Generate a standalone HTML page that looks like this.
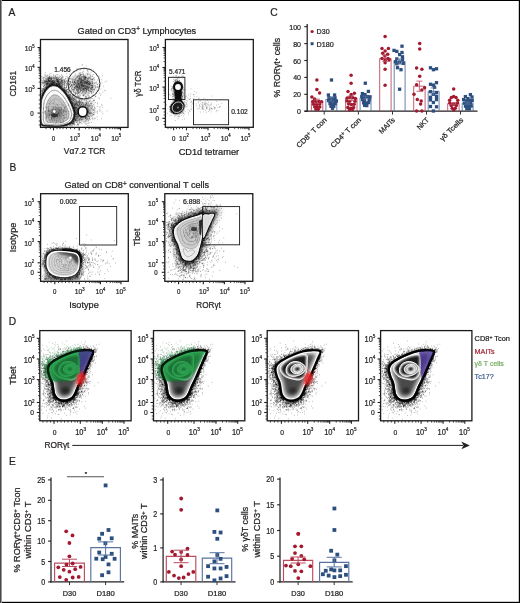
<!DOCTYPE html>
<html><head><meta charset="utf-8"><title>Figure</title>
<style>html,body{margin:0;padding:0;background:#fff;}svg{display:block;will-change:transform;}</style>
</head><body>
<svg width="520" height="603" viewBox="0 0 520 603" font-family='"Liberation Sans", sans-serif' fill="#231f20">
<rect x="0" y="0" width="520" height="603" fill="#fff"/>
<defs><filter id="bl1" x="-30%" y="-30%" width="160%" height="160%"><feGaussianBlur stdDeviation="1"/></filter><filter id="bl15" x="-30%" y="-30%" width="160%" height="160%"><feGaussianBlur stdDeviation="1.5"/></filter><filter id="bl05" x="-30%" y="-30%" width="160%" height="160%"><feGaussianBlur stdDeviation="0.6"/></filter><filter id="bl25" x="-50%" y="-50%" width="200%" height="200%"><feGaussianBlur stdDeviation="2.5"/></filter><filter id="bl18" x="-30%" y="-30%" width="160%" height="160%"><feGaussianBlur stdDeviation="1.8"/></filter><filter id="bl22" x="-30%" y="-30%" width="160%" height="160%"><feGaussianBlur stdDeviation="2.3"/></filter><g id="dpop"><path d="M32.5 404.6h.6m12-22.4h.6m-33.4-20.7h.6m42.5 1.4h.6m-8.4 5.2h.6m-5.6-17.5h.6m-12.7 48.8h.6m15.6-47.7h.6m-17 1.8h.6m.8-.1h.6m-4.1-2.4h.6m14.1-6.4h.6m5.8 19.6h.6m-4.6-15.6h.6m-19 4.8h.6m-19.6 13.8h.6m40.4-4.3h.6m-1.7 19.3h.6m-2.2-13.5h.6m-41.7 8.5h.6m30-26h.6m-21.1 45.6h.6m-1.7-35.3h.6m29.9 8.9h.6m-39.1-1.9h.6m36.1-17.8h.6m-28.5 56.3h.6m35.5-47h.6m-43.6 9.3h.6m33.5-19.3h.6m-30 48.3h.6m23.6-8.9h.6m-28.7 23.9h.6m23.5-15h.6m-2.6 4.7h.6m-26.4-48.3h.6m23.4-2.4h.6m13.9 30.6h.6m-7.4-32.7h.6m-29 46.6h.6m32.2-5.5h.6m-7.3 18.8h.6m17.9-58.3h.6m-1 1.2h.6m-23.6 46.6h.6m21.9-38.6h.6m-39.3 50.4h.6m-1.9-5.7h.6m-2.3-23.6h.6m12.4 20.5h.6m22.1-32.3h.6m-8.6-18.9h.6m2.1 29.3h.6m-31-2.3h.6m16.5 23.8h.6m2-48.9h.6m16-3.5h.6m-40.9 60.9h.6m-1.8-51.1h.6m10.3 41h.6m.8 3.8h.6m-7.8-7.4h.6m39-37.2h.6m-22.5-7.2h.6m20.1-1.2h.6m-38.1 28h.6m30.6-29.5h.6m-39.5 5.7h.6m28.5 44.2h.6m-27.9-27.1h.6m-3.3-13h.6m16.2 49.8h.6m-9.6-50.1h.6m26.3 27h.6m2.1-36.6h.6m-7.3 47.3h.6m-16 5.1h.6m15.5-7.3h.6m-32.2-15.4h.6m3.7-9.5h.6m26.5 32.2h.6m-28.9-18.1h.6m43.6-21.3h.6m-1.3-.1h.6m-5.9 10.9h.6m-33.5-11.8h.6m-3.5 8.8h.6m0 9.2h.6m6.7-24.3h.6m32.7 21.8h.6m-11.4 12.9h.6m-6.8-37.9h.6m10 25.2h.6m9.9-23.4h.6m-17.8 37.4h.6m-.2-40h.6m-15.4 53.4h.6m-13.5-4.6h.6m42.2-41.3h.6m-38.1 35.1h.6m-6-30.9h.6m3.3 41.6h.6m17.2-50.8h.6m18.6 6.8h.6m-43 27.7h.6m11.2 14.3h.6m2.3-3.2h.6m-15-19.6h.6m44.4-29.3h.6m-15.6 41.7h.6m-7.2 5h.6m10.4-50.2h.6m-8.2 51h.6m-26.2-8.3h.6m43.1-28.6h.6m0-10.1h.6m1.2 1.8h.6m-51.9 47h.6m4.4-30.4h.6m-2.4-12.6h.6m38.2 13h.6m-28.9-13.8h.6m-12.8 27.7h.6m3-25.7h.6m-.3 33.8h.6m44.4-39.7h.6m-46 19.1h.6m41-12.3h.6m-6.6 14.8h.6m6.7-16.6h.6m-38.1 38.7h.6m15.4-43.8h.6m-28.4 14.3h.6m7.9-3.7h.6m19.7-10.8h.6m-2.3 53h.6m22.8-52.1h.6m-40.4 38.8h.6m2.4 8.2h.6m36.9-48.9h.6m-21 1.4h.6m-14.2 54.2h.6m-8.1-47.1h.6m.2 29.4h.6m-4 4.2h.6m30.2-5.3h.6m-20.4-30.6h.6m28.7 4.9h.6m-38.1 34.3h.6m39-39.5h.6m-4.2 8.9h.6m-.5-18.7h.6m-.6 18.6h.6m-21.3 35.8h.6m22.4-43.9h.6m-10.2-8.4h.6m-37.6 13.7h.6m36.4-11.7h.6m6.4 16.9h.6m-7.8 15.8h.6m-31.4 15.9h.6m1 12.6h.6m27.8-19.2h.6m-35.5-17.6h.6m-1.3 24.5h.6m41.6-28h.6m7.4-24.2h.6m-42.9 53.8h.6m14.4 3.3h.6m18.3-55.1h.6m-18.4 52.3h.6m-19.9-16.2h.6m42.9-33.2h.6m-34.1 53.1h.6m7.9-4.7h.6m17.8-19.3h.6m-39.4-12.9h.6m-.1 25.7h.6m-5.7-28.9h.6m41.4 12.7h.6m-18.6-24.4h.6m-15.2 8.3h.6m13.9-7.1h.6m7.1-5.5h.6m-10.1 55.5h.6m-20-30.3h.6m5.7 18h.6m-3.9 8.1h.6m33.5-17.6h.6m-25.7-24.8h.6m-9.4 8.8h.6m6.8-11.7h.6m-8.1 50.1h.6m-3.7-29.5h.6m-2.3 2.9h.6m10.4-25.2h.6m-7.4 21.8h.6m24.5-24.8h.6m20.1 4.2h.6m-5 13.3h.6m-21.7 34.4h.6m-15.9-10.1h.6m38.6-34.3h.6m-18.2 38.3h.6m9.9-20.9h.6m-17.8 25h.6m-15.7-7h.6m28.5-44.4h.6m-29.1 44.8h.6m7.8-38.7h.6m13.3 41.2h.6m-15.5 13.2h.6m31-55h.6m-1.7 4.6h.6m-34.5-3.6h.6m-7.8 19.2h.6m20.9 24.8h.6m9.5-49.7h.6m-33.2 42.8h.6m7.4 4h.6m23.3-7.4h.6m-1.9-40.2h.6m-33.7 36.6h.6m22.9 12.9h.6m-27.8-33.8h.6m2.4 15.2h.6m9.8-20.5h.6m22.6 41h.6m2.4-10.1h.6m-35.4-24.7h.6m4.7-4.6h.6m-.6 47.6h.6m37-50.1h.6m-46.7 33.5h.6m36.8-1.1h.6m-36.8-15.8h.6m-.5-4.3h.6m-1 5.8h.6m1.8-17h.6m28.8 30.4h.6m-29.7-28.7h.6m9.4-6.3h.6m20.5 37.7h.6m-2.9-.5h.6m8.7-24.9h.6m-.2-1.5h.6m-3.3-16.6h.6m-4.4 36.9h.6m4.2-15.1h.6m-17.7 30h.6m15.2-30.6h.6m-37.8 31.4h.6m3-40.5h.6m32-11.1h.6m-34.3 11.1h.6m27.8 52.1h.6m-30.9-46.2h.6m.4 13.7h.6m37.9-6.7h.6m-36.7-18.1h.6m16.8-2.8h.6m-11.9 52.1h.6m3-2.8h.6m-2.3-45.9h.6m-5 .7h.6m3.4 42.3h.6m-1.7 1.9h.6m-2.1-5.5h.6m32.8-34.9h.6m6.8-10.5h.6m-4.2 5.6h.6m-45.8 21h.6m14 23.3h.6m-7.2 5.2h.6m20.3-13.2h.6m9.9-10.3h.6m-33.8 27.2h.6m4.2-6.6h.6m-8.9-26.1h.6m-2.7 11.4h.6m41.5-18h.6m-46.9-2.5h.6m18.2 32.2h.6m-5.9-1.6h.6m-1.9-3h.6m-5.2-14.5h.6m4.6 20h.6m14.8-50.3h.6m-17.9 39.8h.6m-11-23h.6m2.7-8h.6m14.4 46.4h.6m-19.2-33.9h.6m23.7-21.4h.6m2.2 51.9h.6m-4.5-2.4h.6m-11.2 3.7h.6m-10.3-45.3h.6m39.2 15.4h.6m-36.1 8h.6m5.7-23.5h.6m2.2-1.4h.6m2.5-8.4h.6m-13 12.3h.6m-5 27.5h.6m37.4-9.7h.6m-34.5-25.3h.6m23.2 41.4h.6m9-13.5h.6m-11.1 17.4h.6m11-48.8h.6m-11.3 52.2h.6m6.7-54.1h.6m1.9 39.9h.6m-2.5-37.2h.6m-9 1.3h.6m-6.7 48.2h.6m8.7-9.3h.6m-31.6 2.4h.6m12.6-38.3h.6m25.9 18.4h.6m-30.3 23.9h.6m13.2 2.1h.6m-4.6-44.8h.6m-13.6 1.8h.6m4 2h.6m21.6-8.6h.6m-30.9 15.4h.6m35.4 7.9h.6m-20.4 35.6h.6m-4-6.8h.6m29.5-51.8h.6m-46.6 18h.6m18.5 35.8h.6m4.2-3.8h.6m-11.5 3h.6m29.4-40.9h.6m-37.6 29.9h.6m-1.6 .2h.6m-4.7-38.1h.6m42.2 5.8h.6m-37.5 21.9h.6m-4.4-1.6h.6m13.4 20.7h.6m18.7-13.1h.6m-7.4 9.9h.6m-22.8-36.8h.6m-4.7 14.6h.6m46.8-24.1h.6m-48.9 15.5h.6m32.5 16.8h.6m-37.8 22.7h.6m3.6-41.2h.6m7.7-7h.6m-3.7 46.4h.6m-13-22.1h.6m33.5 8.6h.6m-1.2 3.5h.6m-4.4-42.6h.6m-5.9 50.2h.6m-18.1-11.3h.6m37.6-40.7h.6m-36.9 29.4h.6m33 1.9h.6m-30.4 11.9h.6m32.3-43h.6m-10.8 42.9h.6m7-44.6h.6m-25.7 8.7h.6m30.9 .4h.6m-35 1.2h.6m35.7-.4h.6m-18.2 34.5h.6m-22.9 15.6h.6m35.5-15.1h.6m-12.5-4.2h.6m-.3 .3h.6m-14.6-38.6h.6m-6.7 5h.6m7.5 .1h.6m-8.7 45.6h.6m-7.3-11.4h.6m8.6 8.7h.6m2.9 2.6h.6m-9.3-44.5h.6m-6.4 30.2h.6m25.1 11.6h.6m-22.2-11.4h.6m6.9 17h.6m-5.4-8.3h.6m35-46.5h.6m-35.5 49.7h.6m-10.5-10.8h.6m15.7-36.7h.6m-19.6 31.4h.6m10.8 13.3h.6m-8.1-20.6h.6m5.2 10.2h.6m30.1-13.4h.6m4.9-7.6h.6m-14.2 33.6h.6m-1.7-47.6h.6m-5 52.8h.6m-2.3-54.6h.6m-8 4.8h.6m-2.4 2.6h.6m5.7-2.5h.6m-10.7 49.7h.6m2-2.5h.6m23.2-24.6h.6m-23.7 25.8h.6m8.5-.9h.6m-17.8-10.4h.6m14.8 9.5h.6m-8.2-1.8h.6m-15.3-28.8h.6m11.7-16.7h.6m-4.3 39.9h.6m-7.9-5.3h.6m35.4-5.3h.6m-36.3 10.1h.6m6.2 4.7h.6m-2.8-17.6h.6m.4 2.7h.6m30.4 .1h.6m-.1 1.4h.6m-40-10.9h.6m46.1-12h.6m-6.8 33.9h.6m9.7-44.6h.6m-41.5 33.9h.6m4.7-29.8h.6m18.5 35.7h.6m-28.3 18.1h.6m5.5-49.6h.6m26.1 35.1h.6m-16.5 5.1h.6m27.9-47.8h.6m-16.5 49h.6m-25.4-12h.6m32-20.5h.6m6-21.6h.6m-47.2 26.1h.6m-3.5-1.1h.6m48.4-17.1h.6m-46.6 11.2h.6m1.1 28.5h.6m38.2-12h.6m-41.3 8.8h.6m1.5-18h.6m-3.5-8.2h.6m21.2-18.5h.6m24.2 5.5h.6m-52.2 46.1h.6m50.8-46.9h.6m-40.2 9.4h.6m-9.3 42.8h.6m36.7-53.8h.6m10.1 5.5h.6m-25.1-3.4h.6m-15.6 38.6h.6m33.2-10.8h.6m.3-14.3h.6m3.2-9.8h.6m-49.6 38.6h.6m32.6 .9h.6m13.2-45.3h.6m-6.5-1h.6m6.8 2.8h.6m-43.5 32.3h.6m4.2 6.4h.6m11.1 13.4h.6m-19.9-28.9h.6m24.6 40.2h.6m-19.7-19.8h.6m-2.4-4.3h.6m10.8-41.6h.6m24.7 1h.6m-4.9 27.1h.6m4.9-12.2h.6m-36.6 16.3h.6m-6.3-1.9h.6m30.3-28.9h.6m15 4.4h.6m-19.4 57.5h.6m-29.7-25.6h.6m8.9-.7h.6m38.5-32.5h.6m3.3 2.4h.6m-45 34.3h.6m-4.6-4.1h.6m31.1-35.5h.6m10.1-4.7h.6m-29.7 53.2h.6m-17.8-27.3h.6m19.3 30.1h.6m27.2-48.9h.6m.6-7.3h.6m-13.2 4.5h.6m3.4-1.4h.6m-9.2 42.3h.6m-23.7 1.5h.6m36.3-31.1h.6m-15.4-11.3h.6m10.3 38.1h.6m11.7-5.9h.6m-19-31.8h.6m3.4 24h.6m-3.5-24.2h.6m-29 31.7h.6m31.6-11.8h.6m-41.7 1.9h.6m39.3-22.3h.6m-27 48.8h.6m8.3-45.8h.6m-15.5 45.6h.6m27.3-4.9h.6m-1.7-44.2h.6m-15.4 53.2h.6m-10.9-16.5h.6m27.8-1.8h.6m-19.8 16.1h.6m25.9-35.2h.6m1-1.8h.6m-38.1 30.2h.6m9.9 11.1h.6m-17.9-36.1h.6m-.9 .1h.6m5.2 28.8h.6m28.1-12.9h.6m5.1-4.8h.6m3.6 3.5h.6m-15.5 11h.6m-17.2-36.1h.6m11.2 52.5h.6m5.8-60h.6m-30 16.6h.6m39.6-16.7h.6m6.5 6.3h.6m-36.4-2.4h.6m31.2-5.3h.6m-42.2 45.7h.6m-5.7-25.9h.6m38.7 10.9h.6m2.7-11.3h.6m-14.7 29.9h.6m-25.9-36.5h.6m5.8 32.7h.6m39.1-37.4h.6m-13.6 24h.6m-4.5 20.5h.6m8.2-52.8h.6m-32 10.3h.6m25.1 28.1h.6m-27.3-2.6h.6m-3-6.8h.6m42.5-23.3h.6m-40.1 44.2h.6m-7.7-26.5h.6m32.1-20.9h.6m2.7 33.5h.6m-24.3 14.8h.6m-10.9-34.7h.6m27.3 24.3h.6m-4.9-37.2h.6m18.5 7.6h.6m-7.1 15.4h.6m-15.4 23.4h.6m18-37.3h.6m5.6-12.1h.6m-47.3 25.8h.6m11-17h.6m-10.2 17h.6m.2-18.2h.6m38.9 2.7h.6m-38.6 2.9h.6m34.2 18.6h.6m1.2-17h.6m-39.8 14.5h.6m39.7-17.9h.6m-18.3 38.2h.6m-22.6-22.3h.6m-8.4 26.8h.6m2.4-36.8h.6m.1 6.8h.6m35.9-22.9h.6m-24.3 55.8h.6m15.3-54.5h.6m13.5 11.7h.6m-.1 1.4h.6m-37.8-2.3h.6m-6.8-5.7h.6m11.9 46.1h.6m17.2-52.5h.6m-11 53.3h.6m24.3-47h.6m-31.4 1.1h.6m-2.4-8.2h.6m-4.3 43.5h.6m38.1-38.5h.6m-10 20h.6m-33.4 8.5h.6m-1.5-25.2h.6m-6.2 8.4h.6m45.2-16.2h.6m-45.1 28.7h.6m40.3-30.1h.6m-10.8 39.5h.6m-4.8 10.3h.6m-25.4-18.6h.6m22.5 21.5h.6m-26.7-37.2h.6m4.7-1.5h.6m37.1 2.9h.6m-40.5 16.6h.6m18.5-29.8h.6m13.4 26.8h.6m8.5-12.2h.6m1.8-8.8h.6m-12.3-12.5h.6m6.3 17.3h.6m-13.6 33.6h.6m-18.1-38.1h.6m-10.2 27.8h.6m43.4-31.7h.6m-24.1-.8h.6m-14.1 3.3h.6m0 2h.6m-6.9 10h.6m-5.6-12.7h.6m47.2 2h.6m-39.9 32.4h.6m5.8-44.6h.6m-7 42.9h.6m-8.2-24.8h.6m32.5-13.9h.6m2 31.3h.6m-31.3-17.8h.6m-1.6 9.3h.6m14.6 31.5h.6m-15.9-44.4h.6m29 31.2h.6m-15.5 13.4h.6m-10.5-9h.6m-7.6-11.9h.6m39.6-19.2h.6m-39.4-.2h.6m1.7-5.7h.6m23.2 45.7h.6m-1.4-4.3h.6m-26.2-35.4h.6m30.2 23.4h.6m1-38h.6m9.7 14.9h.6m-2-.3h.6m-24.2 36.7h.6m-18.6-7.4h.6m5.3-1.3h.6m26.4 2.9h.6m-12.5 4.1h.6m-16.5-15.6h.6m37.6-25.2h.6m-2.4-9.1h.6m-39 51.7h.6m12.1 3h.6m15-53.4h.6m1.9 33.8h.6m7.2-23.3h.6m-1.9 4.2h.6m-.3-15h.6m1.6 9h.6m-2.8-9.5h.6m-37.6 49.5h.6m30.6-22h.6m-33.3-2.3h.6m2.8 11.3h.6m.7 3.2h.6m1.5 15.2h.6m14.2-6.1h.6m-2.1-47.1h.6m-21.6 11.7h.6m20.2 36.4h.6m-23.1-35.5h.6m2.7 21.3h.6m36.2-19.1h.6m-2.2 3.7h.6m-21.8 30.4h.6m-14.1-1.2h.6m5.5 3.1h.6m-4.6-41.2h.6m36.4-11.7h.6m-27.4 .8h.6m-3 51h.6m-8.5-43.6h.6m30.9 47.6h.6m2.6-37.3h.6m-39.1-17.9h.6m-.3 7h.6m12.4 42.4h.6m-14-15.9h.6m36.3-10.2h.6m-36.4 19.9h.6m17.2 8.5h.6m-10.4-.2h.6m28.2-55.9h.6m5.9 4.6h.6m-28.4 .4h.6m-1.5 3.3h.6m-15.7 1.8h.6m28.6 36.5h.6m-27.6-8.6h.6m26-36.7h.6m10.2 29.1h.6m-6.7-26.8h.6m1 22.8h.6m-20.6 32.2h.6m-6.3-4.7h.6m21.9-17.8h.6m-26-22.7h.6m-5.3 28.5h.6m43.4-39.5h.6m-24.2 55.4h.6m-2.9-6.3h.6m14.8-27.6h.6m-8.3 24.5h.6m-23.6-1.1h.6m15.7-39.8h.6m-4-.5h.6m19.4 12.6h.6m.7-16.3h.6m-10.5 43.9h.6m-31.1-.1h.6m1.1-36h.6m2.6-14.3h.6m28.8 37.7h.6m-29.2 12h.6m16.2-39.1h.6m-.8 44.7h.6m.1-47.6h.6m-17.3 3.4h.6m-.3-3.5h.6m15 50.5h.6m15.2-52h.6m-24 57.1h.6m17.6-11.9h.6m-11.4-41.4h.6m-.6-5.2h.6m-26.5 15.6h.6m9 21.2h.6m-5.8-21.5h.6m3.7 28.4h.6m-1.6 15.3h.6m31.3-18.3h.6m-31.6-26.4h.6m16.3-8.4h.6m21.3 3.1h.6m-31-.9h.6m-.7 45h.6m16.6-10.7h.6m13.7-31.8h.6m-43.6 1.1h.6m-1.4 10.8h.6m27.3 37.1h.6m11.6-59.1h.6m-35.6 10.2h.6m37.7-.6h.6m-50.5 3.4h.6m10.3 36.4h.6m3.7-41.5h.6m9.2-6.3h.6m11.6 33.3h.6m-14.6 17.8h.6m10.8-12h.6m-11.1 15.2h.6m10.2-10h.6m7.2-22.3h.6m2.1-3.4h.6m-39.3-1.9h.6m24.2-14.6h.6m2.2 39.5h.6m-18.9 6.7h.6m31.8-26.7h.6m-9.4 19h.6m10-33.8h.6m-1.3-6.9h.6m-12.5 1h.6m12.5 5.6h.6m-5.7-8.8h.6m-43.5 27.3h.6m49.2 10.9h.6m-46.8-11.2h.6m34.6 17.4h.6m-36.4-29.8h.6m20.9 36.8h.6m-10.3 3.7h.6m10.4-51h.6m20.7 6.2h.6m-3.5 8.8h.6m-11.1 27.9h.6m5.1-20h.6m-38.5-8.1h.6m38.5 29.5h.6m-33.3-1.7h.6m34.6-17.4h.6m-13.9 20.7h.6m7.5-6.1h.6m-6.7 3.5h.6m-21.1 1h.6m-6.6-35.7h.6m16.2 54.9h.6m28.7-59.1h.6m-44.3 32.2h.6m25.8 1.3h.6m6.6-21.6h.6m1.3-4.1h.6m-42.4 2.7h.6m41.2 1.5h.6m-.4-2.1h.6m-28.1 36.8h.6m17.2-13.5h.6m-34.2-2.2h.6m22.4 13h.6m-21.3-1.5h.6m3.8 3.3h.6m-6.5-30.9h.6m37.7 11h.6m-24.1 17.9h.6m24.3-58.5h.6m-38.2 17.8h.6m18.8-5.8h.6m14 22.4h.6m4.6-3.6h.6m-21.1 28.3h.6m-8.7-43.4h.6m26-8.6h.6m-16.2 50.3h.6m-13.2 12.4h.6m23.3-16.4h.6m-7.3 7.8h.6m-18.5-2.8h.6m25.7-11.1h.6m-8 11h.6m-5.6-46.6h.6m-27.7 24h.6m9.5 7h.6m26.2-34.1h.6m-3.7 38.6h.6m8.5-15.9h.6m-38 16.8h.6m34.3-12.5h.6m-36.5 40.8h.6m33.8-31.7h.6m7.6-25.7h.6m-22.1 40.9h.6m18.2-54.6h.6m-16.8 54.2h.6m-25.4-20.4h.6m38.6-31.8h.6m-17.5-1.1h.6m18 2.8h.6m4.6 8.6h.6m-12.9 33.6h.6m4.2-16h.6m-25.2 26.6h.6m-7.4-16.1h.6m19.6 21.2h.6m5.3-12.6h.6m-7.3-.1h.6m-25.9-17.8h.6m13.1 22.8h.6m31.3-49.4h.6m-27.8 49h.6m-7.7 .2h.6m-7.8-38.1h.6m23.7-11.8h.6m-4.5 48.3h.6m19.5-34.7h.6m-45.5-14.1h.6m3.9 39.7h.6m43.6-39.7h.6m-19.9 47h.6m11.1-32.2h.6m-24.9-13.2h.6m28.2 5h.6m-20.9 41.7h.6m-20-13.8h.6m8.4-30.6h.6m11.2 54.3h.6m-26-26h.6m24.4 17.7h.6m-14.6 .1h.6m-10.7-12.5h.6m8.6 22.1h.6m25.8-23h.6m4.1-23.9h.6m-44.8 7.2h.6m-.3 5.3h.6m38.8-4.6h.6m-28.3 35.1h.6m-11.9-20h.6m38.6-18.5h.6m1.8 .5h.6m-41 29.2h.6m39.4-29.3h.6m-22.2-14.2h.6m12.8-2.8h.6m-12.8 48.6h.6m-14.8-8.9h.6m30.8-41.2h.6m2.8 22.7h.6m-8 8.3h.6m8.9-20.5h.6m-29.5 40.8h.6m-2.3 6.2h.6m7.9-56.8h.6m23.4 10.4h.6m-3.8-10.8h.6m-7.2 28.2h.6m-27.5 21.4h.6m38-46.4h.6m3.5-4.4h.6m-45.9 39.6h.6m1.6-26.8h.6m-11.6 31.8h.6m18.2 6.8h.6m19.4-17.6h.6m-25.5-23.8h.6m34.3 16.4h.6m-37.3 23h.6m37.8-37.9h.6m-40.5 37.3h.6m3.4-49.8h.6m21.9 37.6h.6m-18.3 16.6h.6m-2.9-2.1h.6m-11.9-9.7h.6m-.7 3.3h.6m22.9 15.5h.6m.7-56.1h.6m-.1 42.5h.6m-12 10.4h.6m3.5-50.9h.6m18.7 15.4h.6m-7 13.2h.6m-4.2-32.5h.6m-8.1 51.1h.6m3.8-50.5h.6m.5 44.2h.6m10.2-24.6h.6m-24.4-16.8h.6m32.5 6.1h.6m-14.7 28.4h.6m-32.3-22.8h.6m-6.9 2.8h.6m7 12.2h.6m30.9-31h.6m-22.7 49.3h.6m12.4 .4h.6m-.8 .3h.6m-20-5.2h.6m-5.9-30.6h.6m26.2 36.6h.6m-22.2 2h.6m37.4-36.2h.6m-15.4 24.8h.6m-19.9 6.2h.6m-.1 9h.6m4-6.2h.6m23.5-27.1h.6m-25.7 36.1h.6m6.1-54.3h.6m24.7-2.9h.6m-8.7 21.4h.6m-43.8-22.4h.6m3.7 35.8h.6m.8-26.9h.6m36.1-11.2h.6m-7.9 44.8h.6m-.2-45.9h.6m-34.1 52.9h.6m47.6-43.7h.6m-14.3-6.7h.6m-31.4 14.4h.6m33.5-14h.6m-5.6 .7h.6m-23.9 6h.6m32.9 9.8h.6m-41.5-1.4h.6m8.7 33.8h.6m-6.4-26.5h.6m9.5-16.1h.6m21.3-6.9h.6m-23 51.9h.6m-5-6.8h.6m35.9-33.3h.6m-42.3 22.5h.6m-2.3-17.5h.6m34.9 10.9h.6m-35.5-23h.6m4.3 40.5h.6m22.2-42.8h.6m15.2-2.3h.6m-27.9 50.8h.6m4.4 3.8h.6m-15.7-9.9h.6m35.7-34.6h.6m-3.8-7.8h.6m6.9 0h.6m-49.2 37.5h.6m45-41h.6m-43.9 50.7h.6m17.7 3.3h.6m-15.3-12.4h.6m24.8 2.3h.6m-30.1-10.2h.6m0-20.8h.6m44.1-11.1h.6m-8.6 27.3h.6m-36.9-2h.6m-.7-9.3h.6m-6.6 39.8h.6m23-4h.6m6.2-3.6h.6m15.8-25.8h.6m-29.5 27.5h.6m-.3-42.5h.6m18.8-7.5h.6m-13.7 52h.6m5.2-4.5h.6m-32.4-24.5h.6m1.7 20.6h.6m9-.9h.6m-9.3-21.1h.6m39.5-28h.6m-4.9 39.7h.6m6-14.9h.6m-36.8 12.1h.6m4.5 18.1h.6m31.3-32.7h.6m-17.1 36h.6m-21-16.5h.6m1.5 11.8h.6m29.4-23h.6m-34.5 4.9h.6m21.4-29.8h.6m17 18.9h.6m-1.9-20.9h.6m-6.5 2.5h.6m-14.7 3.2h.6m15.1 39.4h.6m5.9-31h.6m-18.9-12.8h.6m16.1 18.4h.6m-19.1 31.2h.6m18.7-47.4h.6m-24.1 4.3h.6m23.7 8.6h.6m-5.5 21.2h.6m-6 9.7h.6m-10.7-43.6h.6m-17.5 8.8h.6m-8.4 6.8h.6m40 24h.6m-36.8-15.4h.6m35.5-27.2h.6m2.6 29h.6m-35.6 13.4h.6m37-40h.6m-31 5.4h.6m4.4 44h.6m2.3 2.5h.6m7.4-5.1h.6m-5.7 1.4h.6m12.9-21.6h.6m-36.9-13h.6m-1.5 4.5h.6m28.4 24h.6m12.8-42.8h.6m-44.3 9.2h.6m29.4 35.8h.6m-29.6-27.7h.6m36.2 16.1h.6m-22.3-29.1h.6m28.8-6.4h.6m-1.6 2.2h.6m-4.6 28.7h.6m2.3-17.2h.6m-16.5-10.6h.6m-14.8 52h.6m9.7-1.5h.6m9.6-13.3h.6m-36.5-6.8h.6m5.5 10.1h.6m40.8-34.8h.6m-25.7-2.1h.6m17.7 20.8h.6m-36-13.9h.6m41.9 4.3h.6m-49.1 9.6h.6m26.7-23.4h.6m18.8 17.6h.6m-12.5 23.8h.6m-10.6 5.7h.6m12.2-13.7h.6m-33.3-1.3h.6m43.8-28.5h.6m-32.1-1.1h.6m-14.8 22.1h.6m-.7-2.7h.6m1.1-12.4h.6m26 31.3h.6m6.2-12.7h.6m-18.9-29h.6m27.8 .7h.6m-33.2 5.5h.6m18.4 46.8h.6m12.8-48.2h.6m-35.9 43.8h.6m18.2-5.2h.6m1.7-4.8h.6m-33.3-16.8h.6m33.5 16.6h.6m-32.2-20.8h.6m5.9 26.7h.6m-6.3-17.3h.6m34.1 3.7h.6m-25.5-22.6h.6m15.4-9.7h.6m8.7 25.3h.6m9.3-22.4h.6m-7.1 28.8h.6m-40 5.5h.6m37.2-36h.6m-40.8 17.1h.6m28.9 31.8h.6m1.8-10.8h.6m13.5-31.1h.6m-40.6 26.8h.6m14.7 18.3h.6m12.6-52.5h.6m12.9 7.6h.6m-42.5 39.8h.6m31.9-51.1h.6m-35 16.6h.6m26.8 31.2h.6m-3.8-43.8h.6m2.4 53.8h.6m13.7-46.5h.6m-3.4 12h.6m-4.3-19.9h.6m-23.1 6.1h.6m-10.2-.5h.6m25.2 42.1h.6m-17.7 8.7h.6m6-56.5h.6m-12 10.5h.6m1-8.2h.6m25.7 23.4h.6m-11.2 23.7h.6m-8.2-45.6h.6m26.6-.6h.6m-24.4 46h.6m14.1-23.8h.6m8.3-15.4h.6m-43.1 17.1h.6m16.2 22.1h.6m-.1 7.9h.6m18.9-37.5h.6m-2.1 38.5h.6m-36-7.8h.6m-1.7-22.5h.6m31 8.3h.6m-31.6-21.4h.6m-2.8 26.5h.6m15.4 14.3h.6m-11.1-13.6h.6m-4.1-27.4h.6m32.8 13.5h.6m-39.8 17.1h.6m42.8-47.1h.6m-34.5 13.6h.6m7.9 43.1h.6m.5-50.6h.6m20.8-4.8h.6m.4-3.5h.6m-30.9 46.6h.6m37.5-36.7h.6m-41.4 48.8h.6m-8.2-25.1h.6m8.4 7.6h.6m28-36.2h.6m-37.5 19.3h.6m3.8 30.1h.6m38.6-39.1h.6m-39.1 34.7h.6m9.2-47.4h.6m-18.7 61.3h.6m6-45.8h.6m32.7 17.3h.6m-1.6-30.8h.6m-25 4.6h.6m32.6 8.7h.6m-13.8 23.4h.6m9.3-36.3h.6m-8.6 42.3h.6m-27.9 14.5h.6m31.6-56.8h.6m-26.9 6.2h.6m-.2-.3h.6m25.8 22.9h.6m4.5-15.2h.6m2.2-5.7h.6m-44.5 8.1h.6m3.2 17.7h.6m-3-3.1h.6m25 12.6h.6m-29.5-20h.6m12.9 27.3h.6m9.7 .4h.6m.6-2.8h.6m20-39.7h.6m-5.9 10.6h.6m-25.4 33.8h.6m28.5-43.6h.6m-6.9 22h.6m-23.4-25.8h.6m27.1 4.7h.6m-1.6-10.9h.6m-31.1 48.2h.6m13.9-45h.6m16.3 6.9h.6m-47.4 1.8h.6m40.7 20.6h.6m-13.3 15.7h.6m-22.8-12.5h.6m-.3-1.8h.6m44-29.9h.6m-19.2 50.4h.6m11.4-59h.6m-5.4 47.5h.6m-35.1-22.9h.6m40.6 22.5h.6m-9.7-41.4h.6m-32.8 19.1h.6m31 17.3h.6m5.2-12.7h.6m-21.6-19.3h.6m-15.7 6.6h.6m32.6-12.5h.6m-13.6 3.7h.6m23.6-2.7h.6m-45.3 9.3h.6m-2.6 26.6h.6m2.5-18.4h.6m42-14.4h.6m-39.7 47.4h.6m33.6-33h.6m-44.7-19.2h.6m12 51.7h.6m29-28.2h.6m-33-10.9h.6m-5.4 7.6h.6m25.4-18.1h.6m18.4 9.9h.6m-45.7 12.1h.6m27.2 17.6h.6m-32-25.1h.6m37.8 9.5h.6m9.9-18.4h.6m-50.8 22.1h.6m31.7 14.7h.6m-29-27.4h.6m1.2-2h.6m-2.2 28.3h.6m4.2-30.8h.6m33.7-11.5h.6m-31.2 46.4h.6m29.4-45.5h.6m-16 58.8h.6m-21.7-25.2h.6m-3-10.3h.6m3.1 5.7h.6m5.5-20.7h.6m-6.7 24.9h.6m31.6 2.8h.6m-31.8-5.1h.6m27.4-31.9h.6m-28.2 49.6h.6m11.4 2.3h.6m20.8-23.2h.6m-39.7 26.2h.6m10.7-5.8h.6m32.3-33.1h.6m-13.8 27.6h.6m-17.5-37h.6m17.3 29.9h.6m6.5-15.3h.6m5.6-15h.6m.5-4.3h.6m-40.6 49.1h.6m-5.9-34.3h.6m6.1 30.3h.6m-3.7-5.9h.6m-7.7 3.1h.6m34.7-43h.6m-9 2.4h.6m15.6 16.1h.6m-43.5 2.9h.6m45.9-9.2h.6m-46.9 26.8h.6m37.1-40.1h.6m3.2 32.3h.6m-21-33.2h.6m12.4 38.2h.6m-6.8-36.1h.6m-3.8 2.6h.6m-26 11.2h.6m9.9 34h.6m40.3-47h.6m-7.3-1h.6m-27.6 52.4h.6m-10.7-19.7h.6m22 11.8h.6m-3.7 1.7h.6m10.1-47h.6m-32.2 47.2h.6m38.6-8.1h.6m-43.6-11.4h.6m18.2 26h.6m18.5-30.6h.6m-36.5 16.7h.6m39.3-25.5h.6m-9.5 35.5h.6m-27.3-40h.6m0-3.9h.6m6 2.4h.6m22.9 16h.6m-32.9-9.6h.6m-5.5 4.9h.6m1.4 35.5h.6m43.4-48.4h.6m-36.5 3h.6m-8.7 9.6h.6m10.9 35h.6m9.1-2.8h.6m-14.9-7.7h.6m-5.1-15.9h.6m30.2 3.3h.6m-33.8-15.5h.6m25.9 34.1h.6m-21.5-37.9h.6m-7.2 20.4h.6m35.7-.8h.6m-4.7-31.6h.6m-3.3 49.9h.6m-15.4 9.8h.6m17.9-59.5h.6m-36.9 26.8h.6m2 7.9h.6m46.8-32.1h.6m-13.3 39.1h.6m-21.4 12.4h.6m15.1-56h.6m-34.1 13h.6m25.7-7.8h.6m18.6 11.8h.6m-34.1-6.2h.6m28.8 15h.6m10.9-21.6h.6m-45.1 30.5h.6m23.9-32.6h.6m11 17.8h.6m-6.6 9.6h.6m-8.8 24.4h.6m12.4-20.4h.6m-12.6-33.6h.6m-1 54.7h.6m17.2-41.9h.6m-28.9 39.6h.6m-2.7-43.7h.6m-1.8 .7h.6m-6.3 37.7h.6m-8.6 8.4h.6m23.9-3.5h.6m-20.5 1.4h.6m37.3-38.7h.6m-39.5 0h.6m44.6-4.1h.6m-14.6 28h.6m-10.6-35.1h.6m25.6-6.9h.6m-19.7 55.8h.6m5.5-53.2h.6m5.6 28.4h.6m-10.4-24.2h.6m-23 5.8h.6m-6.3 29.1h.6m-5.1-14.3h.6m-6.9-8.8h.6m22.4-9.2h.6m10.2-4.4h.6m-30.2 46.9h.6m26.7 .1h.6m4.2-.3h.6m-29 2.6h.6m.8-15.6h.6m30.5 3h.6m-35-4.6h.6m15.3 27.9h.6m17.1-25.8h.6m1.1-7.9h.6m3.1-26h.6m-9.4 .7h.6m13.9 7.2h.6m-45.4 26.3h.6m6.4 9.5h.6m9.1 10.9h.6m18-54.7h.6m3.3 17.7h.6m5.1-16.9h.6m-13.8-2.9h.6m-28.4 34.8h.6m13.3 17.1h.6m-10.7-42.8h.6m34.5 4.8h.6m-26 42.4h.6m-17.2-26.2h.6m20 25.5h.6m17.6-36.7h.6m-45.8 10.1h.6m8.1 22.4h.6m-3.2-4.4h.6m36.6-18.3h.6m-10.9 17.7h.6m-15.6-37.4h.6m11.2 43.9h.6m4.5 .4h.6m-8.9-48.6h.6m-17.7 50h.6m7.9-52.7h.6m7.3 53.3h.6m25.7-53.1h.6m-52.6 13.8h.6m36.1 22.7h.6m3.6-9.3h.6m-27.6 20.5h.6m-1.7-40.8h.6m31.6 11.3h.6m-19.7 30.4h.6m-20.6-28.6h.6m9 36.8h.6m34.7-54.7h.6m-36.7 4.3h.6m-8.3 27.6h.6m29.2 .7h.6m-2.2 8.9h.6m-23.7-5.9h.6m5.4 19.3h.6m32.7-55.8h.6m-18.4 40.2h.6m3.1-41.2h.6m-29.4 13.3h.6m11.9 42.9h.6m18.5-4.8h.6m-25-43.7h.6m16.4-6.7h.6m-26.4 49.3h.6m-7.8-32.8h.6m35.8-17.5h.6m-13.2 50.5h.6m-19.1-32.1h.6m5.8-8.2h.6m-5.4 15.4h.6m11.6 24.5h.6m-12.3-2.1h.6m0-32.2h.6m41.7-8.4h.6m-12.8-9.4h.6m2 29.5h.6m-33.8-11.6h.6m-.5 32.1h.6m-1.2-30.2h.6m1.3 16.5h.6m15.8 22.5h.6m10.3-13.5h.6m-.2-3.9h.6m-35.4-25h.6m7.2 30.1h.6m36.8-25.8h.6m-31.5-10.6h.6m9.6 43.2h.6m15.3-55.2h.6m-8.3 48.9h.6m-20.1 3.9h.6m-2 3.7h.6m2.1 4h.6m-11.2-17.5h.6m14.8-34.3h.6m-10.3 32.2h.6m22.1-36.6h.6m-28.7 49.9h.6m26.1 0h.6m-8.2 .8h.6m8.9-9.9h.6m13.5-29.2h.6m-7.7 12.1h.6m-36.8-9.1h.6m42.3-2.7h.6m-1.8 13.1h.6m-7 13.8h.6m5-15h.6m-44.4-6h.6m26.1 30.5h.6m-18.9-37.2h.6m-1.2 32.1h.6m-1.5-5.7h.6m5.3-33.5h.6m13.2-4.6h.6m13 35.3h.6m-18.8 20.8h.6m7-4.7h.6m-28.3-27h.6m33.1 8.4h.6m-35.8 2.1h.6m47.9-34.1h.6m-28.1 51.2h.6m11.5-51.5h.6m-32.2 13.9h.6m17.6-9.2h.6m-5.8 .7h.6m14.5-6.5h.6m20.9-1.7h.6m-5.8 12.9h.6m-44.4 16.6h.6m19.3-22.9h.6m9.9 39.5h.6m-19.2-37.1h.6m27.3 12.6h.6m-5.2 22.6h.6m-11.2 9.6h.6m10-3.4h.6m-18.5 2.3h.6m-12.5 .7h.6m33.1-29.3h.6m-9.7-23.4h.6m7 25h.6m-38.8 9.4h.6m1.4 14.5h.6m12.5-43h.6m30.5-3.8h.6m-19.6 46.4h.6m10.4-18.4h.6m-11.3-28h.6m-24.7 27.3h.6m34-1.1h.6m2.4-7.3h.6m-3.5-20h.6m-22.5 51.3h.6m23.8-30.2h.6m-7.3-22.7h.6m8.1 13.8h.6m-41.3 4.8h.6m32.4 13.9h.6m11.5-28.3h.6m-44.2 22.1h.6m38.7-9.2h.6m-38.7 12.5h.6m38.1-17h.6m-1.7 1.8h.6m-16.5 38.7h.6m22.6-48.7h.6m-8.7 16.1h.6m-.9 12.5h.6m-14.3 18.1h.6m-10.6-44.1h.6m8.1 44.1h.6m16.9-37.7h.6m-9.4-11.7h.6m-17.7 53h.6m25.9-43.9h.6m-27 43.9h.6m-16.1-37h.6m3.7 22.9h.6m-7.8-20.5h.6m19.1 33.6h.6m6.2-51.9h.6m-24.4 16.7h.6m21.3 35.9h.6m-13.4 4.4h.6m10-4.4h.6m-7.5 .1h.6m19.3-52.4h.6m-13.4 53.2h.6m-21.5-36.1h.6m18.6-14.7h.6m18 24h.6m-20.8-22h.6m6.6-3.4h.6m-22.7 49.4h.6m26-51.6h.6m-27 29.7h.6m3.7-18.5h.6m39.1-7.7h.6m-40.8 40.6h.6m-7.9-19.6h.6m-1.5 12h.6m2.3 3.9h.6m27.6 3.2h.6m-25.5-11.1h.6m.9 9.2h.6m22.4 4.6h.6m7.2-19.4h.6m-2.5 5.4h.6m-34.5 2.9h.6m5.6-36.2h.6m6.6 54.2h.6m-4.7-4h.6m-13.5-29.8h.6m44.7-5h.6m-12.5 24.4h.6m-36.5-16.8h.6m7.1 32.4h.6m32.5-25.7h.6m-33 31.5h.6m30.2-57.5h.6m-23.8-7.1h.6m1.6 55.9h.6m20-11.2h.6m-28.2 3.3h.6m-6.6-33.4h.6m18.6 43.7h.6m-3.9 1.6h.6m27.9-42.4h.6m-17.1-13.7h.6m-29.1 18.1h.6m20.8-12.8h.6m-21.7 17.8h.6m.7 29.8h.6m-2.8-34.9h.6m-.2 1.3h.6m27.4 27.3h.6m18.8-34.3h.6m-17.2 27h.6m12.6-6.1h.6m-1.1-32.6h.6m-41.7 13.5h.6m30.6 20h.6m-9.1 17h.6m12.9-7.6h.6m-37-18.9h.6m6.4 21.6h.6m-11.6-28.9h.6m46-1.4h.6m-42.5 1.4h.6m34.3 6.5h.6m-11.5 30.2h.6m-1.9-50.1h.6m-25.8 17h.6m4.7 23.6h.6m24.1-.8h.6m6.1-16.5h.6m-30.7 31.2h.6m18.2-8.8h.6m-18.8-3.9h.6m3.2-38.8h.6m-17.1 9h.6m.6 1h.6m31.6 32.3h.6m9.8-24.9h.6m-1.5 1.9h.6m-14.7 30.6h.6m-.2-53.7h.6m13.6 23.3h.6m-36.7 2.8h.6m38.5-10.4h.6m-23.8 46h.6m22.7-44.2h.6m-5.1 6.2h.6m7.7-19.9h.6m-5.2 17h.6m-40.9 30.5h.6m35.2-24h.6m6.1-13.3h.6m-28-8.8h.6m9.1-3.3h.6m3.5 41.6h.6m-19.8 3.4h.6m-4.4-3h.6m27.6-16.4h.6m12.4-17h.6m-43.9 2.9h.6m39.9-13.4h.6m-29 .4h.6m18 45.3h.6m-2.6-48.1h.6m-34.8 18.5h.6m40.9 18.2h.6m-16.3 16.2h.6m13.4-22.4h.6m-32.9 13.8h.6m36.6-45h.6m-3.7 34.6h.6m-26-25.2h.6m-14.9 12.7h.6m-2.2 18.6h.6m39.3-17.6h.6m-25.2-22.3h.6m-17.6 4.9h.6m11.2 47.2h.6m18.7-4.9h.6m-.3-.9h.6m17.3-40.6h.6m-29.3 45.8h.6m14-14.1h.6m-17.1 15.5h.6m-7.9 1.1h.6m21.1 3.3h.6m-25.1-23.8h.6m7.7-28.7h.6m17-2.1h.6m-30.1 19.7h.6m-.4-5.8h.6m24-12.9h.6m-32.6 53.3h.6m38.2-55.5h.6m-23.1 5.4h.6m8.5-2.3h.6m12.5-4h.6m-26 48.6h.6m-13.1-27.3h.6m31.4 36.3h.6m-11.5-.2h.6m16.2-59.5h.6m16.4 2.6h.6m-12.1-3.2h.6m-39.6 20.3h.6m1.6 37.2h.6m43.2-51.6h.6m-3.2 14.7h.6m2.7-16.7h.6m-43.9 35h.6m25.4 8.7h.6m14.4-29.7h.6m-5.9 6.7h.6m-5.5 24.5h.6m13.4-39.4h.6m-1.9-4.9h.6m-17.2-.1h.6m11.1 11.9h.6m-11.5-11.7h.6m21.1-7.7h.6m-51.5 24.5h.6m3.6 25.7h.6m22.3 4.2h.6m-6.9 1.9h.6m-8.1 18.4h.6m1.5-14.8h.6m18.9-16.7h.6m-34.8 8.1h.6m-6.8-21.3h.6m41.7-24.9h.6m-1.1 42.3h.6m.8-17.6h.6m-16.1-19.9h.6m6.9-10h.6m-30 17.8h.6m-2.3 .6h.6m38.6 6.4h.6m-35.8 30.3h.6m19.6-1.3h.6m-6.8 8.3h.6m14.1-5.5h.6m-35.3-26.1h.6m6.4 9.9h.6m32 6.2h.6m-20.7 10.3h.6m18-50.8h.6m-17.7 2.6h.6m9.1 43h.6m-29.1-49h.6m43.2 13.5h.6m-44 24.5h.6m40.8-21.3h.6m-28.6 42.7h.6m-13.8-36.7h.6m26.9 23.3h.6m17.1-41.9h.6m-49.4 17.3h.6m42.5-1.1h.6m2.5-3.4h.6m-12.9 22.8h.6m-2.5 6.8h.6m-3-40.8h.6m-19 39.6h.6m16.5-39.8h.6m-1.8 45.3h.6m-26.8-19h.6m28.6 24.7h.6m-17.6 1.3h.6m-4.6-11.7h.6m.2 4.3h.6m19.9-2.3h.6m18.1-41.3h.6m-16.6-2.7h.6m6.5-2.7h.6m-6.3 39.7h.6m14-35.2h.6m-27.5 1.4h.6m2.9-.7h.6m-17.1 47.4h.6m1.1-1.7h.6m39.4-49.4h.6m-1.8 2h.6m-9.1 28.3h.6m-7.8 9.8h.6m-23.2 24h.6m21.3-22.7h.6m-29.8-28.1h.6m20.4-9.3h.6m8.3-3.9h.6m-30.2 51.5h.6m28.2-7.3h.6m.4 1.6h.6m6.2-23.5h.6m-35.4 23.9h.6m-5.2-28.7h.6m20.8 38h.6m-21.1-27.1h.6m34.1 14.6h.6m7.8-43h.6m-35.3 47.5h.6m31.2-47.4h.6m-4.5-1.1h.6m1.1 24.7h.6m-33.7 9h.6m-3.6-10.8h.6m20.4 32.9h.6m7.9-54.7h.6m-1.2 37.5h.6m-11.5-46.4h.6m-14.1 50.8h.6m24.6-2.7h.6m-28.6-36.9h.6m-5.2 22h.6m6.5 11.5h.6m37.9-37.4h.6m-38.6 52h.6m37.3-40.2h.6m-45 12h.6m46.4-22.2h.6m-14.3 33.3h.6m-14-35.1h.6m-13.9 52.8h.6m-.4-4.5h.6m22.1 .6h.6m13.6-35.6h.6m-10.5 20.7h.6m-29.7 10.6h.6m4.2-33.1h.6m9.2-3.5h.6m2.7 45.9h.6m16.3-31.3h.6m-4.2 6.7h.6m11.3-27.5h.6m-16.5 44.7h.6m-30.8-26h.6m42.1-13.4h.6m-3.4 8.4h.6m-38.6 23.6h.6m-2.1-20.5h.6m-4.4-9.5h.6m31.5 32.7h.6m-2-40.4h.6m-27.2 16.4h.6m8.3 32h.6m14.3 3.9h.6m-22.5-6.8h.6m37.6-26.8h.6m-35.4 23.1h.6m22.5-.2h.6m4.4-10.1h.6m3.6-12.8h.6m-36.9 11.7h.6m21.4 18.6h.6m4.6-47.3h.6m-29.8 21.6h.6m6.5-14.2h.6m-9.9 7.9h.6m28.7 25.4h.6m-27.6-6.8h.6m4.1 20.2h.6m24.9-15.6h.6m-37-12.4h.6m33.5 18.1h.6m1-3h.6m-18.8-34.9h.6m-2.9-.3h.6m29.9-6.1h.6m-37.4 59.3h.6m39.7-51.2h.6m-35.8 39.1h.6m-1.8-2.5h.6m37.1-39.9h.6m.9-5.2h.6m-46.7 12h.6m6.5-1.3h.6m-14.7-4.9h.6m38.4-7.8h.6m7.2 16.3h.6m-19.9 36.1h.6m-10.6 8.7h.6m23.6-59.7h.6m-15.1 49.8h.6m5.3-5.4h.6m4.4-43.7h.6m-17 54.3h.6m18.7-27.3h.6m2.2-7.6h.6m-36.4-3.5h.6m30.1 19.1h.6m-11.8 14.1h.6m24-45h.6m-2.3-.1h.6m-7.8 16h.6m-34.8-9.2h.6m.2-1.8h.6m20.3 40.8h.6m-24.9-30.3h.6m45.3-16.2h.6m-3.5 4.3h.6m-32.7 40.6h.6m25.5-24.2h.6m-17.5 26.3h.6m-21.5-35.5h.6m19.6 34.9h.6m-15.1-12.1h.6m34.2-16.5h.6m-27.9-14h.6m17.6 29.8h.6m-24.6 7.4h.6m12.3-44h.6m6.1 46.3h.6m-10.7 3h.6m-21-25.5h.6m7.4 16.3h.6m15.8 9.4h.6m-17.2-38.8h.6m-1.1 3.3h.6m36.8 .8h.6m-35.4 16.8h.6m1.2 15h.6m26.8-47.2h.6m-.9 29.4h.6m-20.2 19.8h.6m2.4 3.4h.6m-3.2-2.6h.6m11.7-49.6h.6m17.3 1.8h.6m-34.7 5.3h.6m10 41.5h.6m21-42.7h.6m-28.7-.2h.6m2.7 46.9h.6m-.4-.9h.6m-18.9-36.8h.6m6.9-6.6h.6m-10.6 10.8h.6m33.6-18.5h.6m12.9-1.2h.6m-26.6 54h.6m-16.6-19.1h.6m-2.3-18h.6m-1 6.6h.6m3.1 20h.6m-3.9-17.1h.6m7.2 21.4h.6m27.6-30.5h.6m-7 14.4h.6m-6.9 15.1h.6m-22.1-14.7h.6m22.4 12.9h.6m8.7-45.9h.6m-.4 1.5h.6m-35.8 13.4h.6m21.8 34.3h.6m.2-1.6h.6m7.6-15h.6m3.9-32.3h.6m-8.4 39.8h.6m-15.5 11.3h.6m29.9-48.5h.6m-10-2.3h.6m-24.3 8.3h.6m-11.7 17.7h.6m4.2 12.4h.6m4.2 12.1h.6m5.9-45.6h.6m3.7-.8h.6m-18.7 39.5h.6m23 4.9h.6m-26.1-26.2h.6m23.7 24.4h.6m10.6-20.7h.6m-24.4 25.2h.6m28.9-44.2h.6m-9.1 18.4h.6m-4.5 12.5h.6m-21.5-28.8h.6m28.4 10.6h.6m-23.3 30.7h.6m-15.5-32.5h.6m13.6 33.3h.6m15-13.6h.6m.3-36.5h.6m13.2 .9h.6m-41.3 29.6h.6m30.9-31.1h.6m-37.9 26.6h.6m30.5-27.3h.6m-32.5 22.9h.6m6.3-12.1h.6m13.4-6.4h.6m-.3 47.2h.6m-14-39.7h.6m13.8-9.9h.6m4.7 46.5h.6m-4.3 1.8h.6m19.7-50.6h.6m-42 25.4h.6m34.4-24.2h.6m-21.2 50.1h.6m29-49.2h.6m-7 17.8h.6m-1.4 2.8h.6m-36.9 .6h.6m42.5-13.8h.6m-8.7 17.4h.6m-17.6 25.1h.6m-5.4-44.2h.6m21.1-6.5h.6m-10.3 46h.6m9.8-25h.6m-28.6 28.4h.6m-3-6.4h.6m-3.8-17.7h.6m-.5 1.7h.6m26.3 8.8h.6m5.6-10.3h.6m8.2-23.7h.6m-28.3 47.5h.6m8.9-1.1h.6m-28.7-19.1h.6m14.2 20.7h.6m31.4-47.1h.6m-15.3 34.9h.6m3.4-10.2h.6m-9.3 17.9h.6m-3.2-42.8h.6m14.3 17.9h.6m-36-6.7h.6m35.9 4.4h.6m-1.1-18.3h.6m-39 14.7h.6m-1.4 20.2h.6m5.3 9.4h.6m-3.5-19.2h.6m-2.2-11.2h.6m32.4 13.5h.6m-4.8 7.8h.6m6.7-7.2h.6m-35.9 1.2h.6m26.8-28.7h.6m-30.3 17.2h.6m.5-9.3h.6m-.8 15.8h.6m33.3 5.6h.6m-31 .5h.6m17.9-28.1h.6m-1.6 49.1h.6m23-49.1h.6m-4.1 8h.6m-15.3 34.6h.6m-9.9 5.3h.6m-3-.5h.6m28.1-50.1h.6m-40.1 35.7h.6m.1-2.5h.6m5.8-25.3h.6m-8.1 25.7h.6m37.4-34h.6m-40.3 17.1h.6m13.8 36.3h.6m-3.1 .3h.6m14.1-12.5h.6m-22.9 2.6h.6m-5.9-17h.6m7.5-19.5h.6m32 2.9h.6m-8.4 18.4h.6m-9.4 20.1h.6m-11.7 2.4h.6m8.7-47.6h.6m-15.2 44.8h.6m30-28.9h.6m-10.1 18.1h.6m6.8-16.4h.6m-33.2 30.5h.6m37.1-40.8h.6m-24.4-5.8h.6m24.6 .7h.6m-14.4-6.2h.6m9.7-.9h.6m-1.7 20.1h.6m7.6-18.3h.6m-47.3 20.4h.6m2.6 18.4h.6m29.7-38.1h.6m-28.2 46.6h.6m33-48.1h.6m-3.4 .7h.6m-1.2 23.3h.6m-37.1-4.4h.6m.9 7.9h.6m24 22h.6m-20.1-3.4h.6m12.6 5.2h.6m-1-.3h.6m15-24.6h.6m-8-23.8h.6m-15 48.2h.6m23.3-27.8h.6m-4 6.5h.6m-31.4 .2h.6m33.4-28.7h.6m-13.8 47.7h.6m-20.5-8.3h.6m-4.8-19h.6m2.2 17.5h.6m18 11.5h.6m7-5.6h.6m-1.5-3h.6m-21.7 6.7h.6m-2.2-5.3h.6m9.7 7.8h.6m-12.8-21.3h.6m27.6 8.3h.6m1.3-37.9h.6m-25.8 9.8h.6m-5.2 22.3h.6m30.3-30.5h.6m-3.1 34.5h.6m-28-6.3h.6m22.1 14.5h.6m9.9-25.5h.6m-21.7 33.1h.6m22-51.1h.6m-19.3 50.5h.6m-7.4 .7h.6m-11-40.2h.6m24.1 31h.6m3.4-8.6h.6m-29.9-19.2h.6m18.5-13.6h.6m-5.3 3.4h.6m-13.7 8.3h.6m.3-2.1h.6m23.7 31.1h.6m-32.9-20.5h.6m4-3h.6m2.6 19.8h.6m39.5-34.4h.6m-39.5 44.2h.6m22.5-9.6h.6m-24.3-2.6h.6m36.4-34.8h.6m-10.3 31.1h.6m.5 3.1h.6m-2.5-4.6h.6m-25.7 10.3h.6m32.9-22h.6m-42.4-2h.6m3.4-4.3h.6m38.6-.6h.6m-38.7 23.3h.6m9.5 17.7h.6m27.9-41.3h.6m-44.3 4h.6m6.1 29.6h.6m22.4-4.5h.6m7.3-12.8h.6m-8.8-25.9h.6m-24.1 34h.6m5.2 11.4h.6m-9.3-12.5h.6m-1.7-19.6h.6m6.2 32.7h.6m-8.2-20.5h.6m34.3 4.4h.6m-18.1 19.5h.6m-12.1-10.7h.6m26.1-9.7h.6m-27.7-18.9h.6m9.5 39.3h.6m-2-45.3h.6m28.7-.6h.6m-41.2 11.5h.6m11.2 33.9h.6m.9 .4h.6m20.5-28.9h.6m0 18h.6m-1.7-15.9h.6m6.7-15.8h.6m-37.9 31.6h.6m26-10.9h.6m-26.8 20.1h.6m-2.5-13h.6m10.7-30.6h.6m3.8 44.5h.6m-19.6-27h.6m37.1-5.4h.6m-7.4 14.5h.6m-13.9 18.1h.6m-17.6-23.8h.6m-3.9-5.3h.6m.8 2.9h.6m-4.1-8.3h.6m16.8-11h.6m11.8 40.5h.6m-27.2-29.5h.6m21.1 33.9h.6m19.2-40h.6m-10.4-8.6h.6m-8 46.9h.6m-13.2 5.4h.6m20.8-20.9h.6m-21 17.9h.6m23.9-29.7h.6m6.9-17.7h.6m-11.4-3.7h.6m-4.6 36.9h.6m12.1-27.1h.6m-38.5 32.6h.6m-2.9-16.5h.6m38.9-26h.6m-6.5 26.5h.6m-33.9 2.7h.6m18.9 20.5h.6m.6-.7h.6m9.2-17.9h.6m-27.3 11.3h.6m-.2 1.6h.6m37.8-38.9h.6m-1.3-.6h.6m-35.5 44.6h.6m5.5 7.9h.6m-10-14.8h.6m-1.6-1.1h.6m10-35.7h.6m-11.1 30.3h.6m24.3-37.2h.6m-1.1 2.2h.6m6.5 19.3h.6m-1 1.3h.6m-12.3 28.9h.6m-20.7-12.8h.6m19.7-36.4h.6m-3.1 3.2h.6m11.7 25.3h.6m-38.4-10.1h.6m34.1-18.3h.6m1.5 33.8h.6m-15.7-28.6h.6m-14.1 4.7h.6m-7.7 21.3h.6m5.3 10.5h.6m6.4 8.6h.6m34-50.9h.6m-24.6 49.8h.6m-8.2 .9h.6m22.4-26.2h.6m.8-1.5h.6m-38.2-6.1h.6m42-5.6h.6m-37.8 31.2h.6m-4.2-6.6h.6m1 6.4h.6m-5.8-27.9h.6m11.7 34.8h.6m32.1-45.7h.6m-2.6-4.1h.6m-8.7 28.3h.6m-12.4 25.2h.6m-18.7-21.8h.6m9-25.7h.6m21.6 19.2h.6m7-17.2h.6m-1.9 2.5h.6m-5.6-10.1h.6m-5.9 48h.6m15.2-45.9h.6m-15.5-1.1h.6m-4.5 43.2h.6m-20.3 7.3h.6m16.7-5.3h.6m10.1-19.7h.6m-13.2 21h.6m3.9-5.3h.6m-23.1 2.9h.6m31.5-28.1h.6m-24.2 34.6h.6m24.2-33.8h.6m-12.2 23.1h.6m-3.1 4.6h.6m-4.2 4.6h.6m11.3-20.9h.6m-30.8-14.8h.6m7.7 36.9h.6m32.2-42.9h.6m-7.5 15.4h.6m-7.9 11.3h.6m-5.9-33h.6m-20.7 45.9h.6m-3.7-18.9h.6m1.4 11.7h.6m21.4 1.8h.6m-20.3 1h.6m13 6.9h.6m5.2-4.6h.6m4.9-5.6h.6m-13.8-35.9h.6m.5 1.3h.6m-16.4 26.1h.6m30.6-5.4h.6m-28.6 21.9h.6m19.7-1.9h.6m-27.5-26.7h.6m45.6-19.5h.6m-19.6 41.9h.6m-13.5 10.6h.6m-10.1-16h.6m16.5-33.1h.6m-15 7h.6m-3.2 30.5h.6m38.5-36.6h.6m-7.9 16.8h.6m-26.2-13.1h.6m.9-1.5h.6m24.1 15.3h.6m-35.4 31.4h.6m-1.8-9.4h.6m43.2-40.9h.6m-19 41.2h.6m-21.4 .3h.6m29.2-18.1h.6m-18 24.1h.6m-13.7-13.4h.6m-5.9-19.2h.6m29.5-16.4h.6m-11.2 53.3h.6m2.7-51.6h.6m-8.8 4.8h.6m.9 43.6h.6m-11.9-15.6h.6m19.7 12.3h.6m-20.9-10.8h.6m1.7-27.3h.6m19.7-9.3h.6m-11.4 5.2h.6m-7.3 48.3h.6m-11-33.3h.6m.7-2.2h.6m4.8-8.3h.6m16.7-7.6h.6m-17.1 42h.6m37.6-43.8h.6m-2.2 5.3h.6m-11.9-6.8h.6m-19.3 51h.6m13.9-6.3h.6m6.7-17.6h.6m-31.1 6.8h.6m22.8 11.4h.6m-22.6-35.4h.6m-5.8 6.1h.6m-1.4 17.8h.6m6.9 16.9h.6m22.9-49.7h.6m11.6 .2h.6m-43 34.3h.6m-1.1-20.8h.6m26.1 31.6h.6m-20.1 1.2h.6m1.8-38.1h.6m19.6 27.6h.6m-20.1 15h.6m12.2-2.6h.6m4.6-9.3h.6m13.1-32.5h.6m-4.6 11.3h.6m-29.8 30.9h.6m-3.9-6.6h.6m-7.2-22h.6m.7 9.1h.6m37-31.4h.6m-39.8 16.7h.6m16.4-11.6h.6m13.7 32.5h.6m7.9-36.2h.6m-33.7 47.6h.6m-7.3-24.2h.6m6.7 20h.6m28.2-16.1h.6m-26.7 21.4h.6m-5.5-8.3h.6m38.4-30.6h.6m-13.5-8.9h.6m-18.5 5.3h.6m23.7 17.4h.6m-31.9-11.5h.6m17.6 36.1h.6m-21.6-36h.6m2.5 29h.6m1.2 7.8h.6m3.9-42.5h.6m-6.6 40.7h.6m26.4-48.9h.6m-33.6 18.6h.6m7.9 31.9h.6m8.1 2.5h.6m7.2-48.9h.6m-25.3 16.2h.6m35.3 7.2h.6m6.3-19.4h.6m-21.5 44.2h.6m-14.7-3h.6m-3.7 .3h.6m11.2-44h.6m-19.2 18.1h.6m44.6-14.5h.6m-46.3 16.8h.6m3.4 .9h.6m27-25.8h.6m-29.5 28.4h.6m-.8-13h.6m24.1 32.3h.6m-21.4-35.1h.6m30.6 17.4h.6m-25.7 20.1h.6m5.1-43.7h.6m-16.3 13h.6m10.1 35.5h.6m-12.2-33h.6m44.5-16.7h.6m-38.8 42h.6m-5.8-27.2h.6m-1.1 2.4h.6m8.1-12.4h.6m21.5 25.8h.6m-24.1 17.3h.6m-8.1-38.4h.6m41.6-5.7h.6m-7.6-8.7h.6m-22.8 51.2h.6m-14-32h.6m43.3-14.8h.6m-24.4-2.6h.6m24.9 3.5h.6m-12.2-4.3h.6m4.7 21.5h.6m-5.3 8h.6m-21.3 20.8h.6m-11-11.8h.6m32.4-8.7h.6m-3.3 3.8h.6m-26.5 12.2h.6m-6.4-31.9h.6m-8-1.4h.6m29.8 34.5h.6m-25.2-30.2h.6m3.6 14.3h.6m38.4-22.1h.6m-20.4 37.5h.6m3.6-1.4h.6m-16.3-39h.6m19 24.5h.6m-15.1 19.6h.6m-16.8-33.6h.6m30.8-16.2h.6m.5-1.5h.6m-8.2 48.2h.6m-10.9 4.1h.6m-10-7h.6m-7.4-25.1h.6m42.8-11h.6m3.5-8.5h.6m-32.2 3.6h.6m11 39.6h.6m-24.4-7.2h.6m-3.6-18.9h.6m43.2-13.3h.6m-44.9 21.7h.6m44.2-25.2h.6m-40.9 41.7h.6m38.2-42h.6m-39.5 12.3h.6m31.5 12.3h.6m.4-3.3h.6m-33.9 16.7h.6m31.2-14.5h.6m-4.7 10.7h.6m11.3-32.8h.6m-7.6 21h.6m-32.9 10.3h.6m-4.6-13h.6m11.4 30h.6m4.2-43.6h.6m-1.9 44.5h.6m5.8 .3h.6m2.4-48.8h.6m-25.3 15.8h.6m26.7 26.3h.6m-18.7 3.8h.6m22.1-11h.6m8.7-28.8h.6m-24.1 42.6h.6m-16.8-3.2h.6m1.5 .2h.6m20.9-45.7h.6m-25.7 15.3h.6m2.6 13.8h.6m37.2-21.1h.6m-35.8 27.8h.6m37.2-26.4h.6m-9.2 13h.6m-10.7-22.7h.6m-7.9 48.9h.6m-8.7-42.1h.6m21.4-7.6h.6m-.2 31h.6m-28.6 8.7h.6m39.6-37.4h.6m-30.6 2.7h.6m11.1 38.3h.6m14.7-31.4h.6m-32.8 35.3h.6m-9.3-15h.6m.3-17.8h.6m42.2-12.7h.6m-43.6 23.7h.6m29.9 9h.6m-16.8-28.6h.6m-17.6 14.2h.6m7-9.7h.6m8 40.1h.6m-5.1-3.1h.6m30.6-29.9h.6m-41.5-3.6h.6m33.2 10.2h.6m-35.2-8.7h.6m15.2-10.5h.6m-10.7 39.8h.6m25.9-16.4h.6m-6.3 20h.6m-28.4-31.8h.6m43.9-8.9h.6m-44.3 7.1h.6m40.1 .9h.6m-7.4 12.5h.6m-10.3 18.5h.6m17.4-34.3h.6m-40.3 .6h.6m9.1 36.2h.6m-15.7-25h.6m4.7-7.2h.6m10.9-11.7h.6m0-2.7h.6m16.4 31.4h.6m-28-5.5h.6m16.3-25.8h.6m-19.9 12.7h.6m36.3 3.8h.6m-4.8-18.3h.6m-32.7 24.8h.6m30.5 4.5h.6m-22.6-21.7h.6m17 38.3h.6m-29.1-24.7h.6m44.4-18.3h.6m-10.1-3.8h.6m2 13.6h.6m-22.3-8.6h.6m-3.4 1.9h.6m14 34.8h.6m-28.9-25.9h.6m-3.1 1.6h.6m28 26.7h.6m-3-42.9h.6m-12 47.5h.6m15.7-8.7h.6m-.2 6.8h.6m-27.7-5.5h.6m18.7-39.4h.6m8.3 36.2h.6m5.4-12.8h.6m7.7-23.8h.6m-35 50h.6m-7.4-38.6h.6m-2.7 3.3h.6m27.4 25.3h.6m14.2-41.6h.6m-20.7 2.5h.6m4.7 35.3h.6m5.5-9h.6m5.7-28.6h.6m-14-.4h.6m-27.7 16.4h.6m25.3 30h.6m11.4-30.4h.6m-18.4 33h.6m-18.8-35.5h.6m36.5 .1h.6m-23.6 36.3h.6m6.2-48h.6m-21.9 26.3h.6m-5.1-13.6h.6m7.8 26.8h.6m-5.7-15.6h.6m32 2.5h.6m-30.4-15.9h.6m25.2 26.3h.6m-9 10.8h.6m14.2-27.6h.6m-15.8 28.8h.6m-20.7-36.3h.6m2.4 22.8h.6m3.4 8.9h.6m2.6 2.1h.6m21.1-17.8h.6m-4-30.3h.6m12.2 8.8h.6m-6.1 12.8h.6m-8 16.3h.6m-23.8-30.8h.6m-2.9 24.4h.6m4.4-23.5h.6m-2.3 39.7h.6m-1.7-5.3h.6m38.6-41.3h.6m-45.6 18.8h.6m2.4 23.3h.6m20.4 3.1h.6m-12 3.1h.6m20.6-23.1h.6m-28.9 14.4h.6m10.3-36.3h.6m19.9 18.3h.6m-32.7 15.9h.6m6.8 10.3h.6m-9.3-13.7h.6m38.3-24.4h.6m-40 1.8h.6m38.8-.2h.6m-4.1 9.4h.6m-29-15.2h.6m15.6-5.6h.6m-26.2 24.8h.6m6.9 21.7h.6m-7.6-16.3h.6m14.7-26.8h.6m-5.6 47.3h.6m27.8-35.9h.6m-10.6 21.4h.6m-5.2-36h.6m-25.6 19.3h.6m2.4 11.5h.6m32-10.8h.6m-1.8-20.8h.6m-17.4 3.3h.6m-1.7 46h.6m-6.8-44.4h.6m15.4 36.8h.6m7.3-42h.6m-.9 26.4h.6m-5.7 14.2h.6m-29.3-14.4h.6m-.8-12.4h.6m31.8 18.6h.6m-28.3 6.9h.6m-6.2-26.1h.6m25.9 31.4h.6m8.5-45.1h.6m-14.6 49h.6m-12.6-40.7h.6m-10.3 12h.6m35.4 1.5h.6m-22.5 28.4h.6m5.1 .1h.6m-14-40.5h.6m13-6.9h.6m-14.2 7.5h.6m33.7-9.2h.6m-37.8 35.8h.6m-3.4-17h.6m15.8-13.9h.6m-19.9 12.2h.6m1.2 3.8h.6m33.3-22.2h.6m-22.1 7.3h.6m-6.9 30.4h.6m12.1-31.3h.6m-7 43h.6m-8.4-15.5h.6m1.5 15h.6m34.9-37.3h.6m-38.4 21.5h.6m32.7-12.5h.6m-30.8-10.5h.6m16.8 38.1h.6m6-8.8h.6m-11.8 10.8h.6m9-49.8h.6m-28.8 35.8h.6m7.5 12.2h.6m20.4-11.4h.6m.3-2.2h.6m5.6-34.5h.6m.3 18.1h.6m3.3-7.2h.6m-12.1 24.5h.6m-16.3 13.7h.6m-15.3-28h.6m29.4 18h.6m-15.5 11.4h.6m-8.9-4.5h.6m3.9 2.7h.6m29.5-50.4h.6m-7.8 29.7h.6m-14.9-23.1h.6m16.9 16.8h.6m-38.4-3.2h.6m15.9 32h.6m23.6-35.4h.6m-13 32.4h.6m-19.7 .6h.6m-9.1-31.1h.6m16.4 35.4h.6m4.6-2.1h.6m-10-2h.6m-7.1-38.1h.6m4.7 43.1h.6m20.4-22.1h.6m-25.9 18.7h.6m-3.7-5h.6m23.2-7.7h.6m-21.7 15h.6m36.3-49.5h.6m-17 37.6h.6m-22.6 6.5h.6m24.8-45.8h.6m-.9 32.5h.6m-29.4-.9h.6m20.4 16.9h.6m5.6-12.7h.6m-11.1 12.9h.6m-15.2-16h.6m38.2-27.2h.6m-37 37.8h.6m-6.8-23.4h.6m8.3 28.9h.6m-3.5-2.1h.6m25.8-48.7h.6m-33.2 24.4h.6m3.1 11.1h.6m8.8 17.2h.6m31.1-50.6h.6m-45 18.8h.6m16.4-15.6h.6m.2 44.2h.6m-13.6 1h.6m20.1-48h.6m14.7-.8h.6m-11.7 33.7h.6m-12-32.5h.6m7.9 43.3h.6m-8 4.1h.6m-17.6-36.3h.6m11.4-7.8h.6m26.4 3.5h.6m-5 8.5h.6m-7.4 18.2h.6m-32.6-16.1h.6m2.7-6.5h.6m15.6 38.3h.6m13.7-52h.6m-12.5 4h.6m7.2-3.7h.6m-2.9 45.8h.6m-20.8 1.7h.6m17.6 .6h.6m-8 3.7h.6m-20.2-32.5h.6m5.3 14.8h.6m23.7-32.1h.6m-16.9 48h.6m.9 3.9h.6m31.2-45.5h.6m-28.8 41.3h.6m-14.4-18h.6m28.3 3.8h.6m8-19.5h.6m-31 32h.6m3.4 2.2h.6m-.1 .1h.6m-11.5-11.3h.6m7.7 17.6h.6m36.4-56.6h.6m-23.9 47.4h.6m-4.5 3.8h.6m14.9-15.5h.6m-10.3 8.2h.6m-20.2 4.5h.6m23.7-14.8h.6m-6.3 12.9h.6m19.4-44.9h.6m-18.2 41.3h.6m-23 2.2h.6m37.7-41.7h.6m-41 31.3h.6m39.2-25.1h.6m-14-8.1h.6m-26.8 35.5h.6m16.3 14.3h.6m15.4-50.4h.6m-32.4 40.8h.6m7.7-35h.6m-1.7 .1h.6m31.8-3.9h.6m-46.1 15.9h.6m4.8-11.5h.6m-1.4 32.3h.6m5.5 9.4h.6m-5.4-39.2h.6m5.2-1.9h.6m27 10.1h.6m3.4-11.8h.6m-38.2 30h.6m32-15.4h.6m.2-5.4h.6m-33.2 33.3h.6m-6.4-15.4h.6m10.4-25.8h.6m-14.3 19.9h.6m5.3 4.8h.6m3.7 17.6h.6m34.2-39h.6m3.3-8.7h.6m-17.3 37.4h.6m-28.6-9.8h.6m-2-15.9h.6m44.1-11.2h.6m-41.6 34.8h.6m.9 1.3h.6m-.6 9.8h.6m21.2-4.1h.6m-28.1-23.8h.6m12.1-14.1h.6m-7.5 38.1h.6m24.7-44.7h.6m-26 44.8h.6m35.8-33.9h.6m2.2-5.8h.6m-42.6 11.5h.6m7.6 31.8h.6m9.2 1.8h.6m17.9-33.9h.6m-36.3 23.8h.6m-2.9-18h.6m19.4-19.4h.6m11.7 39.1h.6m-12.3 7.2h.6m-23.2-27.2h.6m1.4-6.5h.6m41.6-6.8h.6m-33.2 41.3h.6m10.7-46.4h.6m18.7 6h.6m-6.3 20.3h.6m-36-6h.6m39.2-8.6h.6m-10.2 21.2h.6m-14 15.4h.6m-10.2-4.5h.6m-10.1-25.5h.6m6.2-12.7h.6m-3 6h.6m6.7 33.1h.6m8.2 4.4h.6m20.8-35h.6m-31.7 29.2h.6m9.4-41.3h.6m9.8 32.8h.6m4.2-10.5h.6m-30.4 18.5h.6m7.9 4.6h.6m-9.2-21.2h.6m13.6 21.4h.6m1.8-1.7h.6m-16.3-36.5h.6m6.8-5.8h.6m-11.7 8.7h.6m40.4-13.8h.6m-39.9 27.8h.6m40.4-29.7h.6m-23.1 4.4h.6m-21.9 16.8h.6m8.4 28.5h.6m25.7-25.4h.6m-42.3-1.8h.6m26.4 36.9h.6m-25.3-36.3h.6m44.2 9.4h.6m-3.6-12.2h.6m-42 3.7h.6m30.9 23.7h.6m-28.1-7.3h.6m31.6-1h.6m-36.3-20.3h.6m38.9 7.2h.6m-14.4 22.8h.6m-16.8-.2h.6m-4.4 .1h.6m23.3-1.4h.6m-10.6 3.8h.6m8.4-2.5h.6m-22.6 19.8h.6m31-26.4h.6m-27.5 6.9h.6m0-1h.6m-1.8 2h.6m25.3-16.3h.6m-28.9 7.2h.6m-3.5-14.1h.6m30.6 5.6h.6m-32.6 5.6h.6m37.3-18h.6m-4.9 13.4h.6m-8.3 16.7h.6m-14.1 2.9h.6m3.6 5.9h.6m-5.8-8.5h.6m-5.9-3.7h.6m4.6 10.4h.6m10.2-8.9h.6m8-15.8h.6m-33.1-7.8h.6m38.9-5h.6m-5.1 10.6h.6m-32.1 3.9h.6m19.3 16.5h.6m2-1.5h.6m-23.2-9.3h.6m6.2 8.8h.6m18.9-4.1h.6m-16.7 8.7h.6m-9.7-20.3h.6m29.8-2h.6m-37.3-9.3h.6m2.6 2.5h.6m24.5 20.7h.6m-32.6-26.1h.6m37 20.2h.6m4.6-3.3h.6m-12.1 8.4h.6m-28.1-21.4h.6m6.8 19.8h.6m22.2 7.4h.6m-28.5-10.6h.6m4.1 8.8h.6m6.1 1.5h.6m-3.2-1.2h.6m-6.4-8.5h.6m33.7-18.8h.6m-9.1 16.4h.6m-6.1 11.4h.6m-8.5 3.7h.6m-1.5-.8h.6m14.3-1.5h.6m-8 .7h.6m-7.4 5.7h.6m11.9-5.7h.6m-8.2 4.9h.6m6.7-2.9h.6m-3.1-3.6h.6m-26-8h.6m-7-19.7h.6m12 29.1h.6m1.6-3.5h.6m9.8 3.3h.6m2-.5h.6m-16.3 1.8h.6m15.9-1.3h.6m-13.1-.8h.6m-9.9-22.6h.6m12 32h.6m-8.1-17.2h.6m.2 0h.6m31-22.3h.6m-39.6 11.2h.6m30.5 20.8h.6m-31-20.6h.6m37.9-5.6h.6m-22.3 26.5h.6m12.6-7.3h.6m-4.3 4.9h.6m5.6-17.4h.6m-17.9 24.1h.6m15.1-16.6h.6m7-10.9h.6m-30.2 18.1h.6m-1.2-2h.6m5.9 9h.6m-9.9-15.6h.6m-2.3 5.4h.6m34.9-22.4h.6m-31.6 28.1h.6m-4-7.4h.6m30.5-11.7h.6m-3 .8h.6m3.4-5.6h.6m-4.1 3.5h.6m-14 20.2h.6m13.8-22.5h.6m-31.6 10.8h.6m-1.2-4.1h.6m-.4-4.1h.6m12.6 23.4h.6m-21.4-24.4h.6m13.7 21h.6m7.4 10.5h.6m-16.2-25.5h.6m2.8 4.6h.6m-10.6 2.9h.6m12.5 10.6h.6m8 1.7h.6m-12.1-5.4h.6m1.7 0h.6m-12.6-25.9h.6m11.8 30.3h.6m-4.4 10h.6m17.3-.1h.6m10-33h.6m-35.6 2.5h.6m5.4 15.4h.6m16.9 8.7h.6m-20.2-28.6h.6m.6 17.3h.6m-.5-13.1h.6m1.2 13.8h.6m-.6-9.7h.6m28.1-9.1h.6m-39.3 16.7h.6m8.3 5h.6m12.6 2.6h.6m15.7-15h.6m-5.7 5.4h.6m-.2 .3h.6m8.1-22.4h.6m-18.8 31.2h.6m9.6-13.6h.6m-5.7 13.7h.6m9.4-24.9h.6m0-.8h.6m-12.1 22.9h.6m-21.2-12.6h.6m32.6-9.1h.6m.4-3.2h.6m-18 29.7h.6m-15.2 2.5h.6m30-30.1h.6m-37.6 10.7h.6m1.9 19.8h.6m1.4-22.4h.6m11.8 19.7h.6m-1.1-1.2h.6m13.4-14h.6m1-2.1h.6m-8.6 12.3h.6m-17-6h.6m19.1 4h.6m9.2-20.9h.6m-31.3 11.7h.6m34.4-15.3h.6m-34.9 21.9h.6m-1.2 2.5h.6m-9.2-7.4h.6m10 9.8h.6m21.3-2.9h.6m-.3-6h.6m-18.5 13.4h.6m21.4-11.4h.6m-33.1 10.5h.6m6.6-3.6h.6m-5.7-9.1h.6m24.4-.1h.6m.7 2.6h.6m-32.7-12.3h.6m18.2 20.9h.6m9.7-5.2h.6m-.9 .2h.6m3.5-6.3h.6m-25.1 9.4h.6m22.2-9.8h.6m-24.8 5h.6m26.4 15.4h.6m-31.5-37.3h.6m33.6 6.5h.6m-30.7 6.9h.6m-5.9 18.5h.6m5.9-.5h.6m16.8-2.3h.6m5.7-12h.6m0-.7h.6m-15.8 15.4h.6m-20.7-20h.6m19.7 22h.6m10.8-9.1h.6m10.4-19.5h.6m-34.1 12h.6m35.5-20.6h.6m-12.8 39.1h.6m-19.2-7.7h.6m.5 0h.6m-13.9-27.2h.6m35.8 13.5h.6m-37.3-5.7h.6m6.3 6.5h.6m27.2-1.3h.6m4.1-5.1h.6m-20.7 20.3h.6m9.2-1.5h.6m-29.9-30.7h.6m6.7 21.1h.6m26 .5h.6m-31.4-19.9h.6m7.7 29.2h.6m-3.7-11.1h.6m7.9 12h.6m-13.6-26h.6m26.7 19.4h.6m-8.7 9.9h.6m10.5-19.1h.6m-2 8.5h.6m-23 4.5h.6m30.8-27.5h.6m-7.4 22h.6m1.3-7.7h.6m-32.1-6.3h.6m33.8-4.9h.6m-35.7 5.9h.6m-3.3-6.7h.6m27.4 24.8h.6m10.3-23.9h.6m-17.6 26.7h.6m5.1-4.8h.6m11.9-23.3h.6m-37.3 24.8h.6m4.4-.3h.6m19.9 4.4h.6m-30.6-32.4h.6m12.4 31.1h.6m-15.4-9.2h.6m9.7 3.5h.6m-8-12.3h.6m39.2-12.4h.6m-23.8 32.9h.6m3.5 .2h.6m6.2-2.2h.6m-25.7-21.9h.6m18.9 23.9h.6m-21.6-26.6h.6m-1.2-5.8h.6m2.5 24h.6m2.8 .8h.6m23.2 2h.6m1.4-10.3h.6m.9-5.8h.6m-5.1 12.5h.6m6.3-15.8h.6m-30.7 27.7h.6m5.5 3h.6m-11-9.8h.6m7.2 3.2h.6m21.6-10.5h.6m-26.1 9.1h.6m18.1 4h.6m-22-10.5h.6m20 18.3h.6m-10.5-.4h.6m17.5-27.5h.6m4.5-9.1h.6m-32 7.6h.6m-1.5 3.6h.6m1.2 9.1h.6m28.5-19.9h.6m-6 18.8h.6m5.2-14.7h.6m-37.6 1.7h.6m19.8 24.4h.6m17.3-32.3h.6m-4.1 12.7h.6m-1.4 11.9h.6m-12.6 1.6h.6m-22.2-21.3h.6m4 3.2h.6m14 20.3h.6m-16.1-16.2h.6m27.4 8.2h.6m1-4.4h.6m3.7-11.3h.6m-40.4-4.9h.6m9.5 19.9h.6m28.3-15.8h.6m-36.6-4.2h.6m.8 17.6h.6m21.6 13.8h.6m12.3-24.2h.6m-10 11.1h.6m-4.4 9.6h.6m-24.4-29.7h.6m11.3 34.6h.6m3.1 1.8h.6m2.8-5h.6m17.6-18.9h.6m-3.4-2.1h.6m-31.6-1h.6m0 11.3h.6m-3.5-19.6h.6m31.5 24h.6m-23.9 11.1h.6m-15.2-33.1h.6m42.7-.9h.6m-9.5 30.2h.6m-1-10h.6m-24.7-4.6h.6m31.4-14.1h.6m-33.5 18.2h.6m33.6-11.8h.6m-36 17h.6m-3.8-22.9h.6m15.5 29.2h.6m-14.7-24.9h.6m24.2 16.1h.6m-25.5-.2h.6m19.4 5.8h.6m-6.6 0h.6m13.7-12.4h.6m3.1-5.9h.6m-3.5 3.7h.6m-31.1-5h.6m3.4 6.2h.6m2 8h.6m29.4-20h.6m2.5 3.4h.6m-14.4 29.4h.6m7.9-24.6h.6m5.1-11.1h.6m-10.3 18h.6m-33.4-20.6h.6m28.3 26.9h.6m6.8-13.6h.6m-11 23.7h.6m9.6-25h.6m1-7.4h.6m-30.6 13.2h.6m-1 10.5h.6m18.4-.2h.6m-18.2-4.4h.6m23-3.7h.6m3.7-7.1h.6m-32-5.4h.6m22.2 21.2h.6m-31.6-30.1h.6m6.2 33.7h.6m6.5 .6h.6m19-8.1h.6m-17.4 7.6h.6m-7.2-22.7h.6m24 9h.6m-22 7.4h.6m15.6 4.2h.6m-29.3-24.9h.6m25.3 28.1h.6m-20.5-19.4h.6m4.7 9.8h.6m-5.8-15.8h.6m-2.6-.9h.6m-1.7-5h.6m12.6 27.8h.6m-1 3.8h.6m13.4-5.6h.6m-20.9-16.2h.6m-4.6-9.7h.6m37.7 15.9h.6m-23.1 11.3h.6m18.9-24.5h.6m-18 26.7h.6m-11.1-1.2h.6m-5.4-17.4h.6m22.2 14.6h.6m-4 3.2h.6m14.4 .5h.6m-31.9-8.7h.6m-6.4 1.2h.6m31.7-6.6h.6m-34.3 10.8h.6m7.1 2.2h.6m7.5 5.5h.6m-14.7-28.4h.6m-5.7-6.9h.6m9.9 26.8h.6m-3-8.3h.6m8.5 13.5h.6m-12.6-24.9h.6m24.6 23.3h.6m-16.2 13.6h.6m19.9-26.5h.6m-5.8 9.2h.6m-25.7-12.7h.6m-.4 .5h.6m27.6 5.9h.6m-4.2 11.6h.6m-27.8-19.9h.6m-2.6-4.1h.6m19.6 27.2h.6m10.7-9.9h.6m-3.3 1.6h.6m-23.4-3h.6m11.6 4.2h.6m-15.4-26.3h.6m37.7-1.9h.6m-40.1 5.3h.6m28.5 23h.6m11.3-9.4h.6m-37.4 3.3h.6m18 12.5h.6m11.4-19.5h.6m-30.1 16.1h.6m29.4-19.7h.6m-.5 3.1h.6m-2.5 12h.6m2-2.7h.6m.5-15.6h.6m3.2-10h.6m-20.3 32.3h.6m7-8.5h.6m-26.2-5.2h.6m31.2-6.6h.6m-29.2 26.4h.6m25.4-15h.6m7.2-23.5h.6m-27.9 30.4h.6m-11.6-11.4h.6m4.6 3.1h.6m19.7 10.8h.6m-24-22.8h.6m0 17.3h.6m-3-7.8h.6m10.6 17h.6m25.3-32.3h.6m-38.6 30.2h.6m6.8-5.8h.6m-2.9-5.1h.6m-3.7-6.6h.6m30.7-2.9h.6m-23.3 15.6h.6m-6.4-13.9h.6m-9.9 29.2h.6m33-18.5h.6m-9.5 6.9h.6m10.5-16.8h.6m.2-2.5h.6m-4.6 8.5h.6m1.1 5.9h.6m-21.7-.4h.6m-2.4-4.1h.6m-5.7-8.2h.6m29.2 4.3h.6m-26-4.2h.6m14.7 15h.6m13.1-20.3h.6m1.3-7.2h.6m-8.6 23.4h.6m-17 4.1h.6m-7.8-7.7h.6m-1.7 2.1h.6m26.4-9h.6m-13.1 17.8h.6m7.8-8.7h.6m-25.9 2.8h.6m-3-28.2h.6m7.2 27h.6m30.2-23.1h.6m-40.6-3.2h.6m29.7 30.1h.6m-28.1-20.5h.6m2.6 13.9h.6m2.5 14.8h.6m-5.6-22.2h.6m27.5 2.2h.6m-27.2 20.1h.6m-3.3-31.5h.6m.9 20.4h.6m30.8-8.9h.6m-3.6-.8h.6m-27.2 3.1h.6m35.8-21.1h.6m-28 32.2h.6m10-1.8h.6m13.9-29.9h.6m-11.8 25.7h.6m-5.4 4.1h.6m-11.2 2.2h.6m1.5 2.7h.6m-19-3.2h.6m17.6 2.7h.6m-9.3-7.3h.6m-.3-6.5h.6m9.2 16.9h.6m15.6-23.1h.6m1.7-3h.6m-23.7 21.6h.6m-5.7-6.5h.6m13.5 4.8h.6m9.9-4.7h.6m-26.4-14.6h.6m32.1-4.2h.6m-27 28.6h.6m13.3-6.2h.6m-21.2-10.7h.6m-.4 10.3h.6m18 1.6h.6m.4 5.3h.6m-1.5-6.1h.6m-21.4 .6h.6m23.4-1.5h.6m8.2-14.9h.6m3.5-1.2h.6m-11.8 29.5h.6m5.2-32h.6m-20.1 22.1h.6m13 4.2h.6m1.8-17.9h.6m-23.4 14.4h.6m28.3-26.3h.6m-42.3-1.2h.6m13.1 32.3h.6m21.8-21h.6m-28.5 3.5h.6m32.4-15.6h.6m-39.4-2.8h.6m31.9 19.3h.6m6.3-17h.6m-35.2 7.5h.6m28.1 1.5h.6m7.6-9.1h.6m-7.5 18.2h.6m-5.4 5.4h.6m-24.6-18.7h.6m10.8 24.6h.6m-12.1-22.6h.6m.5 8.9h.6m13.5 17.4h.6m11-13.7h.6m1.3-10h.6m-4.3 10.1h.6m-4.9 4.7h.6m-22 6.1h.6m2.5-17.3h.6m.1 10.6h.6m-1.8-6.7h.6m-7.4 6.4h.6m4-2.2h.6m4.2 4.1h.6m18.3-2.4h.6m-24.5-.7h.6m35.8-26.4h.6m-9.8 41.4h.6m4.5-32.8h.6m-32.3-2.5h.6m4.6 21.5h.6m29.9-28h.6m-37 20.4h.6m-.4 3.6h.6m32.3-17.4h.6m5.8 5.5h.6m-22.6 18.5h.6m-17.2-6.2h.6m-3.3-25.4h.6m6.6 30.8h.6m-7.4-30.8h.6m-3 .3h.6m4.1 11.8h.6m7.8 34h.6m-13.7-45.3h.6m6.2 16.7h.6m12.4 15.2h.6m-18-28.8h.6m4.8 25.8h.6m-3.8-8.4h.6m19.6 9.7h.6m-18.5-7.2h.6m14.7 13.6h.6m8.4-16.2h.6m6.9-15h.6m-3.3 13.7h.6m-3.8-1.1h.6m-15.3 18.5h.6m-10.7-8.5h.6m26.9-16.9h.6m-4.4 15.3h.6m-4 3h.6m-.9-3.6h.6m-21.2 5h.6m31.6-28.4h.6m-32.1 23.9h.6m17.8 9.5h.6m-3.8 5h.6m-24.2-39.6h.6m6.5 18.1h.6m-1.2-7.3h.6m32.7-6.3h.6m-17 30.8h.6m-18.3-25.5h.6m17.6 24.7h.6m8.4-15.7h.6m-4.3 4.6h.6m-.7 6h.6m-25.6-26.7h.6m30.6 8.9h.6m7 6.4h.6m-13.1 14.5h.6m3.3-20.6h.6m-5.1 11.1h.6m-23.8-1.1h.6m-.8-11.3h.6m19.6 17.4h.6m-31-22.2h.6m4.7 4.7h.6m32.7 5.9h.6m7.3-7.7h.6m-5.3-4.5h.6m-6.6 17.6h.6m-8.6 6.3h.6m-21.5-30.2h.6m31 17.3h.6m-30.2-6.9h.6m33 7.3h.6m-26.4 13h.6m-12.6-17h.6m29.5 7.2h.6m-20.4 7.7h.6m-11.7-21.3h.6m13.9 25.6h.6m8.1-.5h.6m.9-.4h.6m-4.7-.4h.6m20.6-16.2h.6m-34 9.9h.6m-10 2.1h.6m34.1-10.8h.6m2.8-8.8h.6m2.8 8.6h.6m-2.2-12.2h.6m-25 27.3h.6m-9.5-19.3h.6m25.9 12.7h.6m-27.6-2.9h.6m19.7 8.6h.6m-6.5 3.8h.6m-9.7-3.7h.6m-8.3-22.1h.6m16.4 26.2h.6m-9.6 4.6h.6m22.8-22.2h.6m-7.3 12h.6m-16 8.5h.6m20.3-13.4h.6m-20.2 11.8h.6m-10.1-7.3h.6m1.5-16.4h.6m18.3 17.6h.6m-18.3-11.2h.6m26.5 2.3h.6m-.4-3.6h.6m-29.6 0h.6m-1.8-8.1h.6m24.6 14.2h.6m-27.5-16.8h.6m21.9 23.2h.6m-21.3-16.2h.6m-3.2-1.8h.6m34.8 14.1h.6m-6.4-1.6h.6m-25.2-7.7h.6m-2.8 11.4h.6m2.9 0h.6m23.4-7.3h.6m-27.9 12.5h.6m8.1 8h.6m-11.7 6.1h.6m17.1-12.7h.6m-4.3 .5h.6m-1.1-2.7h.6m3.3-.7h.6m4.2 .4h.6m-17.1-7h.6m22.9-4.6h.6m-23.6 5.4h.6m26.4-12.9h.6m-3.2 12.7h.6m-4.6-2h.6m-28.5-.6h.6m1.8 10.4h.6m-.6-.8h.6m-2.5-32.7h.6m.9 .4h.6m15.3 31.7h.6m-4.8 1.1h.6m21.4-23.3h.6m-5.4 15.4h.6m-2.1 1.1h.6m-1.3 2.3h.6m-21.7-1h.6m27-10.5h.6m-33.5-12.1h.6m5 25.1h.6m16.1 6.3h.6m8.3-18.6h.6m-31.5-17.1h.6m24 38.4h.6m-3.4-10.6h.6m-16.6 7.2h.6m-9.9-32.7h.6m5.6 25.4h.6m20.6 4.2h.6m-23.3 4.8h.6m-8.2-27.5h.6m25.8 21.7h.6m8.6-3.6h.6m4.7-21.3h.6m-30.1 14.3h.6m9.9 10.2h.6m-19.3-22.8h.6m0 29.7h.6m40.5-38.6h.6m-1.9 4.4h.6m-39.2 .3h.6m1.1 29.3h.6m34.4-26.8h.6m-30.3 20.4h.6m30.2-22.7h.6m.2-3.3h.6m-19.8 29.4h.6m3.5 4.3h.6m-17.7-9.1h.6m1.7 4.8h.6m7.4 6.8h.6m-5.6-5.2h.6m14.8-1.6h.6m-15.5 1.5h.6m-2.2 2.6h.6m-7.7-15.8h.6m-.2 3.7h.6m26.5-5.4h.6m-13.9 17.3h.6m-12.8-15.2h.6m.2 5.8h.6m26.6-13.8h.6m-19.7 21.1h.6m-3.1-2.3h.6m20.3-6.7h.6m-31.2 9.7h.6m27.1 5.4h.6m4.7-29.7h.6m-4 14.3h.6m-10.8 10.5h.6m-22.7-33h.6m30.9 15h.6m7.1-15.3h.6m-27.6 32.2h.6m13.8-3.7h.6m-23.4-6h.6m-4.9-21.6h.6m2.1 9.6h.6m1.7 3.6h.6m-7.5-11.2h.6m38.1 2.1h.6m2.2-5.2h.6m-7.3 16.6h.6m-2.7 8.4h.6m-6.3 11.2h.6m-7.9 2.8h.6m13.8-16.3h.6m4.2-15.1h.6m-35.3 27.8h.6m32.6-21.6h.6m-28.7 14.9h.6m-3.2-7.8h.6m-1.6 8.6h.6m-2.4-21.9h.6m37.8 12h.6m-14.1 12.4h.6m7-19.1h.6m-27.8 8h.6m11.8 13.4h.6m21-34.2h.6m-37.6 10.3h.6m6.2 18.4h.6m18.9-2.5h.6m-30.6-17.9h.6m33.1 18.6h.6m-31.6-3h.6m27 .5h.6m-10.3 7.1h.6m15.1-22.3h.6m-24.3 21.8h.6m-15-30.6h.6m2.8 9.9h.6m3.9 21.1h.6m-1.9-5.2h.6m13.4 6.7h.6" stroke="#000" stroke-opacity="0.7" stroke-width="0.6" fill="none"/><clipPath id="dcl0"><path d="M53.01 351.22C51.86 349.83 46.46 350.29 43.7 350.3C40.93 350.31 39.02 350.68 36.41 351.29C33.81 351.9 30.88 352.91 28.08 353.97C25.28 355.03 22.09 356.43 19.62 357.65C17.16 358.87 15.03 360.02 13.3 361.3C11.57 362.58 10.09 363.83 9.24 365.34C8.39 366.86 8.11 368.51 8.2 370.38C8.29 372.24 9.06 374.44 9.77 376.54C10.49 378.64 11.86 380.83 12.48 382.96C13.1 385.09 13.15 387.39 13.49 389.31C13.84 391.23 13.87 392.95 14.56 394.5C15.24 396.04 16.25 397.58 17.6 398.6C18.95 399.62 20.98 400.35 22.67 400.61C24.37 400.86 26.07 400.63 27.75 400.12C29.43 399.61 31.41 398.83 32.76 397.54C34.1 396.25 34.99 394.12 35.85 392.38C36.72 390.64 37.06 389.02 37.95 387.09C38.83 385.16 40.08 383.07 41.15 380.79C42.21 378.51 43.28 375.87 44.34 373.4C45.41 370.94 46.49 368.47 47.54 366C48.59 363.54 49.72 361.1 50.63 358.63C51.54 356.17 54.17 352.61 53.01 351.22Z"/></clipPath><g clip-path="url(#dcl0)"><path d="M53.01 351.22C51.86 349.83 46.46 350.29 43.7 350.3C40.93 350.31 39.02 350.68 36.41 351.29C33.81 351.9 30.88 352.91 28.08 353.97C25.28 355.03 22.09 356.43 19.62 357.65C17.16 358.87 15.03 360.02 13.3 361.3C11.57 362.58 10.09 363.83 9.24 365.34C8.39 366.86 8.11 368.51 8.2 370.38C8.29 372.24 9.06 374.44 9.77 376.54C10.49 378.64 11.86 380.83 12.48 382.96C13.1 385.09 13.15 387.39 13.49 389.31C13.84 391.23 13.87 392.95 14.56 394.5C15.24 396.04 16.25 397.58 17.6 398.6C18.95 399.62 20.98 400.35 22.67 400.61C24.37 400.86 26.07 400.63 27.75 400.12C29.43 399.61 31.41 398.83 32.76 397.54C34.1 396.25 34.99 394.12 35.85 392.38C36.72 390.64 37.06 389.02 37.95 387.09C38.83 385.16 40.08 383.07 41.15 380.79C42.21 378.51 43.28 375.87 44.34 373.4C45.41 370.94 46.49 368.47 47.54 366C48.59 363.54 49.72 361.1 50.63 358.63C51.54 356.17 54.17 352.61 53.01 351.22Z" fill="#4a4a4a"/><path d="M53.01 351.22C51.86 349.83 46.46 350.29 43.7 350.3C40.93 350.31 39.02 350.68 36.41 351.29C33.81 351.9 30.88 352.91 28.08 353.97C25.28 355.03 22.09 356.43 19.62 357.65C17.16 358.87 15.03 360.02 13.3 361.3C11.57 362.58 10.09 363.83 9.24 365.34C8.39 366.86 8.11 368.51 8.2 370.38C8.29 372.24 9.06 374.44 9.77 376.54C10.49 378.64 11.86 380.83 12.48 382.96C13.1 385.09 13.15 387.39 13.49 389.31C13.84 391.23 13.87 392.95 14.56 394.5C15.24 396.04 16.25 397.58 17.6 398.6C18.95 399.62 20.98 400.35 22.67 400.61C24.37 400.86 26.07 400.63 27.75 400.12C29.43 399.61 31.41 398.83 32.76 397.54C34.1 396.25 34.99 394.12 35.85 392.38C36.72 390.64 37.06 389.02 37.95 387.09C38.83 385.16 40.08 383.07 41.15 380.79C42.21 378.51 43.28 375.87 44.34 373.4C45.41 370.94 46.49 368.47 47.54 366C48.59 363.54 49.72 361.1 50.63 358.63C51.54 356.17 54.17 352.61 53.01 351.22Z" fill="none" stroke="#fff" stroke-width="7" filter="url(#bl22)"/><ellipse cx="25.7" cy="390.5" rx="3.5" ry="3" fill="#111" opacity="0.45" filter="url(#bl1)"/><clipPath id="dcl1"><path d="M39 354.5C36.98 353.53 31.52 354.87 27.9 356.1C24.28 357.33 19.78 360.05 17.3 361.9C14.82 363.75 13.53 365.43 13 367.2C12.47 368.97 13.22 370.92 14.1 372.5C14.98 374.08 16.53 375.63 18.3 376.7C20.07 377.77 22.4 378.37 24.7 378.9C27 379.43 29.98 380.27 32.1 379.9C34.22 379.53 36.17 378.28 37.4 376.7C38.63 375.12 39.07 372.87 39.5 370.4C39.93 367.93 40.08 364.55 40 361.9C39.92 359.25 41.02 355.47 39 354.5Z"/></clipPath><g clip-path="url(#dcl1)"><path d="M39 354.5C36.98 353.53 31.52 354.87 27.9 356.1C24.28 357.33 19.78 360.05 17.3 361.9C14.82 363.75 13.53 365.43 13 367.2C12.47 368.97 13.22 370.92 14.1 372.5C14.98 374.08 16.53 375.63 18.3 376.7C20.07 377.77 22.4 378.37 24.7 378.9C27 379.43 29.98 380.27 32.1 379.9C34.22 379.53 36.17 378.28 37.4 376.7C38.63 375.12 39.07 372.87 39.5 370.4C39.93 367.93 40.08 364.55 40 361.9C39.92 359.25 41.02 355.47 39 354.5Z" fill="#1a1a1a"/><path d="M39 354.5C36.98 353.53 31.52 354.87 27.9 356.1C24.28 357.33 19.78 360.05 17.3 361.9C14.82 363.75 13.53 365.43 13 367.2C12.47 368.97 13.22 370.92 14.1 372.5C14.98 374.08 16.53 375.63 18.3 376.7C20.07 377.77 22.4 378.37 24.7 378.9C27 379.43 29.98 380.27 32.1 379.9C34.22 379.53 36.17 378.28 37.4 376.7C38.63 375.12 39.07 372.87 39.5 370.4C39.93 367.93 40.08 364.55 40 361.9C39.92 359.25 41.02 355.47 39 354.5Z" fill="none" stroke="#fff" stroke-width="2.6" filter="url(#bl1)"/></g><path d="M39 354.5C36.98 353.53 31.52 354.87 27.9 356.1C24.28 357.33 19.78 360.05 17.3 361.9C14.82 363.75 13.53 365.43 13 367.2C12.47 368.97 13.22 370.92 14.1 372.5C14.98 374.08 16.53 375.63 18.3 376.7C20.07 377.77 22.4 378.37 24.7 378.9C27 379.43 29.98 380.27 32.1 379.9C34.22 379.53 36.17 378.28 37.4 376.7C38.63 375.12 39.07 372.87 39.5 370.4C39.93 367.93 40.08 364.55 40 361.9C39.92 359.25 41.02 355.47 39 354.5Z" fill="none" stroke="#fafafa" stroke-width="1.0"/><clipPath id="dcl2"><path d="M38.1 367.25C38.35 368.17 38.32 369.28 37.96 370.22C37.6 371.16 36.79 372.13 35.95 372.89C35.1 373.65 33.98 374.27 32.89 374.78C31.81 375.29 30.64 375.7 29.43 375.97C28.22 376.24 26.88 376.45 25.65 376.38C24.42 376.31 23.04 376.03 22.04 375.54C21.03 375.04 20.15 374.22 19.61 373.4C19.07 372.59 18.87 371.58 18.8 370.66C18.72 369.74 18.87 368.79 19.16 367.87C19.44 366.95 19.84 365.98 20.51 365.13C21.17 364.29 22.1 363.39 23.16 362.8C24.23 362.21 25.64 361.76 26.89 361.59C28.15 361.42 29.53 361.57 30.69 361.8C31.86 362.02 32.93 362.47 33.89 362.96C34.86 363.46 35.77 364.04 36.48 364.76C37.18 365.47 37.85 366.34 38.1 367.25Z"/></clipPath><g clip-path="url(#dcl2)"><path d="M38.1 367.25C38.35 368.17 38.32 369.28 37.96 370.22C37.6 371.16 36.79 372.13 35.95 372.89C35.1 373.65 33.98 374.27 32.89 374.78C31.81 375.29 30.64 375.7 29.43 375.97C28.22 376.24 26.88 376.45 25.65 376.38C24.42 376.31 23.04 376.03 22.04 375.54C21.03 375.04 20.15 374.22 19.61 373.4C19.07 372.59 18.87 371.58 18.8 370.66C18.72 369.74 18.87 368.79 19.16 367.87C19.44 366.95 19.84 365.98 20.51 365.13C21.17 364.29 22.1 363.39 23.16 362.8C24.23 362.21 25.64 361.76 26.89 361.59C28.15 361.42 29.53 361.57 30.69 361.8C31.86 362.02 32.93 362.47 33.89 362.96C34.86 363.46 35.77 364.04 36.48 364.76C37.18 365.47 37.85 366.34 38.1 367.25Z" fill="#1a1a1a"/><path d="M38.1 367.25C38.35 368.17 38.32 369.28 37.96 370.22C37.6 371.16 36.79 372.13 35.95 372.89C35.1 373.65 33.98 374.27 32.89 374.78C31.81 375.29 30.64 375.7 29.43 375.97C28.22 376.24 26.88 376.45 25.65 376.38C24.42 376.31 23.04 376.03 22.04 375.54C21.03 375.04 20.15 374.22 19.61 373.4C19.07 372.59 18.87 371.58 18.8 370.66C18.72 369.74 18.87 368.79 19.16 367.87C19.44 366.95 19.84 365.98 20.51 365.13C21.17 364.29 22.1 363.39 23.16 362.8C24.23 362.21 25.64 361.76 26.89 361.59C28.15 361.42 29.53 361.57 30.69 361.8C31.86 362.02 32.93 362.47 33.89 362.96C34.86 363.46 35.77 364.04 36.48 364.76C37.18 365.47 37.85 366.34 38.1 367.25Z" fill="none" stroke="#fff" stroke-width="2.6" filter="url(#bl1)"/></g><path d="M38.1 367.25C38.35 368.17 38.32 369.28 37.96 370.22C37.6 371.16 36.79 372.13 35.95 372.89C35.1 373.65 33.98 374.27 32.89 374.78C31.81 375.29 30.64 375.7 29.43 375.97C28.22 376.24 26.88 376.45 25.65 376.38C24.42 376.31 23.04 376.03 22.04 375.54C21.03 375.04 20.15 374.22 19.61 373.4C19.07 372.59 18.87 371.58 18.8 370.66C18.72 369.74 18.87 368.79 19.16 367.87C19.44 366.95 19.84 365.98 20.51 365.13C21.17 364.29 22.1 363.39 23.16 362.8C24.23 362.21 25.64 361.76 26.89 361.59C28.15 361.42 29.53 361.57 30.69 361.8C31.86 362.02 32.93 362.47 33.89 362.96C34.86 363.46 35.77 364.04 36.48 364.76C37.18 365.47 37.85 366.34 38.1 367.25Z" fill="none" stroke="#fafafa" stroke-width="1.0"/><clipPath id="dcl3"><path d="M35.91 367.82C36.02 368.49 35.93 369.27 35.66 369.94C35.38 370.61 34.86 371.31 34.24 371.85C33.63 372.39 32.79 372.87 31.95 373.17C31.12 373.47 30.12 373.65 29.24 373.65C28.35 373.65 27.4 373.49 26.63 373.19C25.87 372.89 25.14 372.41 24.65 371.88C24.16 371.34 23.81 370.65 23.69 369.98C23.58 369.31 23.67 368.53 23.94 367.86C24.22 367.19 24.74 366.49 25.36 365.95C25.97 365.41 26.81 364.93 27.65 364.63C28.48 364.33 29.48 364.15 30.36 364.15C31.25 364.15 32.2 364.31 32.97 364.61C33.73 364.91 34.46 365.39 34.95 365.92C35.44 366.46 35.79 367.15 35.91 367.82Z"/></clipPath><g clip-path="url(#dcl3)"><path d="M35.91 367.82C36.02 368.49 35.93 369.27 35.66 369.94C35.38 370.61 34.86 371.31 34.24 371.85C33.63 372.39 32.79 372.87 31.95 373.17C31.12 373.47 30.12 373.65 29.24 373.65C28.35 373.65 27.4 373.49 26.63 373.19C25.87 372.89 25.14 372.41 24.65 371.88C24.16 371.34 23.81 370.65 23.69 369.98C23.58 369.31 23.67 368.53 23.94 367.86C24.22 367.19 24.74 366.49 25.36 365.95C25.97 365.41 26.81 364.93 27.65 364.63C28.48 364.33 29.48 364.15 30.36 364.15C31.25 364.15 32.2 364.31 32.97 364.61C33.73 364.91 34.46 365.39 34.95 365.92C35.44 366.46 35.79 367.15 35.91 367.82Z" fill="#1a1a1a"/><path d="M35.91 367.82C36.02 368.49 35.93 369.27 35.66 369.94C35.38 370.61 34.86 371.31 34.24 371.85C33.63 372.39 32.79 372.87 31.95 373.17C31.12 373.47 30.12 373.65 29.24 373.65C28.35 373.65 27.4 373.49 26.63 373.19C25.87 372.89 25.14 372.41 24.65 371.88C24.16 371.34 23.81 370.65 23.69 369.98C23.58 369.31 23.67 368.53 23.94 367.86C24.22 367.19 24.74 366.49 25.36 365.95C25.97 365.41 26.81 364.93 27.65 364.63C28.48 364.33 29.48 364.15 30.36 364.15C31.25 364.15 32.2 364.31 32.97 364.61C33.73 364.91 34.46 365.39 34.95 365.92C35.44 366.46 35.79 367.15 35.91 367.82Z" fill="none" stroke="#fff" stroke-width="2.6" filter="url(#bl1)"/></g><path d="M35.91 367.82C36.02 368.49 35.93 369.27 35.66 369.94C35.38 370.61 34.86 371.31 34.24 371.85C33.63 372.39 32.79 372.87 31.95 373.17C31.12 373.47 30.12 373.65 29.24 373.65C28.35 373.65 27.4 373.49 26.63 373.19C25.87 372.89 25.14 372.41 24.65 371.88C24.16 371.34 23.81 370.65 23.69 369.98C23.58 369.31 23.67 368.53 23.94 367.86C24.22 367.19 24.74 366.49 25.36 365.95C25.97 365.41 26.81 364.93 27.65 364.63C28.48 364.33 29.48 364.15 30.36 364.15C31.25 364.15 32.2 364.31 32.97 364.61C33.73 364.91 34.46 365.39 34.95 365.92C35.44 366.46 35.79 367.15 35.91 367.82Z" fill="none" stroke="#fafafa" stroke-width="1.0"/><clipPath id="dcl4"><path d="M34.14 368.29C34.23 368.83 34.14 369.48 33.88 370.01C33.63 370.54 33.15 371.08 32.62 371.46C32.08 371.83 31.35 372.13 30.67 372.25C30 372.37 29.21 372.34 28.58 372.17C27.95 372 27.31 371.65 26.89 371.24C26.47 370.83 26.16 370.25 26.06 369.71C25.97 369.17 26.06 368.52 26.32 367.99C26.57 367.46 27.05 366.92 27.58 366.54C28.12 366.17 28.85 365.87 29.53 365.75C30.2 365.63 30.99 365.66 31.62 365.83C32.25 366 32.89 366.35 33.31 366.76C33.73 367.17 34.04 367.75 34.14 368.29Z"/></clipPath><g clip-path="url(#dcl4)"><path d="M34.14 368.29C34.23 368.83 34.14 369.48 33.88 370.01C33.63 370.54 33.15 371.08 32.62 371.46C32.08 371.83 31.35 372.13 30.67 372.25C30 372.37 29.21 372.34 28.58 372.17C27.95 372 27.31 371.65 26.89 371.24C26.47 370.83 26.16 370.25 26.06 369.71C25.97 369.17 26.06 368.52 26.32 367.99C26.57 367.46 27.05 366.92 27.58 366.54C28.12 366.17 28.85 365.87 29.53 365.75C30.2 365.63 30.99 365.66 31.62 365.83C32.25 366 32.89 366.35 33.31 366.76C33.73 367.17 34.04 367.75 34.14 368.29Z" fill="#1a1a1a"/><path d="M34.14 368.29C34.23 368.83 34.14 369.48 33.88 370.01C33.63 370.54 33.15 371.08 32.62 371.46C32.08 371.83 31.35 372.13 30.67 372.25C30 372.37 29.21 372.34 28.58 372.17C27.95 372 27.31 371.65 26.89 371.24C26.47 370.83 26.16 370.25 26.06 369.71C25.97 369.17 26.06 368.52 26.32 367.99C26.57 367.46 27.05 366.92 27.58 366.54C28.12 366.17 28.85 365.87 29.53 365.75C30.2 365.63 30.99 365.66 31.62 365.83C32.25 366 32.89 366.35 33.31 366.76C33.73 367.17 34.04 367.75 34.14 368.29Z" fill="none" stroke="#fff" stroke-width="2.6" filter="url(#bl1)"/></g><path d="M34.14 368.29C34.23 368.83 34.14 369.48 33.88 370.01C33.63 370.54 33.15 371.08 32.62 371.46C32.08 371.83 31.35 372.13 30.67 372.25C30 372.37 29.21 372.34 28.58 372.17C27.95 372 27.31 371.65 26.89 371.24C26.47 370.83 26.16 370.25 26.06 369.71C25.97 369.17 26.06 368.52 26.32 367.99C26.57 367.46 27.05 366.92 27.58 366.54C28.12 366.17 28.85 365.87 29.53 365.75C30.2 365.63 30.99 365.66 31.62 365.83C32.25 366 32.89 366.35 33.31 366.76C33.73 367.17 34.04 367.75 34.14 368.29Z" fill="none" stroke="#fafafa" stroke-width="1.0"/><path d="M51.71 352.3C50.82 351.3 46.19 351.89 43.7 352C41.22 352.11 39.31 352.35 36.8 352.94C34.3 353.53 31.42 354.52 28.68 355.56C25.94 356.6 22.77 357.99 20.38 359.17C17.98 360.36 15.92 361.5 14.31 362.67C12.7 363.83 11.45 364.9 10.72 366.18C9.98 367.45 9.79 368.66 9.9 370.3C10.01 371.93 10.68 373.96 11.38 375.99C12.09 378.02 13.48 380.32 14.11 382.48C14.74 384.65 14.83 387.12 15.17 389.01C15.5 390.9 15.53 392.44 16.11 393.81C16.69 395.18 17.49 396.39 18.62 397.24C19.76 398.1 21.49 398.72 22.93 398.92C24.37 399.13 25.82 398.93 27.26 398.5C28.7 398.06 30.4 397.46 31.58 396.31C32.76 395.16 33.53 393.27 34.33 391.62C35.13 389.97 35.52 388.31 36.4 386.39C37.28 384.46 38.54 382.35 39.61 380.07C40.67 377.79 41.72 375.18 42.78 372.73C43.84 370.27 44.93 367.79 45.98 365.34C47.02 362.89 48.08 360.22 49.03 358.04C49.99 355.87 52.6 353.31 51.71 352.3Z" fill="none" stroke="#fff" stroke-width="0.9"/></g><path d="M53.01 351.22C51.86 349.83 46.46 350.29 43.7 350.3C40.93 350.31 39.02 350.68 36.41 351.29C33.81 351.9 30.88 352.91 28.08 353.97C25.28 355.03 22.09 356.43 19.62 357.65C17.16 358.87 15.03 360.02 13.3 361.3C11.57 362.58 10.09 363.83 9.24 365.34C8.39 366.86 8.11 368.51 8.2 370.38C8.29 372.24 9.06 374.44 9.77 376.54C10.49 378.64 11.86 380.83 12.48 382.96C13.1 385.09 13.15 387.39 13.49 389.31C13.84 391.23 13.87 392.95 14.56 394.5C15.24 396.04 16.25 397.58 17.6 398.6C18.95 399.62 20.98 400.35 22.67 400.61C24.37 400.86 26.07 400.63 27.75 400.12C29.43 399.61 31.41 398.83 32.76 397.54C34.1 396.25 34.99 394.12 35.85 392.38C36.72 390.64 37.06 389.02 37.95 387.09C38.83 385.16 40.08 383.07 41.15 380.79C42.21 378.51 43.28 375.87 44.34 373.4C45.41 370.94 46.49 368.47 47.54 366C48.59 363.54 49.72 361.1 50.63 358.63C51.54 356.17 54.17 352.61 53.01 351.22Z" fill="none" stroke="#000" stroke-width="2.2"/></g><clipPath id="dclip"><path d="M53.01 351.22C51.86 349.83 46.46 350.29 43.7 350.3C40.93 350.31 39.02 350.68 36.41 351.29C33.81 351.9 30.88 352.91 28.08 353.97C25.28 355.03 22.09 356.43 19.62 357.65C17.16 358.87 15.03 360.02 13.3 361.3C11.57 362.58 10.09 363.83 9.24 365.34C8.39 366.86 8.11 368.51 8.2 370.38C8.29 372.24 9.06 374.44 9.77 376.54C10.49 378.64 11.86 380.83 12.48 382.96C13.1 385.09 13.15 387.39 13.49 389.31C13.84 391.23 13.87 392.95 14.56 394.5C15.24 396.04 16.25 397.58 17.6 398.6C18.95 399.62 20.98 400.35 22.67 400.61C24.37 400.86 26.07 400.63 27.75 400.12C29.43 399.61 31.41 398.83 32.76 397.54C34.1 396.25 34.99 394.12 35.85 392.38C36.72 390.64 37.06 389.02 37.95 387.09C38.83 385.16 40.08 383.07 41.15 380.79C42.21 378.51 43.28 375.87 44.34 373.4C45.41 370.94 46.49 368.47 47.54 366C48.59 363.54 49.72 361.1 50.63 358.63C51.54 356.17 54.17 352.61 53.01 351.22Z"/></clipPath><path id="dout" d="M53.01 351.22C51.86 349.83 46.46 350.29 43.7 350.3C40.93 350.31 39.02 350.68 36.41 351.29C33.81 351.9 30.88 352.91 28.08 353.97C25.28 355.03 22.09 356.43 19.62 357.65C17.16 358.87 15.03 360.02 13.3 361.3C11.57 362.58 10.09 363.83 9.24 365.34C8.39 366.86 8.11 368.51 8.2 370.38C8.29 372.24 9.06 374.44 9.77 376.54C10.49 378.64 11.86 380.83 12.48 382.96C13.1 385.09 13.15 387.39 13.49 389.31C13.84 391.23 13.87 392.95 14.56 394.5C15.24 396.04 16.25 397.58 17.6 398.6C18.95 399.62 20.98 400.35 22.67 400.61C24.37 400.86 26.07 400.63 27.75 400.12C29.43 399.61 31.41 398.83 32.76 397.54C34.1 396.25 34.99 394.12 35.85 392.38C36.72 390.64 37.06 389.02 37.95 387.09C38.83 385.16 40.08 383.07 41.15 380.79C42.21 378.51 43.28 375.87 44.34 373.4C45.41 370.94 46.49 368.47 47.54 366C48.59 363.54 49.72 361.1 50.63 358.63C51.54 356.17 54.17 352.61 53.01 351.22Z" fill="none" stroke="#000" stroke-width="2.2"/><g id="dgreen"><g clip-path="url(#dclip)"><path d="M3 346C11.17 340.17 44.25 344.5 52 346C59.75 347.5 50.5 352.33 49.5 355C48.5 357.67 47.17 359.67 46 362C44.83 364.33 43.75 366.75 42.5 369C41.25 371.25 40 373.75 38.5 375.5C37 377.25 35.42 378.58 33.5 379.5C31.58 380.42 29.25 380.75 27 381C24.75 381.25 22.5 381 20 381C17.5 381 14.83 381 12 381C9.17 381 4.5 386.83 3 381C1.5 375.17 -5.17 351.83 3 346Z" fill="#3fba62" filter="url(#bl1)"/><ellipse cx="25.7" cy="390.5" rx="5" ry="4" fill="#1c7a3a" opacity="0.22" filter="url(#bl15)"/></g></g><g id="dgreen2"><g clip-path="url(#dclip)"><path d="M3 346C11.17 340.17 44.25 344.5 52 346C59.75 347.5 50.5 352.33 49.5 355C48.5 357.67 47.17 359.67 46 362C44.83 364.33 43.75 366.75 42.5 369C41.25 371.25 40 373.75 38.5 375.5C37 377.25 35.42 378.58 33.5 379.5C31.58 380.42 29.25 380.75 27 381C24.75 381.25 22.5 381 20 381C17.5 381 14.83 381 12 381C9.17 381 4.5 386.83 3 381C1.5 375.17 -5.17 351.83 3 346Z" fill="#25a04d" opacity="0.66" filter="url(#bl1)"/></g><path d="M9.1 372.3h.6m5.8-12.5h.6m.2-3.2h.6m7.6-.9h.6m6-4.9h.6m-23 18.4h.6m.9 9.1h.6m18-29.8h.6m1.5 3.7h.6m-21.4 3.6h.6m-2.5 8.6h.6m-.2 11.5h.6m4.2-20.5h.6m-10.9 7.9h.6m30.5-18.9h.6m5.2 5.6h.6m-29.8 14h.6m-7.8-3.4h.6m16.3-5.2h.6m-14.8 19.7h.6m11.7-18.6h.6m-12.7 19.8h.6m13.6-21.4h.6m14.3-9.7h.6m-29.6 19.9h.6m30.3-17.6h.6m-29.7 20h.6m-.6-4.4h.6m4.7-2.7h.6m-3.4 17.9h.6m10.8-35.5h.6m5.8 11.7h.6m-18.8 2.1h.6m7.3-.9h.6m-13 18.3h.6m23.2-21.2h.6m8.8-1.8h.6m-13.8 3.4h.6m-1.9-.6h.6m12.3-4.7h.6m-30.8 11.6h.6m5.1 .9h.6m-6.2 8.9h.6m10.8-15.6h.6m-10.4 12.9h.6m13.6-16.1h.6m4.1 2.7h.6m-.1-1.4h.6m-.8-4.9h.6m-19.4 28.9h.6m-5.7-16.2h.6m30.3-9.9h.6m-27.2 10.1h.6m.7 2.7h.6m-9.7 1.6h.6m1.8 6.1h.6m20.8-20.1h.6m-15.4 15.5h.6m7.6-13.4h.6m-7.4 26h.6m-2.4-15.7h.6m27.1-13.5h.6m-7.8 .8h.6m6.5-.4h.6m-32.4 15h.6m11.4-8.2h.6m-14.1 .5h.6m36-7.1h.6m-32.5 28.3h.6m-.7-15.9h.6m7.1-5.5h.6m-12 10.4h.6m23.3-14.2h.6m12.2 25.1h.6m-6.2-27.7h.6m5 26.9h.6m-32.8 1.6h.6m7.5-22.6h.6m-9.6 20.5h.6m.7-12.1h.6m-2.7 4.1h.6m23.9-20h.6m-2.1 2.1h.6m-16-9.3h.6m-7.9 22.2h.6m25-12.7h.6m-16.4 3.4h.6m22.2-7.4h.6m-30.8 30.9h.6m-2-2.8h.6m14.2-22.2h.6m-2.5 2.9h.6m.3-1.4h.6m11.1-3.5h.6m-25 8.9h.6m-2.4 13.3h.6m.6-13.4h.6m24.2-8.5h.6m-27.3 20.2h.6m9.3-14.4h.6m16.5-6h.6m-2.2 .4h.6m-10.8 3.4h.6m16.8-6.3h.6m-35.3 20.6h.6m-4.7 4h.6m17.9-16.7h.6m-10.7 18.5h.6m-3.3-7.6h.6m1.5 7.8h.6m21.7-27.8h.6m-5.6 4.7h.6m-16.7 8.2h.6m-7.8 3h.6m2.1 2.5h.6m33.7-17.6h.6m-36 6.6h.6m1.4 10.4h.6m-4.8-20.7h.6m4.4 23.9h.6m-3.5-3.5h.6m32.3-15.8h.6m-22 1.8h.6m7.5 3.1h.6m-16.7 21.2h.6m15.1-22.2h.6m-14.5 6.9h.6m-3.2 3.3h.6m10.4-11.3h.6m-14.9 15.9h.6m14.8-13h.6m19.6-6.9h.6m-37.3 10.2h.6m2.5 16.9h.6m7.3-15.7h.6m-6.2 11.8h.6m27.3-20.3h.6m2.9-5.2h.6m-24.3 12.7h.6m15.4-7.3h.6m-8.7 3.4h.6m-17.3 2.7h.6m30.6-7.9h.6m-18.4 2.4h.6m-15 12.7h.6m-3.3-.1h.6m2.2-1.1h.6m22.5-9.5h.6m.1-3.5h.6m-19.1 29h.6m-2.7-2.1h.6m9-22.2h.6m16.5-7.8h.6m-3.2 3.1h.6m-24.1 26.3h.6m3-16.3h.6m-6.1 5.9h.6m-3.4-7.7h.6m.9 17.1h.6m5.4-15.6h.6m27.7 18.1h.6m-25.5-18.8h.6m-5.9-2.4h.6m6.5 .7h.6m-13.9 8.1h.6m13.8-8.4h.6m-8.4 2.8h.6m-3.6 13h.6m15.9-26.2h.6m10.5 3.5h.6m-33.6 13.2h.6m25.8-10.4h.6m4.9-5.8h.6m-26.7 13.3h.6m-1.6 6.6h.6m.9 3.5h.6m3.1-11.9h.6m23.6-9.4h.6m.9 .8h.6m-21.5 .3h.6m22.9 26.8h.6m-30.7-15.5h.6m28.9-12.8h.6m-8.1-2.8h.6m6.4 3.5h.6m-.8-.2h.6m-35.9 16.8h.6m-.1 6.2h.6m23.1-20.9h.6m3.7-.6h.6m1.2-.1h.6m-30.3 16.9h.6m3.7 5.2h.6m30.6-25.2h.6m-17.5 3h.6m16.9 27.5h.6m-1.2-28.3h.6m-15.2 3.4h.6m2.4-3h.6m-25.6 9.9h.6m2.4 5.3h.6m28.5-17.3h.6m-17.6 6.5h.6m-17.7 1.3h.6m4.6 14.5h.6m17.4-18.2h.6m-1.2 1.1h.6m-19.5 13.3h.6m-2.4-.6h.6m4.1 4.6h.6m-4.4-8.3h.6m12.1-8.7h.6m23.4 24.8h.6m-33-27h.6m-1.1 25.1h.6m16.7-22.5h.6m7.9-3.1h.6m-24.2 26.1h.6m22.6-26h.6m-28.6 17.6h.6m1.1-9.7h.6m26.3-8.5h.6m-7.6 2h.6m4.5-3.9h.6m-17.7 3.6h.6m-6.2 9.2h.6m22.4-11.7h.6m-21.2 10.7h.6m-4.6 12.9h.6m1.1 5.5h.6m1.8-27.1h.6m24.9-3h.6m-22.6 9.5h.6m-11.1 8.7h.6m31.7-19.1h.6m-7.8 4.3h.6m-24.9 12.9h.6m15.2-8.7h.6m6.9-3.8h.6m-21.5 8.8h.6m-2.4-4h.6m-1.5 7.7h.6m-3.4 1.7h.6m5.6 11h.6m-1.7-20.2h.6m10.6-1.5h.6m-6.2 0h.6m-3.7 4.9h.6m-10.7-3.5h.6m28.4-7.5h.6m-6.7 4.1h.6m-11.1 4.6h.6m23-10.1h.6m-18.6 3.3h.6m4.7-8.3h.6m-6.8 13.5h.6m-7.6 .9h.6m-5.7 15.2h.6m34.8 5.7h.6m-32.3-19.4h.6m31.1-10.7h.6m-32.5 28.9h.6m-7.2-16.8h.6m34.7-11.8h.6m-25.8 8.9h.6m-2.7 3.3h.6m-6.2 14.3h.6m0-6.8h.6m2.3 9.1h.6m13.5-26.2h.6m4.3-.6h.6m-22.9 22.3h.6m5-12.5h.6m29-10h.6m-4-.7h.6m.3 .1h.6m-30.1 23.6h.6m-1.6-13.5h.6m9.3-2.7h.6m-11.2 8.4h.6m2.3-3.6h.6m-3.7 1.3h.6m-.7 11h.6m2.5 2.1h.6m.3-18.1h.6m17.3-7.8h.6m-16.3 9h.6m24.6-12.6h.6m-30.4 26h.6m9.9-25.2h.6m-11.2 30.8h.6m7.2-20.4h.6m-6.2 1.6h.6m18.9-11.9h.6m.8 1.6h.6m-27 18.8h.6m26-16.9h.6m-1.4 .1h.6m5.5-1.2h.6m-2.2-1.9h.6m-13.5 1.9h.6m-9.9 8.7h.6m1.3-.1h.6m-2.1 2.5h.6m-9.8-.8h.6m15.2-3.8h.6m18.2-6.6h.6m-22.4 4.3h.6m-12.4 19.5h.6m1.7-3.9h.6m29.1-20.3h.6m1.7-2h.6m1.2 1.3h.6m-.7 27.9h.6m-25.7-23h.6m-7.8 16.8h.6m13.6-16h.6m-15.2 8.9h.6m-3.9-.5h.6m-1.3-2.8h.6m3.2 9.2h.6m26-20.8h.6m6 27.7h.6m-34.8-9.6h.6m20.7-15.4h.6m-19.5 10.1h.6m31.4 16.6h.6m-32.4-3.5h.6m-3.9-5.8h.6m26.6-17.9h.6m-25.6 22.3h.6m-1.6-2.8h.6m-.2-2.6h.6m4.2-6.4h.6m2.5-5.7h.6m-7.8 20.9h.6m31.1 1.4h.6m-25.9-19.7h.6m-7.3 16.1h.6m-1-7.9h.6m-2.8 3.8h.6m20-20.7h.6m11.6 0h.6m-30.1 9.3h.6m-1.3 2.9h.6m15.3-7.5h.6m-9.5-9.9h.6m0 13.8h.6m-7.4 1.1h.6m29-9.7h.6m-33.2 12.2h.6m.5 12.4h.6m-2.3-6.2h.6m2.7 5.9h.6m23.3-29.8h.6m-17.8 15.4h.6m23.1-10.8h.6m-30 23.1h.6m17.7-18.6h.6m-19.7 12.1h.6m-5.5 8.8h.6m5.8-11.9h.6m-2.1 13.9h.6m-7.5-6.7h.6m28.2-20.6h.6m-23.4 11.6h.6m12.4-5h.6m-9.8-7.8h.6m5.4 10.2h.6m.7-3.5h.6m-12.8 15h.6m9.9-12.9h.6m.6-2.6h.6m-12.5 14.4h.6m2.2 4.8h.6m17.1-22.8h.6m-20.4 23.9h.6m2.4-14h.6m22.5-9.9h.6m-.6-3.1h.6m-25.1 11.1h.6m-.8 7h.6m30.2-16.2h.6m-33.1 15.3h.6m3.7-6.6h.6m28.5-9h.6m0-2.4h.6m-18.3 7.8h.6m-14.8 20h.6m31.2 3.5h.6m-32-1.5h.6m-.5 2.6h.6m-4.6-4.8h.6m30.3-25.9h.6m-35.1 14.7h.6m4.6 6h.6m-1.3 2.6h.6m24-19.7h.6m-25.7 24.5h.6m-5.2-15.5h.6m5.7-11.8h.6m-.6 23.7h.6m-.2-7.8h.6m-.1-8.5h.6m-8.5 13h.6m37.7-19.7h.6m-31.6 14.1h.6m30.7-14.2h.6m-30.3 27h.6m-5.7-8.7h.6m28.6-17.4h.6m-14.7 3.1h.6m5.3-4.6h.6m-19.1 24.5h.6m28.5-22.8h.6m-29.5 25.2h.6m6.7-32.5h.6m20.2 5.2h.6m-9 3.5h.6m13.9-4.3h.6m-31.5 30h.6m25-27.7h.6m-1.6-1.4h.6m-24.2 13.2h.6m-7 13.2h.6m-3.6-12.3h.6m.8 7.1h.6m.1-1h.6m28.7-17.7h.6m-31.3 12.4h.6m37.4-21.8h.6m-39.8 19.9h.6m2.3 9.9h.6m5.2-8.2h.6m-.5-2.7h.6m-1.1 .2h.6m-6.7 11.2h.6m25.9-26.2h.6m1.8 4.2h.6m-15.1 5.8h.6m-11.1 19h.6m21.4-22.4h.6m-4.9-1.7h.6m-16 24.2h.6m30.4-25.5h.6m-13.8 1.8h.6m-14.6 3.4h.6m-7.7 10.6h.6m-.1 3.2h.6m1.5 4.2h.6m30-28.1h.6m-32.3 29h.6m-.7 2.7h.6m24.4-25.2h.6m-8.9 4.3h.6m1-2.4h.6m-3.8-.8h.6m-22.2 11.5h.6m37.7 15h.6m-32.9-19.1h.6m21.4-8.5h.6m-5.8-3.3h.6m-16.3 20.5h.6m7.7-10.5h.6m-7.8 18.6h.6m9.7-21.6h.6m9.8-4.9h.6m-4-.6h.6m-20.8 16.8h.6m10.8-18.1h.6m16.3 .5h.6m-24.5 9.3h.6m14.1-7.9h.6m13.1-.3h.6m-35 17.5h.6m3 6.2h.6m21.9-21.4h.6m-21.5 26.6h.6m-5.3-8.5h.6m18.3-15.4h.6m-20.9 21.7h.6m18.3-23h.6m-18.2 14.6h.6m.3-3.6h.6m-.1 1.2h.6m30-15.7h.6m-34.5 13.3h.6m27.5-12.3h.6m-16.7 7.8h.6m22.5-9.8h.6m-35.8 16.9h.6m18.1-11h.6m14.7-11h.6m-24.1 14.5h.6m-13.7 13.3h.6m35.9-22.1h.6m-.8 .2h.6m-28.1 4.8h.6m27.2-5h.6m-30.4 13.6h.6m26.6-13.1h.6m-32.7 24.2h.6m37.7 3h.6m-13.8-27.8h.6m-19.2 24.7h.6m-2.2-16.1h.6m-1.5 2.6h.6m29.5-12.8h.6m-7.3-1.7h.6m-22.5 30.7h.6m22.1-24.9h.6m2.1-1.8h.6m-25.9 21.4h.6m-2.8-1.2h.6m-.3 3.3h.6m3.3 3.8h.6m-3.9 1.5h.6m32.1-31.2h.6m-3.1 1.8h.6m-10.1 1.6h.6m11.7-1.6h.6m-38 16.8h.6m7.6-7.4h.6m-2-.3h.6m16.8-6h.6m13.1 25.8h.6m-32-20.6h.6m5.2-1.8h.6m-8.6 11.9h.6m-6.2-10.3h.6m24.5-5.5h.6m-9.7 2.5h.6m-10.8 20.6h.6m.8-33.9h.6m18.7 13.2h.6m-19.9 21.1h.6m20.7-24.3h.6m9.5-2.3h.6m-8.2 2.6h.6m-13.7 2.5h.6m21.1-4.8h.6m-36.8 14.4h.6m5.2-8.1h.6m-6.6 15.8h.6m-1.6-2h.6m23.7-21.8h.6m11.3-.7h.6m-37.2 25.4h.6m31.8-23.2h.6m-26.4 28.1h.6m21-24.9h.6m-1.3-2.9h.6m-22.3 11.8h.6m.1 14h.6m-3.1-6.8h.6m3 10h.6m28.5-28.3h.6m-11.2 2.6h.6m-23.9 5.6h.6m2.4 15.7h.6m.6-10.1h.6m-.3-17.3h.6m-6.6 22.5h.6m19.4-17.1h.6m-15.8 6h.6m-1.5 15.6h.6m7.4-21h.6m-10.2 7.3h.6m-1.8 12.4h.6m24.9-20.3h.6m-27.3 19.8h.6m2.7-4.6h.6m10.3-11.9h.6m13.8-4.4h.6m-25.1 13.1h.6m21.3-13.4h.6m-19 11h.6m-7.3 2.3h.6m26.6-12.6h.6m-11.8 2.9h.6m-11.7 9.7h.6m-10 9.6h.6m2.9-3.9h.6m7.1-10h.6m-7.5 17.8h.6m.6-7.4h.6m1.3-21.9h.6m-.8 26.4h.6m16.4-21.1h.6m-16 8.5h.6m-1.6 15.2h.6m3.2-24.9h.6m-5.4 18.7h.6m17.9-17.6h.6m-19.5 17.2h.6m6-10.1h.6m.7-3.8h.6m-13.1 1.1h.6m36.4-8.3h.6m-19.2 3.3h.6m9.5-2.4h.6m-5.5-4.3h.6m-17.7 27.2h.6m27.3-24.2h.6m-31.1 8.1h.6m2.6 1.6h.6m-2.4 19.6h.6m-5-6.7h.6m32-22.1h.6m-31.6 15.5h.6m6.8-16.6h.6m-10.1 25.6h.6m5.6-15h.6m30.9 19h.6m-26.3-20.9h.6m17.7-6.9h.6m-16.1 5.1h.6m-11.6 15.2h.6m10.8-18.4h.6m4.7 1.4h.6m-12.6 6.9h.6m-6.4 16h.6m9.6-21.9h.6m-9.7 13.8h.6m23.7-17h.6m-20.6 8.3h.6m26.8-12.1h.6m-8.6 2.1h.6m-.5 2h.6m-22.2 7.8h.6m29.5 19.4h.6m-29.6-17.5h.6m-4.4 10.6h.6m6.8-19.9h.6m-6.1 13.2h.6m25.1-18.7h.6m-6.9 6.6h.6m9.4-2.6h.6m-29.4 9.9h.6m-.8-6h.6m30.1-9.1h.6m-34.3 24.8h.6m11.8-13.9h.6m-12.7 8.3h.6m11-8.9h.6m-11.8 22.1h.6m-3.1-28.4h.6m13 1.8h.6m-8.7 26.1h.6m-.3-15.3h.6m-3.4 1.3h.6m4.4-5.8h.6m-1.4 1.2h.6m11.9-7.2h.6m-17.8 5.2h.6m24.3-6.6h.6m4.8-.4h.6m3.8 28.7h.6m-33.8-10.9h.6" stroke="#1f9e4a" stroke-opacity="0.85" stroke-width="0.6" fill="none"/></g><g id="dblue"><g clip-path="url(#dclip)"><path d="M39.6 348C41.97 346 52.02 346.67 54 348C55.98 349.33 52.37 353.58 51.5 356C50.63 358.42 49.68 360.42 48.8 362.5C47.92 364.58 47.07 366.5 46.2 368.5C45.33 370.5 44.4 372.5 43.6 374.5C42.8 376.5 41.95 380.92 41.4 380.5C40.85 380.08 40.57 375.42 40.3 372C40.03 368.58 39.92 364 39.8 360C39.68 356 37.23 350 39.6 348Z" fill="#4a3296" opacity="0.78" filter="url(#bl05)"/></g><path d="M44.8 365.5h.6m-.5 3.5h.6m0-12.8h.6m-.6 10.8h.6m.3-3.7h.6m-1.5 5.2h.6m4.5-13.7h.6m-5.5 15.5h.6m-4 1h.6m5.2-18.4h.6m-1.6 17.2h.6m-.9-7.4h.6m0 .6h.6m-8 9.3h.6m8.1-15.2h.6m-8.2 2.9h.6m7 8.7h.6m-6.8-3.7h.6m.6-6.1h.6m5.1-3.6h.6m-8.9 12.8h.6m4.9-8.3h.6m-2 6.2h.6m-.8-9.1h.6m2.6 11.8h.6m-.1 1.1h.6m-.2-7.2h.6m-2.6 1.6h.6m-6.4-.9h.6m2.5-8.4h.6m.2 10.1h.6m-.2 2.1h.6m5.6-10.9h.6m-8 4.5h.6m-.4 .6h.6m2.7-4.1h.6m-1.4 2.8h.6m-8.5 5.9h.6m7.4-7.6h.6m-6.1 5.5h.6m5.7-4h.6m-.5 1.6h.6m.3-2.7h.6m.3-4.8h.6m0 3.2h.6m-10 8.7h.6m3.8-5.7h.6m-3 .7h.6m3.4 2.1h.6m5.3-9.3h.6m-9.7 18.7h.6m1.8-15.6h.6m.6-3.5h.6m-11.1 11.5h.6m12.4-.7h.6m-5.2 2.8h.6m-1.1-8.3h.6m5.7-5.7h.6m-2.6 8.8h.6m-2.5-.2h.6m-.9-.6h.6m-.6 5.1h.6m1.4-4.4h.6m-6.2 7.4h.6m4.9-9.2h.6m-10.1 4.3h.6m4.1-1.6h.6m1.9-4.3h.6m.4 .2h.6m.8-8.5h.6m-5.2 9.1h.6m-2.6 7.1h.6m3.5 .4h.6m-.2 1.1h.6m-2.4 2.8h.6m.6 .7h.6m1.1-7.7h.6m-4.7-.1h.6m3.8-15.3h.6m-9.1 19.3h.6m5.3-12.5h.6m4.2 8.3h.6m1 4.4h.6m-7.8-9.7h.6m-.8 9.1h.6m.7 6.2h.6m5.1-15h.6m-3.6 6.2h.6m-3 1.8h.6m0 1.1h.6m-.4-7.5h.6m-2.6 2.6h.6m-2.4 6.2h.6m.2-7.4h.6m.4 1.9h.6m2.9-5.5h.6m-7.2 9h.6m1.9-2.7h.6m7.8-11.1h.6m-5.7 8.7h.6m-.4-.5h.6m-4.7 1.5h.6m-.1 .2h.6m5.3 5.5h.6m-.9-8.6h.6m-1.9 7.1h.6m.5-8.2h.6m-2.7 9.4h.6m-4.6 1.9h.6m4-9.5h.6m.9 .6h.6m-10 9.1h.6m10.9-12.9h.6m-13.2 15.4h.6m8.5-14.8h.6m-11.3 15.8h.6m10.8-7.2h.6m-2.3-1.8h.6m.4-5.4h.6m-1.1-8.5h.6" stroke="#4a3a9c" stroke-opacity="0.6" stroke-width="0.6" fill="none"/></g><g id="dred"><ellipse cx="41" cy="378.5" rx="3.8" ry="6.2" transform="rotate(20 41 378.5)" fill="#e8282c" opacity="0.78" filter="url(#bl1)"/><path d="M48.3 373.3h.6m-6.9 4.4h.6m-2.7-1.4h.6m-.1 4.1h.6m1.4-2.5h.6m.8-2.9h.6m-6.9 3.2h.6m.7 1.9h.6m-1 2.2h.6m7-3.7h.6m-8.9 5.6h.6m1.5-3.3h.6m2.9 .3h.6m.4-3.3h.6m-5.9-1.9h.6m3.8-5.5h.6m-1.4 1.1h.6m-7.2 12.3h.6m2.4-3.1h.6m2.3 8.3h.6m-.8-6.9h.6m1.6-4.1h.6m-5.1 2.9h.6m2.5-8.2h.6m-4.5 9.5h.6m1-4.2h.6m8.9-4.7h.6m-13.4 2.1h.6m.7 6.2h.6m2.5-6.5h.6m.2-8.2h.6m-3.5 11.5h.6m1.1-1.6h.6m-3.3 3.8h.6m6.6-1.4h.6m-7.2-3.5h.6m-.7 6.5h.6m4.8 1.8h.6m-5.2-9.4h.6m-1.1 6h.6m2.9-11.5h.6m-3.8 10h.6m-1.3-10h.6m6.4 5.6h.6m-5 3.5h.6m-2.6 .7h.6m8.3-2.7h.6m-4.8-1.4h.6m-8.7 12.5h.6m5.1-9.2h.6m-2.5 3.7h.6m.2 2.4h.6m-1.3 .8h.6m2.1-4.3h.6m-9-1.3h.6m5.6-2h.6m-9-.5h.6m3.8 12.2h.6m1.4-5.1h.6m8.4 6.4h.6m-9.3-5.3h.6m1.8-9.3h.6m.3 2.3h.6m-3.8 2.3h.6m6.3-.4h.6m-7.5 2.6h.6m4.1-3.9h.6m-3 2.9h.6m2.7-10.8h.6m-8.1-1.6h.6m4 9.3h.6m-5 7.1h.6m3.9-1.5h.6m-.9-1.6h.6m.1-14.9h.6m-1.8 8.7h.6m.4 4.6h.6m1.1-3.1h.6m-6.1 6.1h.6m.6-10.6h.6m-4.3 13h.6m2-5.8h.6m4.5 1.1h.6m-1.6-3.9h.6m-2.5-1.4h.6m-1.1 2.3h.6m.7-4.4h.6m-5.5 8.7h.6m3.2-3.6h.6m6.5-13.8h.6m-6.3 5.2h.6m4.6 .1h.6m-9.9 12.1h.6m5.3-1.1h.6m-6.7-1.1h.6m5.6-2.8h.6m.3-1.6h.6m.1 .5h.6m-9.9 2.7h.6m6.4-.9h.6m-2.6-4.6h.6m-2.1 8.9h.6m7.8-4.3h.6m-7.9-4.5h.6m.2 2.5h.6m.3-3.4h.6m-2.6 9.7h.6m2.6-7h.6m-9.8 8.6h.6m5.2-5.5h.6m-3.4 6.7h.6m2.6-4.7h.6m2.3-3h.6m-2.5 2.3h.6m1.5-5.1h.6m-1.9 4.9h.6m3.4-.2h.6m-7.2-5.6h.6m2.2 9.4h.6m0-.9h.6m1.1-5.7h.6m-5.5 2.4h.6m-1.1-4h.6m1.3 11.5h.6m-3.6-10.4h.6m-.1 .4h.6m-2.2 6.1h.6m.5-2.3h.6m2.5 4.1h.6m3.4-9h.6m-2.3 1.2h.6m.7 1.1h.6m-2.9-6.4h.6m.5 4.8h.6m-5 6.3h.6m2.7-5.8h.6m0-.1h.6m-3.7 3.9h.6m-3.5 .6h.6m7.4-.3h.6m-.8-4.5h.6m-6.1 1.9h.6m-.6 5.4h.6m-2-6.8h.6m1.8-1.1h.6m2.9 9.8h.6m-4.5-15.9h.6m4.2 9.8h.6m-2.4-5.5h.6m-.8 .2h.6m.5 .4h.6m-2.5 1.7h.6m-3.2-2.1h.6m3.9 3.1h.6m-4.2 8.9h.6m-3-3.7h.6m-1.1-5.2h.6m5.1-2.6h.6m-6.1 11.5h.6m-1.5-10.1h.6m-.6-.1h.6m4.3 4.1h.6m.6-7.9h.6m-2.8 1.2h.6m-1.6 1.2h.6m-3.7 7.7h.6m5.3-1.1h.6m-3 1h.6m1.7 1h.6m-9.6 .4h.6m.4-1.3h.6m2.1 2.8h.6m3.8-5.3h.6m.6-1.2h.6m-2.7 5.3h.6m1.3-12.9h.6m-1.9 1.5h.6m5 .2h.6m-8.2 8.4h.6m.7-.3h.6m.9-2.9h.6m4.9-6.1h.6m-7.5 8.3h.6m-2 3.7h.6m3.3-3.6h.6m-2.1 .7h.6m2.9-.6h.6m-2.9-2.2h.6m-2.2-4.9h.6m-1.8 14.5h.6m3.3-13.4h.6m.2 1.1h.6m-5.5 8.6h.6m.1-1.4h.6m-.6-4.9h.6m-1 1.6h.6m4.3-2.5h.6m-9.7-2h.6m1.9 8.9h.6m1.6-9.1h.6m-1.8 5.5h.6m4.7-8.7h.6m-6.4 14h.6m-1.5-11.1h.6m.6 8.6h.6m6.9 0h.6m-9.4-8h.6m.4 1.5h.6m7 5.3h.6m.9-12.3h.6m-11.2 9.5h.6m0 1.3h.6m2.4-1.5h.6m-6.5 4.7h.6m-.3 1.9h.6m2.1-2.4h.6m7.2-9h.6m-6.5 8.4h.6m-.6-.4h.6m.2-7.7h.6m-7.3 12.2h.6m6.7-1.5h.6m-1.2-9.8h.6m2.6 7h.6m-1.9-3.8h.6m-3.1-2.1h.6m4.2 1.7h.6m-3.7-.9h.6m3.2 4.4h.6m-2.9-9.8h.6m-7.9 16.4h.6m4.8-16.4h.6m-2.4 4.4h.6m3.3-3.5h.6m-3.7-2.3h.6m-2 10.3h.6m4.7-6.2h.6m-2.7 4.9h.6m-1.7-12.3h.6m.7 7h.6m-3.7 .6h.6m2.6 3.9h.6m-5.1 1.2h.6m.6 5h.6m4.2-12h.6m-2.4 12.3h.6m.5-1.6h.6m-1.3-5.1h.6m-1.6-1.2h.6m-6.1 3h.6m7.2-.7h.6m-6.1 .7h.6m2.5 2.4h.6m-2.7-1.9h.6m1 1h.6m-.1-7.1h.6m-2.5-.1h.6m2.9-2.3h.6m.8 4.1h.6m-4.5 .7h.6" stroke="#e8282c" stroke-opacity="0.7" stroke-width="0.6" fill="none"/></g><clipPath id="clA1"><rect x="41.1" y="40.1" width="86.3" height="86.7"/></clipPath><clipPath id="clA2"><rect x="166" y="40.1" width="86.7" height="86.6"/></clipPath><clipPath id="clB1"><rect x="41.2" y="194.3" width="86.5" height="86.4"/></clipPath><clipPath id="clB2"><rect x="165.4" y="194.3" width="86.8" height="86.4"/></clipPath></defs>
<text x="0" y="0" font-size="11.4" transform="translate(8.6 16.2) scale(0.9 1)" stroke="#231f20" stroke-width="0.24">A</text>
<text x="0" y="0" font-size="11.4" transform="translate(9.4 170.6) scale(0.9 1)" stroke="#231f20" stroke-width="0.24">B</text>
<text x="0" y="0" font-size="11.4" transform="translate(270.2 16.1) scale(0.9 1)" stroke="#231f20" stroke-width="0.24">C</text>
<text x="0" y="0" font-size="11.4" transform="translate(8.7 324.5) scale(0.9 1)" stroke="#231f20" stroke-width="0.24">D</text>
<text x="0" y="0" font-size="11.4" transform="translate(9 464.5) scale(0.9 1)" stroke="#231f20" stroke-width="0.24">E</text>
<text x="77.5" y="33.7" font-size="9.2" textLength="118.7" lengthAdjust="spacingAndGlyphs" stroke="#231f20" stroke-width="0.24">Gated on CD3<tspan font-size="6.4" dy="-2.5">+</tspan><tspan dy="2.5"> Lymphocytes</tspan></text>
<text x="64.5" y="188.3" font-size="9.2" textLength="144.7" lengthAdjust="spacingAndGlyphs" stroke="#231f20" stroke-width="0.24">Gated on CD8<tspan font-size="6.4" dy="-2.5">+</tspan><tspan dy="2.5"> conventional T cells</tspan></text>
<rect x="40.5" y="39.5" width="87.5" height="87.9" fill="none" stroke="#1a1a1a" stroke-width="1.3"/>
<line x1="37.5" y1="47.5" x2="40.5" y2="47.5" stroke="#231f20" stroke-width="1.1"/>
<line x1="37.5" y1="67.3" x2="40.5" y2="67.3" stroke="#231f20" stroke-width="1.1"/>
<line x1="37.5" y1="88.4" x2="40.5" y2="88.4" stroke="#231f20" stroke-width="1.1"/>
<line x1="37.5" y1="113.1" x2="40.5" y2="113.1" stroke="#231f20" stroke-width="1.1"/>
<line x1="38.7" y1="61.34" x2="40.5" y2="61.34" stroke="#231f20" stroke-width="0.8"/>
<line x1="38.7" y1="57.85" x2="40.5" y2="57.85" stroke="#231f20" stroke-width="0.8"/>
<line x1="38.7" y1="55.38" x2="40.5" y2="55.38" stroke="#231f20" stroke-width="0.8"/>
<line x1="38.7" y1="53.46" x2="40.5" y2="53.46" stroke="#231f20" stroke-width="0.8"/>
<line x1="38.7" y1="51.89" x2="40.5" y2="51.89" stroke="#231f20" stroke-width="0.8"/>
<line x1="38.7" y1="50.57" x2="40.5" y2="50.57" stroke="#231f20" stroke-width="0.8"/>
<line x1="38.7" y1="49.42" x2="40.5" y2="49.42" stroke="#231f20" stroke-width="0.8"/>
<line x1="38.7" y1="48.41" x2="40.5" y2="48.41" stroke="#231f20" stroke-width="0.8"/>
<line x1="38.7" y1="82.05" x2="40.5" y2="82.05" stroke="#231f20" stroke-width="0.8"/>
<line x1="38.7" y1="78.33" x2="40.5" y2="78.33" stroke="#231f20" stroke-width="0.8"/>
<line x1="38.7" y1="75.7" x2="40.5" y2="75.7" stroke="#231f20" stroke-width="0.8"/>
<line x1="38.7" y1="73.65" x2="40.5" y2="73.65" stroke="#231f20" stroke-width="0.8"/>
<line x1="38.7" y1="71.98" x2="40.5" y2="71.98" stroke="#231f20" stroke-width="0.8"/>
<line x1="38.7" y1="70.57" x2="40.5" y2="70.57" stroke="#231f20" stroke-width="0.8"/>
<line x1="38.7" y1="69.34" x2="40.5" y2="69.34" stroke="#231f20" stroke-width="0.8"/>
<line x1="38.7" y1="68.27" x2="40.5" y2="68.27" stroke="#231f20" stroke-width="0.8"/>
<line x1="38.7" y1="95" x2="40.5" y2="95" stroke="#231f20" stroke-width="0.8"/>
<line x1="38.7" y1="100" x2="40.5" y2="100" stroke="#231f20" stroke-width="0.8"/>
<line x1="38.7" y1="104" x2="40.5" y2="104" stroke="#231f20" stroke-width="0.8"/>
<line x1="38.7" y1="108" x2="40.5" y2="108" stroke="#231f20" stroke-width="0.8"/>
<line x1="38.7" y1="117" x2="40.5" y2="117" stroke="#231f20" stroke-width="0.8"/>
<line x1="38.7" y1="121" x2="40.5" y2="121" stroke="#231f20" stroke-width="0.8"/>
<line x1="38.7" y1="125" x2="40.5" y2="125" stroke="#231f20" stroke-width="0.8"/>
<line x1="53.5" y1="127.4" x2="53.5" y2="130.4" stroke="#231f20" stroke-width="1.1"/>
<line x1="79.2" y1="127.4" x2="79.2" y2="130.4" stroke="#231f20" stroke-width="1.1"/>
<line x1="100" y1="127.4" x2="100" y2="130.4" stroke="#231f20" stroke-width="1.1"/>
<line x1="120.5" y1="127.4" x2="120.5" y2="130.4" stroke="#231f20" stroke-width="1.1"/>
<line x1="85.46" y1="127.4" x2="85.46" y2="129.2" stroke="#231f20" stroke-width="0.8"/>
<line x1="89.12" y1="127.4" x2="89.12" y2="129.2" stroke="#231f20" stroke-width="0.8"/>
<line x1="91.72" y1="127.4" x2="91.72" y2="129.2" stroke="#231f20" stroke-width="0.8"/>
<line x1="93.74" y1="127.4" x2="93.74" y2="129.2" stroke="#231f20" stroke-width="0.8"/>
<line x1="95.39" y1="127.4" x2="95.39" y2="129.2" stroke="#231f20" stroke-width="0.8"/>
<line x1="96.78" y1="127.4" x2="96.78" y2="129.2" stroke="#231f20" stroke-width="0.8"/>
<line x1="97.98" y1="127.4" x2="97.98" y2="129.2" stroke="#231f20" stroke-width="0.8"/>
<line x1="99.05" y1="127.4" x2="99.05" y2="129.2" stroke="#231f20" stroke-width="0.8"/>
<line x1="106.17" y1="127.4" x2="106.17" y2="129.2" stroke="#231f20" stroke-width="0.8"/>
<line x1="109.78" y1="127.4" x2="109.78" y2="129.2" stroke="#231f20" stroke-width="0.8"/>
<line x1="112.34" y1="127.4" x2="112.34" y2="129.2" stroke="#231f20" stroke-width="0.8"/>
<line x1="114.33" y1="127.4" x2="114.33" y2="129.2" stroke="#231f20" stroke-width="0.8"/>
<line x1="115.95" y1="127.4" x2="115.95" y2="129.2" stroke="#231f20" stroke-width="0.8"/>
<line x1="117.32" y1="127.4" x2="117.32" y2="129.2" stroke="#231f20" stroke-width="0.8"/>
<line x1="118.51" y1="127.4" x2="118.51" y2="129.2" stroke="#231f20" stroke-width="0.8"/>
<line x1="119.56" y1="127.4" x2="119.56" y2="129.2" stroke="#231f20" stroke-width="0.8"/>
<line x1="46" y1="127.4" x2="46" y2="129.2" stroke="#231f20" stroke-width="0.8"/>
<line x1="50.4" y1="127.4" x2="50.4" y2="129.2" stroke="#231f20" stroke-width="0.8"/>
<line x1="57" y1="127.4" x2="57" y2="129.2" stroke="#231f20" stroke-width="0.8"/>
<line x1="60" y1="127.4" x2="60" y2="129.2" stroke="#231f20" stroke-width="0.8"/>
<line x1="63" y1="127.4" x2="63" y2="129.2" stroke="#231f20" stroke-width="0.8"/>
<line x1="66.5" y1="127.4" x2="66.5" y2="129.2" stroke="#231f20" stroke-width="0.8"/>
<line x1="70.5" y1="127.4" x2="70.5" y2="129.2" stroke="#231f20" stroke-width="0.8"/>
<line x1="74.5" y1="127.4" x2="74.5" y2="129.2" stroke="#231f20" stroke-width="0.8"/>
<text x="0" y="0" font-size="8.1" text-anchor="end" transform="translate(34.6 51.4) scale(0.84 1)" stroke="#231f20" stroke-width="0.24">10<tspan font-size="5.02" dy="-3.4">5</tspan></text>
<text x="0" y="0" font-size="8.1" text-anchor="end" transform="translate(34.6 71.2) scale(0.84 1)" stroke="#231f20" stroke-width="0.24">10<tspan font-size="5.02" dy="-3.4">4</tspan></text>
<text x="0" y="0" font-size="8.1" text-anchor="end" transform="translate(34.6 92.3) scale(0.84 1)" stroke="#231f20" stroke-width="0.24">10<tspan font-size="5.02" dy="-3.4">3</tspan></text>
<text x="0" y="0" font-size="7.29" text-anchor="end" transform="translate(33.7 115.7) scale(0.84 1)" stroke="#231f20" stroke-width="0.24">0</text>
<text x="0" y="0" font-size="7.29" text-anchor="middle" transform="translate(53.5 140.5) scale(0.84 1)" stroke="#231f20" stroke-width="0.24">0</text>
<text x="0" y="0" font-size="8.1" text-anchor="middle" transform="translate(74.8 140.5) scale(0.84 1)" stroke="#231f20" stroke-width="0.24">10<tspan font-size="5.02" dy="-3.4">3</tspan></text>
<text x="0" y="0" font-size="8.1" text-anchor="middle" transform="translate(95.8 140.5) scale(0.84 1)" stroke="#231f20" stroke-width="0.24">10<tspan font-size="5.02" dy="-3.4">4</tspan></text>
<text x="0" y="0" font-size="8.1" text-anchor="middle" transform="translate(116.2 140.5) scale(0.84 1)" stroke="#231f20" stroke-width="0.24">10<tspan font-size="5.02" dy="-3.4">5</tspan></text>
<text x="15.6" y="83.7" font-size="9.2" text-anchor="middle" textLength="25.8" lengthAdjust="spacingAndGlyphs" transform="rotate(-90 15.6 83.7)" stroke="#231f20" stroke-width="0.24">CD161</text>
<text x="84.6" y="154.3" font-size="9.2" text-anchor="middle" textLength="41.5" lengthAdjust="spacingAndGlyphs" stroke="#231f20" stroke-width="0.24">V&#945;7.2 TCR</text>
<rect x="165.4" y="39.5" width="87.9" height="87.8" fill="none" stroke="#1a1a1a" stroke-width="1.3"/>
<line x1="162.4" y1="47.5" x2="165.4" y2="47.5" stroke="#231f20" stroke-width="1.1"/>
<line x1="162.4" y1="67.5" x2="165.4" y2="67.5" stroke="#231f20" stroke-width="1.1"/>
<line x1="162.4" y1="87.1" x2="165.4" y2="87.1" stroke="#231f20" stroke-width="1.1"/>
<line x1="162.4" y1="108.7" x2="165.4" y2="108.7" stroke="#231f20" stroke-width="1.1"/>
<line x1="162.4" y1="118.3" x2="165.4" y2="118.3" stroke="#231f20" stroke-width="1.1"/>
<line x1="163.6" y1="61.48" x2="165.4" y2="61.48" stroke="#231f20" stroke-width="0.8"/>
<line x1="163.6" y1="57.96" x2="165.4" y2="57.96" stroke="#231f20" stroke-width="0.8"/>
<line x1="163.6" y1="55.46" x2="165.4" y2="55.46" stroke="#231f20" stroke-width="0.8"/>
<line x1="163.6" y1="53.52" x2="165.4" y2="53.52" stroke="#231f20" stroke-width="0.8"/>
<line x1="163.6" y1="51.94" x2="165.4" y2="51.94" stroke="#231f20" stroke-width="0.8"/>
<line x1="163.6" y1="50.6" x2="165.4" y2="50.6" stroke="#231f20" stroke-width="0.8"/>
<line x1="163.6" y1="49.44" x2="165.4" y2="49.44" stroke="#231f20" stroke-width="0.8"/>
<line x1="163.6" y1="48.42" x2="165.4" y2="48.42" stroke="#231f20" stroke-width="0.8"/>
<line x1="163.6" y1="81.2" x2="165.4" y2="81.2" stroke="#231f20" stroke-width="0.8"/>
<line x1="163.6" y1="77.75" x2="165.4" y2="77.75" stroke="#231f20" stroke-width="0.8"/>
<line x1="163.6" y1="75.3" x2="165.4" y2="75.3" stroke="#231f20" stroke-width="0.8"/>
<line x1="163.6" y1="73.4" x2="165.4" y2="73.4" stroke="#231f20" stroke-width="0.8"/>
<line x1="163.6" y1="71.85" x2="165.4" y2="71.85" stroke="#231f20" stroke-width="0.8"/>
<line x1="163.6" y1="70.54" x2="165.4" y2="70.54" stroke="#231f20" stroke-width="0.8"/>
<line x1="163.6" y1="69.4" x2="165.4" y2="69.4" stroke="#231f20" stroke-width="0.8"/>
<line x1="163.6" y1="68.4" x2="165.4" y2="68.4" stroke="#231f20" stroke-width="0.8"/>
<line x1="163.6" y1="102.2" x2="165.4" y2="102.2" stroke="#231f20" stroke-width="0.8"/>
<line x1="163.6" y1="98.39" x2="165.4" y2="98.39" stroke="#231f20" stroke-width="0.8"/>
<line x1="163.6" y1="95.7" x2="165.4" y2="95.7" stroke="#231f20" stroke-width="0.8"/>
<line x1="163.6" y1="93.6" x2="165.4" y2="93.6" stroke="#231f20" stroke-width="0.8"/>
<line x1="163.6" y1="91.89" x2="165.4" y2="91.89" stroke="#231f20" stroke-width="0.8"/>
<line x1="163.6" y1="90.45" x2="165.4" y2="90.45" stroke="#231f20" stroke-width="0.8"/>
<line x1="163.6" y1="89.19" x2="165.4" y2="89.19" stroke="#231f20" stroke-width="0.8"/>
<line x1="163.6" y1="88.09" x2="165.4" y2="88.09" stroke="#231f20" stroke-width="0.8"/>
<line x1="163.6" y1="112" x2="165.4" y2="112" stroke="#231f20" stroke-width="0.8"/>
<line x1="163.6" y1="115" x2="165.4" y2="115" stroke="#231f20" stroke-width="0.8"/>
<line x1="163.6" y1="121.5" x2="165.4" y2="121.5" stroke="#231f20" stroke-width="0.8"/>
<line x1="163.6" y1="124.5" x2="165.4" y2="124.5" stroke="#231f20" stroke-width="0.8"/>
<line x1="173.6" y1="127.3" x2="173.6" y2="130.3" stroke="#231f20" stroke-width="1.1"/>
<line x1="186.5" y1="127.3" x2="186.5" y2="130.3" stroke="#231f20" stroke-width="1.1"/>
<line x1="208" y1="127.3" x2="208" y2="130.3" stroke="#231f20" stroke-width="1.1"/>
<line x1="228.5" y1="127.3" x2="228.5" y2="130.3" stroke="#231f20" stroke-width="1.1"/>
<line x1="249" y1="127.3" x2="249" y2="130.3" stroke="#231f20" stroke-width="1.1"/>
<line x1="214.17" y1="127.3" x2="214.17" y2="129.1" stroke="#231f20" stroke-width="0.8"/>
<line x1="217.78" y1="127.3" x2="217.78" y2="129.1" stroke="#231f20" stroke-width="0.8"/>
<line x1="220.34" y1="127.3" x2="220.34" y2="129.1" stroke="#231f20" stroke-width="0.8"/>
<line x1="222.33" y1="127.3" x2="222.33" y2="129.1" stroke="#231f20" stroke-width="0.8"/>
<line x1="223.95" y1="127.3" x2="223.95" y2="129.1" stroke="#231f20" stroke-width="0.8"/>
<line x1="225.32" y1="127.3" x2="225.32" y2="129.1" stroke="#231f20" stroke-width="0.8"/>
<line x1="226.51" y1="127.3" x2="226.51" y2="129.1" stroke="#231f20" stroke-width="0.8"/>
<line x1="227.56" y1="127.3" x2="227.56" y2="129.1" stroke="#231f20" stroke-width="0.8"/>
<line x1="234.67" y1="127.3" x2="234.67" y2="129.1" stroke="#231f20" stroke-width="0.8"/>
<line x1="238.28" y1="127.3" x2="238.28" y2="129.1" stroke="#231f20" stroke-width="0.8"/>
<line x1="240.84" y1="127.3" x2="240.84" y2="129.1" stroke="#231f20" stroke-width="0.8"/>
<line x1="242.83" y1="127.3" x2="242.83" y2="129.1" stroke="#231f20" stroke-width="0.8"/>
<line x1="244.45" y1="127.3" x2="244.45" y2="129.1" stroke="#231f20" stroke-width="0.8"/>
<line x1="245.82" y1="127.3" x2="245.82" y2="129.1" stroke="#231f20" stroke-width="0.8"/>
<line x1="247.01" y1="127.3" x2="247.01" y2="129.1" stroke="#231f20" stroke-width="0.8"/>
<line x1="248.06" y1="127.3" x2="248.06" y2="129.1" stroke="#231f20" stroke-width="0.8"/>
<line x1="192.97" y1="127.3" x2="192.97" y2="129.1" stroke="#231f20" stroke-width="0.8"/>
<line x1="196.76" y1="127.3" x2="196.76" y2="129.1" stroke="#231f20" stroke-width="0.8"/>
<line x1="199.44" y1="127.3" x2="199.44" y2="129.1" stroke="#231f20" stroke-width="0.8"/>
<line x1="201.53" y1="127.3" x2="201.53" y2="129.1" stroke="#231f20" stroke-width="0.8"/>
<line x1="203.23" y1="127.3" x2="203.23" y2="129.1" stroke="#231f20" stroke-width="0.8"/>
<line x1="204.67" y1="127.3" x2="204.67" y2="129.1" stroke="#231f20" stroke-width="0.8"/>
<line x1="205.92" y1="127.3" x2="205.92" y2="129.1" stroke="#231f20" stroke-width="0.8"/>
<line x1="207.02" y1="127.3" x2="207.02" y2="129.1" stroke="#231f20" stroke-width="0.8"/>
<line x1="168" y1="127.3" x2="168" y2="129.1" stroke="#231f20" stroke-width="0.8"/>
<line x1="171" y1="127.3" x2="171" y2="129.1" stroke="#231f20" stroke-width="0.8"/>
<line x1="176.5" y1="127.3" x2="176.5" y2="129.1" stroke="#231f20" stroke-width="0.8"/>
<line x1="179.5" y1="127.3" x2="179.5" y2="129.1" stroke="#231f20" stroke-width="0.8"/>
<line x1="182.5" y1="127.3" x2="182.5" y2="129.1" stroke="#231f20" stroke-width="0.8"/>
<text x="0" y="0" font-size="8.1" text-anchor="end" transform="translate(159.2 51.4) scale(0.84 1)" stroke="#231f20" stroke-width="0.24">10<tspan font-size="5.02" dy="-3.4">5</tspan></text>
<text x="0" y="0" font-size="8.1" text-anchor="end" transform="translate(159.2 71.4) scale(0.84 1)" stroke="#231f20" stroke-width="0.24">10<tspan font-size="5.02" dy="-3.4">4</tspan></text>
<text x="0" y="0" font-size="8.1" text-anchor="end" transform="translate(159.2 91) scale(0.84 1)" stroke="#231f20" stroke-width="0.24">10<tspan font-size="5.02" dy="-3.4">3</tspan></text>
<text x="0" y="0" font-size="8.1" text-anchor="end" transform="translate(159.2 112.6) scale(0.84 1)" stroke="#231f20" stroke-width="0.24">10<tspan font-size="5.02" dy="-3.4">2</tspan></text>
<text x="0" y="0" font-size="7.29" text-anchor="end" transform="translate(158.9 120.9) scale(0.84 1)" stroke="#231f20" stroke-width="0.24">0</text>
<text x="0" y="0" font-size="7.29" text-anchor="middle" transform="translate(173.65 140.6) scale(0.84 1)" stroke="#231f20" stroke-width="0.24">0</text>
<text x="0" y="0" font-size="8.1" text-anchor="middle" transform="translate(184 140.6) scale(0.84 1)" stroke="#231f20" stroke-width="0.24">10<tspan font-size="5.02" dy="-3.4">2</tspan></text>
<text x="0" y="0" font-size="8.1" text-anchor="middle" transform="translate(205.4 140.6) scale(0.84 1)" stroke="#231f20" stroke-width="0.24">10<tspan font-size="5.02" dy="-3.4">3</tspan></text>
<text x="0" y="0" font-size="8.1" text-anchor="middle" transform="translate(225.7 140.6) scale(0.84 1)" stroke="#231f20" stroke-width="0.24">10<tspan font-size="5.02" dy="-3.4">4</tspan></text>
<text x="0" y="0" font-size="8.1" text-anchor="middle" transform="translate(245.4 140.6) scale(0.84 1)" stroke="#231f20" stroke-width="0.24">10<tspan font-size="5.02" dy="-3.4">5</tspan></text>
<text x="141" y="83.7" font-size="9.2" text-anchor="middle" textLength="26" lengthAdjust="spacingAndGlyphs" transform="rotate(-90 141 83.7)" stroke="#231f20" stroke-width="0.24">&#947;&#948; TCR</text>
<text x="208.9" y="154.6" font-size="9.2" text-anchor="middle" textLength="60.5" lengthAdjust="spacingAndGlyphs" stroke="#231f20" stroke-width="0.24">CD1d tetramer</text>
<rect x="40.6" y="193.7" width="87.7" height="87.6" fill="none" stroke="#1a1a1a" stroke-width="1.3"/>
<line x1="37.6" y1="201.7" x2="40.6" y2="201.7" stroke="#231f20" stroke-width="1.1"/>
<line x1="37.6" y1="221.5" x2="40.6" y2="221.5" stroke="#231f20" stroke-width="1.1"/>
<line x1="37.6" y1="241.6" x2="40.6" y2="241.6" stroke="#231f20" stroke-width="1.1"/>
<line x1="37.6" y1="262.8" x2="40.6" y2="262.8" stroke="#231f20" stroke-width="1.1"/>
<line x1="37.6" y1="272.3" x2="40.6" y2="272.3" stroke="#231f20" stroke-width="1.1"/>
<line x1="38.8" y1="215.54" x2="40.6" y2="215.54" stroke="#231f20" stroke-width="0.8"/>
<line x1="38.8" y1="212.05" x2="40.6" y2="212.05" stroke="#231f20" stroke-width="0.8"/>
<line x1="38.8" y1="209.58" x2="40.6" y2="209.58" stroke="#231f20" stroke-width="0.8"/>
<line x1="38.8" y1="207.66" x2="40.6" y2="207.66" stroke="#231f20" stroke-width="0.8"/>
<line x1="38.8" y1="206.09" x2="40.6" y2="206.09" stroke="#231f20" stroke-width="0.8"/>
<line x1="38.8" y1="204.77" x2="40.6" y2="204.77" stroke="#231f20" stroke-width="0.8"/>
<line x1="38.8" y1="203.62" x2="40.6" y2="203.62" stroke="#231f20" stroke-width="0.8"/>
<line x1="38.8" y1="202.61" x2="40.6" y2="202.61" stroke="#231f20" stroke-width="0.8"/>
<line x1="38.8" y1="235.55" x2="40.6" y2="235.55" stroke="#231f20" stroke-width="0.8"/>
<line x1="38.8" y1="232.01" x2="40.6" y2="232.01" stroke="#231f20" stroke-width="0.8"/>
<line x1="38.8" y1="229.5" x2="40.6" y2="229.5" stroke="#231f20" stroke-width="0.8"/>
<line x1="38.8" y1="227.55" x2="40.6" y2="227.55" stroke="#231f20" stroke-width="0.8"/>
<line x1="38.8" y1="225.96" x2="40.6" y2="225.96" stroke="#231f20" stroke-width="0.8"/>
<line x1="38.8" y1="224.61" x2="40.6" y2="224.61" stroke="#231f20" stroke-width="0.8"/>
<line x1="38.8" y1="223.45" x2="40.6" y2="223.45" stroke="#231f20" stroke-width="0.8"/>
<line x1="38.8" y1="222.42" x2="40.6" y2="222.42" stroke="#231f20" stroke-width="0.8"/>
<line x1="38.8" y1="256.42" x2="40.6" y2="256.42" stroke="#231f20" stroke-width="0.8"/>
<line x1="38.8" y1="252.69" x2="40.6" y2="252.69" stroke="#231f20" stroke-width="0.8"/>
<line x1="38.8" y1="250.04" x2="40.6" y2="250.04" stroke="#231f20" stroke-width="0.8"/>
<line x1="38.8" y1="247.98" x2="40.6" y2="247.98" stroke="#231f20" stroke-width="0.8"/>
<line x1="38.8" y1="246.3" x2="40.6" y2="246.3" stroke="#231f20" stroke-width="0.8"/>
<line x1="38.8" y1="244.88" x2="40.6" y2="244.88" stroke="#231f20" stroke-width="0.8"/>
<line x1="38.8" y1="243.65" x2="40.6" y2="243.65" stroke="#231f20" stroke-width="0.8"/>
<line x1="38.8" y1="242.57" x2="40.6" y2="242.57" stroke="#231f20" stroke-width="0.8"/>
<line x1="38.8" y1="266" x2="40.6" y2="266" stroke="#231f20" stroke-width="0.8"/>
<line x1="38.8" y1="269" x2="40.6" y2="269" stroke="#231f20" stroke-width="0.8"/>
<line x1="38.8" y1="275.5" x2="40.6" y2="275.5" stroke="#231f20" stroke-width="0.8"/>
<line x1="38.8" y1="278.5" x2="40.6" y2="278.5" stroke="#231f20" stroke-width="0.8"/>
<line x1="54.8" y1="281.3" x2="54.8" y2="284.3" stroke="#231f20" stroke-width="1.1"/>
<line x1="79.3" y1="281.3" x2="79.3" y2="284.3" stroke="#231f20" stroke-width="1.1"/>
<line x1="100.4" y1="281.3" x2="100.4" y2="284.3" stroke="#231f20" stroke-width="1.1"/>
<line x1="121" y1="281.3" x2="121" y2="284.3" stroke="#231f20" stroke-width="1.1"/>
<line x1="85.65" y1="281.3" x2="85.65" y2="283.1" stroke="#231f20" stroke-width="0.8"/>
<line x1="89.37" y1="281.3" x2="89.37" y2="283.1" stroke="#231f20" stroke-width="0.8"/>
<line x1="92" y1="281.3" x2="92" y2="283.1" stroke="#231f20" stroke-width="0.8"/>
<line x1="94.05" y1="281.3" x2="94.05" y2="283.1" stroke="#231f20" stroke-width="0.8"/>
<line x1="95.72" y1="281.3" x2="95.72" y2="283.1" stroke="#231f20" stroke-width="0.8"/>
<line x1="97.13" y1="281.3" x2="97.13" y2="283.1" stroke="#231f20" stroke-width="0.8"/>
<line x1="98.36" y1="281.3" x2="98.36" y2="283.1" stroke="#231f20" stroke-width="0.8"/>
<line x1="99.43" y1="281.3" x2="99.43" y2="283.1" stroke="#231f20" stroke-width="0.8"/>
<line x1="106.6" y1="281.3" x2="106.6" y2="283.1" stroke="#231f20" stroke-width="0.8"/>
<line x1="110.23" y1="281.3" x2="110.23" y2="283.1" stroke="#231f20" stroke-width="0.8"/>
<line x1="112.8" y1="281.3" x2="112.8" y2="283.1" stroke="#231f20" stroke-width="0.8"/>
<line x1="114.8" y1="281.3" x2="114.8" y2="283.1" stroke="#231f20" stroke-width="0.8"/>
<line x1="116.43" y1="281.3" x2="116.43" y2="283.1" stroke="#231f20" stroke-width="0.8"/>
<line x1="117.81" y1="281.3" x2="117.81" y2="283.1" stroke="#231f20" stroke-width="0.8"/>
<line x1="119" y1="281.3" x2="119" y2="283.1" stroke="#231f20" stroke-width="0.8"/>
<line x1="120.06" y1="281.3" x2="120.06" y2="283.1" stroke="#231f20" stroke-width="0.8"/>
<line x1="44" y1="281.3" x2="44" y2="283.1" stroke="#231f20" stroke-width="0.8"/>
<line x1="47.5" y1="281.3" x2="47.5" y2="283.1" stroke="#231f20" stroke-width="0.8"/>
<line x1="51" y1="281.3" x2="51" y2="283.1" stroke="#231f20" stroke-width="0.8"/>
<line x1="58.5" y1="281.3" x2="58.5" y2="283.1" stroke="#231f20" stroke-width="0.8"/>
<line x1="62" y1="281.3" x2="62" y2="283.1" stroke="#231f20" stroke-width="0.8"/>
<line x1="65.5" y1="281.3" x2="65.5" y2="283.1" stroke="#231f20" stroke-width="0.8"/>
<line x1="69" y1="281.3" x2="69" y2="283.1" stroke="#231f20" stroke-width="0.8"/>
<line x1="72.5" y1="281.3" x2="72.5" y2="283.1" stroke="#231f20" stroke-width="0.8"/>
<line x1="76" y1="281.3" x2="76" y2="283.1" stroke="#231f20" stroke-width="0.8"/>
<text x="0" y="0" font-size="8.1" text-anchor="end" transform="translate(34.2 205.6) scale(0.84 1)" stroke="#231f20" stroke-width="0.24">10<tspan font-size="5.02" dy="-3.4">5</tspan></text>
<text x="0" y="0" font-size="8.1" text-anchor="end" transform="translate(34.2 225.4) scale(0.84 1)" stroke="#231f20" stroke-width="0.24">10<tspan font-size="5.02" dy="-3.4">4</tspan></text>
<text x="0" y="0" font-size="8.1" text-anchor="end" transform="translate(34.2 245.5) scale(0.84 1)" stroke="#231f20" stroke-width="0.24">10<tspan font-size="5.02" dy="-3.4">3</tspan></text>
<text x="0" y="0" font-size="8.1" text-anchor="end" transform="translate(34.2 266.7) scale(0.84 1)" stroke="#231f20" stroke-width="0.24">10<tspan font-size="5.02" dy="-3.4">2</tspan></text>
<text x="0" y="0" font-size="7.29" text-anchor="end" transform="translate(33.9 274.9) scale(0.84 1)" stroke="#231f20" stroke-width="0.24">0</text>
<text x="0" y="0" font-size="7.29" text-anchor="middle" transform="translate(54.8 294.3) scale(0.84 1)" stroke="#231f20" stroke-width="0.24">0</text>
<text x="0" y="0" font-size="8.1" text-anchor="middle" transform="translate(79.7 294.3) scale(0.84 1)" stroke="#231f20" stroke-width="0.24">10<tspan font-size="5.02" dy="-3.4">3</tspan></text>
<text x="0" y="0" font-size="8.1" text-anchor="middle" transform="translate(100.4 294.3) scale(0.84 1)" stroke="#231f20" stroke-width="0.24">10<tspan font-size="5.02" dy="-3.4">4</tspan></text>
<text x="0" y="0" font-size="8.1" text-anchor="middle" transform="translate(120.75 294.3) scale(0.84 1)" stroke="#231f20" stroke-width="0.24">10<tspan font-size="5.02" dy="-3.4">5</tspan></text>
<text x="15.8" y="237.4" font-size="9.2" text-anchor="middle" textLength="29.6" lengthAdjust="spacingAndGlyphs" transform="rotate(-90 15.8 237.4)" stroke="#231f20" stroke-width="0.24">Isotype</text>
<text x="84" y="308.3" font-size="9.2" text-anchor="middle" textLength="29.6" lengthAdjust="spacingAndGlyphs" stroke="#231f20" stroke-width="0.24">Isotype</text>
<rect x="164.8" y="193.7" width="88" height="87.6" fill="none" stroke="#1a1a1a" stroke-width="1.3"/>
<line x1="161.8" y1="201.7" x2="164.8" y2="201.7" stroke="#231f20" stroke-width="1.1"/>
<line x1="161.8" y1="221.5" x2="164.8" y2="221.5" stroke="#231f20" stroke-width="1.1"/>
<line x1="161.8" y1="241.6" x2="164.8" y2="241.6" stroke="#231f20" stroke-width="1.1"/>
<line x1="161.8" y1="262.8" x2="164.8" y2="262.8" stroke="#231f20" stroke-width="1.1"/>
<line x1="161.8" y1="272.3" x2="164.8" y2="272.3" stroke="#231f20" stroke-width="1.1"/>
<line x1="163" y1="215.54" x2="164.8" y2="215.54" stroke="#231f20" stroke-width="0.8"/>
<line x1="163" y1="212.05" x2="164.8" y2="212.05" stroke="#231f20" stroke-width="0.8"/>
<line x1="163" y1="209.58" x2="164.8" y2="209.58" stroke="#231f20" stroke-width="0.8"/>
<line x1="163" y1="207.66" x2="164.8" y2="207.66" stroke="#231f20" stroke-width="0.8"/>
<line x1="163" y1="206.09" x2="164.8" y2="206.09" stroke="#231f20" stroke-width="0.8"/>
<line x1="163" y1="204.77" x2="164.8" y2="204.77" stroke="#231f20" stroke-width="0.8"/>
<line x1="163" y1="203.62" x2="164.8" y2="203.62" stroke="#231f20" stroke-width="0.8"/>
<line x1="163" y1="202.61" x2="164.8" y2="202.61" stroke="#231f20" stroke-width="0.8"/>
<line x1="163" y1="235.55" x2="164.8" y2="235.55" stroke="#231f20" stroke-width="0.8"/>
<line x1="163" y1="232.01" x2="164.8" y2="232.01" stroke="#231f20" stroke-width="0.8"/>
<line x1="163" y1="229.5" x2="164.8" y2="229.5" stroke="#231f20" stroke-width="0.8"/>
<line x1="163" y1="227.55" x2="164.8" y2="227.55" stroke="#231f20" stroke-width="0.8"/>
<line x1="163" y1="225.96" x2="164.8" y2="225.96" stroke="#231f20" stroke-width="0.8"/>
<line x1="163" y1="224.61" x2="164.8" y2="224.61" stroke="#231f20" stroke-width="0.8"/>
<line x1="163" y1="223.45" x2="164.8" y2="223.45" stroke="#231f20" stroke-width="0.8"/>
<line x1="163" y1="222.42" x2="164.8" y2="222.42" stroke="#231f20" stroke-width="0.8"/>
<line x1="163" y1="256.42" x2="164.8" y2="256.42" stroke="#231f20" stroke-width="0.8"/>
<line x1="163" y1="252.69" x2="164.8" y2="252.69" stroke="#231f20" stroke-width="0.8"/>
<line x1="163" y1="250.04" x2="164.8" y2="250.04" stroke="#231f20" stroke-width="0.8"/>
<line x1="163" y1="247.98" x2="164.8" y2="247.98" stroke="#231f20" stroke-width="0.8"/>
<line x1="163" y1="246.3" x2="164.8" y2="246.3" stroke="#231f20" stroke-width="0.8"/>
<line x1="163" y1="244.88" x2="164.8" y2="244.88" stroke="#231f20" stroke-width="0.8"/>
<line x1="163" y1="243.65" x2="164.8" y2="243.65" stroke="#231f20" stroke-width="0.8"/>
<line x1="163" y1="242.57" x2="164.8" y2="242.57" stroke="#231f20" stroke-width="0.8"/>
<line x1="163" y1="266" x2="164.8" y2="266" stroke="#231f20" stroke-width="0.8"/>
<line x1="163" y1="269" x2="164.8" y2="269" stroke="#231f20" stroke-width="0.8"/>
<line x1="163" y1="275.5" x2="164.8" y2="275.5" stroke="#231f20" stroke-width="0.8"/>
<line x1="163" y1="278.5" x2="164.8" y2="278.5" stroke="#231f20" stroke-width="0.8"/>
<line x1="178.6" y1="281.3" x2="178.6" y2="284.3" stroke="#231f20" stroke-width="1.1"/>
<line x1="203.3" y1="281.3" x2="203.3" y2="284.3" stroke="#231f20" stroke-width="1.1"/>
<line x1="224.4" y1="281.3" x2="224.4" y2="284.3" stroke="#231f20" stroke-width="1.1"/>
<line x1="245" y1="281.3" x2="245" y2="284.3" stroke="#231f20" stroke-width="1.1"/>
<line x1="209.65" y1="281.3" x2="209.65" y2="283.1" stroke="#231f20" stroke-width="0.8"/>
<line x1="213.37" y1="281.3" x2="213.37" y2="283.1" stroke="#231f20" stroke-width="0.8"/>
<line x1="216" y1="281.3" x2="216" y2="283.1" stroke="#231f20" stroke-width="0.8"/>
<line x1="218.05" y1="281.3" x2="218.05" y2="283.1" stroke="#231f20" stroke-width="0.8"/>
<line x1="219.72" y1="281.3" x2="219.72" y2="283.1" stroke="#231f20" stroke-width="0.8"/>
<line x1="221.13" y1="281.3" x2="221.13" y2="283.1" stroke="#231f20" stroke-width="0.8"/>
<line x1="222.36" y1="281.3" x2="222.36" y2="283.1" stroke="#231f20" stroke-width="0.8"/>
<line x1="223.43" y1="281.3" x2="223.43" y2="283.1" stroke="#231f20" stroke-width="0.8"/>
<line x1="230.6" y1="281.3" x2="230.6" y2="283.1" stroke="#231f20" stroke-width="0.8"/>
<line x1="234.23" y1="281.3" x2="234.23" y2="283.1" stroke="#231f20" stroke-width="0.8"/>
<line x1="236.8" y1="281.3" x2="236.8" y2="283.1" stroke="#231f20" stroke-width="0.8"/>
<line x1="238.8" y1="281.3" x2="238.8" y2="283.1" stroke="#231f20" stroke-width="0.8"/>
<line x1="240.43" y1="281.3" x2="240.43" y2="283.1" stroke="#231f20" stroke-width="0.8"/>
<line x1="241.81" y1="281.3" x2="241.81" y2="283.1" stroke="#231f20" stroke-width="0.8"/>
<line x1="243" y1="281.3" x2="243" y2="283.1" stroke="#231f20" stroke-width="0.8"/>
<line x1="244.06" y1="281.3" x2="244.06" y2="283.1" stroke="#231f20" stroke-width="0.8"/>
<line x1="168" y1="281.3" x2="168" y2="283.1" stroke="#231f20" stroke-width="0.8"/>
<line x1="171.5" y1="281.3" x2="171.5" y2="283.1" stroke="#231f20" stroke-width="0.8"/>
<line x1="175" y1="281.3" x2="175" y2="283.1" stroke="#231f20" stroke-width="0.8"/>
<line x1="182.5" y1="281.3" x2="182.5" y2="283.1" stroke="#231f20" stroke-width="0.8"/>
<line x1="186" y1="281.3" x2="186" y2="283.1" stroke="#231f20" stroke-width="0.8"/>
<line x1="189.5" y1="281.3" x2="189.5" y2="283.1" stroke="#231f20" stroke-width="0.8"/>
<line x1="193" y1="281.3" x2="193" y2="283.1" stroke="#231f20" stroke-width="0.8"/>
<line x1="196.5" y1="281.3" x2="196.5" y2="283.1" stroke="#231f20" stroke-width="0.8"/>
<line x1="200" y1="281.3" x2="200" y2="283.1" stroke="#231f20" stroke-width="0.8"/>
<text x="0" y="0" font-size="8.1" text-anchor="end" transform="translate(158 205.6) scale(0.84 1)" stroke="#231f20" stroke-width="0.24">10<tspan font-size="5.02" dy="-3.4">5</tspan></text>
<text x="0" y="0" font-size="8.1" text-anchor="end" transform="translate(158 225.4) scale(0.84 1)" stroke="#231f20" stroke-width="0.24">10<tspan font-size="5.02" dy="-3.4">4</tspan></text>
<text x="0" y="0" font-size="8.1" text-anchor="end" transform="translate(158 245.5) scale(0.84 1)" stroke="#231f20" stroke-width="0.24">10<tspan font-size="5.02" dy="-3.4">3</tspan></text>
<text x="0" y="0" font-size="8.1" text-anchor="end" transform="translate(158 266.7) scale(0.84 1)" stroke="#231f20" stroke-width="0.24">10<tspan font-size="5.02" dy="-3.4">2</tspan></text>
<text x="0" y="0" font-size="7.29" text-anchor="end" transform="translate(157.7 274.9) scale(0.84 1)" stroke="#231f20" stroke-width="0.24">0</text>
<text x="0" y="0" font-size="7.29" text-anchor="middle" transform="translate(178.6 294.3) scale(0.84 1)" stroke="#231f20" stroke-width="0.24">0</text>
<text x="0" y="0" font-size="8.1" text-anchor="middle" transform="translate(203.9 294.3) scale(0.84 1)" stroke="#231f20" stroke-width="0.24">10<tspan font-size="5.02" dy="-3.4">3</tspan></text>
<text x="0" y="0" font-size="8.1" text-anchor="middle" transform="translate(224.6 294.3) scale(0.84 1)" stroke="#231f20" stroke-width="0.24">10<tspan font-size="5.02" dy="-3.4">4</tspan></text>
<text x="0" y="0" font-size="8.1" text-anchor="middle" transform="translate(244.8 294.3) scale(0.84 1)" stroke="#231f20" stroke-width="0.24">10<tspan font-size="5.02" dy="-3.4">5</tspan></text>
<text x="140" y="237.4" font-size="9.2" text-anchor="middle" textLength="17.4" lengthAdjust="spacingAndGlyphs" transform="rotate(-90 140 237.4)" stroke="#231f20" stroke-width="0.24">Tbet</text>
<text x="208.6" y="308.3" font-size="9.2" text-anchor="middle" textLength="24.5" lengthAdjust="spacingAndGlyphs" stroke="#231f20" stroke-width="0.24">ROR&#947;t</text>
<rect x="39.8" y="330.6" width="91.3" height="90.2" fill="none" stroke="#1a1a1a" stroke-width="1.3"/>
<line x1="36.8" y1="338.3" x2="39.8" y2="338.3" stroke="#231f20" stroke-width="1.1"/>
<line x1="36.8" y1="359" x2="39.8" y2="359" stroke="#231f20" stroke-width="1.1"/>
<line x1="36.8" y1="379.6" x2="39.8" y2="379.6" stroke="#231f20" stroke-width="1.1"/>
<line x1="36.8" y1="402.5" x2="39.8" y2="402.5" stroke="#231f20" stroke-width="1.1"/>
<line x1="36.8" y1="412.5" x2="39.8" y2="412.5" stroke="#231f20" stroke-width="1.1"/>
<line x1="38" y1="352.77" x2="39.8" y2="352.77" stroke="#231f20" stroke-width="0.8"/>
<line x1="38" y1="349.12" x2="39.8" y2="349.12" stroke="#231f20" stroke-width="0.8"/>
<line x1="38" y1="346.54" x2="39.8" y2="346.54" stroke="#231f20" stroke-width="0.8"/>
<line x1="38" y1="344.53" x2="39.8" y2="344.53" stroke="#231f20" stroke-width="0.8"/>
<line x1="38" y1="342.89" x2="39.8" y2="342.89" stroke="#231f20" stroke-width="0.8"/>
<line x1="38" y1="341.51" x2="39.8" y2="341.51" stroke="#231f20" stroke-width="0.8"/>
<line x1="38" y1="340.31" x2="39.8" y2="340.31" stroke="#231f20" stroke-width="0.8"/>
<line x1="38" y1="339.25" x2="39.8" y2="339.25" stroke="#231f20" stroke-width="0.8"/>
<line x1="38" y1="373.4" x2="39.8" y2="373.4" stroke="#231f20" stroke-width="0.8"/>
<line x1="38" y1="369.77" x2="39.8" y2="369.77" stroke="#231f20" stroke-width="0.8"/>
<line x1="38" y1="367.2" x2="39.8" y2="367.2" stroke="#231f20" stroke-width="0.8"/>
<line x1="38" y1="365.2" x2="39.8" y2="365.2" stroke="#231f20" stroke-width="0.8"/>
<line x1="38" y1="363.57" x2="39.8" y2="363.57" stroke="#231f20" stroke-width="0.8"/>
<line x1="38" y1="362.19" x2="39.8" y2="362.19" stroke="#231f20" stroke-width="0.8"/>
<line x1="38" y1="361" x2="39.8" y2="361" stroke="#231f20" stroke-width="0.8"/>
<line x1="38" y1="359.94" x2="39.8" y2="359.94" stroke="#231f20" stroke-width="0.8"/>
<line x1="38" y1="395.61" x2="39.8" y2="395.61" stroke="#231f20" stroke-width="0.8"/>
<line x1="38" y1="391.57" x2="39.8" y2="391.57" stroke="#231f20" stroke-width="0.8"/>
<line x1="38" y1="388.71" x2="39.8" y2="388.71" stroke="#231f20" stroke-width="0.8"/>
<line x1="38" y1="386.49" x2="39.8" y2="386.49" stroke="#231f20" stroke-width="0.8"/>
<line x1="38" y1="384.68" x2="39.8" y2="384.68" stroke="#231f20" stroke-width="0.8"/>
<line x1="38" y1="383.15" x2="39.8" y2="383.15" stroke="#231f20" stroke-width="0.8"/>
<line x1="38" y1="381.82" x2="39.8" y2="381.82" stroke="#231f20" stroke-width="0.8"/>
<line x1="38" y1="380.65" x2="39.8" y2="380.65" stroke="#231f20" stroke-width="0.8"/>
<line x1="38" y1="406" x2="39.8" y2="406" stroke="#231f20" stroke-width="0.8"/>
<line x1="38" y1="409" x2="39.8" y2="409" stroke="#231f20" stroke-width="0.8"/>
<line x1="38" y1="416" x2="39.8" y2="416" stroke="#231f20" stroke-width="0.8"/>
<line x1="38" y1="419" x2="39.8" y2="419" stroke="#231f20" stroke-width="0.8"/>
<line x1="54" y1="420.8" x2="54" y2="423.8" stroke="#231f20" stroke-width="1.1"/>
<line x1="80.3" y1="420.8" x2="80.3" y2="423.8" stroke="#231f20" stroke-width="1.1"/>
<line x1="102.3" y1="420.8" x2="102.3" y2="423.8" stroke="#231f20" stroke-width="1.1"/>
<line x1="124" y1="420.8" x2="124" y2="423.8" stroke="#231f20" stroke-width="1.1"/>
<line x1="86.92" y1="420.8" x2="86.92" y2="422.6" stroke="#231f20" stroke-width="0.8"/>
<line x1="90.8" y1="420.8" x2="90.8" y2="422.6" stroke="#231f20" stroke-width="0.8"/>
<line x1="93.55" y1="420.8" x2="93.55" y2="422.6" stroke="#231f20" stroke-width="0.8"/>
<line x1="95.68" y1="420.8" x2="95.68" y2="422.6" stroke="#231f20" stroke-width="0.8"/>
<line x1="97.42" y1="420.8" x2="97.42" y2="422.6" stroke="#231f20" stroke-width="0.8"/>
<line x1="98.89" y1="420.8" x2="98.89" y2="422.6" stroke="#231f20" stroke-width="0.8"/>
<line x1="100.17" y1="420.8" x2="100.17" y2="422.6" stroke="#231f20" stroke-width="0.8"/>
<line x1="101.29" y1="420.8" x2="101.29" y2="422.6" stroke="#231f20" stroke-width="0.8"/>
<line x1="108.83" y1="420.8" x2="108.83" y2="422.6" stroke="#231f20" stroke-width="0.8"/>
<line x1="112.65" y1="420.8" x2="112.65" y2="422.6" stroke="#231f20" stroke-width="0.8"/>
<line x1="115.36" y1="420.8" x2="115.36" y2="422.6" stroke="#231f20" stroke-width="0.8"/>
<line x1="117.47" y1="420.8" x2="117.47" y2="422.6" stroke="#231f20" stroke-width="0.8"/>
<line x1="119.19" y1="420.8" x2="119.19" y2="422.6" stroke="#231f20" stroke-width="0.8"/>
<line x1="120.64" y1="420.8" x2="120.64" y2="422.6" stroke="#231f20" stroke-width="0.8"/>
<line x1="121.9" y1="420.8" x2="121.9" y2="422.6" stroke="#231f20" stroke-width="0.8"/>
<line x1="123.01" y1="420.8" x2="123.01" y2="422.6" stroke="#231f20" stroke-width="0.8"/>
<line x1="43" y1="420.8" x2="43" y2="422.6" stroke="#231f20" stroke-width="0.8"/>
<line x1="47" y1="420.8" x2="47" y2="422.6" stroke="#231f20" stroke-width="0.8"/>
<line x1="50.5" y1="420.8" x2="50.5" y2="422.6" stroke="#231f20" stroke-width="0.8"/>
<line x1="57.5" y1="420.8" x2="57.5" y2="422.6" stroke="#231f20" stroke-width="0.8"/>
<line x1="61" y1="420.8" x2="61" y2="422.6" stroke="#231f20" stroke-width="0.8"/>
<line x1="64.5" y1="420.8" x2="64.5" y2="422.6" stroke="#231f20" stroke-width="0.8"/>
<line x1="68" y1="420.8" x2="68" y2="422.6" stroke="#231f20" stroke-width="0.8"/>
<line x1="71.5" y1="420.8" x2="71.5" y2="422.6" stroke="#231f20" stroke-width="0.8"/>
<line x1="75" y1="420.8" x2="75" y2="422.6" stroke="#231f20" stroke-width="0.8"/>
<line x1="77.5" y1="420.8" x2="77.5" y2="422.6" stroke="#231f20" stroke-width="0.8"/>
<text x="0" y="0" font-size="8.9" text-anchor="end" transform="translate(34.6 342.2) scale(0.84 1)" stroke="#231f20" stroke-width="0.24">10<tspan font-size="5.52" dy="-3.74">5</tspan></text>
<text x="0" y="0" font-size="8.9" text-anchor="end" transform="translate(34.6 362.9) scale(0.84 1)" stroke="#231f20" stroke-width="0.24">10<tspan font-size="5.52" dy="-3.74">4</tspan></text>
<text x="0" y="0" font-size="8.9" text-anchor="end" transform="translate(34.6 383.5) scale(0.84 1)" stroke="#231f20" stroke-width="0.24">10<tspan font-size="5.52" dy="-3.74">3</tspan></text>
<text x="0" y="0" font-size="8.9" text-anchor="end" transform="translate(34.6 406.4) scale(0.84 1)" stroke="#231f20" stroke-width="0.24">10<tspan font-size="5.52" dy="-3.74">2</tspan></text>
<text x="0" y="0" font-size="8.01" text-anchor="end" transform="translate(34 415.1) scale(0.84 1)" stroke="#231f20" stroke-width="0.24">0</text>
<text x="0" y="0" font-size="8.01" text-anchor="middle" transform="translate(54.6 435) scale(0.84 1)" stroke="#231f20" stroke-width="0.24">0</text>
<text x="0" y="0" font-size="8.9" text-anchor="middle" transform="translate(80.6 435) scale(0.84 1)" stroke="#231f20" stroke-width="0.24">10<tspan font-size="5.52" dy="-3.74">3</tspan></text>
<text x="0" y="0" font-size="8.9" text-anchor="middle" transform="translate(102.2 435) scale(0.84 1)" stroke="#231f20" stroke-width="0.24">10<tspan font-size="5.52" dy="-3.74">4</tspan></text>
<text x="0" y="0" font-size="8.9" text-anchor="middle" transform="translate(123.7 435) scale(0.84 1)" stroke="#231f20" stroke-width="0.24">10<tspan font-size="5.52" dy="-3.74">5</tspan></text>
<rect x="153.5" y="330.6" width="91.3" height="90.2" fill="none" stroke="#1a1a1a" stroke-width="1.3"/>
<line x1="150.5" y1="338.3" x2="153.5" y2="338.3" stroke="#231f20" stroke-width="1.1"/>
<line x1="150.5" y1="359" x2="153.5" y2="359" stroke="#231f20" stroke-width="1.1"/>
<line x1="150.5" y1="379.6" x2="153.5" y2="379.6" stroke="#231f20" stroke-width="1.1"/>
<line x1="150.5" y1="402.5" x2="153.5" y2="402.5" stroke="#231f20" stroke-width="1.1"/>
<line x1="150.5" y1="412.5" x2="153.5" y2="412.5" stroke="#231f20" stroke-width="1.1"/>
<line x1="151.7" y1="352.77" x2="153.5" y2="352.77" stroke="#231f20" stroke-width="0.8"/>
<line x1="151.7" y1="349.12" x2="153.5" y2="349.12" stroke="#231f20" stroke-width="0.8"/>
<line x1="151.7" y1="346.54" x2="153.5" y2="346.54" stroke="#231f20" stroke-width="0.8"/>
<line x1="151.7" y1="344.53" x2="153.5" y2="344.53" stroke="#231f20" stroke-width="0.8"/>
<line x1="151.7" y1="342.89" x2="153.5" y2="342.89" stroke="#231f20" stroke-width="0.8"/>
<line x1="151.7" y1="341.51" x2="153.5" y2="341.51" stroke="#231f20" stroke-width="0.8"/>
<line x1="151.7" y1="340.31" x2="153.5" y2="340.31" stroke="#231f20" stroke-width="0.8"/>
<line x1="151.7" y1="339.25" x2="153.5" y2="339.25" stroke="#231f20" stroke-width="0.8"/>
<line x1="151.7" y1="373.4" x2="153.5" y2="373.4" stroke="#231f20" stroke-width="0.8"/>
<line x1="151.7" y1="369.77" x2="153.5" y2="369.77" stroke="#231f20" stroke-width="0.8"/>
<line x1="151.7" y1="367.2" x2="153.5" y2="367.2" stroke="#231f20" stroke-width="0.8"/>
<line x1="151.7" y1="365.2" x2="153.5" y2="365.2" stroke="#231f20" stroke-width="0.8"/>
<line x1="151.7" y1="363.57" x2="153.5" y2="363.57" stroke="#231f20" stroke-width="0.8"/>
<line x1="151.7" y1="362.19" x2="153.5" y2="362.19" stroke="#231f20" stroke-width="0.8"/>
<line x1="151.7" y1="361" x2="153.5" y2="361" stroke="#231f20" stroke-width="0.8"/>
<line x1="151.7" y1="359.94" x2="153.5" y2="359.94" stroke="#231f20" stroke-width="0.8"/>
<line x1="151.7" y1="395.61" x2="153.5" y2="395.61" stroke="#231f20" stroke-width="0.8"/>
<line x1="151.7" y1="391.57" x2="153.5" y2="391.57" stroke="#231f20" stroke-width="0.8"/>
<line x1="151.7" y1="388.71" x2="153.5" y2="388.71" stroke="#231f20" stroke-width="0.8"/>
<line x1="151.7" y1="386.49" x2="153.5" y2="386.49" stroke="#231f20" stroke-width="0.8"/>
<line x1="151.7" y1="384.68" x2="153.5" y2="384.68" stroke="#231f20" stroke-width="0.8"/>
<line x1="151.7" y1="383.15" x2="153.5" y2="383.15" stroke="#231f20" stroke-width="0.8"/>
<line x1="151.7" y1="381.82" x2="153.5" y2="381.82" stroke="#231f20" stroke-width="0.8"/>
<line x1="151.7" y1="380.65" x2="153.5" y2="380.65" stroke="#231f20" stroke-width="0.8"/>
<line x1="151.7" y1="406" x2="153.5" y2="406" stroke="#231f20" stroke-width="0.8"/>
<line x1="151.7" y1="409" x2="153.5" y2="409" stroke="#231f20" stroke-width="0.8"/>
<line x1="151.7" y1="416" x2="153.5" y2="416" stroke="#231f20" stroke-width="0.8"/>
<line x1="151.7" y1="419" x2="153.5" y2="419" stroke="#231f20" stroke-width="0.8"/>
<line x1="167.7" y1="420.8" x2="167.7" y2="423.8" stroke="#231f20" stroke-width="1.1"/>
<line x1="194" y1="420.8" x2="194" y2="423.8" stroke="#231f20" stroke-width="1.1"/>
<line x1="216" y1="420.8" x2="216" y2="423.8" stroke="#231f20" stroke-width="1.1"/>
<line x1="237.7" y1="420.8" x2="237.7" y2="423.8" stroke="#231f20" stroke-width="1.1"/>
<line x1="200.62" y1="420.8" x2="200.62" y2="422.6" stroke="#231f20" stroke-width="0.8"/>
<line x1="204.5" y1="420.8" x2="204.5" y2="422.6" stroke="#231f20" stroke-width="0.8"/>
<line x1="207.25" y1="420.8" x2="207.25" y2="422.6" stroke="#231f20" stroke-width="0.8"/>
<line x1="209.38" y1="420.8" x2="209.38" y2="422.6" stroke="#231f20" stroke-width="0.8"/>
<line x1="211.12" y1="420.8" x2="211.12" y2="422.6" stroke="#231f20" stroke-width="0.8"/>
<line x1="212.59" y1="420.8" x2="212.59" y2="422.6" stroke="#231f20" stroke-width="0.8"/>
<line x1="213.87" y1="420.8" x2="213.87" y2="422.6" stroke="#231f20" stroke-width="0.8"/>
<line x1="214.99" y1="420.8" x2="214.99" y2="422.6" stroke="#231f20" stroke-width="0.8"/>
<line x1="222.53" y1="420.8" x2="222.53" y2="422.6" stroke="#231f20" stroke-width="0.8"/>
<line x1="226.35" y1="420.8" x2="226.35" y2="422.6" stroke="#231f20" stroke-width="0.8"/>
<line x1="229.06" y1="420.8" x2="229.06" y2="422.6" stroke="#231f20" stroke-width="0.8"/>
<line x1="231.17" y1="420.8" x2="231.17" y2="422.6" stroke="#231f20" stroke-width="0.8"/>
<line x1="232.89" y1="420.8" x2="232.89" y2="422.6" stroke="#231f20" stroke-width="0.8"/>
<line x1="234.34" y1="420.8" x2="234.34" y2="422.6" stroke="#231f20" stroke-width="0.8"/>
<line x1="235.6" y1="420.8" x2="235.6" y2="422.6" stroke="#231f20" stroke-width="0.8"/>
<line x1="236.71" y1="420.8" x2="236.71" y2="422.6" stroke="#231f20" stroke-width="0.8"/>
<line x1="156.7" y1="420.8" x2="156.7" y2="422.6" stroke="#231f20" stroke-width="0.8"/>
<line x1="160.7" y1="420.8" x2="160.7" y2="422.6" stroke="#231f20" stroke-width="0.8"/>
<line x1="164.2" y1="420.8" x2="164.2" y2="422.6" stroke="#231f20" stroke-width="0.8"/>
<line x1="171.2" y1="420.8" x2="171.2" y2="422.6" stroke="#231f20" stroke-width="0.8"/>
<line x1="174.7" y1="420.8" x2="174.7" y2="422.6" stroke="#231f20" stroke-width="0.8"/>
<line x1="178.2" y1="420.8" x2="178.2" y2="422.6" stroke="#231f20" stroke-width="0.8"/>
<line x1="181.7" y1="420.8" x2="181.7" y2="422.6" stroke="#231f20" stroke-width="0.8"/>
<line x1="185.2" y1="420.8" x2="185.2" y2="422.6" stroke="#231f20" stroke-width="0.8"/>
<line x1="188.7" y1="420.8" x2="188.7" y2="422.6" stroke="#231f20" stroke-width="0.8"/>
<line x1="191.2" y1="420.8" x2="191.2" y2="422.6" stroke="#231f20" stroke-width="0.8"/>
<text x="0" y="0" font-size="8.9" text-anchor="end" transform="translate(148.3 342.2) scale(0.84 1)" stroke="#231f20" stroke-width="0.24">10<tspan font-size="5.52" dy="-3.74">5</tspan></text>
<text x="0" y="0" font-size="8.9" text-anchor="end" transform="translate(148.3 362.9) scale(0.84 1)" stroke="#231f20" stroke-width="0.24">10<tspan font-size="5.52" dy="-3.74">4</tspan></text>
<text x="0" y="0" font-size="8.9" text-anchor="end" transform="translate(148.3 383.5) scale(0.84 1)" stroke="#231f20" stroke-width="0.24">10<tspan font-size="5.52" dy="-3.74">3</tspan></text>
<text x="0" y="0" font-size="8.9" text-anchor="end" transform="translate(148.3 406.4) scale(0.84 1)" stroke="#231f20" stroke-width="0.24">10<tspan font-size="5.52" dy="-3.74">2</tspan></text>
<text x="0" y="0" font-size="8.01" text-anchor="end" transform="translate(147.7 415.1) scale(0.84 1)" stroke="#231f20" stroke-width="0.24">0</text>
<text x="0" y="0" font-size="8.01" text-anchor="middle" transform="translate(168.3 435) scale(0.84 1)" stroke="#231f20" stroke-width="0.24">0</text>
<text x="0" y="0" font-size="8.9" text-anchor="middle" transform="translate(194.3 435) scale(0.84 1)" stroke="#231f20" stroke-width="0.24">10<tspan font-size="5.52" dy="-3.74">3</tspan></text>
<text x="0" y="0" font-size="8.9" text-anchor="middle" transform="translate(215.9 435) scale(0.84 1)" stroke="#231f20" stroke-width="0.24">10<tspan font-size="5.52" dy="-3.74">4</tspan></text>
<text x="0" y="0" font-size="8.9" text-anchor="middle" transform="translate(237.4 435) scale(0.84 1)" stroke="#231f20" stroke-width="0.24">10<tspan font-size="5.52" dy="-3.74">5</tspan></text>
<rect x="267.2" y="330.6" width="91.3" height="90.2" fill="none" stroke="#1a1a1a" stroke-width="1.3"/>
<line x1="264.2" y1="338.3" x2="267.2" y2="338.3" stroke="#231f20" stroke-width="1.1"/>
<line x1="264.2" y1="359" x2="267.2" y2="359" stroke="#231f20" stroke-width="1.1"/>
<line x1="264.2" y1="379.6" x2="267.2" y2="379.6" stroke="#231f20" stroke-width="1.1"/>
<line x1="264.2" y1="402.5" x2="267.2" y2="402.5" stroke="#231f20" stroke-width="1.1"/>
<line x1="264.2" y1="412.5" x2="267.2" y2="412.5" stroke="#231f20" stroke-width="1.1"/>
<line x1="265.4" y1="352.77" x2="267.2" y2="352.77" stroke="#231f20" stroke-width="0.8"/>
<line x1="265.4" y1="349.12" x2="267.2" y2="349.12" stroke="#231f20" stroke-width="0.8"/>
<line x1="265.4" y1="346.54" x2="267.2" y2="346.54" stroke="#231f20" stroke-width="0.8"/>
<line x1="265.4" y1="344.53" x2="267.2" y2="344.53" stroke="#231f20" stroke-width="0.8"/>
<line x1="265.4" y1="342.89" x2="267.2" y2="342.89" stroke="#231f20" stroke-width="0.8"/>
<line x1="265.4" y1="341.51" x2="267.2" y2="341.51" stroke="#231f20" stroke-width="0.8"/>
<line x1="265.4" y1="340.31" x2="267.2" y2="340.31" stroke="#231f20" stroke-width="0.8"/>
<line x1="265.4" y1="339.25" x2="267.2" y2="339.25" stroke="#231f20" stroke-width="0.8"/>
<line x1="265.4" y1="373.4" x2="267.2" y2="373.4" stroke="#231f20" stroke-width="0.8"/>
<line x1="265.4" y1="369.77" x2="267.2" y2="369.77" stroke="#231f20" stroke-width="0.8"/>
<line x1="265.4" y1="367.2" x2="267.2" y2="367.2" stroke="#231f20" stroke-width="0.8"/>
<line x1="265.4" y1="365.2" x2="267.2" y2="365.2" stroke="#231f20" stroke-width="0.8"/>
<line x1="265.4" y1="363.57" x2="267.2" y2="363.57" stroke="#231f20" stroke-width="0.8"/>
<line x1="265.4" y1="362.19" x2="267.2" y2="362.19" stroke="#231f20" stroke-width="0.8"/>
<line x1="265.4" y1="361" x2="267.2" y2="361" stroke="#231f20" stroke-width="0.8"/>
<line x1="265.4" y1="359.94" x2="267.2" y2="359.94" stroke="#231f20" stroke-width="0.8"/>
<line x1="265.4" y1="395.61" x2="267.2" y2="395.61" stroke="#231f20" stroke-width="0.8"/>
<line x1="265.4" y1="391.57" x2="267.2" y2="391.57" stroke="#231f20" stroke-width="0.8"/>
<line x1="265.4" y1="388.71" x2="267.2" y2="388.71" stroke="#231f20" stroke-width="0.8"/>
<line x1="265.4" y1="386.49" x2="267.2" y2="386.49" stroke="#231f20" stroke-width="0.8"/>
<line x1="265.4" y1="384.68" x2="267.2" y2="384.68" stroke="#231f20" stroke-width="0.8"/>
<line x1="265.4" y1="383.15" x2="267.2" y2="383.15" stroke="#231f20" stroke-width="0.8"/>
<line x1="265.4" y1="381.82" x2="267.2" y2="381.82" stroke="#231f20" stroke-width="0.8"/>
<line x1="265.4" y1="380.65" x2="267.2" y2="380.65" stroke="#231f20" stroke-width="0.8"/>
<line x1="265.4" y1="406" x2="267.2" y2="406" stroke="#231f20" stroke-width="0.8"/>
<line x1="265.4" y1="409" x2="267.2" y2="409" stroke="#231f20" stroke-width="0.8"/>
<line x1="265.4" y1="416" x2="267.2" y2="416" stroke="#231f20" stroke-width="0.8"/>
<line x1="265.4" y1="419" x2="267.2" y2="419" stroke="#231f20" stroke-width="0.8"/>
<line x1="281.4" y1="420.8" x2="281.4" y2="423.8" stroke="#231f20" stroke-width="1.1"/>
<line x1="307.7" y1="420.8" x2="307.7" y2="423.8" stroke="#231f20" stroke-width="1.1"/>
<line x1="329.7" y1="420.8" x2="329.7" y2="423.8" stroke="#231f20" stroke-width="1.1"/>
<line x1="351.4" y1="420.8" x2="351.4" y2="423.8" stroke="#231f20" stroke-width="1.1"/>
<line x1="314.32" y1="420.8" x2="314.32" y2="422.6" stroke="#231f20" stroke-width="0.8"/>
<line x1="318.2" y1="420.8" x2="318.2" y2="422.6" stroke="#231f20" stroke-width="0.8"/>
<line x1="320.95" y1="420.8" x2="320.95" y2="422.6" stroke="#231f20" stroke-width="0.8"/>
<line x1="323.08" y1="420.8" x2="323.08" y2="422.6" stroke="#231f20" stroke-width="0.8"/>
<line x1="324.82" y1="420.8" x2="324.82" y2="422.6" stroke="#231f20" stroke-width="0.8"/>
<line x1="326.29" y1="420.8" x2="326.29" y2="422.6" stroke="#231f20" stroke-width="0.8"/>
<line x1="327.57" y1="420.8" x2="327.57" y2="422.6" stroke="#231f20" stroke-width="0.8"/>
<line x1="328.69" y1="420.8" x2="328.69" y2="422.6" stroke="#231f20" stroke-width="0.8"/>
<line x1="336.23" y1="420.8" x2="336.23" y2="422.6" stroke="#231f20" stroke-width="0.8"/>
<line x1="340.05" y1="420.8" x2="340.05" y2="422.6" stroke="#231f20" stroke-width="0.8"/>
<line x1="342.76" y1="420.8" x2="342.76" y2="422.6" stroke="#231f20" stroke-width="0.8"/>
<line x1="344.87" y1="420.8" x2="344.87" y2="422.6" stroke="#231f20" stroke-width="0.8"/>
<line x1="346.59" y1="420.8" x2="346.59" y2="422.6" stroke="#231f20" stroke-width="0.8"/>
<line x1="348.04" y1="420.8" x2="348.04" y2="422.6" stroke="#231f20" stroke-width="0.8"/>
<line x1="349.3" y1="420.8" x2="349.3" y2="422.6" stroke="#231f20" stroke-width="0.8"/>
<line x1="350.41" y1="420.8" x2="350.41" y2="422.6" stroke="#231f20" stroke-width="0.8"/>
<line x1="270.4" y1="420.8" x2="270.4" y2="422.6" stroke="#231f20" stroke-width="0.8"/>
<line x1="274.4" y1="420.8" x2="274.4" y2="422.6" stroke="#231f20" stroke-width="0.8"/>
<line x1="277.9" y1="420.8" x2="277.9" y2="422.6" stroke="#231f20" stroke-width="0.8"/>
<line x1="284.9" y1="420.8" x2="284.9" y2="422.6" stroke="#231f20" stroke-width="0.8"/>
<line x1="288.4" y1="420.8" x2="288.4" y2="422.6" stroke="#231f20" stroke-width="0.8"/>
<line x1="291.9" y1="420.8" x2="291.9" y2="422.6" stroke="#231f20" stroke-width="0.8"/>
<line x1="295.4" y1="420.8" x2="295.4" y2="422.6" stroke="#231f20" stroke-width="0.8"/>
<line x1="298.9" y1="420.8" x2="298.9" y2="422.6" stroke="#231f20" stroke-width="0.8"/>
<line x1="302.4" y1="420.8" x2="302.4" y2="422.6" stroke="#231f20" stroke-width="0.8"/>
<line x1="304.9" y1="420.8" x2="304.9" y2="422.6" stroke="#231f20" stroke-width="0.8"/>
<text x="0" y="0" font-size="8.9" text-anchor="end" transform="translate(262 342.2) scale(0.84 1)" stroke="#231f20" stroke-width="0.24">10<tspan font-size="5.52" dy="-3.74">5</tspan></text>
<text x="0" y="0" font-size="8.9" text-anchor="end" transform="translate(262 362.9) scale(0.84 1)" stroke="#231f20" stroke-width="0.24">10<tspan font-size="5.52" dy="-3.74">4</tspan></text>
<text x="0" y="0" font-size="8.9" text-anchor="end" transform="translate(262 383.5) scale(0.84 1)" stroke="#231f20" stroke-width="0.24">10<tspan font-size="5.52" dy="-3.74">3</tspan></text>
<text x="0" y="0" font-size="8.9" text-anchor="end" transform="translate(262 406.4) scale(0.84 1)" stroke="#231f20" stroke-width="0.24">10<tspan font-size="5.52" dy="-3.74">2</tspan></text>
<text x="0" y="0" font-size="8.01" text-anchor="end" transform="translate(261.4 415.1) scale(0.84 1)" stroke="#231f20" stroke-width="0.24">0</text>
<text x="0" y="0" font-size="8.01" text-anchor="middle" transform="translate(282 435) scale(0.84 1)" stroke="#231f20" stroke-width="0.24">0</text>
<text x="0" y="0" font-size="8.9" text-anchor="middle" transform="translate(308 435) scale(0.84 1)" stroke="#231f20" stroke-width="0.24">10<tspan font-size="5.52" dy="-3.74">3</tspan></text>
<text x="0" y="0" font-size="8.9" text-anchor="middle" transform="translate(329.6 435) scale(0.84 1)" stroke="#231f20" stroke-width="0.24">10<tspan font-size="5.52" dy="-3.74">4</tspan></text>
<text x="0" y="0" font-size="8.9" text-anchor="middle" transform="translate(351.1 435) scale(0.84 1)" stroke="#231f20" stroke-width="0.24">10<tspan font-size="5.52" dy="-3.74">5</tspan></text>
<rect x="380.6" y="330.6" width="91.3" height="90.2" fill="none" stroke="#1a1a1a" stroke-width="1.3"/>
<line x1="377.6" y1="338.3" x2="380.6" y2="338.3" stroke="#231f20" stroke-width="1.1"/>
<line x1="377.6" y1="359" x2="380.6" y2="359" stroke="#231f20" stroke-width="1.1"/>
<line x1="377.6" y1="379.6" x2="380.6" y2="379.6" stroke="#231f20" stroke-width="1.1"/>
<line x1="377.6" y1="402.5" x2="380.6" y2="402.5" stroke="#231f20" stroke-width="1.1"/>
<line x1="377.6" y1="412.5" x2="380.6" y2="412.5" stroke="#231f20" stroke-width="1.1"/>
<line x1="378.8" y1="352.77" x2="380.6" y2="352.77" stroke="#231f20" stroke-width="0.8"/>
<line x1="378.8" y1="349.12" x2="380.6" y2="349.12" stroke="#231f20" stroke-width="0.8"/>
<line x1="378.8" y1="346.54" x2="380.6" y2="346.54" stroke="#231f20" stroke-width="0.8"/>
<line x1="378.8" y1="344.53" x2="380.6" y2="344.53" stroke="#231f20" stroke-width="0.8"/>
<line x1="378.8" y1="342.89" x2="380.6" y2="342.89" stroke="#231f20" stroke-width="0.8"/>
<line x1="378.8" y1="341.51" x2="380.6" y2="341.51" stroke="#231f20" stroke-width="0.8"/>
<line x1="378.8" y1="340.31" x2="380.6" y2="340.31" stroke="#231f20" stroke-width="0.8"/>
<line x1="378.8" y1="339.25" x2="380.6" y2="339.25" stroke="#231f20" stroke-width="0.8"/>
<line x1="378.8" y1="373.4" x2="380.6" y2="373.4" stroke="#231f20" stroke-width="0.8"/>
<line x1="378.8" y1="369.77" x2="380.6" y2="369.77" stroke="#231f20" stroke-width="0.8"/>
<line x1="378.8" y1="367.2" x2="380.6" y2="367.2" stroke="#231f20" stroke-width="0.8"/>
<line x1="378.8" y1="365.2" x2="380.6" y2="365.2" stroke="#231f20" stroke-width="0.8"/>
<line x1="378.8" y1="363.57" x2="380.6" y2="363.57" stroke="#231f20" stroke-width="0.8"/>
<line x1="378.8" y1="362.19" x2="380.6" y2="362.19" stroke="#231f20" stroke-width="0.8"/>
<line x1="378.8" y1="361" x2="380.6" y2="361" stroke="#231f20" stroke-width="0.8"/>
<line x1="378.8" y1="359.94" x2="380.6" y2="359.94" stroke="#231f20" stroke-width="0.8"/>
<line x1="378.8" y1="395.61" x2="380.6" y2="395.61" stroke="#231f20" stroke-width="0.8"/>
<line x1="378.8" y1="391.57" x2="380.6" y2="391.57" stroke="#231f20" stroke-width="0.8"/>
<line x1="378.8" y1="388.71" x2="380.6" y2="388.71" stroke="#231f20" stroke-width="0.8"/>
<line x1="378.8" y1="386.49" x2="380.6" y2="386.49" stroke="#231f20" stroke-width="0.8"/>
<line x1="378.8" y1="384.68" x2="380.6" y2="384.68" stroke="#231f20" stroke-width="0.8"/>
<line x1="378.8" y1="383.15" x2="380.6" y2="383.15" stroke="#231f20" stroke-width="0.8"/>
<line x1="378.8" y1="381.82" x2="380.6" y2="381.82" stroke="#231f20" stroke-width="0.8"/>
<line x1="378.8" y1="380.65" x2="380.6" y2="380.65" stroke="#231f20" stroke-width="0.8"/>
<line x1="378.8" y1="406" x2="380.6" y2="406" stroke="#231f20" stroke-width="0.8"/>
<line x1="378.8" y1="409" x2="380.6" y2="409" stroke="#231f20" stroke-width="0.8"/>
<line x1="378.8" y1="416" x2="380.6" y2="416" stroke="#231f20" stroke-width="0.8"/>
<line x1="378.8" y1="419" x2="380.6" y2="419" stroke="#231f20" stroke-width="0.8"/>
<line x1="394.8" y1="420.8" x2="394.8" y2="423.8" stroke="#231f20" stroke-width="1.1"/>
<line x1="421.1" y1="420.8" x2="421.1" y2="423.8" stroke="#231f20" stroke-width="1.1"/>
<line x1="443.1" y1="420.8" x2="443.1" y2="423.8" stroke="#231f20" stroke-width="1.1"/>
<line x1="464.8" y1="420.8" x2="464.8" y2="423.8" stroke="#231f20" stroke-width="1.1"/>
<line x1="427.72" y1="420.8" x2="427.72" y2="422.6" stroke="#231f20" stroke-width="0.8"/>
<line x1="431.6" y1="420.8" x2="431.6" y2="422.6" stroke="#231f20" stroke-width="0.8"/>
<line x1="434.35" y1="420.8" x2="434.35" y2="422.6" stroke="#231f20" stroke-width="0.8"/>
<line x1="436.48" y1="420.8" x2="436.48" y2="422.6" stroke="#231f20" stroke-width="0.8"/>
<line x1="438.22" y1="420.8" x2="438.22" y2="422.6" stroke="#231f20" stroke-width="0.8"/>
<line x1="439.69" y1="420.8" x2="439.69" y2="422.6" stroke="#231f20" stroke-width="0.8"/>
<line x1="440.97" y1="420.8" x2="440.97" y2="422.6" stroke="#231f20" stroke-width="0.8"/>
<line x1="442.09" y1="420.8" x2="442.09" y2="422.6" stroke="#231f20" stroke-width="0.8"/>
<line x1="449.63" y1="420.8" x2="449.63" y2="422.6" stroke="#231f20" stroke-width="0.8"/>
<line x1="453.45" y1="420.8" x2="453.45" y2="422.6" stroke="#231f20" stroke-width="0.8"/>
<line x1="456.16" y1="420.8" x2="456.16" y2="422.6" stroke="#231f20" stroke-width="0.8"/>
<line x1="458.27" y1="420.8" x2="458.27" y2="422.6" stroke="#231f20" stroke-width="0.8"/>
<line x1="459.99" y1="420.8" x2="459.99" y2="422.6" stroke="#231f20" stroke-width="0.8"/>
<line x1="461.44" y1="420.8" x2="461.44" y2="422.6" stroke="#231f20" stroke-width="0.8"/>
<line x1="462.7" y1="420.8" x2="462.7" y2="422.6" stroke="#231f20" stroke-width="0.8"/>
<line x1="463.81" y1="420.8" x2="463.81" y2="422.6" stroke="#231f20" stroke-width="0.8"/>
<line x1="383.8" y1="420.8" x2="383.8" y2="422.6" stroke="#231f20" stroke-width="0.8"/>
<line x1="387.8" y1="420.8" x2="387.8" y2="422.6" stroke="#231f20" stroke-width="0.8"/>
<line x1="391.3" y1="420.8" x2="391.3" y2="422.6" stroke="#231f20" stroke-width="0.8"/>
<line x1="398.3" y1="420.8" x2="398.3" y2="422.6" stroke="#231f20" stroke-width="0.8"/>
<line x1="401.8" y1="420.8" x2="401.8" y2="422.6" stroke="#231f20" stroke-width="0.8"/>
<line x1="405.3" y1="420.8" x2="405.3" y2="422.6" stroke="#231f20" stroke-width="0.8"/>
<line x1="408.8" y1="420.8" x2="408.8" y2="422.6" stroke="#231f20" stroke-width="0.8"/>
<line x1="412.3" y1="420.8" x2="412.3" y2="422.6" stroke="#231f20" stroke-width="0.8"/>
<line x1="415.8" y1="420.8" x2="415.8" y2="422.6" stroke="#231f20" stroke-width="0.8"/>
<line x1="418.3" y1="420.8" x2="418.3" y2="422.6" stroke="#231f20" stroke-width="0.8"/>
<text x="0" y="0" font-size="8.9" text-anchor="end" transform="translate(375.4 342.2) scale(0.84 1)" stroke="#231f20" stroke-width="0.24">10<tspan font-size="5.52" dy="-3.74">5</tspan></text>
<text x="0" y="0" font-size="8.9" text-anchor="end" transform="translate(375.4 362.9) scale(0.84 1)" stroke="#231f20" stroke-width="0.24">10<tspan font-size="5.52" dy="-3.74">4</tspan></text>
<text x="0" y="0" font-size="8.9" text-anchor="end" transform="translate(375.4 383.5) scale(0.84 1)" stroke="#231f20" stroke-width="0.24">10<tspan font-size="5.52" dy="-3.74">3</tspan></text>
<text x="0" y="0" font-size="8.9" text-anchor="end" transform="translate(375.4 406.4) scale(0.84 1)" stroke="#231f20" stroke-width="0.24">10<tspan font-size="5.52" dy="-3.74">2</tspan></text>
<text x="0" y="0" font-size="8.01" text-anchor="end" transform="translate(374.8 415.1) scale(0.84 1)" stroke="#231f20" stroke-width="0.24">0</text>
<text x="0" y="0" font-size="8.01" text-anchor="middle" transform="translate(395.4 435) scale(0.84 1)" stroke="#231f20" stroke-width="0.24">0</text>
<text x="0" y="0" font-size="8.9" text-anchor="middle" transform="translate(421.4 435) scale(0.84 1)" stroke="#231f20" stroke-width="0.24">10<tspan font-size="5.52" dy="-3.74">3</tspan></text>
<text x="0" y="0" font-size="8.9" text-anchor="middle" transform="translate(443 435) scale(0.84 1)" stroke="#231f20" stroke-width="0.24">10<tspan font-size="5.52" dy="-3.74">4</tspan></text>
<text x="0" y="0" font-size="8.9" text-anchor="middle" transform="translate(464.5 435) scale(0.84 1)" stroke="#231f20" stroke-width="0.24">10<tspan font-size="5.52" dy="-3.74">5</tspan></text>
<text x="15.6" y="375.5" font-size="9.2" text-anchor="middle" textLength="18.3" lengthAdjust="spacingAndGlyphs" transform="rotate(-90 15.6 375.5)" stroke="#231f20" stroke-width="0.24">Tbet</text>
<text x="44.4" y="447.7" font-size="9.2" textLength="25" lengthAdjust="spacingAndGlyphs" stroke="#231f20" stroke-width="0.24">ROR&#947;t</text>
<line x1="72.3" y1="445.4" x2="463" y2="445.4" stroke="#231f20" stroke-width="1"/>
<path d="M469.8,445.4 L461.3,441.6 L463.6,445.4 L461.3,449.2 Z" fill="#231f20"/>
<text x="474.6" y="340.8" font-size="7.6" textLength="35.4" lengthAdjust="spacingAndGlyphs" stroke="#231f20" stroke-width="0.24">CD8<tspan font-size="5.2" dy="-2.3">+</tspan><tspan dy="2.3"> Tcon</tspan></text>
<text x="474.6" y="353.5" font-size="7.6" fill="#a8283c" textLength="20" lengthAdjust="spacingAndGlyphs" stroke="#a8283c" stroke-width="0.24">MAITs</text>
<text x="474.6" y="366.2" font-size="7.6" fill="#74ab5f" textLength="29.2" lengthAdjust="spacingAndGlyphs" stroke="#74ab5f" stroke-width="0.24">&#947;&#948; T cells</text>
<text x="474.6" y="378.9" font-size="7.6" fill="#3f5f8f" textLength="19.2" lengthAdjust="spacingAndGlyphs" stroke="#3f5f8f" stroke-width="0.24">Tc17?</text>
<use href="#dpop" transform="translate(39.8 0)"/>
<use href="#dgreen" transform="translate(39.8 0)" style="mix-blend-mode:multiply"/>
<use href="#dgreen2" transform="translate(39.8 0)"/>
<use href="#dblue" transform="translate(39.8 0)"/>
<use href="#dout" transform="translate(39.8 0)" opacity="0.75"/>
<use href="#dred" transform="translate(39.8 0)"/>
<use href="#dpop" transform="translate(153.5 0)"/>
<use href="#dgreen" transform="translate(153.5 0)" style="mix-blend-mode:multiply"/>
<use href="#dgreen2" transform="translate(153.5 0)"/>
<use href="#dout" transform="translate(153.5 0)" opacity="0.75"/>
<use href="#dpop" transform="translate(267.2 0)"/>
<use href="#dred" transform="translate(267.2 0)"/>
<use href="#dpop" transform="translate(380.6 0)"/>
<use href="#dblue" transform="translate(380.6 0)"/>
<use href="#dout" transform="translate(380.6 0)" opacity="0.75"/>
<g clip-path="url(#clA1)">
<path d="M39.47 102.5C39.7 97.7 40.27 97.31 41.08 95C41.89 92.7 43.1 90.43 44.31 88.66C45.52 86.89 47 85.39 48.35 84.39C49.69 83.39 50.85 82.8 52.39 82.66C53.92 82.53 55.94 82.81 57.58 83.58C59.21 84.35 60.65 85.76 62.19 87.27C63.73 88.79 65.36 90.64 66.81 92.7C68.25 94.75 69.59 97.22 70.84 99.62C72.09 102.02 73.44 104.81 74.3 107.12C75.17 109.42 75.98 111.35 76.03 113.46C76.09 115.58 75.57 117.98 74.65 119.81C73.73 121.63 72.86 123.15 70.5 124.42C68.13 125.69 64.44 127 60.46 127.42C56.48 127.84 50.08 127.55 46.62 126.96C43.16 126.36 40.89 127.92 39.7 123.84C38.5 119.77 39.23 107.31 39.47 102.5Z" fill="#555" opacity="0.55" filter="url(#bl15)"/>
<ellipse cx="82.8" cy="84" rx="9.5" ry="8.5" fill="#666" opacity="0.55" filter="url(#bl25)"/>
<ellipse cx="82.7" cy="111.7" rx="9" ry="9" fill="#555" opacity="0.5" filter="url(#bl25)"/>
<path d="M66,92 L76,98 L78,106 L72,110 L66,102 Z" fill="#555" opacity="0.45" filter="url(#bl15)"/>
<ellipse cx="54" cy="82" rx="11" ry="4" fill="#666" opacity="0.45" filter="url(#bl15)"/>
<path d="M72.8 105.3h.7m2.6-3.7h.7m-16.5-11.9h.7m-19.5 19.5h.7m32.5 11.8h.7m-19.3-37h.7m22.8 31.6h.7m-8-10.2h.7m-11.1 19.7h.7m7.1-.4h.7m1-24.1h.7m4.7 22.5h.7m-16.2 2.5h.7m12.6-17.5h.7m-28.4 16.7h.7m9.5-38.9h.7m4.7 5.1h.7m6.3 6.4h.7m-28.7 20.6h.7m2.3-26.6h.7m28.6 13.9h.7m-25.9-19h.7m27.3 3.9h.7m-24.2-5.2h.7m22.6 20.3h.7m-6.4 17.1h.7m3.9-10.5h.7m-32.2-21.6h.7m10.7-4.3h.7m7.1 6.1h.7m-5.2-7.5h.7m6.5 41.5h.7m.2-.9h.7m5.4-22h.7m-20.1-20.7h.7m-2 .8h.7m-9.9 9.6h.7m31.5 26.6h.7m-3.6 4.4h.7m4-10.2h.7m-5.2-27.1h.7m.8 33.6h.7m-19.4-37.7h.7m9.3 9.3h.7m-.2 32.1h.7m4.8-.8h.7m2 .5h.7m-15.3-38.1h.7m-15.6 6.6h.7m27.8 19.3h.7m-13.6-24.3h.7m-8.2-3h.7m11.4 5.6h.7m4.7 8.7h.7m-24.5-14.3h.7m-1.3 3.7h.7m30.6 17.7h.7m-35.5 17.9h.7m11.7-37.3h.7m15.5 9.4h.7m-28.2 29.7h.7m26.4-30.8h.7m-26.6 29.8h.7m39.4-7.7h.7m-39.9 8.1h.7m17.6-31.6h.7m-7-7h.7m-3.5-2.6h.7m-12.1 11h.7m15.5-7.2h.7m13.5 36.8h.7m-22.8-37.6h.7m24.7 6.8h.7m-2.5 20.2h.7m1.1-.5h.7m-25.7-26.7h.7m1.3 0h.7m20.8 27.1h.7m-1.3 11.8h.7m-11.4-33.8h.7m-1.3-2h.7m-22.5 8.4h.7m31.4 22h.7m-31.6-25.9h.7m27.1 29.7h.7m2.8-5.9h.7m-9.3-25h.7m-12.6-9.7h.7m-9.6 6.6h.7m-3.6 33.3h.7m2.5 2.6h.7m15.4-39.8h.7m-7.8-2.4h.7m-1-.1h.7m28.3 5.5h.7m-19.3-1.1h.7m5 2.5h.7m-28.1 5.4h.7m37.6 23.1h.7m-7.9-19.3h.7m-28.5-8.8h.7m10.3-5h.7m11.7 36.3h.7m-25.1-34.6h.7m9.1-2h.7m-13.3 38.9h.7m30.4-.4h.7m12-7h.7m-20.8 8.7h.7m3-28.5h.7m-22.1 28.9h.7m-3.1-1.2h.7m-4.9-22.5h.7m36.1 21.9h.7m-36.6-32.9h.7m3.5-3h.7m7-3.6h.7m18 35.1h.7m-15.5-34.3h.7m-12.7-4.5h.7m-4.9 41.8h.7m30.4-2.7h.7m-19.5-33.1h.7m-12 7.1h.7m28.4 2.6h.7m2.3 13.2h.7m-3.3-6.4h.7m4 17.9h.7m-31-31.6h.7m18.1 4h.7m-19.9-2.8h.7m-5.4 4.9h.7m33.1 11.7h.7m-14.4-26.6h.7m1.7 45.2h.7m-21.6-33.7h.7m13.7-13.4h.7m-9.7 5.6h.7m4.5 41h.7m21-13.7h.7m-12.2-21.3h.7m2.4 5.2h.7m-11.1-14.3h.7m21.4 30.5h.7m-20.5-23.8h.7m-9.3-1.9h.7m24.1 18.2h.7m-28-18.7h.7m4.1-3.7h.7m5.4 43.6h.7m18.3-16.2h.7m-30.9-21.9h.7m18.5 4.3h.7m-18.4-15.2h.7m21.2 15.8h.7m-14.8-7.6h.7m16.1 27h.7m-5.6-15h.7m-10.5-11.9h.7m1.3 3.8h.7m-15.1 1.1h.7m1.9-6.4h.7m29.4 24h.7m-29.8-21.2h.7m22.1 23h.7m-10.3 16.1h.7m-14.4-41.1h.7m2 .9h.7m-10.3 9.7h.7m4.3-6.6h.7m9.1-6.1h.7m12.9 44.1h.7m1.7-12h.7m-18.6 12.1h.7m17.3-8.2h.7m-.4 2.5h.7m1.8 2h.7m-17.4-37.8h.7m17.9 28.9h.7m-19-27.2h.7m5.1 38.1h.7m10.3-3.6h.7m-31.2-35.9h.7m6 40.4h.7m6.7-37.1h.7m11.1 34.7h.7m-9.1 2.5h.7m4.7-25.1h.7m-18.4-15.4h.7m6.3-3.2h.7m-12.6 6.9h.7m7.7-2h.7m3 39.3h.7m14.5-8.2h.7m-31-24h.7m33.4 26.7h.7m-30.3-35.1h.7m16.8 5.1h.7m7.8 31.5h.7m-2.2-20.3h.7m-28.6-8.6h.7m31 4.7h.7m4.7 18.2h.7m-38-25.6h.7m.2 .2h.7m14.1-11.8h.7m-14.1 9.7h.7m25.8 28.6h.7m-5.2-21.9h.7m-23.4 30.7h.7m.3-36.6h.7m1.6-3.3h.7m-2.2 2.3h.7m17.7-2.1h.7m16.8 25.9h.7m-18.5-17.6h.7m-11.7 31.2h.7m17.3-10.2h.7m2.7 4.3h.7m-6.5-15.5h.7m.6-6.5h.7m-2.7 24h.7m-2.5-29.5h.7m8.2 32.3h.7m-36.3-30.5h.7m25.4 3.1h.7m-7.3-10.8h.7m3.6 2.5h.7m11.8 26.8h.7m-4.4-5.2h.7m-31.3-17.9h.7m32.2 15.3h.7m-2.9 6.8h.7m4.3 5.4h.7m-9.1 2.7h.7m-29.2 .1h.7m30.4 .1h.7m-32.6-32.5h.7m18.2-7.3h.7m.7 8.3h.7m10.6 16.4h.7m-.7 13.2h.7m-.1-10.6h.7m-30.4-20.4h.7m21.8 0h.7m-4.1 35.8h.7m-21.6-36.7h.7m21.3-6.2h.7m-6 4.2h.7m4.9 3.3h.7m8.6 21.6h.7m-13.3-24.9h.7m9.8 36.4h.7m-6.4-30h.7m6.3 29.8h.7m-4.9-24.2h.7m-7.1-11.1h.7m4.1 1h.7m9.5 34.1h.7m-8.7-23h.7m1.2 22h.7m-15.9-36.7h.7m2.6 3h.7m10.4 34.2h.7m-4.2-27.1h.7m-24.6-8.8h.7m15.3 .7h.7m-11.6-1.1h.7m29 25.1h.7m1-.6h.7m-8.9-12.9h.7m-4-14h.7m-2.6 8.2h.7m-1 32.6h.7m6.2-3h.7m-25.6-40.4h.7m26 36.6h.7m-20.9-32.2h.7m3.6 1.8h.7m20.5 27.1h.7m-30.5-28.8h.7m-7.4 38.4h.7m11.7-40.6h.7m14.7 37.2h.7m-21.9 4h.7m-6.2 .9h.7m16.9-34.5h.7m12.4 28.8h.7m-12.4-31.9h.7m-19.4 2.2h.7m29.2 28.2h.7m-21.3-36.8h.7m-13.4 42.2h.7m33.3-9.4h.7m-10-24.1h.7m-19.7-4.1h.7m18.5 7.5h.7m1.7 31.1h.7m-21.6 1.3h.7m27.7-22.7h.7m-16.9-19h.7m-1.6 2.5h.7m14 12.5h.7m-13.6-10.7h.7m-2.3-2h.7m4.6-6h.7m-21.8 12h.7m29.2 16.4h.7m-2 13.9h.7m3.5-4.9h.7m.9 6.6h.7m-29.2-38.6h.7m5.1-3.3h.7m23.7 37h.7m-7-3.4h.7m-24.9-30.9h.7m3.1-3.1h.7m10.5 9.5h.7m1 32.2h.7m-.3-34.9h.7m7.1 23.9h.7m-2.5-16.2h.7m-25.3-8.9h.7m-.2-1.5h.7m17.1 6.8h.7m-20.3-4.9h.7m-3.7-2.4h.7m2.3 39.3h.7m24.8-22.8h.7m-26.8 21.6h.7m26.8-6.5h.7m-3.7-23.3h.7m-20.3-11h.7m-1.8 2.8h.7m16.6 7h.7m2.2 30.4h.7m-3.6-32.2h.7m-26 34h.7m11.5-41.7h.7m14.3 14h.7m4.1-2.1h.7m-24.3-13.4h.7m22.9 25h.7m-.3-3h.7m2.8 13.7h.7m-29-36.7h.7m-8.5 7.1h.7m4.5-1.2h.7m26.9 29.4h.7m6-.9h.7m-40.1-24.8h.7m1.6-2.2h.7m29.8 21.9h.7m-.5 5.8h.7m-33.3 7.1h.7m.4 1h.7m-1.7-35.1h.7m29.5 16.3h.7m.6-28.6h.7m-13.8 11.2h.7m1.3-2.9h.7m15.9 37h.7m-7.7-2.7h.7m-26.3-29.1h.7m17.5 .8h.7m9.1 21.2h.7m-26.7-24.5h.7m31.4 27.9h.7m-38.9-27.4h.7m30.9 20.2h.7m-26.8-21.2h.7m14-5.9h.7m-.4 8.9h.7m8.6 14.9h.7m-8.8-18.5h.7m-21.2 37.3h.7m-.8-34.9h.7m2.8 36.3h.7m15.2-37.1h.7m4.9 2.2h.7m-17.5-9.3h.7m26.1 27.8h.7m-18.2 16.2h.7m-12.7 .4h.7m24.5-18.3h.7m-6.9-14.7h.7m-.3-4.2h.7m-22.6-1.1h.7m1.4-.2h.7m3.5 37.8h.7m29.9-8.4h.7m-35.1-31.8h.7m-3.6-1.7h.7m28 35.6h.7m-6.2-27.8h.7m-23-6.7h.7m17 8h.7m-.3-.2h.7m-4.7-9.7h.7m9.3 36.7h.7m-30.1 5.1h.7m11.6-38.2h.7m2.6 40.3h.7m12.7-4.5h.7m-28.4-39.5h.7m17.6-7.6h.7m12.9 43.9h.7m-31.3 5.7h.7m28.9-14.8h.7m-1.9 12.9h.7m-11.8-33.6h.7m11.8 27.3h.7m-32.9 2.6h.7m.7-24h.7m28.6 12.6h.7m-8.2-24.4h.7m7.4 38.5h.7m9.5-9.6h.7m-41.8-18.8h.7m7.4-6.3h.7m0 .4h.7m1.1-1.1h.7m7.3 2.1h.7m-19.1 5h.7m-.6 30.6h.7m8.7 2.5h.7m-1.1-42.7h.7m-8.8 4.9h.7m3.3-2h.7m12.8-1.9h.7m6.4 3.2h.7m-12.3-1.6h.7m-11.2 40.1h.7m28.3-22.6h.7m-24-19.5h.7m18.4 11.7h.7m.6 5.6h.7m-26.7-10.9h.7m9.4-6.6h.7m9.1 8.9h.7m-10.5 32.8h.7m13-27h.7m5.6 20.4h.7m-17.7-37h.7m-2.6 4.4h.7m17.1 25.2h.7m-31.2 12.6h.7m27.2-20.3h.7m.6-5.4h.7m-20.3-17.6h.7m-1.4 5h.7m20.7 19.2h.7m-16.5-19.3h.7m-15.4 5.8h.7m29.2 15.8h.7m-30.5-17.2h.7m-1-1.7h.7m28.8 27.4h.7m-20.2-31.3h.7m18.7 37.8h.7m-16.2-37.4h.7m2.8 3.5h.7m8.2 14h.7m1.7 .4h.7m-3.8 19.9h.7m6.7-14.3h.7m-2.8 9.8h.7m-22.9-34.9h.7m-7.5 4.1h.7m-4.4 10.4h.7m5.4-9.9h.7m1.8-2.2h.7m25.7 24.4h.7m-4.5 3h.7m-.2-8.6h.7m-10.6-15.5h.7m8.6 23.6h.7m-22.7 13h.7m15.4 .5h.7m6.7-6.3h.7m-25-33.9h.7m-4.5 1.3h.7m14.2 1.9h.7m12.9 20.4h.7m-15.8-23.3h.7m6.2 38.7h.7m-16-41.6h.7m6.4-1h.7m27.4 16.8h.7m-20.8-2.1h.7m-4.3 28h.7m-9.1 .9h.7m-13.6-21.3h.7m6.7 21.5h.7m-8.2-29.7h.7m31.8 22h.7m-18.4-37.8h.7m20.4 43.9h.7m-18.3-37.1h.7m12.7 28.6h.7m-11.8-30.9h.7m-20 39.8h.7m1.2-36.7h.7m30.2 26h.7m-5.9 8.2h.7m2.4-13.1h.7m-31.3 15.4h.7m6.7-40.3h.7m18.2 41h.7m-27.7-27.7h.7m7.8-14h.7m8.9 4h.7m-19.2 6.5h.7m26.5 28.4h.7m4.3-12.3h.7m-28.1-25.4h.7m-.2 1.7h.7m30.4 28.1h.7m-10 8.7h.7m-11.8-37.7h.7m-13.1 40.2h.7m26.8-16.2h.7m-8.4 14.4h.7m3.5-28h.7m-28.3-1.2h.7m-1.4-.2h.7m17.1-8.2h.7m-.7-2.8h.7m-12.8 42.1h.7m19.3-30.6h.7m-10.1-12.9h.7m10.5 15.8h.7m-18.1-15.1h.7m10.2 3.4h.7m-16.8 1.8h.7m8.5-4.6h.7m-13.8 15.8h.7m38.9 20h.7m-8.2-4.8h.7m-33.4-13.9h.7m21.3-15.8h.7m-11.7 40.3h.7m-2.5-39.3h.7m22.5 28.1h.7m.5 5.3h.7m-7.9-22.1h.7m.7 26.5h.7m11.9-25h.7m-7.2 14.5h.7m-31.3-29.4h.7m-.5 40.7h.7m9.1-44.1h.7m-13.2 16.4h.7m17-7.7h.7m-17.6 1h.7m29.1 24.9h.7m-15.4-30.8h.7m-2.4 .5h.7m-15.7 15.9h.7m3.3-10.1h.7m21.8 32.8h.7m4-25.4h.7m-31.6-3.1h.7m20.3 31.3h.7m5.5-24.9h.7m12 13.6h.7m-38.6-32.9h.7m25.5 11h.7m-14.4-6.4h.7m22.9 29.6h.7m-5.9 3.7h.7m-26.8-34h.7m25 21.9h.7m-18.5-23.6h.7m-.5 1.3h.7m-1.4-1.8h.7m-7.8 .6h.7m15.1 3.4h.7m-21.9 37h.7m30.3-20.7h.7m1.3 7.7h.7m-32.2-23.7h.7m17.2 1.4h.7m2 1.6h.7m-14.9-7.5h.7m.1 .5h.7m13 9.7h.7m-9.8-9.3h.7m-7.6 1.2h.7m5.8-.5h.7m-1.7 39.9h.7m2.7-37.6h.7m15.9 29.2h.7m-28.7-41.8h.7m11.6 51.1h.7m13.9-18.6h.7m3.5 2.8h.7m-13.2-22.8h.7m-3.1-.2h.7m6.4 4.6h.7m.4 31.6h.7m10.8-14.4h.7m-15.8-14.4h.7m-3.2 31.5h.7m-2.1-2.5h.7m-6.9-43.8h.7m-6.1 3.5h.7m10.3 6.8h.7m-2-1h.7m10.1 31.2h.7m-29-28.9h.7m12.1-4.4h.7m-16.7 38h.7m1.7-33.9h.7m22.7 32.3h.7m5.6 .7h.7m-14.6-36.2h.7m-9.8-4.4h.7m-7.8 5.6h.7m17.4-5.1h.7m17.6 23.6h.7m-36-16.2h.7m.8-5.2h.7m24.6 39.6h.7m-15.5-43.6h.7m11.7 15.3h.7m-15.5 28.8h.7m2.4-45.9h.7m4.2 8.9h.7m-19.4 0h.7m16-1.2h.7m-5-4.4h.7m-1.4-1.6h.7m18.2 39.8h.7m7.4-4.1h.7m-23.6-29.8h.7m-8.2-5.9h.7m25.4 42.6h.7m-20-45.3h.7m.4 3.6h.7m9.3 41.6h.7m3.2-10.5h.7m-24-28.2h.7m-4.2-2.4h.7m11.3 4.8h.7m-15.2 2.1h.7m20.1 1.1h.7m8.4 19h.7m-4.9 12.3h.7m-19.4-38.8h.7m19.3 14.8h.7m-2.4 23.5h.7m-28.8-30.5h.7m28.1 9.4h.7m-28.6-19.1h.7m24.8 42h.7m7.5-13.7h.7m-33.6-17.4h.7m7.6-9.2h.7m-9.3 4.8h.7m-1.5 7.3h.7m35.6 26.2h.7m-14.9-31.7h.7m-16.5-5.2h.7m-3.6 5.4h.7m17.2-1.1h.7m10.6 9.6h.7m-3 23.1h.7m5.6-6.3h.7m-6.2 2.1h.7m-16.2-32.8h.7m-10.5-4.9h.7m13.1 10.6h.7m-13.8-3.5h.7m-3.5 2.8h.7m11.4 35.4h.7m-10.1-38.6h.7m29.5 36.3h.7m-37.8 .9h.7m18.2-35.1h.7m-2.5-1.9h.7m8.9 5.4h.7m-6-1.2h.7m15.2 18.9h.7m-14-18.4h.7m-23.1 32.2h.7m30.4-10h.7m-5-14.8h.7m.7 24.7h.7m-12-34.9h.7m2.1-.5h.7m6.3 37.6h.7m-16.2-42.2h.7m-1 41.3h.7m-10.7-35.5h.7m25.4 31.2h.7m-29.4 2.3h.7m32 .8h.7m-5.4-27.7h.7m4.5 24.4h.7m-28.8 5.3h.7m22.9-26.5h.7m-27-13.8h.7m37.2 22.7h.7m-8.5-.3h.7m-31-15.2h.7m33.6 23.7h.7m-9.9-22.1h.7m-23.3-6.4h.7m-4.6 37.9h.7m1.1-40.5h.7m7.4-2.8h.7m16 40.1h.7m-25.2-31.2h.7m4.1-6.1h.7m19.6 14h.7m3.1 22.8h.7m-18.8-36.4h.7m-2.9-1.4h.7m7.6 5.8h.7m-4-5.5h.7m15.6 26.2h.7m-5.7-21.1h.7m4.6 13.9h.7m-29-16.5h.7m-4.2 2.9h.7m3-1.7h.7m11.2-1.5h.7m4.9 2.3h.7m-19.4 36.1h.7m10.9-40.9h.7m19.6 20.9h.7m-4.7 10.3h.7m-19-29.7h.7m3.3-.2h.7m-6.4-.5h.7m-.1 40.1h.7m-11.1-38.1h.7m-1.5 37.9h.7m-.6 .1h.7m31.2-14.4h.7m-7.2-19.8h.7m-8.4-3.8h.7m19.9 20.4h.7m-9.7 0h.7m1.1 3.1h.7m-29.8-20.9h.7m15.6-2.9h.7m.5 38.8h.7m-13.7-38.2h.7m35.4 .8h.7m-7 32.8h.7m-38.4-8.2h.7m30.4-18.5h.7m-30.6 30.5h.7m29.3-7.9h.7m-14.6-33.3h.7m21.5 30.6h.7m-36.1-24.2h.7m30.8 26.4h.7m-24.7-34.7h.7m-6 42.8h.7m24.3-8.8h.7m2 .1h.7m-11.6-28.5h.7m-24 15.9h.7m21.7-18.3h.7m-7 .6h.7m10.3 11.6h.7m-21.7 28.8h.7m28.5-12.5h.7m-3.7 11.2h.7m.5-8.2h.7m-8.3-25h.7m-9.8-8.2h.7m12.9 16.4h.7m-14.9-19h.7m21.1 22.2h.7m-.8 6.9h.7m-10 15h.7m-21.5-46.4h.7m-4.4 11.1h.7m9.8-3.7h.7m16.7 33.6h.7m-31.9-28.6h.7m15.3 35.1h.7m-17.3-27.6h.7m35.8-5.6h.7m-4.6 20.8h.7m-3.1 9.6h.7m2.9-6.7h.7m-20.8-30.5h.7m17.2 24.2h.7m-27.3-20.3h.7m30.5 20.3h.7m-25.2-25h.7m-12.1 40.9h.7m12.6-40.2h.7m5.7 3.2h.7m1.7 1.2h.7m15.6 24.5h.7m-25.1 11.4h.7m16.6-23.2h.7m6.7 14.3h.7m-39.7-18h.7m24.3-13.7h.7m-7-.5h.7m2.1 40.6h.7m9.9-26.6h.7m-18.4-13.8h.7m-11.3 39.5h.7m-4.3-28.2h.7m19-11.7h.7m8.1 18.4h.7m1 22.8h.7m4.9-10.5h.7m-5.8 2.6h.7m3.9-13h.7m-24.6-20.1h.7m-2.5-.5h.7m25.5 34.2h.7m-3.9-5.6h.7m-12.4-22.6h.7m4.1 4.2h.7m-19.2-8.3h.7m42.1 28.8h.7m-21.3-16.1h.7m8.4 8h.7m-39.6 16.8h.7m6.1-42.3h.7m21.9 40.8h.7m8-2.9h.7m-30.5-33.7h.7m22.7 38.7h.7m-27.1-35.7h.7m20.5 3.8h.7m-12.3-7h.7m4.3 .4h.7m.1 38.2h.7m7-24.8h.7m-1 1.6h.7m4.4 8.8h.7m-5.3-12.1h.7m1.2 6h.7m.7 3.1h.7m2.9 5.2h.7m-29.8-32.4h.7m1.2 4.8h.7m15.7 39.6h.7m-11-40.1h.7m11.5 15.4h.7m-27.2 15.9h.7m22.5-30.2h.7m1.4 4.7h.7m5.5 31.5h.7m1.2-17.3h.7m-15.5 21.5h.7m-12.4-40.2h.7m28.2 36h.7m-8.7 1h.7m4.5-9.1h.7m-25.5-29.1h.7m-4.7 6h.7m27.2 12.1h.7m-13.2-14.7h.7m-18.5 36.6h.7m-2.7-27.5h.7m8.1-10.9h.7m1.5-3.7h.7m3.1 44h.7m-10.8-38h.7m1-.9h.7m28.4 9.9h.7m-32.8-8.6h.7m29 27.8h.7m-28.9 9h.7m28.8-8.6h.7m-31-29.8h.7m19.1 5.2h.7m9.9 21.2h.7m-32.1-22.4h.7m34.5 21.3h.7m-8.8-7.3h.7m.7 15.4h.7m-32.1-28.7h.7m8.3-4.9h.7m22.7 32h.7m-.7 3.2h.7m-26.7 3.6h.7m25.4-18.1h.7m.8 14h.7m-2-16.3h.7m-19.2 20.1h.7m13.4-26.9h.7m-26.3 26.4h.7m3.9-40.5h.7m25 35.9h.7m7.3-4h.7m-7.8-11.6h.7m-34.3-3.5h.7m32.4 7.2h.7m-4.3 12.5h.7m-14.8-33.9h.7m17.1 18.2h.7m-14.1-14.4h.7m11.5 25.8h.7m-31.4-22.1h.7m27.5 12.5h.7m.8 14.6h.7m-13.4-34.7h.7m-18.6 9.9h.7m.7-6.7h.7m15.1-3.8h.7m-1 1.3h.7m13.5 35.9h.7m-5-27.1h.7m-12.4-9.3h.7m-12 38.6h.7m15.2-36.2h.7m-.6-4.9h.7m-2.9 1.8h.7m-8.3-.6h.7m10.6 6.5h.7m-8.5 34.2h.7m25.7-17.5h.7m-18.5-24.2h.7m1.8 11.1h.7m-6-8.9h.7m-15.1-3.8h.7m17.4 11.1h.7m-20.7-7.1h.7m17.8 2.3h.7m9.5 22h.7m-2.1 12.5h.7m-30.4-28.1h.7m35.9 16h.7m-12.7-22.2h.7m11.5 20.1h.7m-35-27.8h.7m-4.8 16.9h.7m9.9-13.7h.7m.2-.6h.7m2.2 1.4h.7m-13.4 38.4h.7m26.3-26.7h.7m-24.9-10.8h.7m16 38.9h.7m-13.9-43.8h.7m22.6 18.3h.7m-30.8-4.7h.7m21.1-3.3h.7m14.7 22.4h.7m-31.4-27.9h.7m15.8 5h.7m-19.8-3.2h.7m15.3 1.7h.7m5.2-.4h.7m-26.8-6h.7m5.4 42.6h.7m26.2-5.8h.7m-27.7-34.6h.7m25.3 23.5h.7m-27.5-21.1h.7m-3.7 4.1h.7m23 6.2h.7m7.2 22.3h.7m-5.2 0h.7m1.4-1.6h.7m-13.8-40h.7m-12.1 6.4h.7m25.4 28.7h.7m-24.6-30.3h.7m-.1 0h.7m17.7-1h.7m-29.2 8.5h.7m30.6 28h.7m-16-38.5h.7m-11.4 7.7h.7m-6.5 5.1h.7m23-4h.7m9.6 22.8h.7m-31.4 13.3h.7m5.8-46.1h.7m1.3 5.1h.7m12.5 2.2h.7m-9-1.1h.7m7.5 1.8h.7m-25.7 14.7h.7m27.3 20.3h.7m-27.8-30.5h.7m4.8-3.3h.7m.3-1.8h.7m-3.4-2.1h.7m18.2 8.7h.7m10.5 24.4h.7m-8.9-22.5h.7m-22.8-5h.7m14.5-4.3h.7m-13.5-5.8h.7m2.5 4.1h.7m17.1 12.4h.7m3.7 10.4h.7m14.7 15.1h.7m-32.5-38h.7m-4.8-.9h.7m5.9 3h.7m.7 2.8h.7m16.2 31h.7m-17.6-39.2h.7m14.1 15.2h.7m-17.3-8.1h.7m.4-2.4h.7m-15.3 38.7h.7m-4.5-29.1h.7m-.7-5.7h.7m16.7-4h.7m4.4 4.7h.7m-1.2 2.2h.7m9.5-4h.7m-25.4 37.1h.7m15-1.4h.7m-7.8-36.5h.7m12.2 17.5h.7m1.3 16.6h.7m-31.4-31.3h.7m33.6 16.2h.7m-6.1 16h.7m-8.4-33.2h.7m11.4 26.8h.7m9.2 .1h.7m-7.9-8.1h.7m-9.5-8.8h.7m-21.9-12.2h.7m.4-2h.7m13.2 4.8h.7m-8.5-4.9h.7m-3.1-.1h.7m-11.8 38.7h.7m.6-31.4h.7m31.4 27h.7m-10.3-28.6h.7m-25.1 11.5h.7m29.1 22.3h.7m4.6-4.4h.7m-35.1-24.2h.7m31.4 18.1h.7m-8.6-19.9h.7m-2.1-.4h.7m5.3 7.8h.7m-24.8-12.4h.7m15.3-1.6h.7m11.6 18.8h.7m-34-13.6h.7m1.8 .7h.7m3.2 31.8h.7m19.7-28.4h.7m-17.2-15.4h.7m-4 5.6h.7m17.1 2.5h.7m-14.6-4.9h.7m10.1 40.1h.7m-4.5-36.5h.7m-11.4-8.6h.7m-1.1 4h.7m28.8 32.5h.7m-29.6-30.2h.7m9.3 2.2h.7m14.8 21h.7m-20.8-26.2h.7m10.2 11.3h.7m-20.2 30.6h.7m2.1-39.3h.7m26.4 36.3h.7m-34.4-26.7h.7m3.6 28.5h.7m4-39.2h.7m-9.1 39h.7m26.6-1.8h.7m-11.2-36.5h.7m-2.3-1.4h.7m-15.2 39.3h.7m2.8-42.2h.7m-1.2 6.2h.7m29.5 30.9h.7m-4.7-.5h.7m-16.8-33.4h.7m12.7 38.6h.7m-28.2 1.5h.7m18.2-38.3h.7m-15.8-.2h.7m34.5-11.6h.7m17.9 11.6h.7m-25.1-5.9h.7m7.9-2.2h.7m2.1 1.7h.7m-3-.2h.7m1.8 2.8h.7m-2.1 8.4h.7m1.5-7.2h.7m3.4 .1h.7m-9.8-2.9h.7m-2.1 2.8h.7m-7 9.9h.7m-11.8-6.6h.7m14.4-12h.7m-1.6 9.6h.7m8.1-2.8h.7m-2.9 1.6h.7m-1 5.8h.7m-9.7-2.7h.7m4.6-4.1h.7m2.4 2.6h.7m-12.7 .2h.7m16.1-1.7h.7m-5.1 1.4h.7m-3.9-4.8h.7m3.4-1.8h.7m-2.6 11.2h.7m-11.7-8.3h.7m-1.6 10.6h.7m8.8-10.3h.7m-3.1-1.3h.7m10.2 3.5h.7m-12-3h.7m2.8 2.9h.7m4.5 4.1h.7m-10.2-17.1h.7m12.1 12.9h.7m-16.6-1.6h.7m.6 10.8h.7m22.4-8.5h.7m-14.1 21.1h.7m3-20.8h.7m-7.5 .2h.7m11.4 4.6h.7m-11.8-18h.7m4 10.6h.7m6.2 4.7h.7m-10.4-7.1h.7m1.4 9.9h.7m-13 5h.7m11.7-24.3h.7m.6 25.1h.7m-11.4-15.3h.7m3.4 12.8h.7m14.2-12.4h.7m-19 3.1h.7m1.3 10.6h.7m-1.8-14.6h.7m10.4 4.7h.7m-.3 4.2h.7m-.5-2.6h.7m-18-3h.7m.8-.3h.7m2.3-.9h.7m-6.6-2.5h.7m2.1 6.9h.7m1.7-2.8h.7m-4.5 5.1h.7m19.1 3.8h.7m-2.5-11.1h.7m-23.7 4.3h.7m18.3 5.8h.7m-3.3-1.9h.7m-9-3h.7m7.9 8.7h.7m.9-16.1h.7m-16.7 9.9h.7m9.8-4.8h.7m.1-1.6h.7m-4.2-8.7h.7m2.5 18.4h.7m6.1-7.1h.7m2.3-2.4h.7m-8.6-5.3h.7m6.8 15.4h.7m-6.4-2.9h.7m4.5-20.2h.7m-8.2 14h.7m-10.3 1h.7m2.3-7.8h.7m-1.2 4.2h.7m5.2 5.5h.7m-6-8.9h.7m-4 4h.7m12.8 6.1h.7m2.5 1h.7m-17.3-.9h.7m-4.5-5.9h.7m8.1 7.2h.7m15-1.9h.7m-17.8-7.7h.7m18 2.9h.7m-15.5 3.3h.7m3-7.8h.7m-4.3 7.7h.7m-1.3-5.2h.7m-10.8 6h.7m23.7-.4h.7m.8 1.4h.7m-17.5-11.5h.7m-.5 9.9h.7m6.3-2.3h.7m-5.6-2.1h.7m2.5 1.4h.7m.2 5.1h.7m3.1 3.8h.7m-6.6-8.9h.7m13.1 8h.7m-19.7-3.1h.7m5.4-9.8h.7m4.8 3.8h.7m-12 5.3h.7m8.2 7.3h.7m.9-8.6h.7m-12.7 5.7h.7m-5.6-7h.7m11.4 1.3h.7m-5.9 5.8h.7m4.1 1.4h.7m-1.7-10.2h.7m-9.8-9.1h.7m-1.8 11.8h.7m11.6-18.9h.7m-7.4 11.1h.7m-4.5 1h.7m15.8 4.7h.7m-22 .9h.7m8-7h.7m16.8 7.3h.7m3.3 5h.7m-17.6-12h.7m-7.2 12.9h.7m13.2 2.9h.7m-23-23.4h.7m16.8 17.8h.7m7.7 .3h.7m-9.2 9.8h.7m-4.4-10.9h.7m2.5 10.6h.7m-8.1-13.9h.7m8.9-1.8h.7m-4.2 2h.7m1-1.1h.7m-1.4-1.1h.7m2.2 3.2h.7m-9.4 4.4h.7m11.8-3.7h.7m-10.4-2.7h.7m6 4.9h.7m-19.5-.7h.7m10-.4h.7m-1.4-.3h.7m-7.6-3.6h.7m5.3 9.9h.7m-5.5 .2h.7m5-9.9h.7m10.5-6.1h.7m-13.6 8.3h.7m17.8-.1h.7m-5.5 2.8h.7m-13.6-8.3h.7m3.8 8.5h.7m14.7-2.7h.7m-21.6 1.9h.7m8.8 5.5h.7m1.4-22.4h.7m-12.1 13.4h.7m-17.2-1.5h.7m18.4 3.9h.7m-7.1-6h.7m.2 8.2h.7m20-.9h.7m-10-.4h.7m9.7 3.7h.7m-15.9-.6h.7m-7.1-.4h.7m-1.4-1.9h.7m15.8-12.4h.7m-.3 1.5h.7m-13.2 11h.7m5.5 .8h.7m.4-3.2h.7m-2.7-2.8h.7m-2.3-13.1h.7m-1.4 5.1h.7m11.1 9h.7m6.6-.5h.7m-5.2 4.3h.7m-20.3-3.6h.7m8.7 3h.7m-5.4-1.2h.7m-.1 1.1h.7m-3.7 3.9h.7m-1.3-9.4h.7m-4-3.8h.7m9 9h.7m-11.4 0h.7m12.5-7.6h.7m-3.7 9.5h.7m-8.2-3.1h.7m-5.9-5.3h.7m15.9 4.8h.7m.7-12.1h.7m-4.9 10.2h.7m-15.2 6.7h.7m20.1-7.1h.7m-24.1-4.3h.7m13 4.3h.7m-4-3.6h.7m8.2 8.6h.7m-22.8-13.8h.7m-2.4 6.5h.7m19.4 7.2h.7m-19 13h.7m15.8-13.8h.7m-.4-.7h.7m-6.8-.7h.7m3.9-4.5h.7m6.9 3.2h.7m-10.2 6.9h.7m8.1-12.4h.7m.5 1.4h.7m-10.2-1.2h.7m-5.7 10.5h.7m10.4-4.7h.7m-8.1-4.1h.7m2.8 10.9h.7m-5.8-2.3h.7m10.7-3.8h.7m-12.1-4.2h.7m6.3 5.5h.7m.3-4h.7m-7.1 18.9h.7m6.8-30.8h.7m-7.4 3.9h.7m3.7 22h.7m6.6-17h.7m-6.6 7.7h.7m-2.6 2.4h.7m7.8-5.6h.7m-8.5-2.6h.7m.3-3.1h.7m-10 6.1h.7m15.1-4.4h.7m.2-1.1h.7m-7.3-.6h.7m-1.5 10.7h.7m5.9-2.9h.7m-15 11.2h.7m4.1-20.2h.7m7.6 7h.7m-12.6 1.8h.7m3.2-4.9h.7m-1.8 6.9h.7m-8.3-2.5h.7m16.2 .4h.7m-3.5-.6h.7m-3.3 3.7h.7m8.8-6.1h.7m-15.3-1.9h.7m2.5 3.1h.7m-7.4 4.3h.7m2.9 11.2h.7m.6-13.6h.7m8.3 2.6h.7m-21.2 2.8h.7m13.3-2.7h.7m-1.9 1.4h.7m-7.4 4h.7m10.4-10.1h.7m-20.1 2.7h.7m32-6.3h.7m-12.7-2.7h.7m-1.1 20h.7m1.7-7.6h.7m-2.5-7.9h.7m-19.7 16.7h.7m10.5-15.2h.7m8.3 4.3h.7m-6.2-10.6h.7m11.7 7.8h.7m-6.5 8.2h.7m-9.6-9.1h.7m-.1-5.6h.7m4.4 5.2h.7m-11.3 9.9h.7m-5.6-21.4h.7m7 18.4h.7m4.8-8.2h.7m-6-5.6h.7m2.9 9.1h.7m-6.3 3.9h.7m-8.4-4.9h.7m13.3-2.8h.7m-.9 .2h.7m-1.4-13.8h.7m2.4 13.5h.7m-5.6 7h.7m-3.7-9.7h.7m-1.3-5.8h.7m10.7 4.4h.7m2-7.3h.7m-11.4 2h.7m3.8 17.1h.7m-13.1-1.1h.7m22.6-1.5h.7m-7.2 2.5h.7m-12.9 2.9h.7m9.1-11.3h.7m-.7-11.5h.7m1.8 18.1h.7m-1.5-11h.7m-16 6.6h.7m14.9 5.8h.7m-7.7-12.1h.7m-1.1 11.6h.7m-6.6 4.6h.7m3.2-12.4h.7m-8 17.4h.7m8.3-23.7h.7m2.4 8.4h.7m-4.2 9.4h.7m.6-10.7h.7m-4.2 3.6h.7m4.2-7.2h.7m-2.1 1.5h.7m-5.9 6.2h.7m3.8 1.2h.7m.2 0h.7m-.4-7.1h.7m2.9 10.8h.7m-2.3-3.8h.7m-9.1 4.3h.7m4.4-2.6h.7m-4.1-12.6h.7m7 3h.7m-12.6 4.7h.7m-8.1 .5h.7m11.6 7.6h.7m-5.3-14.9h.7m13.1 7.6h.7m-8.3 2.2h.7m-5.2 1.6h.7m11-1.3h.7m-10.6 1.8h.7m-11.3-7.1h.7m15.1-1.5h.7m.2 2.7h.7m-5.7-1.6h.7m-3.4 3h.7m6.2-5.6h.7m-21.6 13h.7m19.9-1h.7m-4.5-2.5h.7m2.9 2.2h.7m-4.4-7h.7m-10.8 3.7h.7m4.1-2.9h.7m14.6 6.1h.7m-11.2-7.6h.7m-2.6-3.8h.7m-.2 11.2h.7m2-4.9h.7m1.7 9.2h.7m20.4-12.2h.7m-28.1-.5h.7m13.7 3.7h.7m.1 1.8h.7m-10.9-22.2h.7m-14.3 15.3h.7m.3 2.3h.7m9.4-4.2h.7m-3.9 8.3h.7m3.4-.1h.7m-.9 2.8h.7m-3.6-2.9h.7m2.6 4.3h.7m7.9-5h.7m-8.7 3.4h.7m-2.7-6.5h.7m-1.4 6.7h.7m16.3 3.9h.7m-10.5-3.2h.7m-15.1-8.5h.7m12.8 6.8h.7m6.3-.3h.7m-3.8-13.5h.7m-8.9 .3h.7m5.8 6.5h.7m-10.9 10.8h.7m5-15.3h.7m-5.7-1.3h.7m3.4 9.4h.7m-4.4 4.4h.7m24.5-2.7h.7m-10.7-1.5h.7m-14.8-6.5h.7m9.3 12.2h.7m-10-8.4h.7m-6 9.8h.7m16.5-5.9h.7m-8.8-8h.7m-8.5 10.9h.7m11.5-.2h.7m-7.7-6.7h.7m-3.7-6.4h.7m5.4 6.7h.7m-1.4-.7h.7m-13 7h.7m6.6 3.9h.7m18.6-5.4h.7m-21.9 4.8h.7m-5.6-4.7h.7m18-2.4h.7m-17.5-4.1h.7m-6 2.7h.7m15.9 2.3h.7m1.8 7h.7m-7.8-20.2h.7m12.2 5.3h.7m-5.5 6.9h.7m-3.2-1.7h.7m-.9-2.4h.7m-15.8 3.6h.7m14.9 6.6h.7m-1.4-4.3h.7m-14.2-4.2h.7m12.1-4.4h.7m-16.3 .8h.7m11.7-13.5h.7m-2.6 13.1h.7m6.2 6.2h.7m-4.9 11.1h.7m3.9-13h.7m-8.3 4.6h.7m24.2 3.1h.7m-17.2-17.2h.7m3.8 9.9h.7m-7.2-.9h.7m-5.2-2.3h.7m2.5-2.6h.7m-8.1 17.4h.7m-1.3-5h.7m6.3 2.6h.7m-6-11.1h.7m-9.5 .9h.7m21.5 11.7h.7m-9.5-18.4h.7m-1.2 11.9h.7m-6.4-4.7h.7m11.2-4.7h.7m1 11.2h.7m-8.2-11.4h.7m-7.5 7.5h.7m25.6-9.2h.7m-25.4 7h.7m3.8 2.8h.7m-12.5-4.3h.7m11.5 8.7h.7m-5.1 3.5h.7m-5.6-4.8h.7m5.2-3.6h.7m.5-5.4h.7m6.6 9.2h.7m-1.6-5.1h.7m-19.3 4.3h.7m10.3-1h.7m-1.9 .5h.7m19.3 10.3h.7m-24.1-19h.7m1.5 7.9h.7m13.3 5.9h.7m-12.8-8.4h.7m11.2 1.5h.7m-16.5-6.6h.7m11.2 17.6h.7m5.8-10h.7m-9.2-8.7h.7m-5.3-3h.7m-11.1 3.5h.7m15.7 10.4h.7m-17.6 2.7h.7m11.1-5.3h.7m5.8-12.3h.7m6.1 3.7h.7m-.6 2h.7m-10.7 3.1h.7m-11.7 2.1h.7m17.6-3.6h.7m-6.6 2.1h.7m4.2 4.6h.7m-15.1-2.2h.7m12 2.1h.7m-2-.9h.7m1.5 4.7h.7m-6.8-5.3h.7m5.8-10.7h.7m-16.3-.5h.7m-1.3 7h.7m10.1 6.1h.7m7 0h.7m-11.9-9.6h.7m-5.6 3h.7m12.9 6.4h.7m-14.5-17.4h.7m5.9 13.8h.7m-.1-4.6h.7m9.3 15.1h.7m1.3-7.4h.7m-33.2-7.4h.7m9.8 18h.7m-.6-19.1h.7m7.2 5.7h.7m-3.6 10.8h.7m7.2-12.9h.7m-11.2 4.4h.7m.1-18.6h.7m21.3 7.4h.7m-17.2 3.6h.7m9.1-.4h.7m-16.4-1.2h.7m13 5.2h.7m-21.3-9h.7m17.6 .3h.7m-7.5 4.6h.7m3 9.2h.7m-2.9 .5h.7m-8.9-6.2h.7m5.5-3.2h.7m0 5.2h.7m-1.9-1.2h.7m1.2-1h.7m5.6 7.5h.7m-.5-2.3h.7m-1.4-5.3h.7m-4.7 12.9h.7m-5-11.8h.7m12.5 2h.7m-7-1.8h.7m-17.4-13.3h.7m12.6 14.7h.7m-6.4 1.8h.7m2.4 .7h.7m-9.4-8.4h.7m8.9 8.2h.7m-1.8-5.8h.7m8.6 1.3h.7m2.7 6.5h.7m-1.9-1.8h.7m-5.4-3.8h.7m-6.3 .4h.7m8.6-2h.7m15.3-1.1h.7m-12.9 8.2h.7m-16.8-2h.7m16.5 8.8h.7m-17.6-14.7h.7m9.6-3.3h.7m6.6-3.5h.7m-16.8-4.9h.7m9 12.9h.7m-10.4 1.5h.7m.2 1.7h.7m10.7-6.6h.7m.2 10.7h.7m-6.5-1.2h.7m-8.1-5.9h.7m.2-4h.7m-.6 4.3h.7m9.2 8.3h.7m-13.1-2.6h.7m-7.2 5.1h.7m11.9-6.3h.7m-5 1.5h.7m5.8-8.8h.7m-8.9 4.2h.7m2.5 5.5h.7m-1.8-5.5h.7m-.5-7h.7m4.2 14.7h.7m9.8-2.1h.7m-10.8 1.4h.7m.4-9.1h.7m-.3 1.6h.7m-9.2-8.2h.7m8.7 6.6h.7m-8.4-1.6h.7m-19.6 6.4h.7m16.4-9.9h.7m3.9 5.7h.7m-7.6 1.5h.7m2.6-2h.7m2.3 6.6h.7m-5.5 8h.7m4.8-11.7h.7m-16.3-.2h.7m18.6-14.1h.7m-.3 16.1h.7m-14.3 .3h.7m5.3 1.5h.7m-3.4-12.1h.7m10.8 10.5h.7m-6.5-6.8h.7m-11.2 2.4h.7m7.4 22.4h.7m10.6-18.8h.7m.6 2.9h.7m-15.4-2.5h.7m-1.1 5.6h.7m14.6-13h.7m-21.3 15h.7m6.2-13.3h.7m2.7 4.6h.7m0-4.2h.7m5.4-3.2h.7m-10.2 5.6h.7m12.6-.8h.7m-23.4 6.7h.7m8.6-15.7h.7m-6.8 12.9h.7m16.8-1.4h.7m-11.5-4h.7m3.7 4.3h.7m1.6 2.7h.7m-19.1 7h.7m12.9 0h.7m8.8-7.6h.7m-16.8-17.5h.7m-2.5 12.7h.7m-2.8 .5h.7m3.9-3.1h.7m7.6-4.2h.7m-7.1 2.3h.7m6.9-5.6h.7m-8.6 13.1h.7m4.4 4.9h.7m.1-15.8h.7m3.8 7.2h.7m-2 3.9h.7m-.9-1h.7m-1.5-4.8h.7m-15.9 5.1h.7m15.2-14.6h.7m.7 20.4h.7m-12.6-9.1h.7m-2.1 5.3h.7m8.5 2.2h.7m-6.9-3.6h.7m5.3-8.4h.7m2.5 1.2h.7m-25.9 16.1h.7m31-5.2h.7m-16 4.2h.7m-2.8-17.3h.7m3.1 11.5h.7m1.8-9h.7m2 3.6h.7m-11.9 5.4h.7m18.4-3.1h.7m-2.2 1.9h.7m-2.9 12.8h.7m-4.7-22.4h.7m-1.6-1h.7m-5 5.4h.7m-5.9 4.1h.7m13.4 4h.7m2.5-15.6h.7m-7.4 12h.7m-2.6-7.9h.7m-11.7 5.7h.7m16.8-5.2h.7m-8.2-3.6h.7m7.2 16.2h.7m-9.6-18.7h.7m2.3 23.9h.7m2.1-13h.7m-4.1-5.2h.7m-9.1 6.6h.7m-11.4-9h.7m25 3h.7m-18.6 7.7h.7m8.4-10.7h.7m-5.8 14.4h.7m9.8-9.4h.7m3.1 17h.7m2.1-10.3h.7m-18.7 2.6h.7m.3-15.1h.7m-5.9 12.1h.7m14.2-4.1h.7m-10.5 5.9h.7m-3.6-7.3h.7m-3.3 7.2h.7m16 3.9h.7m-12.8-6.9h.7m-.5-2.6h.7m.3-.1h.7m-1.8 3.4h.7m4.6-6.6h.7m3.9 8.1h.7m3.5 2.6h.7m-20-5.7h.7m-3.8 9.8h.7m19.3-18.1h.7m-1.3 10.5h.7m-7.5-10.6h.7m9.2 8.9h.7m-.9 .1h.7m-1.5-11.3h.7m.8 14.5h.7m-17-3h.7m6.6-5.7h.7m.4 8.9h.7m2.5 .6h.7m-5-4.6h.7m-6.1-4.3h.7m14.2 6.1h.7m-11-5.1h.7m-2.1-7.6h.7m1.7 10.1h.7m2.4 5.4h.7m-4-12.8h.7m1.8 6.1h.7m-2.4 2.3h.7m-17.9-1.3h.7m25.5 5h.7m-5.9-15.5h.7m-9.1 22.7h.7m-5.4-15.2h.7m2.4 5.6h.7m3.7-4.8h.7m12.4 1.1h.7m-5.6 5.9h.7m-6.4-12.6h.7m-1 11.4h.7m-4.9 4.8h.7m15.9-9.8h.7m-27.5 1.6h.7m9.8-8.1h.7m4 37.4h.7m-9 3.3h.7m-1.3-7h.7m3.6 4.6h.7m5 5.3h.7m1.6-9.9h.7m-4.7 6.4h.7m12.5-12.9h.7m-10.3 15.8h.7m-5.7-16.8h.7m4.6 8.7h.7m-10.5-3.1h.7m12.6 4.6h.7m.3-2.9h.7m-9.7 .1h.7m4-4.3h.7m-2.7 4h.7m-16.7 11h.7m9.7-3.1h.7m-2.5-.5h.7m-1.3 2.1h.7m3.1-10.5h.7m5 9.8h.7m-3.3-12.4h.7m-9.6 3.9h.7m-.4-3h.7m16.7 6.9h.7m-16.5-5.8h.7m-2.1 5h.7m13.8 9.2h.7m-13.3-9.8h.7m4.2 .2h.7m-6-2.5h.7m2.1 6.4h.7m-11.8 7h.7m5.3-11.7h.7m4.9 1h.7m-2.4-8.3h.7m7.5 16.4h.7m-7.7-1.6h.7m4.4-18.5h.7m-1 20.4h.7m-9.1-8.6h.7m10.5 3.5h.7m-3.5-3.1h.7m-1.1 10.5h.7m2.9-18.2h.7m4.8 6.7h.7m-13.4 5h.7m-5.2-14.3h.7m4.3 7h.7m-5.7-5.7h.7m12.7 4.7h.7m-1.3 4.8h.7m-16.5-8.3h.7m4.6-2.1h.7m3.1 .8h.7m9.2 6.3h.7m-18 4.3h.7m8.6-7.2h.7m-1-1.4h.7m-4.6 9h.7m-2.1 4.4h.7m-6.5-5.2h.7m5.7-3.5h.7m.8-1h.7m-.6 4.3h.7m-3-11.3h.7m9 14h.7m-2.4-1.1h.7m-2.9 1.5h.7m-12-2.6h.7m-.1-2h.7m9.4-.9h.7m-5-4.5h.7m0-4.1h.7m-2.6 10.2h.7m-5.2-9.5h.7m.5 16.2h.7m-3.6-15.7h.7m25.2 2.8h.7m-11.8 8.3h.7m-3.5 2.5h.7m16.9-10.7h.7m-27.5 1.4h.7m14.9-.4h.7m-15.2 7.7h.7m-2.1-1.2h.7m-2.1-.6h.7m12-2.3h.7m-11.2-11.6h.7m8.6-4.2h.7m6.1 9.9h.7m-13.5-.2h.7m8.7 12.8h.7m-17.8-3h.7m-.9-7.5h.7m8.3 7.8h.7m5.4-10.4h.7m2.1 .9h.7m-9 7.7h.7m-1.9-4h.7m2.2 8.9h.7m7-5.2h.7m-6.5-1.4h.7m-8.3 .7h.7m3.2-8.6h.7m-2.8 10.3h.7m6-3.1h.7m4.6-7.8h.7m-6 6.6h.7m-4.8 13h.7m.9-12.5h.7m3.3 4.4h.7m-10.3 3.1h.7m5.5-8.5h.7m1 11.4h.7m-.6-10.9h.7m-4.9-3.3h.7m1.1 1.8h.7m-1.3 .9h.7m3.5 13.5h.7m-10.8-11.2h.7m9 7.4h.7m-5.4-13h.7m3.4 4.1h.7m.1-1.7h.7m-8.7-4.8h.7m14.4-1.2h.7m-27.3 11.8h.7m24.8-8.2h.7m-5.6 5.8h.7m-13.9-2.1h.7m8.7 2.2h.7m-5-5.8h.7m7.2 1.8h.7m-3.8 2.3h.7m-18-7.1h.7m2.5-1.7h.7m.8 6.2h.7m21.2 .8h.7m-3.6-7.2h.7m-14.3-5.2h.7m6.3 13.8h.7m12-4h.7m-17.6 9.3h.7m-3.3 3.6h.7m3.4-12.7h.7m-1.3 6.5h.7m8.8-7.4h.7m-10.4-3.5h.7m-5.6 5.1h.7m8.7 2.4h.7m-.2 6.2h.7m-3.5-10h.7m1.7 12.5h.7m-11.6-1.9h.7m2.2-1.6h.7m15.3-.5h.7m-12.3-5.5h.7m-2.5 3.4h.7m1.4-9.4h.7m14 14h.7m-21.5-2.2h.7m9.8 3.3h.7m1.5-8h.7m-6.1-3.6h.7m-11.5 10.4h.7m20.5 2.3h.7m.6-.5h.7m-19.4 1.5h.7m17.1-9h.7m-15.6 5h.7m-.8-1.4h.7m-.3-3.8h.7m-.8-6.5h.7m-3.7 10.7h.7m3.8-10.2h.7m-1.3 12.5h.7m-6.9-8h.7m11.9 8.7h.7m-3.7-6.6h.7m.9-6.6h.7m-.5-2.4h.7m-4.6 13.9h.7m1.4-2.4h.7m10.3-4.7h.7m-15.2 2.6h.7m-4.7-7.8h.7m-2.3-2.8h.7m4 12.3h.7m3-3.5h.7m-2.7 9.6h.7m-9.6-.7h.7m-.1-7.8h.7m15.7 1.8h.7m-.8-8.4h.7m3.5 7.9h.7m-5.8 10.8h.7m-5.1-11.9h.7m9-10.7h.7m-17.6 10.2h.7m8.7 9.1h.7m-4.7-6.5h.7m.2-8.3h.7m-11.3 3.7h.7m1.8 4.6h.7m-10.8-5.2h.7m15.4-.8h.7m7.2 5.8h.7m-7.7-5.6h.7m17.3 3.6h.7m-29.4-.7h.7m19-.3h.7m-9.8 10.6h.7m9.5-13.1h.7m-4-1.3h.7m-1.7 2.7h.7m-.5-6.1h.7m-5.3 6.9h.7m.1 3.6h.7m-2.3-10.8h.7m-14.6 15.4h.7m12.8-11.5h.7m6.2 7.2h.7m-6.3 1.4h.7m-6.2 .5h.7m5.5-4h.7m-3.1-7.4h.7m-3.1 6.3h.7m1-.6h.7m6.3 .6h.7m-8.5-2.2h.7m-6.1 9.7h.7m10.5-3.3h.7m-12.7 3h.7m14.5 1.2h.7m-2.5-10.8h.7m-1.1 5.7h.7m.7 6.5h.7m-13.8-1.1h.7m8-3.4h.7m1.1 2.5h.7m14-11.6h.7m-14.9 10.4h.7m5.9-7.9h.7m-13.8-9h.7m-7.4 13.3h.7m15.8-1.4h.7m-7.3 1h.7m-10.2 1.6h.7m5.4 3.5h.7m-.2-8.9h.7m4.5 6.7h.7m4.2 3.4h.7m-9.8-1.8h.7m6.5-13.1h.7m-12.3 13.2h.7m6.4-10.2h.7m-4.1 2.6h.7m1.7 4.6h.7m0-3.5h.7m1.8-2.5h.7m1 5.7h.7m-8.5-7h.7m4.2 9.7h.7m-.1 .2h.7m3.9-11.8h.7m-7.1 5.2h.7m1.5 5.6h.7m-9.4 8.6h.7m9.6-20.1h.7m2.6 6.9h.7m-2.9 .2h.7m-6.6-12.3h.7m-3.3 9.2h.7m7.1 2.1h.7m-.3 .9h.7m-8.2 10.7h.7m3.6-22.3h.7m-3.5 6.1h.7m-1 5.1h.7m3.3-6.7h.7m-9.2 12.6h.7m-4.8-4.4h.7m-7.8 4.8h.7m6.3-9.1h.7m12.6-8.6h.7m-15.9 11.5h.7m7.2 .4h.7m10.4 3.1h.7m-18.7 8.9h.7m14-19.5h.7m5.6 4.9h.7m-12.4-6.7h.7m4.5 6.9h.7m-10.1-2.5h.7m16.5-.3h.7m-3-5.7h.7m4.7 9.7h.7m-15.4-.2h.7m-9.7-4.1h.7m4.5 13.1h.7m-12.3-4.4h.7m1.1-7.4h.7m6.3-.3h.7m2.5 8.2h.7m-2.3-4.7h.7m8.7 14.7h.7m-4.8-22.7h.7m-2.2 14.2h.7m.6-15.1h.7m-2.5 8.8h.7m10.8 2.6h.7m-.9 5.3h.7m-15.2-1.2h.7m-1.8-12.8h.7m4.3 2.9h.7m17.1 1.6h.7m-5.3-.9h.7m-13.3-3.2h.7m-2.9 4.5h.7m-4-9.2h.7m-11.2 14h.7m9.1-16.3h.7m.4 11.7h.7m8.1 1.4h.7m-5.9 3.6h.7m4.3 2.7h.7m1 1.1h.7m9.2 1h.7m-14.3-15.8h.7m-12.2 18h.7m4.1-17.7h.7m-8.1 7.8h.7m6.3-8.1h.7m-9.8 6.1h.7m10 4.5h.7m-2.5-.4h.7m2.2-2.9h.7m4.7-6.5h.7m-6.6 9.5h.7m4.8-5.9h.7m-5.1-2.5h.7m1.8 4.8h.7m-3.5 3.9h.7m-11.4-16.7h.7m13.8 13.3h.7m3.6 .9h.7m-2.4-3.8h.7m6.8-8.4h.7m-1.4 14.5h.7m-5.6 2h.7m-3.3-7.6h.7m-2.6-2.6h.7m-.8 3.8h.7m.9 3.3h.7m-6.4-10.3h.7m-1.6 13.7h.7m8.5-4.6h.7m-7.9 4.2h.7m6.4-3.8h.7m-4 .6h.7m-7.5-4.1h.7m4.3 8.1h.7m-10.7-6h.7m3.8-1.8h.7m10.2-4h.7m2.5 11h.7m-13.8-9.8h.7m-8.3 9.1h.7m-.9-4.5h.7m2.7-7.3h.7m9.9 18.2h.7m4.2-3.8h.7m-8.2 1.7h.7m5.1-4h.7m-1.2-8.7h.7m-14.7 7.3h.7m1 .2h.7m-4.8 5.8h.7m10.4-21.2h.7m-5.7 12.9h.7m2.5-12.1h.7m-11.1 4.8h.7m6-3.5h.7m2.5 11.9h.7m-13.5 11.7h.7m12.7-22.2h.7m-4.2 8h.7m2.9 7.5h.7m-8.1-7.5h.7m6.1-6h.7m0 10.9h.7m6.9-9.8h.7m-8.5-1h.7m9.1 8.6h.7m-14-4.4h.7m-.6 4.7h.7m-2.3-.8h.7m10-5.8h.7m-6.2 15.3h.7m5.6-19.3h.7m-13.7 2.6h.7m5.3-3.8h.7m1.7 7h.7m-.7 10h.7m-7.9-3.2h.7m8.3 6h.7m-5-12.1h.7m5-5.8h.7m-6.9 3.6h.7m-8.1 .3h.7m1.5 8.3h.7m5.4-14.9h.7m-14 6.9h.7m14.8-5.9h.7m-3.3 4.1h.7m13.9 7.9h.7m-22.8 2.9h.7m3.3-9.5h.7m-5.1 11.5h.7m19.9-11.4h.7m-13.8 5.7h.7m-1.1 .5h.7m-3.1-11.2h.7m-.2 9h.7m-2.1 5.4h.7m10.6-2.1h.7m7.1-7.3h.7m-11.1-2.5h.7m-1.4-.2h.7m4.3 5.1h.7m-2.4 14h.7m-4.9-12.7h.7m9.8 4.3h.7m-5.1-7.8h.7m-4.5-1.7h.7m-8 4.9h.7m7.3-5.8h.7m-17 15.1h.7m20.1-19h.7m-16.1 5.3h.7m-1.4 1.3h.7m11.9 4.4h.7m-2.4-3.4h.7m-15.9-24.7h.7m-6 18.3h.7m3.3 2.4h.7m2-3.2h.7m.6-12.2h.7m-17 8.5h.7m22.7-11.5h.7m-11.3 16h.7m1.6 1.1h.7m-8 .6h.7m2.2-23.9h.7m7.5 15.3h.7m3-4.7h.7m16.7 2.2h.7m-21.4 9.2h.7m-2.1-10.1h.7m16.1 11.2h.7m-22.4 3.6h.7m-4.2 7.8h.7m22.3-18.8h.7m-17.8 9.5h.7m-21-5.1h.7m26.4 1.1h.7m-21.4 10.2h.7m5.3-12.8h.7m13.3 3.3h.7m-1.7-.3h.7m.3-.3h.7m-15.9 5.8h.7m-1.1-3.8h.7m6.7-5.6h.7m-17.8 6.2h.7m22.3-2.8h.7m-2.1-.9h.7m5.6 1.5h.7m-11.1-.1h.7m7.1-15.5h.7m2 9.4h.7m-19.8 8h.7m7.8-6h.7m-1.9-2.1h.7m9.7 5.4h.7m-23.2-3.7h.7m11.3-.7h.7m5.9 10h.7m-5.7-12.1h.7m-7.3-1.6h.7m13.2 3.4h.7m3.7-3.4h.7m.2 .9h.7m-3.3 10h.7m-8.7 2.8h.7m-11.8 8.7h.7m9.6-23.8h.7m-24.2-7.9h.7m25.9 37.9h.7m15.8-17.8h.7m1.5-13.5h.7m-40 22.4h.7m10.2-8.3h.7m7.5-5.5h.7m5.2 6h.7m-9.1-1.3h.7m23.6-3.3h.7m-17.7 16h.7m8.6-30.1h.7m-15.6 21.5h.7m-4.9-.9h.7m2-3h.7m-7-5.7h.7m30 12.4h.7m-9.3-8h.7m-11-9.1h.7m1.8-8.1h.7m-.1 17.2h.7m-17.5 11.5h.7m18.5-26.5h.7m-17.4 .6h.7m5.8-.6h.7m31 4.4h.7m-53.9 10.1h.7m19.5 12.1h.7m-1.1-13.8h.7m4.3-10.5h.7m-6.3-6.7h.7m9.7 4.8h.7m3.7 3.5h.7m-7.2 21.9h.7m-18.4-17.7h.7m6.2 17.9h.7m8.1-18.7h.7m5.6 4h.7m9.9 6.7h.7m-23.6-7.4h.7m6.1 9.3h.7m-11.4-1.8h.7m12.6-.2h.7m-8.9-6.5h.7m.7 .9h.7m-23.6 10.5h.7m23.6-15.1h.7m7.6 5.3h.7m-21.3 8.2h.7m5-14.4h.7m33.3 .9h.7m-40.1 10.1h.7m12.6-8.3h.7m-16.4-6.2h.7m20.6 15.2h.7m-6.7-11.2h.7m14.7 1.9h.7m2.7-6.6h.7m-20.4 3.9h.7m2.1 .2h.7m-24-2.1h.7m36.3 13.5h.7m-4.3-1.4h.7m-12-9h.7m6.7 8.7h.7m-11.3 3.4h.7m11.8 6.9h.7m5.5-.9h.7m-14.1-9.5h.7m-5.8-18.3h.7m.5 23.3h.7m-9-12.8h.7m9.9-3h.7m-20.8-1.4h.7m21.9 22.3h.7m-3.6-1.8h.7m5.5-13.2h.7m-17.7-2h.7m3.7 3.7h.7m21.1 11.9h.7m-28.2-21.4h.7m2.9 21.8h.7m10-4.2h.7m-18.8-8h.7m1.6 17.4h.7m22.7-4.7h.7m-21.9-11.3h.7m-3.9-20.2h.7m2 24.1h.7m14.6 .1h.7m-26.7-3.4h.7m5.7-2.2h.7m.2 7.2h.7m13.1 5.8h.7m2.7 1.4h.7m7.2-5.6h.7m-5.9-11.8h.7m-11.8-1.9h.7m-4.3-12.4h.7m-8.7 22.7h.7m-1.3-2.4h.7m22.6-3.6h.7m-20.7 .9h.7m15 7.5h.7m-.3-7.7h.7m-8.8-5.8h.7m20.6-6.9h.7m-16.5-5.4h.7m2 15h.7m15.1 .8h.7m-28.6 3.1h.7m-10.6-1.1h.7m11.4 0h.7m6.9 .1h.7m4.1-9.1h.7m-3 17.3h.7m2.6-12.1h.7m-1.1 1.4h.7m4.5 9.9h.7m-19.1-3.3h.7m6.5-1.5h.7m-1.8-17.8h.7m-11.8 8.7h.7m-13.4 7.1h.7m35-5.9h.7m-22.9-4.2h.7m11.4 .6h.7m-8 8.4h.7m14.5-9.7h.7m-20.3-7h.7m5.6 22.3h.7m11.3 9.6h.7m3.5-16.3h.7m-6.1 2.7h.7m9.4 11.8h.7m-30.5-21.6h.7m4.6 14.3h.7m2.2 .5h.7m-3.6-17.9h.7m28.8 11.9h.7m-28.9 1.5h.7m7-6.6h.7m-24.3 7.3h.7m17.9 2.4h.7m2.5-1.1h.7m4.4-16.9h.7m-11.9 22.2h.7m5.3-10.8h.7m2.6-8.4h.7m-7.4 10.4h.7m11.3-5.1h.7m-9.3 6.7h.7m16.6-.7h.7m-15.8-29.4h.7m14.4 18.5h.7m-5.4 9.6h.7m-15.4-12.6h.7m-2.5 15.5h.7m4.3 7.8h.7m1-18.2h.7m1 15.7h.7m0-23.7h.7m9.1 18.6h.7m-21.6-8.3h.7m23.1 6.8h.7m-18.6 6.5h.7m-12.1-3.2h.7m12.8-15.1h.7m11 18.7h.7m-11.8 1.9h.7m4.2-10.5h.7m-8.9-17.8h.7m3.5 20.8h.7m3.3 9h.7m1.6-4.6h.7m-25.9-9.8h.7m11.9 8.6h.7m-.9 8h.7m7.2-11.1h.7m1.4-1.5h.7m-18.6-1h.7m12.9-16.4h.7m-5 18h.7m.1-19.5h.7m12.4 32h.7m-22.2-21.6h.7m-2.1-4h.7m7.2 17.4h.7m.2 .1h.7m2.4-16.6h.7m-17.2 3.8h.7m23.8 7.7h.7m-15.7-10.9h.7m-14.9 5.7h.7m10.6-5.3h.7m24.7 20.1h.7m-16.2-8.9h.7m-10 3.6h.7m16.4-7.9h.7m-5.1 4.9h.7m-20.2-4.7h.7m20.5 14.5h.7m-5.7-22.4h.7m5 7.8h.7m-18.9 3.1h.7m4.3-10.7h.7m2.3 11.9h.7m4.1-12.6h.7m9.4-1.1h.7m-18 26.5h.7m18.6-21.7h.7m2.1-3.4h.7m-15.6 1.4h.7m-3.6 14.9h.7m2.8-16.5h.7m-12.1-6h.7m20.6 24.1h.7m3.6-4.5h.7m-23.7 .4h.7m9-4.1h.7m-2.4 7.4h.7m9.8-16.8h.7m.2 16.3h.7m-13.1-29.9h.7m5.1 18.8h.7m-12.2-8.9h.7m10.7 2.6h.7m-14 13.5h.7m6.7 .5h.7m3.9-12.9h.7m4.5 20.2h.7m-3.4 1.9h.7m-11.4-9.7h.7m13-21.9h.7m-23.4 3h.7m9.7 30.3h.7m-14.8-7.9h.7m15.8-8.3h.7m-8.4 3.8h.7m12-8.6h.7m-23 7.2h.7m40.1-3.8h.7m-38.9-4.1h.7m4.1 5.8h.7m21.3-4.7h.7m-22.9-13.4h.7m-14.2-2.3h.7m14.3-.7h.7m-15.3 .1h.7m4.6 4.7h.7m-2.9-4.1h.7m.7 2.5h.7m-10.5 3.7h.7m1.5-8.1h.7m15.3 3.5h.7m-12.1-.8h.7m-3.4-3h.7m6.1 10.5h.7m-6.3-5.9h.7m-1.9 4.9h.7m7.8-1.8h.7m-3.3 1.3h.7m7.9-6.9h.7m-21 .8h.7m11.7 4.1h.7m-3.7-2.5h.7m1 3h.7m.1-5h.7m3-3.7h.7m14.2 7.3h.7m-21.9-4.7h.7m-10-.5h.7m14.3 3.3h.7m-11.7-.9h.7m9.1-2.7h.7m4.7 4.1h.7m1.8 2.3h.7m-13.3-1.2h.7m-.3 3.2h.7m9.1-9.6h.7m5.2 7.7h.7m-19.9 1.6h.7m4.5-1.7h.7m17-3.6h.7m-25.3 5.4h.7m31.4-7.5h.7m-35.9 6.5h.7m5.1-.1h.7m-1.5-1.2h.7m9.8-1.2h.7m-8.2-3.1h.7m4.3 2.7h.7m1.9 .5h.7m-16 1.2h.7m23-4.1h.7m3.8 6.8h.7m-11.7 1.2h.7m-7.5-11.2h.7m-4.3 5.8h.7m-7.5 2.2h.7m5.3-5.9h.7m11.8 .6h.7m-.3 2.4h.7m-17.2 1.7h.7m6.8-.5h.7m-.3 1.2h.7m-6.6 1.1h.7m10.2-2.1h.7m-11-3.2h.7m-3.9 6.1h.7m17.1 .1h.7m-6.3-3h.7m-1.9-1.9h.7m-10.6 4.2h.7m14.5 1.8h.7m13-10.8h.7m-28.3 9.8h.7m20.7 .3h.7m-22.7-.9h.7m-1.8-5.7h.7m9.5 0h.7m18.7 .4h.7m-18.5 .8h.7m3.3 2.7h.7m-14.1-.9h.7m7.8-2.4h.7m-6 4.7h.7m5 .3h.7m6 .9h.7m-19.6-3.1h.7m14.2 .3h.7m1.2-1.2h.7m-6.4 3.3h.7m.4-4.3h.7m-2.7-2.9h.7m-2.7 5.2h.7m5-2.5h.7m-3.1 4h.7m-5.6-5.5h.7m-3.3 2.6h.7m8.6 2.1h.7m-12.6 1h.7m-4.3-5.6h.7m-1 3.9h.7m8.9 .3h.7m-2.9-5.5h.7m.4 2.2h.7m1.4 1.9h.7m8.7-4.8h.7m-8.6 5.7h.7m-5.9-1.1h.7m3.8-3.3h.7m-7.3 5.4h.7m.7-3.7h.7m16.4-.5h.7m-21.8 5.2h.7m11-.7h.7m-3 4.4h.7m5.2-2.4h.7m-12.9-4.3h.7m-6.9 1.6h.7m16.7-7.2h.7m-2.3 6h.7m-4.3-3.4h.7m-6.7 .3h.7m-4.2 2.8h.7m5.9-2.2h.7m-9.8 5.8h.7m14.1-5.5h.7m1.7 .7h.7m-7 .8h.7m13.8-.2h.7m-19.5 1.2h.7m17.8-.3h.7m-22.6 1.5h.7m12.8-4.7h.7m8.4 3.8h.7m-16.7 0h.7m9-3.6h.7m-7-1.1h.7m2.7 6.5h.7m-5.2-3h.7m-6.4 2.7h.7m3.7-2.3h.7m-7.6-6.3h.7m10.9 11h.7m-10.1-7.6h.7m3.3 4.4h.7m7.4 1.4h.7m-.5-2.1h.7m-7.2-6.6h.7m-6.8 6.3h.7m9.8 .8h.7m-4.8 2h.7m-3.6-1.7h.7m-6.3-1.4h.7m.3-.2h.7m-1.7 .7h.7m3.2-.3h.7m-4-2.3h.7m-.7 4.8h.7m14.6-2.5h.7m-2.4-4.5h.7m11.5 1.3h.7m-20.7 7.6h.7m-3.7-4.5h.7m9.6 2.2h.7m-2.5-2.2h.7m4.8 5.5h.7m-11.2-2.6h.7m-3.5-4.7h.7m10.6 1.8h.7m-12-.7h.7m-2-2.4h.7m6.9-.6h.7m-14.2 5.2h.7m14.3-1.5h.7m-9.5-1.2h.7m4.8 .6h.7m1.2-2.7h.7m-6.5 6h.7m-1.5-8.3h.7m.9 4h.7m-2.4 1.1h.7m6.1-1.5h.7m-9.7 7h.7m4.7-6h.7m5.4-1.6h.7m-12.6 2.7h.7m16.8-.3h.7m-11.6 4.7h.7m4.3-5h.7m-8.2-2.3h.7m8 2.2h.7m1.6-3.7h.7m12.5 3.3h.7m-25.2 .1h.7m5.1-3.1h.7m10.5 2.5h.7m-26.7-3.2h.7m27.2 4.5h.7m-17.8-.1h.7m-9.5-1.5h.7m17.4 3.3h.7m.4-6.8h.7m-3.7 7.2h.7m-12.8-4.4h.7m4.6 1.3h.7m-1.9 1h.7m9-.9h.7m7.8-4.3h.7m-13.9-1.1h.7m-5.8 7.2h.7m5.3-.8h.7m-1-1.9h.7m-10.1 3.9h.7m7-7.1h.7m-2.8 4.8h.7m11.5 .5h.7m-17-3.5h.7m14.6 1.6h.7m-9-1.7h.7m11.5 2.4h.7m-24.6-6.1h.7m12 9.1h.7m-9.8-.2h.7m-4.3-5.5h.7m14.3 8.1h.7m-.5-1.6h.7m-13.3 1.5h.7m3.7 .1h.7m9.9-3h.7m-16.9-4.2h.7m-2-2.7h.7m2.7 1.7h.7m14.4 2.2h.7m-9.5-2.7h.7m-3.4 8.4h.7m-7.8-1.2h.7m3.9-6.1h.7m8.9 3.9h.7m-9.2-.7h.7m-7.7-3.4h.7m3.5 6h.7m6.7-5.6h.7m-7 2.1h.7m8.7 .5h.7m11.4-2.5h.7m-24.8 3.7h.7m3.8 1.2h.7m-.4-8h.7m-5.4 4.6h.7m25.2-.7h.7m-8.6 5.8h.7m-11.6 2.3h.7m-6.4-5h.7m2.4-2h.7m-.2 .8h.7m-.9-7.5h.7m-2.1 10.8h.7m8.9-.7h.7m-13.4-.5h.7m6.2 2.6h.7m1.7-6.8h.7m-12 3.8h.7m13-1h.7m5.1 1.6h.7m-14-2.7h.7m18.9 5.5h.7m-9.7-5.5h.7m-10.6-1.8h.7m-6.6-6.2h.7m-.5 8.1h.7m21.1-3.2h.7m-7.3 2.1h.7m-11.2 4.8h.7m11.4-3.7h.7m-8.1-5.6h.7m-7.5 4.2h.7m8 6.4h.7m-7.5-2h.7m5.2-2.4h.7m-2.2-2.4h.7m-5.9 2.7h.7m14.4-.3h.7m-12.5-3.4h.7m7.3 .9h.7m-8.3 3.3h.7m3.4 1.2h.7m2.5-.4h.7m-7.8-4h.7m.6 2h.7m3.5-4h.7m-15.8 1h.7m4.5 .2h.7m16.5 5.2h.7m-19.1-2.2h.7m11.1 2.7h.7m-15.8-2.7h.7m2.1-1.8h.7m1.5-5.4h.7m15.8 7.7h.7m-17.1-3.7h.7m9.5-.4h.7m-5.7 1h.7m-4.3-1.3h.7m4.1 3.8h.7m-6.3 .9h.7m-3.9-.6h.7m-1.7-5h.7m5.3-.1h.7m6.3 7.5h.7m-17.7-3.2h.7m3.7-3.9h.7m11.7 7.7h.7m-2.7-7h.7m2.9-1h.7m-7.3 10.6h.7m-8.6-5.4h.7m11-4.8h.7m15.7 .1h.7m-7.7-.9h.7m-20.5 1.6h.7m2.4-.1h.7m18 6.9h.7m-23.8-4.5h.7m-1.6-2.7h.7m5.8 2.1h.7m-3-.8h.7m1.4 3.6h.7m-5.8 .7h.7m14.4 .7h.7m-13.9-3.4h.7m-5.7-2.9h.7m24.1 6.5h.7m-7.2-5.5h.7m-15-2.4h.7m3.7 2.6h.7m-5.3 3.7h.7m-3.2 3.5h.7m2.1-5.8h.7m2.1 2.4h.7m7.4 1.2h.7m-7.4-1.9h.7m-5.6-.7h.7m3.3-1.7h.7m-.9 3.2h.7m13 .3h.7m-15.8-5.9h.7m5.5 8.2h.7m1.2 .8h.7m17-3.5h.7m-27-1.3h.7m4.8 1.9h.7m6.9 1h.7m-11-5.4h.7m17.3 5.6h.7m-19.8-5.8h.7m-2.9 0h.7m17.8 7.2h.7m-18.7-6h.7m-5.7 6.7h.7m-.6-5.8h.7m22.3 3.1h.7m-11 1.4h.7m.4-3.9h.7m-12.3 7.2h.7m17.4-6.1h.7m-18.6 4.1h.7m10-4.7h.7m-3.1 1.2h.7m7.3-.1h.7m-16.3 2.6h.7m10.1-3.9h.7m-.8-3.3h.7m12.4 7.8h.7m-12.5-1.6h.7m12.9-2h.7m-28.7-1h.7m7.7-3h.7m-8 4.2h.7m11-2.1h.7m6.4 .1h.7m-17 2.8h.7m5.1-4.9h.7m-.4 8h.7m2.6-7.2h.7m-5 6.9h.7m10.8-4.9h.7m-5.6-1.5h.7m-1.7 3.1h.7m-17.4-.5h.7m9.7-.9h.7m-2.8-3.7h.7m-9.4 2.6h.7m23.1-1.8h.7m-11.4 3.4h.7m-10.5-1.3h.7m16.9-2.4h.7m-9.5-1.4h.7m-7.3 6.9h.7m5 1h.7m-9.1-2h.7m4.8 1h.7m17.6-2.3h.7m4.1-.4h.7m-23.9-2.2h.7m14.8 4h.7m-9-3h.7m-5.4 3h.7m37.4 16.2h.7m7-7.9h.7m-21.2 .2h.7m-1 13.5h.7m16.1 .2h.7m-7.9-11.8h.7m1.7 17.2h.7m.2-18.7h.7m-.7 12.5h.7m-3.2-2.2h.7m11.1-3.1h.7m-8.3 9.7h.7m-9.1 2.8h.7m21.6-20.3h.7m-37-3.8h.7m32.1 18.1h.7m-16.9-14h.7m4.7 14h.7m-13-3.1h.7m-5.7-2.7h.7m.4 6h.7m2.5-2.5h.7m11.6 4.5h.7m-13.1-4.7h.7m6.7-4h.7m-6.3 13.1h.7m-3.6-16.7h.7m19.5 18.2h.7m-11.1-6.4h.7m4.1-.5h.7m-3.7-9h.7m-.6 19.3h.7m2.5-21.1h.7m-5.6-14.7h.7m8 31.2h.7m-4.4 2h.7m-7.8-15.4h.7m7.3-7.2h.7m-5 8.2h.7m2.2 3.2h.7m-8.5 5.8h.7m2-6.6h.7m14.3 16.7h.7m-14.4-23.4h.7m-11.4 7.3h.7m15.3 2h.7m-.9-9.8h.7m7.8 10h.7m-2 5.3h.7m-11.9 1.9h.7m1.8-21.2h.7m-3.9 7.8h.7m-8.9 3.5h.7m1.2-3.2h.7m5.5 9h.7m-6.7-1.1h.7m-10.5-10.9h.7m12.1 2.2h.7m1.4-3.4h.7m-.5 18.4h.7m-1.6-9.3h.7m-3.9-8.7h.7m4.9 30.5h.7m12.3-13.7h.7m-14.8-9.2h.7m2.7 .5h.7m-6.6-10.3h.7m-7.1 6.6h.7m14 1.3h.7m-5.8 2h.7m-8.8-3.8h.7m-2.6 6.7h.7m6.4 11.5h.7m0-12.4h.7m-9.4 4.1h.7m24.5 4.7h.7m-11.3 4.4h.7m-5.5-10.9h.7m3.9-4h.7m-12.1-1.5h.7m14.4-5.3h.7m-1 6.2h.7m4.8-8.5h.7m-21.2 11.6h.7m12.2-13h.7m-8.2-1.4h.7m11 11.6h.7m-17.2 10.8h.7m29-15.5h.7m-36.6 1.3h.7m13.8 1.2h.7m1.5 12.2h.7m-19.1-17.7h.7m6.3 8.2h.7m5.7 .1h.7m9.9 8.4h.7m-3.8-13.7h.7m-10.8-3.7h.7m14.8-1.4h.7m-14.8 3.7h.7m0 3.1h.7m20.2 11h.7m-13-21h.7m-.7 28.2h.7m-16.5-7.8h.7m7.6-10.5h.7m1 9.7h.7m-11.4-.5h.7m-9.8-9.7h.7" stroke="#111" stroke-opacity="0.6" stroke-width="0.65" fill="none"/>
<path d="M41.34 103.52C41.55 99.23 42.06 98.89 42.79 96.83C43.51 94.77 44.59 92.74 45.67 91.16C46.75 89.58 48.07 88.24 49.27 87.35C50.48 86.46 51.51 85.92 52.88 85.8C54.25 85.68 56.06 85.94 57.52 86.63C58.97 87.31 60.26 88.57 61.63 89.92C63.01 91.28 64.47 92.93 65.75 94.77C67.04 96.6 68.24 98.8 69.36 100.94C70.48 103.09 71.68 105.58 72.45 107.64C73.22 109.7 73.94 111.42 74 113.31C74.05 115.19 73.58 117.34 72.76 118.97C71.94 120.6 71.16 121.96 69.05 123.09C66.94 124.22 63.64 125.39 60.09 125.77C56.54 126.15 50.82 125.89 47.73 125.36C44.64 124.82 42.61 126.21 41.55 122.58C40.49 118.94 41.14 107.81 41.34 103.52Z" fill="none" stroke="#111" stroke-width="3.0" opacity="0.85" filter="url(#bl05)"/>
<path d="M41.34 103.52C41.55 99.23 42.06 98.89 42.79 96.83C43.51 94.77 44.59 92.74 45.67 91.16C46.75 89.58 48.07 88.24 49.27 87.35C50.48 86.46 51.51 85.92 52.88 85.8C54.25 85.68 56.06 85.94 57.52 86.63C58.97 87.31 60.26 88.57 61.63 89.92C63.01 91.28 64.47 92.93 65.75 94.77C67.04 96.6 68.24 98.8 69.36 100.94C70.48 103.09 71.68 105.58 72.45 107.64C73.22 109.7 73.94 111.42 74 113.31C74.05 115.19 73.58 117.34 72.76 118.97C71.94 120.6 71.16 121.96 69.05 123.09C66.94 124.22 63.64 125.39 60.09 125.77C56.54 126.15 50.82 125.89 47.73 125.36C44.64 124.82 42.61 126.21 41.55 122.58C40.49 118.94 41.14 107.81 41.34 103.52Z" fill="#fafafa" stroke="#222" stroke-width="0.8"/>
<path d="M43.61 105.55C43.78 101.86 44.23 101.56 44.85 99.79C45.47 98.02 46.4 96.28 47.33 94.92C48.26 93.56 49.39 92.41 50.43 91.64C51.46 90.87 52.35 90.41 53.53 90.31C54.71 90.21 56.26 90.43 57.51 91.02C58.77 91.61 59.88 92.69 61.06 93.85C62.24 95.02 63.49 96.44 64.6 98.02C65.71 99.6 66.74 101.49 67.7 103.33C68.66 105.18 69.69 107.32 70.36 109.09C71.02 110.86 71.64 112.34 71.69 113.96C71.73 115.59 71.33 117.43 70.62 118.83C69.91 120.24 69.25 121.4 67.43 122.38C65.62 123.35 62.78 124.36 59.73 124.68C56.67 125.01 51.76 124.78 49.1 124.33C46.44 123.87 44.7 125.06 43.78 121.93C42.87 118.8 43.43 109.24 43.61 105.55Z" fill="none" stroke="#6a6a6a" stroke-width="0.6"/>
<path d="M46.19 107.26C46.33 104.26 46.7 104.02 47.2 102.58C47.7 101.14 48.46 99.72 49.22 98.61C49.98 97.51 50.9 96.57 51.74 95.94C52.58 95.32 53.3 94.95 54.27 94.86C55.23 94.78 56.49 94.96 57.51 95.44C58.53 95.92 59.43 96.8 60.39 97.75C61.36 98.7 62.38 99.85 63.28 101.14C64.18 102.42 65.02 103.96 65.8 105.46C66.58 106.96 67.42 108.71 67.97 110.15C68.51 111.59 69.01 112.79 69.05 114.11C69.08 115.44 68.76 116.94 68.18 118.08C67.6 119.22 67.06 120.17 65.59 120.96C64.11 121.76 61.8 122.57 59.31 122.84C56.83 123.1 52.82 122.92 50.66 122.55C48.5 122.18 47.08 123.15 46.34 120.6C45.59 118.05 46.05 110.27 46.19 107.26Z" fill="#c6c6c6" stroke="#777" stroke-width="0.6" filter="url(#bl05)"/>
<path d="M48.61 108.69C48.73 106.33 49.01 106.14 49.41 105C49.8 103.87 50.4 102.76 50.99 101.89C51.59 101.02 52.32 100.28 52.98 99.79C53.64 99.3 54.2 99.01 54.96 98.94C55.71 98.88 56.71 99.02 57.51 99.4C58.31 99.77 59.02 100.46 59.77 101.21C60.53 101.95 61.33 102.86 62.04 103.87C62.75 104.88 63.41 106.09 64.02 107.27C64.64 108.45 65.3 109.82 65.72 110.95C66.15 112.08 66.54 113.03 66.57 114.07C66.6 115.11 66.35 116.29 65.89 117.18C65.44 118.08 65.01 118.83 63.85 119.45C62.69 120.07 60.88 120.71 58.92 120.92C56.97 121.13 53.83 120.99 52.13 120.7C50.43 120.4 49.31 121.17 48.73 119.17C48.14 117.16 48.5 111.05 48.61 108.69Z" fill="none" stroke="#888" stroke-width="0.5"/>
<ellipse cx="56" cy="114" rx="8" ry="6.5" fill="#777" opacity="0.5" filter="url(#bl15)"/>
<path d="M47.9 111.7h.7m.9 3.2h.7m12.9 5.6h.7m3.8-7.3h.7m-7.5-2.6h.7m.1-2.3h.7m-.3 1.3h.7m-13.5 3.8h.7m-12.3 .1h.7m18.9 1.6h.7m-9.7-7.9h.7m6-3.1h.7m-2 13.6h.7m-2-2.5h.7m2.8 .9h.7m7.4 1.9h.7m-13.3-6h.7m11.2 .7h.7m-.7 2.8h.7m-10.6 3.6h.7m10.2-12h.7m-6.1 .2h.7m-6.2 4.9h.7m6.6 0h.7m-2-2.8h.7m-3.5 6h.7m-4.1-5.5h.7m-1.2 8.1h.7m3.3 1.2h.7m7.4-16.7h.7m-12.2 .8h.7m-1.2 .5h.7m1.2 6.1h.7m.4-2h.7m16.3 6.4h.7m-15.8-.8h.7m-10-3.6h.7m6.7 17.3h.7m-2.8-14.2h.7m3.9-5.3h.7m-1.6 8.6h.7m-7.9-11.3h.7m5.9 2.9h.7m-10.1 13.8h.7m12.6-14.3h.7m-7.2 6.4h.7m8.2-1.9h.7m-2.6 5.2h.7m11.4-2.7h.7m-30.8-6.1h.7m11.1 5.6h.7m.7 8.6h.7m-9.8-7.4h.7m.5-8.6h.7m.2 13.9h.7m13.8-10.6h.7m-6.2 2.7h.7m-4.5 2.6h.7m.1-.7h.7m3.6 .3h.7m2.5 7.5h.7m-9.5-8.6h.7m11.4 4h.7m-14-8.7h.7m1.8 7.6h.7m4.4 4.7h.7m-12.6-10.5h.7m13.9 .5h.7m-6 14.1h.7m7-16.5h.7m-9.9-.1h.7m7.7-.7h.7m.7 8.7h.7m-10.3 4.3h.7m.5-14.4h.7m-6.3 5.3h.7m-1.5 5.4h.7m-.2-2.3h.7m5.5-1.7h.7m-11.8 3.8h.7m-1.3-4h.7m14.2-1h.7m-18.6 4.3h.7m12-12.3h.7m-8 6.6h.7m3-.2h.7m8.6 3.4h.7m-5.1 2.5h.7m-1.3-5.2h.7m6.2-.2h.7m-4.2 .8h.7m-3.8-.9h.7m-7.9-8.8h.7m-5.5 9h.7m-1.4 .6h.7m-4.8 9.3h.7m8.2-6h.7m1.3-.6h.7m20.1-18.3h.7m-21.5 22.3h.7m7.6-7.9h.7m-6.5-8.4h.7m-7.4 8.5h.7m20.2 .3h.7m-10 4.3h.7m-14.2-3.4h.7m4.1 10h.7m2-11.1h.7m.5 4h.7m-3.9-2.5h.7m-16.6-4.6h.7m26.1 5.9h.7m-8.2 4h.7m2.6 .4h.7m.2-8.5h.7m.9-1.7h.7m-5 4.3h.7m14.7-9.9h.7m-18.5 11.5h.7m-.8 .9h.7m14.4-10.6h.7m-5.2 16.7h.7m-4.7-9.7h.7m-9.7 11h.7m-2-10.2h.7m7.4-6.5h.7m-7 14.1h.7m13-8.4h.7m-9.2 3.2h.7m-8.8-3h.7m-2.5 6.8h.7m-13.9-11.7h.7m15.2 3.6h.7m-5.7-6.1h.7m7.6 5.6h.7m7 .4h.7m-3.6 4.6h.7m3.4-5h.7m-13.8-.5h.7m-.3-5.2h.7m-.3 11.6h.7m1.4-2.4h.7m7.7 .8h.7m-2.8-.1h.7m2.7-7h.7m-9.8 .4h.7m9 5.6h.7m-11.5-1.8h.7m0-1.2h.7m11.4 12.1h.7m-9.2-14.5h.7m15.4 8.5h.7m-17.1-.2h.7m2.8-4.8h.7m.2 6.4h.7m-6.3-2.9h.7m4.8 5.2h.7m-21.5 2.6h.7m8.5-14.3h.7m10.4 4.9h.7m-6.9 4.7h.7m5.7 3.6h.7m-2.4-7.3h.7m-6.9-1.8h.7m14.9-1.7h.7m-8.5-1h.7m.3 1.2h.7m.9-.7h.7m-15.3 7.5h.7m3.3-3.2h.7m-.1 1.1h.7m12.7 2.5h.7m-22.6 1.6h.7m21.7-11.8h.7m2.1-2.2h.7m-13 5.3h.7m4.6 .1h.7m-5.1 1h.7m-3.1 4.7h.7m11.2-1.5h.7m-8-2.5h.7m-.4-4.3h.7m-4.7-.8h.7m3.7 9.1h.7m4.2-7.8h.7m-24-1.5h.7m17.3 8.1h.7m-14-.7h.7m-5.5-6.7h.7m11.8-.1h.7m1.6 2.9h.7m-2.8 4.4h.7m4.1-.3h.7m-1.1 2.1h.7m-6.7 2.2h.7m-.1 2.9h.7m-4.2-4.5h.7m-5.1-4.6h.7m-6.8-4h.7m21.9 2.4h.7m-3 .4h.7m-14 2.9h.7m4.6-.1h.7m5.8 1.4h.7m-9.1 .2h.7m9.5 .5h.7m-4.7 .6h.7m-7.1-5.3h.7m-.3-8h.7m13.5 6.1h.7m-8.7-.8h.7m4.2 7.6h.7m-16.3-4.6h.7m6.4 1.8h.7m2.2 6.4h.7m-2.9-6.6h.7m2.3 4.2h.7m-1.5-.8h.7m1.7-11.5h.7m-12.6 13.1h.7m8.5-8.6h.7m6-1h.7m-8.2 16.3h.7m3.1-12h.7m-1.2 2h.7m-5.3-2.1h.7m-.1-.8h.7m6.6 6.8h.7m-5.3-7.8h.7m1.8 10.6h.7m1-9.2h.7m-3.4-3.2h.7m-6 3.8h.7m11.9-2.4h.7m-4.2-3h.7m-8.8 2.5h.7m-8.7 7.6h.7m-3.8 5.5h.7m20.7-5.5h.7m-11.8-1.7h.7m-7 6h.7m12.5-8.5h.7m6.8-2.5h.7m-5.9-7h.7m-2.9 15h.7m-1.8-15.1h.7m-11 8.1h.7m25.6-3.6h.7m-8.5 3h.7m-5.4 6.6h.7m-10.7-1.5h.7m8.1-1.6h.7m-4.2 5.7h.7m-8.5-5.4h.7m5.6-3.1h.7m-3.8-8.8h.7m-3.8 11.3h.7m8.5-5.2h.7m-6.2 7.8h.7m-9.9-8.7h.7m11.7 1.1h.7m-8.2 1.2h.7m14.1-.5h.7m-17.3 6h.7m9-5.4h.7m6.4 4.7h.7m-12.5-.8h.7m-4.3 2.3h.7m21.2-5.7h.7m-14.6 1.1h.7m-2-5.8h.7m-3.2 8.8h.7m-.4 4.1h.7m2.1-8.2h.7m-4.7 6.7h.7m-3.1-4.8h.7m4.2 2.8h.7m15.5-7.2h.7m-20.8 5.8h.7m3.3 4.1h.7m-1.6-7h.7m11-5.6h.7m-.7 11.9h.7m-6.1-6.1h.7m2.6 7.2h.7m-11.7-8.5h.7m-6.6 1.9h.7m7 .8h.7m5.5-2h.7m-5-.2h.7m-1.5 5h.7m-.1-10.2h.7m-14.5 11.1h.7m10.9-6.7h.7m-2.4 7.5h.7m5.5-2h.7m-5.2 1h.7m4.3-.1h.7m-21.3-5.6h.7m23.6 1.5h.7m-6.1-5.3h.7m8.5 4.7h.7m-7.1 0h.7m3.9-.1h.7m-10 .1h.7m7.3 2.7h.7m-9.5-8.2h.7m3.1 4.4h.7m-7.2-.4h.7m13.4-2.8h.7m-19.8-.8h.7m7.2 7h.7m8.3-.1h.7m-7 4.5h.7m10.9-.1h.7m-22.9-2.5h.7m12.2-3.1h.7m-6.1-2.9h.7m-2.4-3.1h.7m10.6 9h.7m.3 1.4h.7m-21.9-4.8h.7m19.7 5.7h.7m-2.8-4.4h.7m-10.4 3.8h.7m1.7-13.4h.7m6.2 5.7h.7m-16 1.7h.7m3.2 7.5h.7m5.4 4.7h.7m-4.7-10.9h.7m2.3 6.5h.7m-2.6 1.2h.7m2.1-10.3h.7m13.2 7.5h.7m-10 .9h.7m.5-10.1h.7m-4.6-4h.7m5 .5h.7m-8.2 4.5h.7m10-3.6h.7m.3 13.3h.7m-9.9-6.1h.7m-8.2 6.3h.7m9.5-1.2h.7m-2.4-2.7h.7m-6-7.3h.7m-5.3 2.2h.7m-3.3 4.7h.7m-5.7-.1h.7m20.2-3.9h.7m7.5 6.8h.7m-11 4h.7m8-16.1h.7m-19.3-5.6h.7m8.7 4.2h.7m-1.8 9.4h.7m-3-1.3h.7m3.7 2.2h.7m-8.5-4.4h.7m1.3 7.3h.7m1.4-9.2h.7m-7.9 6.1h.7m7 3.3h.7m6.7-6.9h.7m-2.2 .2h.7m-18.6 13.9h.7m14.3-14h.7m-16 2.3h.7m8.3-.6h.7m-9.6 7.4h.7m5.7-.8h.7m1.9-18.2h.7m-12 11.9h.7m17.9 9.1h.7m-.7-14.2h.7m-8.1 12.5h.7m.1-4.4h.7m9.2-2.1h.7m.5-2.1h.7m-13.2-4.3h.7m8.3 14.8h.7m-4.5-12.5h.7m-6.4 5.9h.7m5.8-1.5h.7m11.8-3.8h.7m-19.2 4.6h.7m4.1-7.6h.7m1.6 15.2h.7m-6.5-10.1h.7m12.7-7.6h.7m-24.3 8.9h.7m15.6 9.5h.7m-3.3-11.2h.7m4.9-2h.7m-12.7-.8h.7m-5 4.7h.7m11.1-.8h.7m4.2 2.6h.7m0-4.2h.7m-8.4 2.5h.7m6.6 .5h.7m-4.2 1.2h.7m-14.9 .6h.7m6.6 1.4h.7m.5-7.9h.7m-1.4 .9h.7m7.5-6h.7m-16.9 2.8h.7m5.6 5.1h.7m17.4 8.9h.7m-15.6-.6h.7m-3.3-4.4h.7m2.5-.2h.7m2-6.7h.7m-14.6-2.8h.7m10.9 1.2h.7m6.2-9.9h.7m-11.6 19.6h.7m-6.5-3.3h.7" stroke="#2a2a2a" stroke-opacity="0.5" stroke-width="0.65" fill="none"/>
<ellipse cx="54.5" cy="115.3" rx="3.5" ry="1.8" fill="#222" opacity="0.8" filter="url(#bl05)"/>
<circle cx="54.3" cy="111.5" r="1.4" fill="#fff" filter="url(#bl05)"/>
<ellipse cx="82.7" cy="111.7" rx="5.4" ry="5.8" fill="#111" filter="url(#bl05)"/>
<ellipse cx="82.7" cy="111.7" rx="3.8" ry="4.2" fill="#fff"/>
</g>
<ellipse cx="83.9" cy="83.6" rx="16.1" ry="15.4" fill="none" stroke="#1a1a1a" stroke-width="0.9"/>
<text x="54.3" y="72.2" font-size="7.2" textLength="16.4" lengthAdjust="spacingAndGlyphs" stroke="#231f20" stroke-width="0.24">1.456</text>
<g clip-path="url(#clA2)">
<path d="M177.7 90.7h.7m-.2-.6h.7m5.7 7.1h.7m-5-9.2h.7m-9.6 1.7h.7m7.6 14.3h.7m-5.1-6.6h.7m-1.8-8.7h.7m2.9 7.2h.7m1.6-8.3h.7m-3.8-4.6h.7m.8-4.2h.7m.9 16h.7m-6-3h.7m4 2.7h.7m-5.5 4.4h.7m1.1-16.1h.7m.4 4.1h.7m.3-1.6h.7m-5.7-4h.7m3.9 11.3h.7m-7.6-3.9h.7m.6 5.7h.7m4.1-4.7h.7m-3.5-9.9h.7m4 6.7h.7m-5.6 1.3h.7m-1.1 3.1h.7m3.8-13.7h.7m-4.3 5h.7m-.8 13.7h.7m1.2-11h.7m-1.1-4.8h.7m1.4 18.9h.7m.2-1.1h.7m-3.5 6.7h.7m-1.4-.1h.7m3.1-8.1h.7m-6.7 2.8h.7m4-6h.7m-.9 3.5h.7m.6-3.2h.7m-6.9-.1h.7m3.8 4.6h.7m1-1.9h.7m-1.7-3h.7m-4.1 8.8h.7m.8-13h.7m1.6 .5h.7m-2.9 2.5h.7m-.1 2.4h.7m-1.3-11.8h.7m.5 4.8h.7m1.5 1.4h.7m-2.6-5h.7m-4.2 4.4h.7m3.9 6.9h.7m-2 8.2h.7m-3.5-17.6h.7m1.8 8.6h.7m-6-6h.7m2.3 3.6h.7m3.8-5.2h.7m-.7-.4h.7m-.9 6.1h.7m-.5 .6h.7m-4.7 2.1h.7m-2.8 5.7h.7m2.4-7.6h.7m-1.9-5.5h.7m-.5 .4h.7m2.1 4.2h.7m-1.6-4.4h.7m-.7 3.2h.7m.1 1.2h.7m-4.9 3h.7m1.4-14h.7m1 12.4h.7m1.7-4h.7m-1.4-5.9h.7m-2.3 22.5h.7m-3.4-17h.7m-1.9-.1h.7m-2.6 7.4h.7m6.7 1h.7m-2.8-6.7h.7m2-7h.7m-7.5 3.6h.7m4.4-.8h.7m.3-1.8h.7m-2.3 18.4h.7m.3-17.7h.7m-6.9 4.4h.7m9.6 3.4h.7m-6.2-5.5h.7m-2.5 8.2h.7m1.5 2.4h.7m-2.8-6.2h.7m1.3-9.7h.7m4.7 4.4h.7m-5.3 8.1h.7m-.6-1.1h.7m-7.6-.4h.7m3.2-11.3h.7m.7 11.3h.7m-2.8-.1h.7m3 6.7h.7m-3.6-8.2h.7m.5-12.8h.7m.1 25.3h.7m-2-6.8h.7m.8-15.8h.7m.7 9.2h.7m-5.6 10.6h.7m4.1-4.7h.7m-1.7 9.5h.7m-.2-25.5h.7m-4-1.9h.7m4.5 8.1h.7m-3.5 8.1h.7m-2.1-12.6h.7m1 3.2h.7m-.7 8.1h.7m3.6-17.3h.7m-8.3 30h.7m4.6-14.3h.7m-5.7-5.5h.7m2.9 15.5h.7m-6.9-13.1h.7m9.5 26.8h.7m-3.3-30.1h.7m-4.7 14.6h.7m-.1 1.2h.7m2.6-11.8h.7m-7.7 0h.7m2.6 4.1h.7m.3 1.9h.7m-.7 2h.7m-1.3-1.5h.7m-1.8-6.2h.7m5.7 5.8h.7m-1.1-3.3h.7m-6.2-7h.7m-4.3 8.9h.7m6.7-11.2h.7m-2.5 24.5h.7m-1.9-15.7h.7m-.9-.4h.7m-2.4-15.8h.7m-1 4.7h.7m.6 7.2h.7m1.4-4.4h.7m-2.5 9h.7m-2.1 10.7h.7m2-13.3h.7m.6-2.9h.7m-4.4-.7h.7m-3.2 1.8h.7m.3 1.4h.7m4.4 1.7h.7m-5.1 8.1h.7m3.4-7.4h.7m-4.5-1.2h.7m4.4 5.7h.7m-8.7-2.2h.7m5.2-3.3h.7m-.6 6h.7m3.8-8.9h.7m-6.4 6.2h.7m1.6 7.4h.7m-7.4-.9h.7m10.5-11.5h.7m-9.4-7.5h.7m-2 19.2h.7m2.8-5.3h.7m-1.7-11.8h.7m-1.7 4.2h.7m1.9 4.8h.7m0 2.3h.7m-1.1-18.3h.7m-.8 27.5h.7m-1.6-16.3h.7m-1.5-12.5h.7m-5.9 14.7h.7m7.3-2.5h.7m-1.9 11.1h.7m-1.2-7.2h.7m.4 4.9h.7m1-3.5h.7m-5.8-4.6h.7m1 1.6h.7m1.7-3.3h.7m-5.2 15.4h.7m1.4-5.4h.7m0-3.9h.7m-1.2-14h.7m1.1 22.2h.7m1.6-24.1h.7m-5.7 17.3h.7m4.2 7.1h.7m-8.2-10.7h.7m-1.6-3.2h.7m7.4 7.7h.7m-4.3 6.1h.7m-.7-19.9h.7m2.1 2.7h.7m-3.7 7.7h.7m.6 2.2h.7m-5.5-5.5h.7m1.8 15.1h.7m3.7-13.6h.7m-4.1 4.9h.7m2.2-11.1h.7m1.9 14.3h.7m-6.1-2.7h.7m.6-7.8h.7m-1.3 8.4h.7m-.9-10.7h.7m-1.3 1.7h.7m-2.4-2.9h.7m5.9 12.9h.7m-6.5 4.7h.7m3.6-9.9h.7m-4.2-3.1h.7m2.1 3.6h.7m0 9.1h.7m-4-19.7h.7m-.2 1.6h.7m-2.7 9.8h.7m3.8 11h.7m-3.4-10.7h.7m-3.7 8.7h.7m.2-10.4h.7m-4.2-3.4h.7m6.9-4.7h.7m-2.6 1.7h.7m-1.1 7h.7m3-7.9h.7m-6.6 9.7h.7m-.3-3h.7m-.2 6.4h.7m1.7-6.8h.7m-2.4 1.5h.7m2-8.7h.7m-.9 11.1h.7m.2 .1h.7m-.1-1.9h.7m-2.4 7.1h.7m-7-3h.7m6.6-6.3h.7m-3.5-9.9h.7m1.4 2.6h.7m-6.6 3.6h.7m1.9 4h.7m2.2 5.3h.7m-.3-6.8h.7m-.9-7h.7m-1.3 11h.7m-1.5 5.1h.7m-1.5-3.7h.7m3-6.5h.7m-6.1 4.1h.7m.2 10.5h.7m4.7-7.6h.7m-5.3-2.2h.7m2.9-4.2h.7m-3.3 9.6h.7m2.7-23.6h.7m-4.7 12.7h.7m-2 16.2h.7m2.1-8.4h.7m5.3-11.1h.7m-4 12.8h.7m-4.1-7.8h.7m-2.8-7.7h.7m3.4 10.9h.7m-3.6 7.3h.7m-2.1-6h.7m1.5-.6h.7m1.4-4.3h.7m-1.5-10.9h.7m-.9 10.3h.7m.4-5.8h.7m-8.1 3.8h.7m1.8-5.2h.7m.5 18.3h.7m1.8-9.4h.7m-3.3-10.6h.7m-5.4 7.3h.7m1.6 14.5h.7m5-7.3h.7m-1.5-4.2h.7m-4.8-1.4h.7m4.2-.7h.7m1.7 1.8h.7m-3.5 2.7h.7m-4 3.4h.7m.4 10.2h.7m1.9-8.4h.7m-1.4 .2h.7m-3.9 4.2h.7m.6-2.3h.7m1.2-18.9h.7m-2.5 8.5h.7m-1.6-1.2h.7m-.2-2.1h.7m-.1 1.4h.7m-3.4-9.3h.7m2.5 19.5h.7m.3-14.4h.7m2.9 19.2h.7m-2.7-8.8h.7m-1.3-3.1h.7m-5.1 9h.7m-2.6-3h.7m.7-3.6h.7m1.1 9.8h.7m5.3-23.5h.7m-5 14.5h.7m-3.6-22.6h.7m1.5 24.4h.7m2.2-7.4h.7m.3 .1h.7m-5.4 13.4h.7m-.8-17h.7m-.2 8.7h.7m3-10h.7m-4.6 21.7h.7m-3.7-8.7h.7m-.1-5.1h.7m1-2.7h.7m1.2 4.2h.7m-3.8 9.7h.7m7.9-8.8h.7m-8.3-6.6h.7m.2-5.5h.7m3.8 9.9h.7m-4.4-7.8h.7m-.9 21.9h.7m-2.4-4.8h.7m1.4-7.9h.7m1.9-.9h.7m-4.1-8.6h.7m-.5 1.4h.7m-.9 11.5h.7m1-18.6h.7m-2.1 9.7h.7m2.5 14.6h.7m-1.8-4.1h.7m-1.5-13.6h.7m-7.6 4.3h.7m3 10.3h.7m5 .7h.7m-5.3-10.7h.7m-2.5-1h.7m4.8 4h.7m-4.6-1.4h.7m-1.6-4.1h.7m-.4 10.8h.7m2.2-4.7h.7m-2.8-7.6h.7m4.9 8.1h.7m-8.1 11.9h.7m-.4-24.4h.7m1.9 12.1h.7m-.6 4.7h.7m-1.4-11.4h.7m-1.2 1.1h.7m3.8-.1h.7m-4.1 7.7h.7m-3.2-5.1h.7m4-4.2h.7m-1 4.1h.7m-1.4 3.1h.7m-1.8-.6h.7m-1.9-5.4h.7m.8 11.5h.7m-1.1 2.9h.7m-.7-17.4h.7m3.3 13.3h.7m-.5-9.8h.7m-1.3 9.2h.7m-7 11.8h.7m0-19.9h.7m2.4-2.2h.7m.7 14h.7m-4.9-14.3h.7m-1 23.4h.7m1.4-16.7h.7m4.9 3h.7m-9.8-5h.7m5.3 .6h.7m-1.9-9.7h.7m-1.3 16.5h.7m-5.4-5.6h.7m4 1h.7m-3.6 10.2h.7m1.4-9.8h.7m-3.1-.5h.7m.7-15.2h.7m.6 22.8h.7m-4.2-5.8h.7m1.1 .8h.7m-.2-1h.7m-5.7-2.8h.7m6.6-2.6h.7m1.4-3.9h.7m-4.1 5.9h.7m1.6 4.1h.7m2.2-18.8h.7m-8.3 6.5h.7m2.7 13.2h.7m-3.5-.8h.7m-2 3h.7m-2.8 .8h.7m6.7-9.7h.7m-2.2 8.6h.7m-3.9-.1h.7m.2-8.2h.7m-3.8-.4h.7m4.3 .7h.7m2.4 9.3h.7m-11.1 .5h.7m5.9-18.4h.7m-.6 10.4h.7m-1.4-10.3h.7m-.5 21.9h.7m-4.7-23.6h.7m.8 3h.7m.5 4.7h.7m-6.1 8.2h.7m4.3-15.2h.7m6.3 21.3h.7m-5.4-2.2h.7m-2.8-9.3h.7m3.1-4.3h.7m1.4 2.7h.7m3.7 8h.7m-7.8-8.2h.7m1.4 5.7h.7m-4.8-4.2h.7m2 4.8h.7m-2.6-2.8h.7m-3.6 .6h.7m4.3-10.2h.7m-1.9 24.1h.7m-4.9-9.3h.7m3.5-4.4h.7m-2.1 .4h.7m1.3 2.3h.7m-3.2-5.3h.7m-4.4 5.3h.7m5.6-.3h.7m-3.9-17.8h.7m-.6 16.6h.7m-.4 4.4h.7m-4.1-6.2h.7m6.7 4.5h.7m-6.9-15.5h.7m-.6 11.7h.7m5.1 4h.7m-10.9-7.2h.7m5.4-5.7h.7m.8 13.7h.7m-2.6-1.9h.7m2.9-11.2h.7m-.1 .6h.7m-5.9 7.1h.7m3.6 2.8h.7m-4.3-3.9h.7m-1.1-3.4h.7m1.4 11.1h.7m.3-21.2h.7m-1.4 18.1h.7m-5.5-8.4h.7m2 9.7h.7m1.1 3.9h.7m-3.2-9.1h.7m4.7 4.9h.7m.3 3.9h.7m-1.1-.6h.7m-4.2 2.8h.7m-4.6-20.8h.7m1.1 12h.7m2.9 5.9h.7m-2.4-13h.7m1.6 4.9h.7m2.5-15.1h.7m-10.1-.2h.7m1.1 8.6h.7m2.8 2.1h.7m2.6-2.7h.7m-5.9 14.7h.7m.4-5.4h.7m-.4 4.5h.7m3.4-6.4h.7m-7.8-4.7h.7m.8 10.9h.7m1.8-11.6h.7m-2.2 12.4h.7m33.2 9.8h.7m-3.8-3.9h.7m-4.5-.2h.7m-2.5 4.3h.7m16.8-2h.7m-12.8-1h.7m-12.1 .2h.7m12.5-.4h.7m9.4 1.2h.7m-6.5 1.2h.7m-2.9-11.7h.7m-8.6 2.5h.7m-2 4h.7m3.9 1.4h.7m-1.6 4.4h.7m2.8 .3h.7m-8.5-1.3h.7m-.7-4.8h.7m13.9-1.1h.7m-16.6 2.4h.7m1.2 1.8h.7m7.9-1h.7m-2.2 4.6h.7m-5.4-5.9h.7m8.5 4.2h.7m-9.3-2.5h.7m-.8-3.2h.7m-6.8 2.9h.7m-2.4 3.3h.7m16.4-.4h.7m-10.9-5h.7m7.1 6.2h.7m-6.3 .1h.7m-7.8-2.4h.7m15.2 1.7h.7m-13.5-5.1h.7m9.6 3.2h.7m-4 .5h.7m.7-3.6h.7m-13.7-.4h.7m2.1 6.1h.7m16.4-4.6h.7m-22.9-.5h.7m17.9 5h.7m2.6 1.5h.7m-19.2-4.8h.7m.4-4.7h.7m1.8 6h.7m3.1 .3h.7m-1 4.9h.7m-7.8-3.9h.7m-2 .7h.7m3.5-.6h.7m3.1-3.2h.7m1.5-2.7h.7m-1.8-2h.7m8.2 11.4h.7m-11.7-8.2h.7m-.1 1.2h.7m-5.5 1.6h.7m4.5 .1h.7m4.3 5.4h.7m-8.2-2.8h.7m13.7-1.6h.7m-15.1 4.4h.7m-2.3-7.3h.7m3.9 3.2h.7m14.4-4.6h.7m-12.8 7.1h.7m-8-3.9h.7m1 .7h.7m1.7-3.9h.7m-4.4 3.9h.7m2 3.3h.7m4-2.6h.7m5.9 2.7h.7m-10.4-2.3h.7m1.6 1.1h.7m-2.2-2.1h.7m-7.9 4.9h.7m18-4.7h.7m-3.6-2.1h.7m-8.7 6.2h.7m-6.3-6.6h.7m.5 0h.7m-2.4 4.4h.7m7.7-4.4h.7m-7.5 4.4h.7m7.3 .3h.7m-1.1-1.4h.7m-19.7-5.2h.7m-13-7.7h.7m17.9 6.4h.7m-28.1 2.6h.7m8.2-5.5h.7m5-2.6h.7m.4 1.6h.7m-3.9-2.2h.7m-15.1-1.2h.7m16.4 8.5h.7m4.3-1.5h.7m-9.4-12.2h.7m-5.7 6.9h.7m6.2 11.3h.7m4.1 3.4h.7m-10.9-19.1h.7m2.4 5h.7m5.2 17.6h.7m-9.3-19.4h.7m4.4 10.1h.7m9.1-13.5h.7m-11.4 5.9h.7m5.9-1.3h.7m2.9 .1h.7m-3 8h.7m-11.6-8.9h.7m-.2 .1h.7m-2.7 4.9h.7m1.3-10h.7m2.8-.4h.7m3.1 8.9h.7m-6.8-6.1h.7m-7.1 9.8h.7m12.9-3h.7m.7 2.5h.7m-8.3-2.4h.7m2.7 4.5h.7m.7-9.2h.7m.3 4.6h.7m-6 9.7h.7m8.2-10.4h.7m-14.6 4.8h.7m7.2-2.9h.7m4 7.4h.7m-13.2-1.8h.7m10.8-12.5h.7m-10.4-1.1h.7m-2.5 14h.7m11.3-.6h.7m1.3-11.5h.7m-11.4 3.9h.7m-1.7 8.2h.7m-10.2 4.3h.7m2.6-5.1h.7m-2.2-1.1h.7m3.4 11.7h.7m0-8.7h.7m3.5-3.8h.7m-5.2-4h.7m-1.9 14h.7m6.4 4.9h.7m-10.9-13h.7m-2.9-.4h.7m9.8 2.6h.7m-11.2-1.3h.7m9.2 2.4h.7m-1.3-4.1h.7m1.2-1.2h.7m-5.6 6.3h.7m4.3-4.3h.7m-4.9 10.8h.7m-4.5-11.9h.7m5.7 10.7h.7m-2.1-8.9h.7m-7.6 4h.7m0-11.1h.7m-1 13.1h.7m7.2-6.1h.7m-5.4 3.6h.7m-3.2-1.9h.7m1.6-10.9h.7m1.7 11.5h.7m-1.3 1.5h.7m-6.6 .2h.7m12.4-8.1h.7m-16 4.7h.7m2.1-3.2h.7m.3 7.4h.7m-1.2-5.6h.7m6.7 2h.7m-4.9 .5h.7m6.7-2.6h.7m-14 .2h.7m7.4 .3h.7m3.5 1.7h.7m.1-1.3h.7m-3.1 2.2h.7m-5.1-2.2h.7m8.7 .2h.7m-10.3 1.3h.7m-2-4.3h.7m-.8 5.2h.7m4.1-3.1h.7m-1.9-2.2h.7m1.7-4.1h.7m-6.2 15.5h.7m-2.6-2.3h.7m2.7-2.3h.7m1-5.2h.7m-.9 6.4h.7m.5-3.1h.7m2.3-.7h.7m-10.9 .2h.7m2.8-1h.7m7.8 4.8h.7m-9.6-2.2h.7m2.5 1.6h.7m-.4-6.9h.7m-3.5 7.2h.7m1.1 3.3h.7m-2-10.6h.7m5.3-13.9h.7m-6.5 15.3h.7m4.5 2.1h.7m-8.4 12.8h.7m10.5-16.3h.7m-11.6 2.7h.7m3.3 7.4h.7m-1.6-2.3h.7m-9.9-4.9h.7m16.9-.9h.7m-12-4.1h.7m4.2 2.5h.7m1.4 1.1h.7m-13.4 .4h.7m5.3 2.3h.7m6.9 1.4h.7m-3.1 1.5h.7m-9.9-6h.7m7.9 3.8h.7m-1.4-6.4h.7m-2.9 .2h.7m10 9.7h.7m-9.7-5.5h.7m-3.5 .3h.7m-10 5.9h.7m10 5.6h.7m-8.6-12h.7m7.8 4.2h.7m-1-3h.7m4.5-.1h.7m-3 2.9h.7m-6.2-1.3h.7m1.6-3h.7m-4.2 1.7h.7m-.6 .1h.7m8.6 2.7h.7m-11 .1h.7m6.5 .9h.7m-7.2 .7h.7m6.1-3.8h.7m-8.7 1.7h.7m1-3.6h.7m1.1 3.7h.7m3.1 1.8h.7m-7.4-12.9h.7m4.5 3.4h.7m.4-6h.7m-2.3 11.7h.7m2.3-.2h.7m-3.9-3.5h.7m-3.5 1.7h.7m4.7-2.3h.7m-8 9.1h.7m3.2-8.5h.7m1.7 4.2h.7m-1.2 1.8h.7m.8 2.6h.7m-6 2h.7m-6.8-4.1h.7m.7 .7h.7m6.3-6h.7m-3.2-6.6h.7m7 12.5h.7m-4.3-.9h.7m-5.9 .1h.7m.8-4.3h.7m-2.9 4.6h.7m-1-9.1h.7m8 1.3h.7m-2.3-7.6h.7m-2.5 8.8h.7m-3.3 4.7h.7m-1.2-6.3h.7m5.8 1h.7m-1.6 7.3h.7m-1.9-5.1h.7m-1.1 .3h.7m-10.1 8.1h.7m12-1.3h.7m-12.1-6.1h.7m4.5 4.4h.7m12.6-.6h.7m-11.8-3h.7m3.9 4.5h.7m-4-8.3h.7m-3.9 6.3h.7m-1.9-2.2h.7m6.8-2.7h.7m-3-2h.7m-2.1 9.2h.7m7.8-3.6h.7m-15.2-2.9h.7m7.1 4.3h.7m-5-.4h.7m-7.8-4.2h.7m7.3-2.3h.7m-12 .4h.7m17.6-3.2h.7m-14.4 13.7h.7m2-5h.7m3.1 3.2h.7m-3.8-12.4h.7m7.3 11.2h.7m-9.8-7h.7m4.4 4.6h.7m-2.8-4.5h.7m-.6-1.3h.7m-.7-1.1h.7m-2 5.1h.7m5.2-3.2h.7m-5.3-1.8h.7m7.9 4.1h.7m-2.1 .1h.7m-2.3-.2h.7m-5.2-3h.7m-3.7 12.3h.7m6.5-10h.7m-6 5.4h.7m1.7 2.5h.7m-5.6-7.6h.7m9.7 7.6h.7m-2.6-1.9h.7m-9-5.7h.7m9.6-4.3h.7m-7.2 9.2h.7m2.2-1.8h.7m1.9 3.9h.7m-5.5-5.1h.7m-6.4 .2h.7m2.1-.7h.7m-1.4 4.1h.7m4.2-11.8h.7m1.6 19.5h.7m-9.6-12h.7m7.3 .3h.7m-8.9 3.6h.7m8.9-8.4h.7m-5.4 12.7h.7m.1-6h.7m6.6-9.5h.7m3.7 1.6h.7m-10.4 7.2h.7m3.8-3.5h.7m-6.3 11h.7m.7-3.1h.7m-2.5-7.6h.7m.7-5h.7m-11.5 8.2h.7m28.9-11.4h.7m-6.6-3.4h.7m1.8-1.4h.7m1.6 5.5h.7m-8.8 0h.7m-.8 10.7h.7m-7.7-.2h.7m-1.1-12.7h.7m-.5-8.7h.7m-.7 12.1h.7m10.2-.8h.7m-3.2 10.9h.7m-1.3-20.9h.7m5.2 7.8h.7" stroke="#111" stroke-opacity="0.55" stroke-width="0.65" fill="none"/>
<ellipse cx="178" cy="93" rx="4.5" ry="11" fill="#333" opacity="0.55" filter="url(#bl1)"/>
<path d="M175,89 L181.3,89 L182,94 L181.2,97 L182,101 L174.4,101 L175.2,97 L174.5,94 Z" fill="#0a0a0a" filter="url(#bl05)"/>
<ellipse cx="178" cy="86.6" rx="5.0" ry="5.3" fill="#0a0a0a" filter="url(#bl05)"/>
<ellipse cx="178" cy="87.1" rx="2.9" ry="3.0" fill="#fff"/>
<ellipse cx="177.3" cy="107.2" rx="7.9" ry="6.6" transform="rotate(-40 177.3 107.2)" fill="#0a0a0a" filter="url(#bl05)"/>
<ellipse cx="177.6" cy="107.2" rx="5.8" ry="4.9" transform="rotate(-40 177.6 107.2)" fill="#1c1c1c" stroke="#e8e8e8" stroke-width="0.8"/>
<circle cx="178" cy="107.6" r="1.0" fill="#888"/>
</g>
<rect x="168.5" y="77.3" width="16.4" height="22.3" fill="none" stroke="#1a1a1a" stroke-width="0.9"/>
<rect x="193.5" y="99.8" width="35.1" height="24.9" fill="none" stroke="#1a1a1a" stroke-width="0.9"/>
<text x="169.1" y="74.4" font-size="7.2" textLength="16.4" lengthAdjust="spacingAndGlyphs" stroke="#231f20" stroke-width="0.24">5.471</text>
<text x="231.2" y="114.2" font-size="7.2" textLength="16.6" lengthAdjust="spacingAndGlyphs" stroke="#231f20" stroke-width="0.24">0.102</text>
<g clip-path="url(#clB1)">
<path d="M47.1 261.3C47.18 259.55 47.43 257.8 48 256.5C48.57 255.2 49.5 254.25 50.5 253.5C51.5 252.75 52.7 252.35 54 252C55.3 251.65 56.63 251.47 58.3 251.4C59.97 251.33 62.13 251.47 64 251.6C65.87 251.73 67.57 251.88 69.5 252.2C71.43 252.52 74.12 252.78 75.6 253.5C77.08 254.22 77.82 255.2 78.4 256.5C78.98 257.8 79.13 259.2 79.1 261.3C79.07 263.4 78.93 267.02 78.2 269.1C77.47 271.18 76.57 272.58 74.7 273.8C72.83 275.02 70.02 276.1 67 276.4C63.98 276.7 59.35 276.25 56.6 275.6C53.85 274.95 52.02 273.93 50.5 272.5C48.98 271.07 48.07 268.87 47.5 267C46.93 265.13 47.02 263.05 47.1 261.3Z" fill="none" stroke="#3a3a3a" stroke-width="7" opacity="0.6" filter="url(#bl1)"/>
<path d="M44,273 L80,273 L80,281 L44,281 Z" fill="#555" opacity="0.45" filter="url(#bl1)"/>
<path d="M66.4 251.5h.7m12.2 11.1h.7m-24.4 12.9h.7m23.3-23h.7m-3.2 2.5h.7m-28.9-4.2h.7m28.2 5.3h.7m-30.9-7.6h.7m30.3 12.1h.7m-32.8-5.1h.7m30.3 14.3h.7m2.2-17.6h.7m-36.9 14.3h.7m1.7-5.2h.7m31.4-.9h.7m-6.6 14.6h.7m-25.5 1.3h.7m6.6-32.1h.7m-9.2 12.5h.7m3.6-6.6h.7m9.8 1h.7m17 23.5h.7m-33.4-21.9h.7m17.4 23.7h.7m13.9-8h.7m-35.3-12.1h.7m47.7-6.2h.7m-12.4-2h.7m-4.1 5.2h.7m-27.2-.8h.7m-6.3 11.9h.7m1.8-10.4h.7m8.2-5.2h.7m-12.5 17.6h.7m1.4-11.5h.7m.9 19.2h.7m31.4-1.3h.7m.6-15.5h.7m-39.1-.5h.7m36 8.8h.7m-29.6 8.9h.7m16.9 1.5h.7m.3-27.4h.7m-12.3 1.1h.7m9.1 29.1h.7m-5.6-28.4h.7m8.6 1h.7m-24.9 2.1h.7m5.7 23.5h.7m-8.6-23.1h.7m5.1 23.2h.7m-2.2-1.2h.7m11.7-27.6h.7m-6.7 28.7h.7m-13.6-14.7h.7m9.5-10.5h.7m-9.9 12.1h.7m32.2-6.7h.7m-6 18.5h.7m-1.1-25.8h.7m-5.9 2.2h.7m13.7 6.1h.7m-3.3 4.6h.7m-30.1-9.6h.7m-6.4 7.6h.7m30.6 11.8h.7m-17.6 3.6h.7m-16.5-13.9h.7m15-11h.7m-.3-.7h.7m20 8.3h.7m-34-1h.7m15-6.9h.7m-18.4 9.2h.7m4.6-7.3h.7m29 13.8h.7m-22.1-16.4h.7m3.8 27.4h.7m-7.2-28.8h.7m22.9 6.9h.7m-1.6 3.7h.7m-.6 11.5h.7m3.8 7.7h.7m-12.4-27.7h.7m7.5 7.7h.7m-13.3-9.1h.7m-18.4 3.4h.7m26.7 21.6h.7m-30.8-20.9h.7m30.6 5.9h.7m-34.1 6.4h.7m8.5-14.2h.7m21 21.3h.7m3.6-15.2h.7m-3.2 14.6h.7m-32.3-18.7h.7m.6 18.8h.7m1.2 .9h.7m12.5-22.4h.7m-11.7-.1h.7m16.3 25.5h.7m-13.6-25.7h.7m7.7 .7h.7m-16.1 19.6h.7m3.7-20.4h.7m27.3 13.1h.7m-2.3 2.3h.7m-34.4-12h.7m9.9 21.9h.7m-9.6-25.1h.7m16 25.7h.7m-20.5-14.4h.7m35.4-7.3h.7m-31.7 18.3h.7m22.4 1.3h.7m.1 .9h.7m-26.8-19.8h.7m-1.4-.5h.7m-3.7 5.2h.7m33.9 6.2h.7m16.4-13.2h.7m-17.8 1.4h.7m-33.6 6.1h.7m22.8 14.4h.7m9.2-17.8h.7m-35.6 1.1h.7m1.9-3.7h.7m-.9 12.8h.7m-.5 1.6h.7m7.2 6.9h.7m-8.6-12.5h.7m12.2-14.3h.7m-9.6 3.4h.7m1.2-1.9h.7m25.7 4.8h.7m-32 .1h.7m31.1 17.4h.7m-20.4-26.8h.7m14.6 26.5h.7m5.8-7h.7m-31.3-15.8h.7m-5.1 14.8h.7m22.9 14.5h.7m-10.4-29.6h.7m13.8 1h.7m-29 7.3h.7m1.3-2.3h.7m27.2 16h.7m-30.4-16.8h.7m31.1 18.4h.7m.8-12.8h.7m-2.3-2h.7m-33 10.2h.7m15.7-18.6h.7m-17.9 9.3h.7m29.6 13.1h.7m5 1.8h.7m-16.3-26h.7m-4.8 2.8h.7m9.2 .8h.7m-2.2-2.1h.7m-26.4 11h.7m34.6-2.2h.7m-3.4 16.8h.7m-28.3-22.1h.7m29.1 1.4h.7m-29.1 19h.7m27.9-12.8h.7m-5.7-8.4h.7m-13.7-1h.7m-17 11.2h.7m23.9-14h.7m-21.6 21.8h.7m3.1 5.8h.7m16 .2h.7m-16.5-26.7h.7m20.8 28.4h.7m-6.1-.1h.7m-21.2-2.3h.7m20.2 .5h.7m-20.5-28.6h.7m25.9 6.1h.7m.3 .1h.7m-28.8-4.2h.7m28.2 18.1h.7m-34.4 4.1h.7m24.6 4.4h.7m-22.7-21.2h.7m30.1-2.7h.7m-12.5-1h.7m-20.4 20.8h.7m21.7 4h.7m6.3-27.2h.7m-.4 20.6h.7m8-19.6h.7m-38.3 20.1h.7m2.8 3.5h.7m1.6-22.9h.7m8.2 1.2h.7m17.6 3.2h.7m-1-2.5h.7m-30.3 21.5h.7m11 1.2h.7m12.6-1.1h.7m2.7 2.9h.7m-34.9-13.8h.7m2.7-8.2h.7m32.6 3.9h.7m-23.7-10.2h.7m2.7 .1h.7m12 28.4h.7m0-4h.7m8.1-4.8h.7m9.5 5.6h.7m-48.3-19.5h.7m-3.8 3.1h.7m27.6 17.3h.7m-24.3-21.7h.7m15.6-2.7h.7m-8.2 0h.7m9.3 25.4h.7m11.3-12.2h.7m-13-13.1h.7m10.7 1.6h.7m-20.6 24.5h.7m19.6-9.2h.7m-37.9-3.9h.7m31.5 15.2h.7m-9.2-2.2h.7m-5.1 .9h.7m2.7-27.9h.7m1-2.4h.7m-1.7 4.5h.7m-20.4 3.3h.7m-.4-.5h.7m13.2-4.2h.7m2.2-6.9h.7m19.7 17h.7m-2.9 6h.7m-14.4 10.7h.7m-22-10.2h.7m32.3-11.3h.7m-4.8-3.5h.7m7.3 8.3h.7m-32.9 14.8h.7m29.9-18.8h.7m-4.7-4.2h.7m-31.4 21.7h.7m23.8-22.5h.7m-8.3-5.4h.7m-17.5 21.1h.7m8.7-18.7h.7m-1.4 27.2h.7m22.9-9.6h.7m-34.8-.1h.7m1.4-13.2h.7m-2.4 9h.7m23.3 16.6h.7m-8-1.5h.7m-6.4-33.4h.7m-9.7 9.7h.7m33.5 .6h.7m-8.2 20.8h.7m-30.6-8.6h.7m38-11.8h.7m-37.6 6.7h.7m31.7-2.6h.7m-29.4-6.6h.7m10.3-.6h.7m20.8 6h.7m-28.1 18.8h.7m2.4 2h.7m-11.7-19.5h.7m31.2-.9h.7m-28.2-5.5h.7m-4.2 23.9h.7m11.9-24.8h.7m17.6 19.6h.7m-26.4-22.1h.7m25.3 6.1h.7m-33.1-1.8h.7m38.4 14.3h.7m-2.2-12.6h.7m-20.7-3h.7m13.9 1.5h.7m-10.2-2.4h.7m10.3 15.2h.7m-4.5-11.8h.7m1.1 4.4h.7m5.5 3.5h.7m.3-14.3h.7m-38.4 23.2h.7m.6-20.8h.7m-2.7 24.4h.7m1.3-21.3h.7m2-2.4h.7m13-2.4h.7m-6.8 2h.7m21.5 6.6h.7m-1.7-2.8h.7m-35.8 11.4h.7m35.7-4.3h.7m-6.5-8.6h.7m-5.5 23.6h.7m-8.1 1.7h.7m5.6-26.2h.7m10.5 14.4h.7m-3.1-6.9h.7m-14 19.6h.7m13.8-17.4h.7m-34.9 5.5h.7m31.7 5.2h.7m-30.6-18.2h.7m33.3 3.4h.7m-35.3 19.8h.7m9-25.9h.7m5.3 28.1h.7m-9.3-.9h.7m-11.4-7.4h.7m1.1-15.7h.7m10.3-4.1h.7m23.5 5.3h.7m-32.9-3.7h.7m21.9-3.1h.7m0 2h.7m-27.7 8.2h.7m12.7 17.2h.7m-5.9-27.2h.7m23.7 4.6h.7m-29.5-3.1h.7m9.7-1.6h.7m24.6 5.3h.7m-35.2-3.8h.7m-2.3 21.2h.7m5.1-20.6h.7m-7.7 4.8h.7m7.9-5.4h.7m21.4 7.2h.7m-.9-6.7h.7m-8.4-3.4h.7m-24.9 6.1h.7m29.5 21h.7m-31.2-17.5h.7m36.9 11.8h.7m-5.2-13.7h.7m-22.9-6.5h.7m29.4 12.3h.7m-40.5-4.6h.7m33.2-.3h.7m-4.1 12.8h.7m-2.5-15.9h.7m-29.1 14.8h.7m31.6-5.1h.7m-33.4-19.4h.7m11.4 31.7h.7m-11.5-3.4h.7m17.7 4.4h.7m-20.1-26.3h.7m32.7 8.6h.7m-10.3-8.5h.7m-9.8-1.5h.7m-12.9 3.2h.7m31.3 10.9h.7m-32-10.9h.7m-.5 20.2h.7m29.7-12h.7m-24.2-11h.7m19.4 3.9h.7m-26.3-4h.7m25.7 26.3h.7m-30.7-6.1h.7m15.8-21.6h.7m8.7 27.7h.7m8.5-7.9h.7m-41.5-4h.7m39.2-8.4h.7m-38.8 2.4h.7m1.9-5.2h.7m9.6-2.1h.7m-9.4-.5h.7m.3 2.5h.7m29.8 12.6h.7m-2.2-2.1h.7m-.8 1.8h.7m-22.3-14.9h.7m-8.4 3.7h.7m29.4 1.7h.7m2.5 18.2h.7m-37.3-13.1h.7m16.9 16.9h.7m-9.7-28.1h.7m9.1 29.7h.7m2.8-30.8h.7m-22.8 25h.7m26.4-21.3h.7m-9.3-4.6h.7m5 28.9h.7m-16.7-.4h.7m11.7-25.1h.7m10.2-6.6h.7m-31.7 23.2h.7m31.7 5.2h.7m-18.7 3.7h.7m-6.2-27.8h.7m-9.6 9.6h.7m21.3-6.3h.7m-22.9 13h.7m6 15.5h.7m6.4-29.8h.7m-13.9 6.7h.7m-.7 .4h.7m-3.1 8.3h.7m33.6-11.5h.7m-34.2 13h.7m-.1-11.2h.7m-1.2 13.1h.7m12.9-19.8h.7m17.9 26.9h.7m5-13.9h.7m-7.1-8h.7m-11.7-4.5h.7m-13.6 0h.7m-9 10.6h.7m32.7 9.9h.7m5.2-15.7h.7m-9.7 21.8h.7m-1.6 1.3h.7m-29.4-17.5h.7m25.2-10h.7m-26.1 9.5h.7m19.3 18.7h.7m11.6-12h.7m-24.7 9.8h.7m25.3-10.9h.7m-21.1-15.2h.7m21.6 23.2h.7m-21.6-23.6h.7m6.8 .6h.7m-.7 27.5h.7m-20.4-24.2h.7m2.4-3.6h.7m7.7 25.7h.7m3-24.9h.7m17.5 17.7h.7m-36.5-13.8h.7m33.6 1.3h.7m-35.2 9.7h.7m2.5-13.2h.7m-2.7 17.8h.7m32.4-14.7h.7m-10.6 20.2h.7m-2.6-27.5h.7m-2 2h.7m12.5 5h.7m-1.7 22.2h.7m-34.5-19h.7m33.6 .2h.7m-35.3 6h.7m33.5-.4h.7m-32.8-12.7h.7m25.2 22.3h.7m-28.7-8.9h.7m-1.1 3.3h.7m3.5-20.6h.7m14.8 2h.7m-9 1.7h.7m-11.1-.5h.7m1.1 1.1h.7m16.5-2.3h.7m-.1-.2h.7m-4.6 30.6h.7m-8.7-4.8h.7m-7.6-20h.7m1.8-2.2h.7m-8.8 3.3h.7m3 7.6h.7m-.1 4.3h.7m30.1-13.9h.7m-13.4-3.4h.7m14.2 .2h.7m-32.3 18.8h.7m25-17.5h.7m-26.3 3.4h.7m10.6 21.4h.7m13.6-2.1h.7m-29.9-4.5h.7m9 3.5h.7m-2.5-24.6h.7m-5.4-1.8h.7m-1.6 30.5h.7m18.5-26.8h.7m-22.1 13.6h.7m2.1-16.3h.7m2.5 25.2h.7m-8-20.1h.7m24.3-3.8h.7m8.5 .3h.7m-15.3 1.2h.7m-7.4 24.3h.7m21-5.7h.7m-14.4-20.8h.7m-17.7 9.7h.7m3.9-11.2h.7m-4.3 24.4h.7m2.2-19.9h.7m-1.1 1h.7m12.6-2.5h.7m-8.8 26h.7m-6.2-26.9h.7m4.2 .2h.7m30.1 14.7h.7m-6.6 4.2h.7m-17.4 7.9h.7m14.9-2.1h.7m-4-24.6h.7m3.9 17.5h.7m-25.4 10.4h.7m22.6-8.9h.7m-13.7 9.8h.7m11.2-2.8h.7m-16.7-25.2h.7m15.9 2.2h.7m-16 25.5h.7m-5.1-29.9h.7m-13.9 6.1h.7m35.5 6.8h.7m-.6-1.8h.7m-10.5 15.3h.7m10.8-4.6h.7m-37-.6h.7m25.8-18.7h.7m-9.1 28.4h.7m11.8-10.7h.7m4.1-12.6h.7m-35.8 7.2h.7m-2-3.5h.7m33.6 1.4h.7m-2 8.9h.7m-.2 3.8h.7m6.3-22.5h.7m-30.7-3.8h.7m-7.2 5.7h.7m-.9-.9h.7m31.3-4.6h.7m3.3 9.5h.7m-32.4-6.9h.7m31.2 7.3h.7m-17.1-10.8h.7m-27.6 14.8h.7m23.9-10.3h.7m-18.3 19.3h.7m-.2-18.2h.7m20.1-3h.7m-2.3 .7h.7m-26 11.4h.7m38.2-5.8h.7m-35.4 13.2h.7m33.2-10.9h.7m-26.3-7.5h.7m19.3-1.5h.7m-29.6 29.1h.7m-2.9-22h.7m31.4 12.5h.7m-30.7-.5h.7m30 4.4h.7m-24.5-23.2h.7m-7.6 7.9h.7m8.8-9.4h.7m19.3 29.1h.7m-31.7-26.6h.7m23.2 24.9h.7m8.2-9.5h.7m-2.1-15.1h.7m-35.1 7.7h.7m3.1 1.8h.7m34-1.1h.7m-27.8-8.6h.7m25.5 14.9h.7m-35-5.5h.7m41.5 13h.7m-20.2-23.6h.7m-20.7 4.6h.7m1.7-5.6h.7m22 1.9h.7m-30.2 .5h.7m10.8-3.2h.7m-2.4 3.1h.7m-10.3 13.1h.7m26.4-12.8h.7m-25 10h.7m31.7 4.8h.7m-28.2-14.1h.7m-2.9 26.7h.7m25.8-1.6h.7m-16.6 1.5h.7m-17.2-13h.7m11.3 11.6h.7m-8.6-21.9h.7m27.3-3.6h.7m-6 26.2h.7m9.5-12.3h.7m-4.4-11h.7m-17.4-3.7h.7m-14 16.2h.7m1.5 4.3h.7m-.9 3.1h.7m28.2-6.2h.7m-3.1 5.1h.7m3-13h.7m-33.3 2.8h.7m-.2-7.3h.7m23.6-5.2h.7m6 6.6h.7m-33.8-.5h.7m3.1 17h.7m23.2 1.2h.7m-27.1-10.5h.7m-5-4h.7m45-.3h.7m-37.2-17.1h.7m24.5 9.8h.7m-8.8-5.9h.7m19.9 29.1h.7m-2.9-13.2h.7m-18.6-11.2h.7m-7.4-.7h.7m-16.5 1.9h.7m-2 4.4h.7m14.9-8.7h.7m-10.3 3.8h.7m-3.2 19.6h.7m26.8-22.8h.7m-26.5 3.5h.7m37.1 17.6h.7m-21.3-20h.7m-8 .4h.7m15.4 2.7h.7m-21.9-2.2h.7m-7.7 3.1h.7m27.9-4.7h.7m-11.9-.5h.7m-21.8 12.1h.7m17.5-11.7h.7m-6.5-1h.7m-11.8 7.1h.7m35.8 17.1h.7m-23.5-23.8h.7m1.3 1.2h.7m-.2-1.2h.7m7 29.5h.7m9.6-13.7h.7m-34.6-.1h.7m-3 2.6h.7m9.9-17.6h.7m-7.5 4.5h.7m2.9-1.8h.7m10.4-2.4h.7m-17.7 9.1h.7m30.8-6.6h.7m-30.7 3.3h.7m30.5 .2h.7m-21.9-4.3h.7m-5.3 24.7h.7m25.2-6.2h.7m-22.5 8.6h.7m6.3-29.6h.7m-19.4 11.2h.7m34.2 9.8h.7m-34.1-17.8h.7m29.3 2h.7m-14.7-4.5h.7m10.3 2.5h.7m5.4 6.7h.7m-37.9 4.9h.7m21.4-14.5h.7m-7.8 28.9h.7m-9.7-24.5h.7m13.6 22.6h.7m-3 .2h.7m-.6 2.4h.7m1.5-31.7h.7m17.3 7.1h.7m-23.1 21.4h.7m11.6-25.5h.7m-24.3 10.9h.7m10.8-13.5h.7m9.3 32.1h.7m-8.6-29h.7m-8.4 .5h.7m-5.1 .6h.7m30.1 7.4h.7m-34.1-3h.7m1 17.4h.7m-2.6-17.7h.7m3.7-4.7h.7m4 24.2h.7m-9-22.2h.7m.9-1.6h.7m30.9 5.4h.7m-3.9 13.1h.7m-13.1-20.5h.7m12.6 24.7h.7m-32.4-8.1h.7m-.3-6.6h.7m33.6-2.2h.7m-4.3 16.4h.7m-26 1.4h.7m-8.2-10.5h.7m18.7-13.7h.7m18.7 2.1h.7m-.1 18.6h.7m-36.5-17.2h.7m3-4.5h.7m27.6 22.8h.7m-32.2-2.6h.7m.4-.8h.7m32.6-8.9h.7m-14 15.5h.7m-25.1-25.4h.7m34 16.3h.7m-.8-16.6h.7m-24.6 24.9h.7m23.3-20h.7m1 13.7h.7m-36.1-4.6h.7m31 6.3h.7m-34.1-13.3h.7m3 15.1h.7m-1-8.6h.7m26.3-12.4h.7m2.8 19.5h.7m-31.6-6.3h.7m4.9-12.3h.7m18.6-.2h.7m-26.8 9h.7m-1.7 .9h.7m32-8.1h.7m-6.4-2.2h.7m-26.6 13.9h.7m-2.8-5.4h.7m22.7 19.4h.7m-20.6-14.8h.7m33.5 6.7h.7m-15-21.5h.7m-5.6-5.7h.7m18.4 30.7h.7m-26.3-27.6h.7m12.9 4h.7m-10.2 24.3h.7m-3.8-31.1h.7m22.9 19.3h.7m4.6-19.4h.7m-39.9 30.7h.7m15.8-26.2h.7m15.2 6.9h.7m-32.8-1.8h.7m18.1 24.2h.7m6.6-25.4h.7m-21.6 20.7h.7m22.8-.2h.7m-22.5-22.2h.7m-7.4 10.7h.7m-1.1-5.5h.7m25.2 18.7h.7m-7.7 3.7h.7m11.4-25.1h.7m-28.7 .3h.7m-3 1.4h.7m6.7-4.8h.7m21.8 3.5h.7m-1.4-.5h.7m2.2 14.6h.7m-33.9-5.3h.7m8.5 12.6h.7m19.2-1.1h.7m-4.7-22.7h.7m-24.4 16.8h.7m2 4.1h.7m2-23.5h.7m2.3 1.5h.7m20 25.4h.7m-11.2 .8h.7m-22.4-9.7h.7m40.2-7.4h.7m-35.9-7.8h.7m22.9-.1h.7m-27.6 18.6h.7m31.5-1.1h.7m-30.7-19.5h.7m31 15.1h.7m-34-9.3h.7m-3.1 12.2h.7m1.2-11.2h.7m34.5 14h.7m-30.3-18.9h.7m23.5 19.9h.7m-28.5 2.5h.7m-7.2-7.9h.7m32.3 6.9h.7m-27.8-17.3h.7m19.9 20.8h.7m-22.1-20h.7m2.1 17.4h.7m30.1-15.4h.7m.2-3.3h.7m-5.9 14.9h.7m-5.8-19.9h.7m5.5 21.8h.7m-11-20.5h.7m5.3 23.2h.7m5.6-14.7h.7m-4.2-8.6h.7m-2 2h.7m-29.1 11h.7m-5.2-6.5h.7m4.5 12.2h.7m33.8-10h.7m-36.8 8.2h.7m35.8 6.5h.7m-6.8-.1h.7m-23.9 .9h.7m22.3-22.7h.7m-22.4 23.9h.7m23.3-5.9h.7m-16.7 8.6h.7m-18.6-28.8h.7m3.8 20.3h.7m-2.9-6.9h.7m3 7.8h.7m13.3 5.8h.7m-11.8-3.9h.7m24.9-4.4h.7m-15.5-18.3h.7m10.1 .4h.7m-29 3.6h.7m5.1 18.9h.7m-7.2-10.6h.7m15.1 13.7h.7m16.1-21.9h.7m-31.7 13.9h.7m7.5 9.7h.7m10.9-2.7h.7m7.6-26.7h.7m6.5 6.1h.7m-41.8 9.1h.7m7-12.7h.7m-.5 .4h.7m7.9-2.6h.7m4.2 26.2h.7m19.1-1.4h.7m-23.8-22.6h.7m17.3 2.5h.7m-2.5 21.7h.7m-22.5-25h.7m17 .1h.7m-3.1-5h.7m12.9 16.5h.7m-15.8-12h.7m9.1 3.5h.7m-32.8 1.3h.7m23.5 21.7h.7m12.8-27.4h.7m-14.9 .9h.7m-20.7 25.8h.7m25.8 1.9h.7m2.5-11.1h.7m-23.4-22.4h.7m-11.2 8.9h.7m36.3 17.8h.7m-6.2-19.2h.7m-25.7-1.8h.7m11.4-.6h.7m4.2 28.1h.7m-23-22.3h.7m32.5-2.1h.7m-27.4 20.4h.7m-3.4-1.8h.7m-1.6 1.3h.7m33.2-15.6h.7m-37.8-3.2h.7m41.5 11.9h.7m-39.1 10.7h.7m25.7-24.4h.7m-5.8 24.5h.7m-4.3-.4h.7m3.2-27h.7m1.5 .9h.7m-27.2 3.1h.7m4.7-4.1h.7m-4.9 4.1h.7m29.6 10.4h.7m-.8-5.9h.7m-19.6 17h.7m18.2-2.6h.7m-16.4 4.5h.7m-16.3-8.8h.7m9.4 7.9h.7m-13.5-13.1h.7m9.1-13h.7m21.8 4h.7m-1 19.6h.7m-.2-20.3h.7m3.6 10.7h.7m4.5 11.2h.7m-8.3-12.3h.7m1.4-1.9h.7m-17.8-11.3h.7m19.6 9.6h.7m-14.8 15.8h.7m-13.9-.9h.7m-12.5-12.5h.7m3.5-9.3h.7m17.9-1.6h.7m.5 24.7h.7m-24.1-12.8h.7m32.6-4.9h.7m-10.8-8.4h.7m8.3 4.9h.7m-13.6-5.4h.7m-17.8 5.2h.7m30 17.9h.7m3.5-4h.7m.2-8.8h.7m-24-10.1h.7m-14.3 21.4h.7m23.5 5.4h.7m-16.1-24.5h.7m-8.3 3.7h.7m31.5 8.3h.7m-.5 .7h.7m-31.7 10.5h.7m-1.9-2h.7m31.8-11.6h.7m-5.4 9.4h.7m-30.6-10h.7m18.6-9.7h.7m9.9 21h.7m2.4-10.1h.7m-27.6-11.1h.7m-.9-.4h.7m19.6-3.4h.7m-5.2 1.7h.7m11.6 8.3h.7m-24.7-9h.7m-11.1 15.5h.7m26.8-12.4h.7m-25.7 2.1h.7m-4.3 19h.7m32.5 2.2h.7m-25.3-31.6h.7m-4.4 31h.7m28.8-8.7h.7m-25.4-13.9h.7m-9.7 17.4h.7m33.8-13h.7m3.1 3.3h.7m-25.1-11h.7m5.5 1.9h.7m-1.1-.1h.7m13.2 16.9h.7m.1 .4h.7m-34.6-3.4h.7m-5.4-8.4h.7m2.6 15h.7m-4.1-6.6h.7m2.3-8.1h.7m3.6-1.1h.7m-.9-1.2h.7m-.7 18.1h.7m6.2-20.9h.7m17.1 23h.7m-24.8-19.2h.7m35.7 12.3h.7m.9-4.7h.7m-8.9 .9h.7m-30.7 8.3h.7m2.3-20.4h.7m20.5 24.8h.7m-25.9-7.2h.7m21-18.6h.7m-25 15.4h.7m35.3 1.7h.7m-11-15.2h.7m8.9 15.5h.7m-10.6-15.3h.7m-27.6 2.9h.7m23-5.9h.7m11 25.1h.7m1.2-12.2h.7m-34.6-11.2h.7m15.6-2.5h.7m-16.9 5h.7m24.4 22.7h.7m.2-22.6h.7m-15.4 23.2h.7m-3.6-24.6h.7m-2.3-1.9h.7m13 1.8h.7m1.2-1.5h.7m-10.4 29.2h.7m13-28.3h.7m5.6 16.9h.7m-37.6-14.9h.7m37.2 6.4h.7m-33-5.9h.7m23.3-4h.7m-26.7 11.1h.7m.9 9.7h.7m-3.8-7.4h.7m-.9-.9h.7m3.9 11.5h.7m11.3 6h.7m-14.3-26.6h.7m30 10.4h.7m-25.4 15.4h.7m24.6-27.3h.7m-36 14.3h.7m31.9 8.7h.7m1.2-19.2h.7m1.1 3h.7m-25.8 17.3h.7m-2.1 3.9h.7m-7-27.3h.7m37.4 6.7h.7m-33-8.7h.7m31.3 10.9h.7m-39.6 9h.7m13.5 7.4h.7m1.5-28.3h.7m-13.3 24.9h.7m4.2-25.5h.7m-4.7 4.5h.7m3.6-4.6h.7m16.2 28.1h.7m-21 1.8h.7m19.3-27.8h.7m4.3 1.8h.7m-31.3 5.2h.7m31.2 10.1h.7m-33.6 5.2h.7m1.3-2.9h.7m37.3-21.7h.7m-40 8.9h.7m34.7 1.1h.7m-15.7 19.9h.7m5.9-4.2h.7m-13.4-26.3h.7m20.2 17.2h.7m-.9-7.7h.7m-34.7-.6h.7m9 20.1h.7m6.3-27h.7m-10.5 .9h.7m-8.5 .9h.7m32.9 9.4h.7m-9.9-8.7h.7m-25.5 11.4h.7m.8 5.3h.7m29.3-18.1h.7m-1.6 24.7h.7m-34.4-11.9h.7m2 .3h.7m30.1 12.2h.7m.2-22.3h.7m-31 4h.7m19.8-6.4h.7m-10.5-3.6h.7m20.3 7.8h.7m-17.2-5.4h.7m-17.5 11.9h.7m-1.1-3.8h.7m5.4-5.7h.7m30.2 16.5h.7m-4.5 1.3h.7m-17.2 8.2h.7m-14.7-26.5h.7m20.2-2.3h.7m-14.6 .2h.7m1-.4h.7m-10.3 18.9h.7m31.4-14.7h.7m.1 11h.7m-36.6-3.1h.7m37.4 1.7h.7m-21.3-13.6h.7m18.8 17.5h.7m-2.9-3.3h.7m-15.9 13.7h.7m11.4-23.9h.7m-27.7-1.1h.7m.8-1.2h.7m26.3 18.6h.7m-6.8-18.4h.7m-22.9 2.5h.7m5.8-3h.7m-9.2 1.8h.7m-1.5 13.6h.7m9.9-15.3h.7m-.3 25.7h.7m-6-24.6h.7m17.2 27.1h.7m-23.8-28.2h.7m6.3 25.4h.7m25.4-6.5h.7m-28.6-17.4h.7m13.4-2.7h.7m-16.9 22.5h.7m-2.9-6.2h.7m2.6 6.2h.7m30.3-13.5h.7m-38.6 5.1h.7m31.6 11.2h.7m.8 1.3h.7m-30.2-22.1h.7m2.7-5.2h.7m11.6 27.9h.7m-11.7-1.1h.7m-6.7-6.9h.7m-1.5-11.8h.7m-3.7 3.7h.7m19.2 15h.7m13.4 3.1h.7m-12.2-28.3h.7m-19.9 5.1h.7m2.4 20h.7m30.4-4.8h.7m-2.5-14.3h.7m-29.8-5.1h.7m-4.7 8.6h.7m32.5 11.1h.7m-26.2-23.1h.7m15.1 2.3h.7m8.8 17.9h.7m6.6-14.1h.7m-8.2 2h.7m-24 20.3h.7m-9.1-19.4h.7m23.9-4.5h.7m-12.8 24h.7m-5.7-26h.7m-8 5.8h.7m-.2 12.7h.7m3.7-20.2h.7m11.9 1.6h.7m-8-2.8h.7m11.1 2.6h.7m-7.5-5.9h.7m-19.3 22.7h.7m37.9-8.3h.7m-29.4 14.1h.7m22.7-20.1h.7m5.5-.9h.7m-39.4 8.3h.7m30.4-8.6h.7m-31.8 5.4h.7m41.7 10.1h.7m-28.3-17.6h.7m-.1 28.4h.7m-17.5-18.2h.7m9.4 15.2h.7m22.5-20.8h.7m-28.5-.2h.7m-2.6 12.5h.7m4.2 8.6h.7m-4.8-8.2h.7m36-13h.7m-26.8-3h.7m-13.3 17h.7m2.2-19.7h.7m9.3 29.5h.7m-1.5-27.9h.7m21.3 18.4h.7m-22.9-18.2h.7m-3.4-1.1h.7m-2.1 .8h.7m-1.4 26h.7m1.1 .9h.7m30.5-23.9h.7m-33-10.9h.7m20.9 10.1h.7m-18.8-1.4h.7m21.9 7.4h.7m-.3 16.1h.7m-33.1-5.8h.7m-1.8-9.4h.7m34.2 11.4h.7m-32.6 3.5h.7m11.7 5h.7m16.8-17.2h.7m-31.4-7.1h.7m-4.3 1h.7m1.7-.6h.7m-.8 7.3h.7m13.2-14.5h.7m-11.3 3.2h.7m25.5 21h.7m4.4-22.9h.7m-33.1 3h.7m10.7-1.1h.7m4.1-6.2h.7m16 14h.7m-26.1 16.2h.7m10.8 .7h.7m9.6-23.9h.7m-29.2 23.1h.7m-5.6-9.5h.7m25.1 9.6h.7m-18.7-23.7h.7m-7.2 12.8h.7m2.9-11.6h.7m6.2-1.8h.7m-13.4 18.8h.7m45.8-4.6h.7m-43.9-10.5h.7m8.4 20.5h.7m22.6-18.3h.7m-33.3 7.5h.7m1.2 6.3h.7m7.9-21.7h.7m-3.2 1.3h.7m-3.8 1h.7m23 2.7h.7m2.5 2.4h.7m-24.4 19h.7m-9.5-26.9h.7m-1.3 9.6h.7m0 9h.7m30.4-12.3h.7m-33.9-1h.7m2.2-.9h.7m-1.1 1.7h.7m10.8 21.6h.7m6.2-25.9h.7m-22.9 12.8h.7m31.6 15.2h.7m1.2-23.3h.7m-33.3-.9h.7m23.8-3h.7m-23.9 5.7h.7m33.7 9h.7m-33.6 3h.7m10.4-22h.7m4.4 3.3h.7m-14-2.5h.7m12.1 2.3h.7m22.8 6.6h.7m-5.4-2.6h.7m-13.9-2.7h.7m-17-1.6h.7m-.2 27.6h.7m2.5-25.5h.7m-9.7 3.5h.7m28.5-2.4h.7m-22.9-1.2h.7m18.9-.1h.7m-18.8 27.5h.7m-11-11.7h.7m1.7-11.8h.7m-4.7 10.1h.7m20.2-14.2h.7m-8.2-.5h.7m-11.4 3.8h.7m33.8 5.3h.7m-2.9 18.5h.7m-33.8-24.7h.7m33.8 11.9h.7m-21.4-14.4h.7m-14.4 16.7h.7m30 4.6h.7m-17.8-22.3h.7m20.5 25.6h.7m-23.8-25.1h.7m21.4 7.1h.7m-36.4 .7h.7m8.7 16.9h.7m13.8-25.7h.7m-18.7 23.7h.7m25.3-21.9h.7m-28.3 7.1h.7m27 13.5h.7m-19.1 3.9h.7m-11.9-10.5h.7m-4.6-5.1h.7m35.4 9.6h.7m-27.4 4.2h.7m7.7 4.7h.7m-12.6-7.9h.7m30.7-11.1h.7m-29.1-8.4h.7m27.1 10.7h.7m-1.8 11.6h.7m-1.2-19.5h.7m-31 9.5h.7m22.3-14.9h.7m.5 2.6h.7m5.2 5.3h.7m1 2h.7m-32.8-6.2h.7m13.5-2.3h.7m15.2 3.6h.7m4.7 .2h.7m-32.3-2.3h.7m28.6 3.8h.7m-11.8 22.7h.7m14.2-16.9h.7m-32.5 11.7h.7m22-21.8h.7m-25.6 22.9h.7m3.2 2.7h.7m-6-6.8h.7m1.5-19.9h.7m31.2 .2h.7m-2.5 14h.7m-12.5-14.9h.7m-22.7 5h.7m32.2 4.8h.7m-31.1-5.7h.7m19.5 23.1h.7m8.4-7.6h.7m-16.7-26.4h.7m15.2 27.5h.7m-21.7 7.1h.7m-16-12.6h.7m11-13.6h.7m18.6 1.6h.7m-18.3-3.1h.7m-12.7-1.2h.7m-2.1 14.5h.7m35.4 4.7h.7m-16.1-17.4h.7m11.8 25.1h.7m2-19h.7m-21.7-6.7h.7m17.3 23.5h.7m-27.9-20.6h.7m30.1 14.4h.7m-25.9-16.4h.7m15.9 1.6h.7m-19.8 .2h.7m1.7-3.1h.7m-7.1 6.8h.7m30.4 1h.7m-29.7 14h.7m-1.8 5h.7m-.1-2.6h.7m.3-21.2h.7m10-2.9h.7m14.4 4.1h.7m-4.1-4.1h.7m-17.9 2.3h.7m1.1 24.5h.7m19.5-.8h.7m.4-11.4h.7m-13.5-22.9h.7m15.8 32.8h.7m-6-27.5h.7m-31.8 10.7h.7m6.2-5.5h.7m-3 20.6h.7m-3.9-22.2h.7m28.9 22.6h.7m-.1-.1h.7m-31.7-10.5h.7m.1 10.5h.7m14.7-24.8h.7m10.1-1.8h.7m1.5 5.4h.7m-18.9-1.1h.7m-5.5 0h.7m-5.1-1.2h.7m30.4 12h.7m-12.9-9.9h.7m-10.9 .3h.7m-8.1 .4h.7m.9-1h.7m28.4 26.8h.7m-1.7-21.3h.7m.2 11.9h.7m-27.9 5.4h.7m15.1 4.3h.7m-2.3-29.8h.7m-24.6 4.9h.7m6.6-1.4h.7m-5.1 6.8h.7m-3 3.3h.7m2-4.9h.7m4.8 16.4h.7m10.8-22.2h.7m12.2 20.3h.7m-5.6-20.3h.7m-9.1 .3h.7m3.9 25.7h.7m13-14h.7m-6.1 10.6h.7m2.5-19.6h.7m-9 21.5h.7m8-9.9h.7m-34.9-10.5h.7m1.4 19h.7m-1-4h.7m5.3-20.2h.7m18.9 25.2h.7m-23.7-20.7h.7m3.4-4h.7m9.9 25.5h.7m-9-24.8h.7m-5.5 21.9h.7m-5.1-5.7h.7m36 5.2h.7m-36.7-5.5h.7m-.6-13.2h.7m28.3 .1h.7m3.6 18.7h.7m-.7-14.1h.7m-28.3-12.4h.7m33.9 11.2h.7m-12.5-4.7h.7m0-2.3h.7m-24.5 .5h.7m-8.4 12.9h.7m.1 7.3h.7m32.9-1h.7m-8.3-20.2h.7m1.9 24.5h.7m-17.9-23.3h.7m-8.5-1.1h.7m9.2 26.8h.7m7.3-.5h.7m7.6-.8h.7m3-14.1h.7m-28.5-10.1h.7m5.5-3.2h.7m-10.3 4.9h.7m21.8-1.9h.7m-19.3-1.6h.7m24.3 22.7h.7m0-18.8h.7m.7 8.3h.7m-32.9-3.9h.7m5.7-6.5h.7m13-2.6h.7m-13.8 28.3h.7m26.8-2.6h.7m-3.6-21h.7m-.3 11.6h.7m-34.6-9.9h.7m14 20.7h.7m14.8-22.3h.7m-23.9 21.2h.7m26.6-8.1h.7m17.4-2h.7m-28.2 3.5h.7m-2.7 8.2h.7m11.1-13h.7m12.3-.6h.7m-26.1 3.5h.7m-5-6.9h.7m.7 4.2h.7m15.9-1.6h.7m-4.7 11.4h.7m.9-16.4h.7m4.9-13.1h.7m10.6 2.9h.7m-.8 8.1h.7m-7.5 17.3h.7m9.3 2.1h.7m-14.5-8.9h.7m-3.4-2.3h.7m7.4 9.1h.7m.2-17.6h.7m1.3 12.9h.7m-11-14.4h.7m4.6 5.9h.7m-7.8 8.8h.7m29.1-11.6h.7m-14 5h.7m-6-.8h.7m3.2-7.3h.7m-1.9 6h.7m-24.8 3.5h.7m-3.4 3.2h.7m.7-1.7h.7m19.1-2.3h.7m17.3-.7h.7m5.6-20.4h.7m-5.7 23h.7m-34.9-12.8h.7m8 24.5h.7m12.3-27.8h.7m-1.7 16.6h.7m7-3.9h.7m-15.6 5.3h.7m-23.2-9.2h.7m25.5-4.5h.7m19.4-.8h.7m-32.7 8.2h.7m-16.8 8.7h.7m45.5-1.4h.7m-18.9-9.2h.7m-9.5 7.2h.7m-6.8-3.8h.7m11.2 18.9h.7m23.2-20.7h.7m-31.8 2.7h.7m22.8 2.1h.7m-8.7 8.2h.7m-7.1-18.8h.7m-3.2 15.8h.7m-16-9.7h.7m18.4-.6h.7m5.3-2.5h.7m-14.5-9.8h.7m9 2.7h.7m13.2 22.5h.7m-32.9-8.6h.7m2 13.9h.7m-7.5-11h.7m16.5-3.3h.7m9.5-13.5h.7m-12.7 18.5h.7m-.3 11.3h.7m3.6-16.4h.7m-14.1 1.5h.7m1.3 4h.7m15.7-6.5h.7m-7.9-1.6h.7m-.9 5.1h.7m-3.8 1.1h.7m7.1-2.5h.7m9.6 10.1h.7m-32.6-15.6h.7m5 16h.7m4.9-16.2h.7m-.9 9.3h.7m-15.5 6.3h.7m18.8-13.5h.7m-6.1-16.4h.7m31.9 19.4h.7m-24.2-2.9h.7m-15.9-7.4h.7m-3.4 15.2h.7m24.1-1.4h.7m1.7-16.9h.7m-37 12.9h.7m10.3-5.7h.7m18.7 3.4h.7m-28.9 5.3h.7m16.1-.6h.7m13.2 4h.7m-6.2-18.1h.7m-7.5 11.7h.7m16.8-2.1h.7m-22.7-5.9h.7m9.2-1h.7m-14.1 3.1h.7m1.3-6.4h.7m18 4.8h.7m-7.4-1.2h.7m15.2 15.8h.7m-9-1.8h.7m-11.8 1.7h.7m3.2 2.5h.7m-12.6-9.9h.7m-.4 1.6h.7m25.7-.7h.7m-6.7-3.1h.7m-13.9 2.4h.7m.4-3.1h.7m-4.9 .2h.7m13.7 12.7h.7m-13.3-37.2h.7m2.3 23.2h.7m-2.5-2.7h.7m-12.3 9.7h.7m4.4-6.3h.7m12 7.9h.7m-18.9-3.8h.7m3.5-9.4h.7m2 13.2h.7m7.9-4.1h.7m.1 12.2h.7m9.4-15h.7m-3.3 14.9h.7m-17.8-5.4h.7m30.2-10.8h.7m-24.9 4.1h.7m-8.5 10.5h.7m-9.3-.2h.7m3-23.2h.7m11.5 4.1h.7m-.2 9.4h.7m-5.9-8.1h.7m-12.9 .4h.7m18.5-3.5h.7m-7.9 2.6h.7m16.7 11.2h.7m-15.3-5.6h.7m-11.8 3.5h.7m16.7-3.9h.7m6.7-4.2h.7m-17.4 2.3h.7m-4-1.6h.7m.4 10.9h.7m12.7-8h.7m-17.4 3.5h.7m-4.2 1h.7m4.9-8.2h.7m-10.4 4.9h.7m35.4-8h.7m-27.3 9.6h.7m-4-23.4h.7m29.3 13.3h.7m-32.1 5.7h.7m9.5-9.7h.7m3.6 11.6h.7m-14-.6h.7m6.7-3.1h.7m15.9 15h.7m-17.9-8h.7m-4.8 7.9h.7m.8 .4h.7m.2 2.8h.7m-4.4 3.8h.7m20-21.9h.7m-30.2 20.7h.7m20.8-10.3h.7m-3.8 .1h.7m2.6-2.2h.7m-19.5-2.7h.7m14.4-4.3h.7m-2 6.1h.7m-27.3-2.4h.7m28.9-2h.7m17.8 4h.7m-35.7-8.9h.7m20.6-3.1h.7m-18.2 5.2h.7m7.3 1.4h.7m8.2 7.8h.7m-3.3-.8h.7m-15-3.8h.7m26.2 .9h.7m-12.4-21.5h.7m-4.3 18.3h.7m-9.1 14h.7m17.8-7.6h.7m-15.4 2h.7m1.3 4.9h.7m-29 8h.7m2.6-4.8h.7m-8.1 1.6h.7m21.7-1.5h.7m-9.2 1.3h.7m-6.2 3.3h.7m3.8-2.9h.7m.8 2.2h.7m-3.2 .1h.7m7.3 0h.7m-27.6-.2h.7m28.9-1.4h.7m-11.9 .5h.7m12.6-2.2h.7m-4.8 2.3h.7m-21.9 2.1h.7m-1.5 .1h.7m12.9-.6h.7m3.4-2h.7m-12.1 1.3h.7m16.1-1.9h.7m-2.3 .7h.7m-4.4 2.6h.7m-8.3-.1h.7m-13.3-1.6h.7m14.5-.7h.7m-8.5-.1h.7m12.3 2.1h.7m-6.2 .1h.7m-6.6-1.2h.7m4.2-4.8h.7m-9.8 5.1h.7m1.4-1h.7m12.6-2.9h.7m5.1 3.4h.7m-25.2-.9h.7m.2 .5h.7m7.1 .2h.7m11.1 .9h.7m-5.7-1.5h.7m-20 .5h.7m21.6 0h.7m-17-1h.7m8.1 1.6h.7m-7.3-.1h.7m17.8-2h.7m-11.2 2.9h.7m9.9 .1h.7m-23.2 .2h.7m24.6-3.4h.7m-14 1.2h.7m-6-1.9h.7m-13.3 2.8h.7m20.4-.2h.7m-13.3 .6h.7m10.8 .6h.7m-5.8-3.5h.7m-1 .9h.7m-4.8 .6h.7m2.5 1.9h.7m-9.7-4.2h.7m-4.7 4.2h.7m30.7-.2h.7m-24.8-1.4h.7m-4.7-.9h.7m55.3 1.6h.7m-26.2 .8h.7m-18.8-.2h.7m-1.4-1.5h.7m3.1 1.9h.7m1.9-4.7h.7m-16.3 3.3h.7m9.7-.7h.7m-7.6-.3h.7m3.6-.2h.7m-14-.4h.7m18.5 3.1h.7m-18.5-3.8h.7m25.4 1.8h.7m-1.7 1.9h.7m-8-2.2h.7m6.9 1.9h.7m-5.7-4.3h.7m-11.9 1.4h.7m12.6 .4h.7m10.9-.1h.7m-36.4 2.1h.7m-1 1h.7m7.2-5.1h.7m19.1-.8h.7m-23.8 3.7h.7m9.6 2.7h.7m12.1-3h.7m-3.7 .3h.7m-14.2 .7h.7m-11.1-1.1h.7m24.5 2.9h.7m-10.5 0h.7m8.2 0h.7m-8.7-3.4h.7m7.7 2.9h.7m5.1-2.8h.7m-22.6 1.8h.7m6.5-.4h.7m5.4 .9h.7m19.2-1h.7m-32.1 1.2h.7m11.1-1.3h.7m-19 1.7h.7m.7-1h.7m10.1-1.5h.7m18.8-2.8h.7m-15.1 5.3h.7m-14.5-2.6h.7m10.1 1.8h.7m5.9-1.4h.7m-13.2 .6h.7m5.6-1.4h.7m12.6 .8h.7m-13.8-.3h.7m-17.8 2h.7m9.2-.8h.7m-14.3 1h.7m29.8-.6h.7m-13.7-2.2h.7m-2.7 3.5h.7m10.3-.2h.7m4-.8h.7m-5.2-1.2h.7m-1.9-.1h.7m-21.6 .1h.7m16.3-2.9h.7m-2 1.7h.7m12 .8h.7m-2-.2h.7m-25.2-3.4h.7m-3.5 6.2h.7m6.7-2.4h.7m20.3-2.3h.7m-7.4 2.7h.7m-8.8-.7h.7m2 1.7h.7m5.7-1.9h.7m-10.4 2.9h.7m-12.2-1.7h.7m-8.1-2.2h.7m12.1 1h.7m5.3-1.3h.7m-5.3 2.9h.7m14.1-.6h.7m-14.4 1.2h.7m-5.8-2.6h.7m1.4 1.3h.7m16.9-2.8h.7m-20.5 .5h.7m.7 .9h.7m-8.6 2.5h.7m6.8-4.1h.7m-6.7 1.6h.7m9 .8h.7m2.3 2.2h.7m16.9-1.9h.7m-26.5 2.3h.7m12.7-.8h.7m23.8-3h.7m-46.5 2.4h.7m33-.3h.7m-17.6 .8h.7m22.9 0h.7m-16.8 .3h.7m-14.1-.9h.7m4.1 1.5h.7m9.2-.8h.7" stroke="#111" stroke-opacity="0.6" stroke-width="0.65" fill="none"/>
<path d="M47.1 261.3C47.18 259.55 47.43 257.8 48 256.5C48.57 255.2 49.5 254.25 50.5 253.5C51.5 252.75 52.7 252.35 54 252C55.3 251.65 56.63 251.47 58.3 251.4C59.97 251.33 62.13 251.47 64 251.6C65.87 251.73 67.57 251.88 69.5 252.2C71.43 252.52 74.12 252.78 75.6 253.5C77.08 254.22 77.82 255.2 78.4 256.5C78.98 257.8 79.13 259.2 79.1 261.3C79.07 263.4 78.93 267.02 78.2 269.1C77.47 271.18 76.57 272.58 74.7 273.8C72.83 275.02 70.02 276.1 67 276.4C63.98 276.7 59.35 276.25 56.6 275.6C53.85 274.95 52.02 273.93 50.5 272.5C48.98 271.07 48.07 268.87 47.5 267C46.93 265.13 47.02 263.05 47.1 261.3Z" fill="none" stroke="#111" stroke-width="2.6" opacity="0.8" filter="url(#bl05)"/>
<path d="M47.1 261.3C47.18 259.55 47.43 257.8 48 256.5C48.57 255.2 49.5 254.25 50.5 253.5C51.5 252.75 52.7 252.35 54 252C55.3 251.65 56.63 251.47 58.3 251.4C59.97 251.33 62.13 251.47 64 251.6C65.87 251.73 67.57 251.88 69.5 252.2C71.43 252.52 74.12 252.78 75.6 253.5C77.08 254.22 77.82 255.2 78.4 256.5C78.98 257.8 79.13 259.2 79.1 261.3C79.07 263.4 78.93 267.02 78.2 269.1C77.47 271.18 76.57 272.58 74.7 273.8C72.83 275.02 70.02 276.1 67 276.4C63.98 276.7 59.35 276.25 56.6 275.6C53.85 274.95 52.02 273.93 50.5 272.5C48.98 271.07 48.07 268.87 47.5 267C46.93 265.13 47.02 263.05 47.1 261.3Z" fill="#dadada"/>
<path d="M57,251.8 Q70,250 77.5,253.5 Q81,258 80,265 Q76.5,264 73.5,259.5 Q70.5,255.5 64,254.8 Q59,254 57,251.8 Z" fill="#111" opacity="0.85" filter="url(#bl1)"/>
<path d="M62,248.5 Q74,247.5 80,252 Q83,257 82,263 L79,262 Q78,256 74,252.5 Q68,251 62,250.5 Z" fill="#000" opacity="0.8" filter="url(#bl05)"/>
<path d="M49.49 261.26C49.56 259.72 49.78 258.18 50.28 257.04C50.78 255.9 51.6 255.06 52.48 254.4C53.36 253.74 54.42 253.39 55.56 253.08C56.7 252.77 57.88 252.61 59.34 252.55C60.81 252.49 62.72 252.61 64.36 252.73C66 252.85 67.5 252.98 69.2 253.26C70.9 253.53 73.26 253.77 74.57 254.4C75.87 255.03 76.52 255.9 77.03 257.04C77.55 258.18 77.68 259.42 77.65 261.26C77.62 263.11 77.5 266.29 76.86 268.13C76.21 269.96 75.42 271.19 73.78 272.26C72.13 273.33 69.65 274.29 67 274.55C64.35 274.82 60.27 274.42 57.85 273.85C55.43 273.28 53.81 272.38 52.48 271.12C51.15 269.86 50.34 267.92 49.84 266.28C49.34 264.64 49.41 262.8 49.49 261.26Z" fill="none" stroke="#858585" stroke-width="0.45"/>
<path d="M51.88 261.23C51.94 259.9 52.13 258.57 52.56 257.58C52.99 256.59 53.7 255.87 54.46 255.3C55.22 254.73 56.13 254.43 57.12 254.16C58.11 253.89 59.12 253.75 60.39 253.7C61.65 253.65 63.3 253.75 64.72 253.86C66.14 253.96 67.43 254.07 68.9 254.31C70.37 254.55 72.41 254.76 73.54 255.3C74.66 255.84 75.22 256.59 75.66 257.58C76.11 258.57 76.22 259.63 76.2 261.23C76.17 262.82 76.07 265.57 75.51 267.16C74.95 268.74 74.27 269.8 72.85 270.73C71.43 271.65 69.29 272.48 67 272.7C64.71 272.93 61.19 272.59 59.1 272.1C57.01 271.6 55.61 270.83 54.46 269.74C53.31 268.65 52.61 266.98 52.18 265.56C51.75 264.14 51.81 262.56 51.88 261.23Z" fill="none" stroke="#858585" stroke-width="0.45"/>
<path d="M54.26 261.19C54.32 260.07 54.48 258.95 54.84 258.12C55.2 257.29 55.8 256.68 56.44 256.2C57.08 255.72 57.85 255.46 58.68 255.24C59.51 255.02 60.37 254.9 61.43 254.86C62.5 254.81 63.89 254.9 65.08 254.98C66.27 255.07 67.36 255.17 68.6 255.37C69.84 255.57 71.55 255.74 72.5 256.2C73.45 256.66 73.92 257.29 74.3 258.12C74.67 258.95 74.77 259.85 74.74 261.19C74.72 262.54 74.64 264.85 74.17 266.18C73.7 267.52 73.12 268.41 71.93 269.19C70.73 269.97 68.93 270.66 67 270.86C65.07 271.05 62.1 270.76 60.34 270.34C58.58 269.93 57.41 269.28 56.44 268.36C55.47 267.44 54.88 266.03 54.52 264.84C54.16 263.65 54.21 262.31 54.26 261.19Z" fill="none" stroke="#858585" stroke-width="0.45"/>
<path d="M56.65 261.16C56.7 260.25 56.83 259.34 57.12 258.66C57.41 257.98 57.9 257.49 58.42 257.1C58.94 256.71 59.56 256.5 60.24 256.32C60.92 256.14 61.61 256.04 62.48 256.01C63.34 255.97 64.47 256.04 65.44 256.11C66.41 256.18 67.29 256.26 68.3 256.42C69.31 256.59 70.7 256.73 71.47 257.1C72.24 257.47 72.62 257.98 72.93 258.66C73.23 259.34 73.31 260.06 73.29 261.16C73.27 262.25 73.21 264.13 72.82 265.21C72.44 266.3 71.97 267.02 71 267.66C70.03 268.29 68.57 268.85 67 269.01C65.43 269.16 63.02 268.93 61.59 268.59C60.16 268.25 59.21 267.73 58.42 266.98C57.63 266.23 57.15 265.09 56.86 264.12C56.57 263.15 56.61 262.07 56.65 261.16Z" fill="none" stroke="#858585" stroke-width="0.45"/>
<path d="M59.04 261.12C59.07 260.42 59.17 259.72 59.4 259.2C59.63 258.68 60 258.3 60.4 258C60.8 257.7 61.28 257.54 61.8 257.4C62.32 257.26 62.85 257.19 63.52 257.16C64.19 257.13 65.05 257.19 65.8 257.24C66.55 257.29 67.23 257.35 68 257.48C68.77 257.61 69.85 257.71 70.44 258C71.03 258.29 71.33 258.68 71.56 259.2C71.79 259.72 71.85 260.28 71.84 261.12C71.83 261.96 71.77 263.41 71.48 264.24C71.19 265.07 70.83 265.63 70.08 266.12C69.33 266.61 68.21 267.04 67 267.16C65.79 267.28 63.94 267.1 62.84 266.84C61.74 266.58 61.01 266.17 60.4 265.6C59.79 265.03 59.43 264.15 59.2 263.4C58.97 262.65 59.01 261.82 59.04 261.12Z" fill="none" stroke="#858585" stroke-width="0.45"/>
<path d="M61.43 261.08C61.45 260.59 61.52 260.1 61.68 259.74C61.84 259.38 62.1 259.11 62.38 258.9C62.66 258.69 63 258.58 63.36 258.48C63.72 258.38 64.1 258.33 64.56 258.31C65.03 258.29 65.64 258.33 66.16 258.37C66.68 258.41 67.16 258.45 67.7 258.54C68.24 258.62 68.99 258.7 69.41 258.9C69.82 259.1 70.03 259.38 70.19 259.74C70.36 260.1 70.4 260.5 70.39 261.08C70.38 261.67 70.34 262.68 70.14 263.27C69.93 263.85 69.68 264.24 69.16 264.58C68.63 264.92 67.84 265.23 67 265.31C66.16 265.4 64.86 265.27 64.09 265.09C63.32 264.91 62.8 264.62 62.38 264.22C61.96 263.82 61.7 263.2 61.54 262.68C61.38 262.16 61.4 261.57 61.43 261.08Z" fill="none" stroke="#858585" stroke-width="0.45"/>
<path d="M69.1 265.3h.7m-1.5-9.7h.7m-1.8 7.6h.7m-11.1-9.4h.7m12.4 13.7h.7m-15.8-7.8h.7m24.5-.3h.7m-15.6-1.6h.7m-2.2 1.3h.7m-3.5 3.3h.7m8.8-9h.7m-4.7 11.2h.7m-11.8 .8h.7m7.9-5.4h.7m7.3 .4h.7m-17.9 1.3h.7m2.7-1.6h.7m11 3.6h.7m-9.9-4h.7m3.1 6.3h.7m-4.1-6.2h.7m4 10.3h.7m-3-4.6h.7m1.4 .2h.7m5.9 .7h.7m-6.5 1.8h.7m4.2-7.3h.7m-3.3 1h.7m-8.2 6.7h.7m-3.6-8.8h.7m7.5-.7h.7m-10.7 11.5h.7m1.7-6.4h.7m10.3-2.9h.7m-9.3 3.1h.7m4.6-2.1h.7m8 .4h.7m-2.3 6.6h.7m-16.6-3.5h.7m2.6-8.4h.7m3.7 3h.7m1.6 9.8h.7m0-5h.7m.3-10.5h.7m4.6 6.1h.7m-6.6 1.7h.7m-9.8-8.6h.7m7.9 14h.7m5-12.7h.7m-4.8-2.2h.7m-11.7 6.3h.7m-2.9 .1h.7m5.6-4.8h.7m2.8 22.6h.7m-2.1-17.8h.7m2.1 6.8h.7m1.5-.2h.7m.2-2.3h.7m-4-1.8h.7m-9.4 4.9h.7m9.6-4.1h.7m3.3 3.4h.7m-10.7-1.3h.7m2-3.5h.7m-9.6-4.7h.7m5.6 9.4h.7m2.7 5.2h.7m7.4-5.7h.7m-7.3-10.3h.7m-5.7 11.1h.7m-10.9 3.8h.7m17.2-8.7h.7m-13 5.7h.7m1.1-5.6h.7m-6.3-7h.7m13.8 7.4h.7m1.2-2.2h.7m-.8 9.2h.7m-5.4-14.2h.7m1.5 13.3h.7m-.3-10.7h.7m-13 2.1h.7m17.2 10.9h.7m-9.5-16.1h.7m-10.8 2.4h.7m17.4 2.9h.7m-4.7 5.2h.7m-5.9 2.2h.7m4.7-4.5h.7m-7.4 7.9h.7m5.3-13.5h.7m1.6 0h.7m-5-.3h.7m-6.1-.1h.7m-6.2 4.2h.7m15.3 4.6h.7m-5.6-3.7h.7m-10.9 1.9h.7m4.5 3.5h.7m-5.2-17.3h.7m1.4 8.7h.7m4.9-.2h.7m6.6 1.6h.7m1.8 2.5h.7m-11.2 2.4h.7m.8-7.8h.7m1.9 5.9h.7m-9.8-10.8h.7m5.1 5.3h.7m3.3 1h.7m-11.9 8.1h.7m8.4 3.3h.7m-1.9-14.9h.7m-7.2 7h.7m4.9 2.7h.7m1.9 4.9h.7m-4.8 .5h.7m-4.7-1h.7m-2.7-12.6h.7m9.3 8h.7m-13.8 .5h.7m14.2-9.7h.7m-4.9 5.3h.7m-2.6 7.5h.7m-3-3.4h.7m-1-8.8h.7m-1.9 4.8h.7m3.1-2.6h.7m11.4-.5h.7m-6.6 12.4h.7m-3.3-6.9h.7m-3.2 0h.7m-8-7.4h.7m6.5 11.8h.7m.1-6.6h.7m-8-3.6h.7m10.6 4.9h.7m-7.9-.2h.7m5.9-3.6h.7m-8.9-3.4h.7m9.2 6.7h.7m-11.8-4.1h.7m4.6 7h.7m1.9-3.8h.7m-4 .8h.7m-9 .1h.7m10-.7h.7m-3.1 3.1h.7m9.5 4.9h.7m-16-6.9h.7" stroke="#444" stroke-opacity="0.4" stroke-width="0.65" fill="none"/>
<circle cx="70.4" cy="257.8" r="1.3" fill="#fff" filter="url(#bl05)"/>
<path d="M47.1 261.3C47.18 259.55 47.43 257.8 48 256.5C48.57 255.2 49.5 254.25 50.5 253.5C51.5 252.75 52.7 252.35 54 252C55.3 251.65 56.63 251.47 58.3 251.4C59.97 251.33 62.13 251.47 64 251.6C65.87 251.73 67.57 251.88 69.5 252.2C71.43 252.52 74.12 252.78 75.6 253.5C77.08 254.22 77.82 255.2 78.4 256.5C78.98 257.8 79.13 259.2 79.1 261.3C79.07 263.4 78.93 267.02 78.2 269.1C77.47 271.18 76.57 272.58 74.7 273.8C72.83 275.02 70.02 276.1 67 276.4C63.98 276.7 59.35 276.25 56.6 275.6C53.85 274.95 52.02 273.93 50.5 272.5C48.98 271.07 48.07 268.87 47.5 267C46.93 265.13 47.02 263.05 47.1 261.3Z" fill="none" stroke="#fff" stroke-width="1.4"/>
</g>
<rect x="79.6" y="206.5" width="37.1" height="38.5" fill="none" stroke="#1a1a1a" stroke-width="0.9"/>
<text x="59.8" y="204" font-size="7.2" textLength="16.9" lengthAdjust="spacingAndGlyphs" stroke="#231f20" stroke-width="0.24">0.002</text>
<g clip-path="url(#clB2)">
<path d="M170.16 227.92C170.63 225.21 171.37 223.72 172.96 221.76C174.55 219.8 177.07 217.65 179.68 216.16C182.29 214.67 185.65 213.83 188.64 212.8C191.63 211.77 194.61 210.69 197.6 210C200.59 209.31 203.76 208.99 206.56 208.66C209.36 208.32 211.97 208.04 214.4 207.98C216.83 207.93 220.47 206.86 221.12 208.32C221.77 209.78 219.72 213.45 218.32 216.72C216.92 219.99 214.49 224.37 212.72 227.92C210.95 231.47 209.27 234.45 207.68 238C206.09 241.55 204.51 245.84 203.2 249.2C201.89 252.56 201.33 255.45 199.84 258.16C198.35 260.87 196.57 264.04 194.24 265.44C191.91 266.84 188.36 267.03 185.84 266.56C183.32 266.09 180.8 264.79 179.12 262.64C177.44 260.49 176.69 256.48 175.76 253.68C174.83 250.88 174.45 248.45 173.52 245.84C172.59 243.23 170.72 240.99 170.16 238C169.6 235.01 169.69 230.63 170.16 227.92Z" fill="#777" opacity="0.45" filter="url(#bl25)"/>
<path d="M172.69 229.07C173.11 226.68 173.77 225.36 175.17 223.62C176.57 221.89 178.8 220 181.11 218.68C183.42 217.36 186.39 216.61 189.03 215.71C191.67 214.8 194.31 213.84 196.95 213.23C199.59 212.62 202.4 212.34 204.87 212.04C207.34 211.75 209.66 211.5 211.8 211.45C213.95 211.4 217.16 210.46 217.74 211.75C218.32 213.03 216.5 216.28 215.26 219.17C214.03 222.06 211.88 225.94 210.31 229.07C208.75 232.2 207.26 234.84 205.86 237.98C204.46 241.11 203.06 244.91 201.9 247.88C200.75 250.85 200.25 253.41 198.93 255.8C197.61 258.19 196.04 261 193.98 262.24C191.92 263.47 188.78 263.64 186.56 263.23C184.33 262.81 182.1 261.66 180.62 259.76C179.13 257.86 178.47 254.31 177.65 251.84C176.82 249.37 176.49 247.22 175.66 244.91C174.84 242.6 173.19 240.62 172.69 237.98C172.2 235.34 172.28 231.46 172.69 229.07Z" fill="#444" opacity="0.5" filter="url(#bl1)"/>
<path d="M179.1 249.7h.7m2.6 10h.7m-1.1-43.3h.7m-4.1 28.9h.7m-2.3-.5h.7m3.6-26.2h.7m-7 10.2h.7m8.6-8.3h.7m-11.8 7.9h.7m6.1 34.1h.7m-6.8-23.6h.7m8.3 22.8h.7m25.9-34.8h.7m-36.5 .2h.7m1.4 15h.7m6.1 28.5h.7m-9-49.5h.7m4.4-.7h.7m1.4-.8h.7m19.8 4.6h.7m-11.7 38.3h.7m3.8 9.5h.7m-3.1-58.1h.7m9.6 34.3h.7m-18.9-28.3h.7m16.2-6.1h.7m-1.5 19.1h.7m-27.8-4.8h.7m29.4 17.7h.7m-14.7 18.7h.7m-15.8 1.6h.7m25.3-28h.7m-29.6 3.4h.7m28.5-28.2h.7m-3.1-1.9h.7m-23.9 27.1h.7m-2.3-.9h.7m7.5-16.7h.7m21.2-3.3h.7m-9.1 49.6h.7m-5.1-4.3h.7m-12.5-13h.7m18.8-36.5h.7m-3.4 41.5h.7m-9.6 5.9h.7m13.7-47.3h.7m-21 7.8h.7m-9.2 12.2h.7m7.9 41.7h.7m-1.9-18.5h.7m13.4 4.3h.7m-17.2-1.6h.7m-3.3-41.2h.7m17.6 41.5h.7m-5.2 4.2h.7m-8.8-41.7h.7m-5.3 21.1h.7m6.2 18.2h.7m2.1 .5h.7m2.3-44.6h.7m11.3 18.6h.7m-27-9.1h.7m-2 .7h.7m-1 3.5h.7m14.9 29.1h.7m12.2-39.1h.7m-3.5 27.7h.7m-29.4-21.6h.7m34-16.9h.7m-29.6 30.6h.7m4.1 18.4h.7m-7.2-35.8h.7m26.6-10.4h.7m-7.6 3h.7m-1.1 47.1h.7m3.6-18h.7m-17.5 13h.7m15.1-1h.7m-23.1-15.8h.7m30-11.2h.7m-9.6 28.7h.7m3.6-28.6h.7m-27.3-2.8h.7m30.3-12.2h.7m-17.9 49.6h.7m.5-3.8h.7m6.4-45.7h.7m-12.8 45.5h.7m-14-23.7h.7m8.6-15.8h.7m14.5 34.5h.7m20.6 3.5h.7m-17.3-17.6h.7m-10-27.2h.7m-2.5 52.3h.7m15-46.3h.7m-18.9-4.3h.7m-20.5 20.9h.7m5.6-13.7h.7m1.4 34h.7m26.4-43.1h.7m-9.4 44h.7m7.5-30.2h.7m-24.6-4.1h.7m23.5 16.6h.7m-30-14.8h.7m-2.8 2.9h.7m32.6-10.8h.7m-33.4 22.7h.7m8.2-20h.7m6.5-6.3h.7m.4 3.6h.7m-4.2 1h.7m11.4 37.5h.7m-14.5-38.9h.7m-5.7-1.3h.7m-2 7.3h.7m-3.5 3.1h.7m23.6-12.7h.7m-23 11.5h.7m9-7.6h.7m23.3-15.9h.7m-27.8 58.9h.7m3.4-44.4h.7m6.3 40.2h.7m6.6-25.4h.7m4.7 3.1h.7m-34.6-4.5h.7m15.7 40.4h.7m10.2-29.2h.7m-14-23.7h.7m20.6 24.6h.7m-5.2-12.1h.7m-31.8-2.7h.7m24.1-12.1h.7m-30.1 30.3h.7m31.1-30.8h.7m1.5 19.6h.7m-21.1 24.2h.7m15.2-3.5h.7m-24.6-27.7h.7m25.4 19.9h.7m-3 6.9h.7m6-29.4h.7m-32.5 9.9h.7m29.9 1.1h.7m-26.3 10.3h.7m6.2 18.8h.7m18-22.7h.7m-11.1-25.6h.7m5.8 34.3h.7m-27.7-18.6h.7m6.4 18.8h.7m24.5-35.3h.7m-1.6 27.7h.7m-36.4-21.5h.7m35.4 2.4h.7m-30.9 4.2h.7m33.9-18h.7m-11 3.6h.7m-14.5 46.4h.7m16.1-12.8h.7m.2-29.7h.7m-12.8 47.4h.7m-6.6-6.1h.7m-11.3-16.5h.7m17.1 18.8h.7m-3.9-45.2h.7m6.7 .3h.7m-2.6 40.9h.7m-20.6-23.3h.7m6.5 21h.7m5.1-39.4h.7m-12.2 10.4h.7m-2.2 6.4h.7m32 5.8h.7m-32 11h.7m29.5-17.9h.7m-30.6-8.2h.7m26.5-6.8h.7m-33.9 15.2h.7m16.7 46.2h.7m13.9-42.1h.7m-17.4 28.3h.7m1.6-45.7h.7m3.8 43.4h.7m-6.7-57.8h.7m-10 44.7h.7m2.4 3.5h.7m22.1-26.9h.7m-9.7-15.4h.7m9 17.8h.7m-4.6 25.5h.7m-23.7-8.1h.7m3.9-22.9h.7m17.2-7.1h.7m-13.4 2.9h.7m16.7-1.4h.7m-.5 4.7h.7m-22.9 33.5h.7m20.2-22.1h.7m-26.7-10.1h.7m-5.3 10.8h.7m11.1-13.7h.7m-10.3 15.7h.7m29-1.1h.7m-19.3 29h.7m-19-38h.7m35.2-7.7h.7m.9 21.5h.7m-12.7 24.5h.7m12.1 14.3h.7m-9.3-16.3h.7m-16.5-43.7h.7m4 44.8h.7m-6.2-11.5h.7m22.6-10.7h.7m-6 13.6h.7m-15.3 5h.7m18.4-12.8h.7m-34.7-9.6h.7m15.2-16.9h.7m-5.8 29.6h.7m22.4-20.9h.7m-28.7 7h.7m11.2-21.5h.7m-8.8 39h.7m3.5 5.7h.7m-10.6-31.1h.7m30 1.8h.7m-28.7-2.7h.7m9.5-7.9h.7m22.6-15.1h.7m-17.8 14.2h.7m8.1 27.3h.7m.8-12.3h.7m.3-1.8h.7m-35.2 4.7h.7m15.7 27.4h.7m-2.9-44.5h.7m25.2-7.1h.7m-7.4 2.2h.7m-2.5 30h.7m-2.4-28.6h.7m-20.5 33.3h.7m19.4 6.3h.7m-26-15.5h.7m28.3-8.8h.7m-5.6 32.4h.7m-23.8-28.2h.7m2.4 13.2h.7m1.6 7.1h.7m11.2-37.7h.7m4.2 38.7h.7m7.8-47.8h.7m-2.9 7.2h.7m-23.6 41.6h.7m29.9-29.6h.7m-32.5-5.7h.7m35.5 10.2h.7m-27.3 30.3h.7m-10-9.2h.7m.2 3.5h.7m-3.8-15.9h.7m16.6 23.4h.7m-14.5-12.2h.7m-6.2 5.4h.7m41.2-23.4h.7m-9.4-13.1h.7m-8.6 35.6h.7m-7.4 4.8h.7m-23.4-24.8h.7m7.6 28.6h.7m-1.9-22h.7m9.2 20h.7m7.7-6.5h.7m9.9 12.2h.7m-38.5-37.9h.7m22-15.6h.7m14.7 23.6h.7m-9.7-23.2h.7m-13.9 43.5h.7m21.2-44.8h.7m-25.8 7.2h.7m-7 19.5h.7m21.4 14.3h.7m-12-36.6h.7m-4.5 2.6h.7m-5.1-5.7h.7m21 34.5h.7m-22.6-1.8h.7m1.3 11.7h.7m21.7-42.5h.7m-28 25.7h.7m32.1-12.2h.7m-31.4 12.1h.7m.5 8.4h.7m23.8-19.5h.7m-1 12h.7m-24.6-19.2h.7m23.8 14.5h.7m-32.2-14.4h.7m20.3 48.6h.7m1.7-60.5h.7m5.2 40.1h.7m-25.5-6.9h.7m9.7 15h.7m-8.5-38.3h.7m19.4 33.8h.7m3.9-25.8h.7m-16.9 30.9h.7m-14.3-31.7h.7m26.7-17.3h.7m3.8 21.3h.7m-2.1 2h.7m-13.7-23.5h.7m11.8 .7h.7m-26.3 7.9h.7m33.6 5.6h.7m-10.9 19h.7m-29.6-4.8h.7m39.5-4.1h.7m-44.4-.3h.7m30.5 5.6h.7m.5 10.9h.7m2.2-33.2h.7m-32.7 5.9h.7m25.6-11.1h.7m4.1 5.5h.7m-1.7-9.2h.7m-28.2 27.1h.7m30.7-11.4h.7m-19.4 35.8h.7m-8.2-43.5h.7m-.5 37.9h.7m-2.5-32.9h.7m-7.7 1.6h.7m22.6-10.1h.7m14.9 6h.7m-39.3 5h.7m28 22.8h.7m-23.7-25.8h.7m-4.2 5.4h.7m2.9 26.8h.7m-2.1-12h.7m-3.2-19.4h.7m7.6 33.1h.7m-8.3-11.6h.7m1.3-4.1h.7m-.1-21.1h.7m-5.6 6.4h.7m8.7 34.9h.7m19.5-32.3h.7m3.4-.2h.7m-31.9-2h.7m-1.7 11.7h.7m6.9-20.8h.7m20.6-7.5h.7m-26.6 35h.7m-7.1-16.2h.7m12.9-10.1h.7m12.2 39.4h.7m-23.7-31.6h.7m-.6 7.2h.7m23.7 14.8h.7m4.2-14.7h.7m-11.3-17.6h.7m11.7 15.4h.7m-37.9-7h.7m31.6-10.2h.7m.5 30.7h.7m0-21.3h.7m-18.2 40.5h.7m-14.4-44.6h.7m14.3 42.6h.7m-.2-49.2h.7m-9.1 56.5h.7m22.1-57.7h.7m-3.7 38.1h.7m3.6-4.9h.7m-1.4-8.8h.7m-8.6 23.5h.7m-23.3-32.4h.7m9.3-10.3h.7m26.3-4.7h.7m-18.7-3.7h.7m-14.1 31.6h.7m8.4 19.2h.7m15-45.7h.7m-26.5 27.7h.7m28.4-24h.7m-25 45.6h.7m23.1-25h.7m-32.5-8.2h.7m.4 3.5h.7m27.2 14.6h.7m-24.4-.8h.7m16.7 17.8h.7m-5.8 .2h.7m9.5-15h.7m5.8-40h.7m-28.7 33.8h.7m30.8-18h.7m-17.2 37.8h.7m-18-38.4h.7m11.9 41.5h.7m-15.1-30.7h.7m10.3 27.5h.7m14.9-19.8h.7m-9.1 24.2h.7m-21-32.6h.7m31.6-17.9h.7m-27.8 33.7h.7m2.9 3.2h.7m20.9-43.2h.7m-1.2 23.8h.7m-24 10.1h.7m6.7-30.9h.7m15.6 13.6h.7m-29.8 8h.7m25.3-22.1h.7m17.4 41.2h.7m-45.9-23.3h.7m4.8 15.4h.7m-.4-27.1h.7m-4.9 20.5h.7m17.6 21.6h.7m-17.9-43.3h.7m5.9 43.2h.7m-5.2-12.8h.7m11.4 11.5h.7m15-31.1h.7m-2.2-18.7h.7m2.4 24h.7m-10.7 29.7h.7m5.2-33h.7m-25.4-9.9h.7m-5.1 7.2h.7m4.8-10.6h.7m24 1.3h.7m-25.2 33.4h.7m-11.3-29.3h.7m10.3 31.3h.7m17.6 15.1h.7m5.7-19.7h.7m-13.1-33.8h.7m11.1 18.6h.7m-25.9-13.5h.7m9.1-5.9h.7m-21 20.8h.7m38.3-8.2h.7m-8.2 26.3h.7m-4.3-43.7h.7m-21.3 61.4h.7m12.4-59.5h.7m-8.1 40.5h.7m23.1-11.7h.7m-.8 8.6h.7m-15.1-34.2h.7m-4.7 2.3h.7m-8.3 3.7h.7m18 34.5h.7m6.7-45.5h.7m-24.3 42.4h.7m-10.9-25.8h.7m15.7 31.5h.7m7-.5h.7m-2.1-49.1h.7m-18.7 30.1h.7m28.7-13h.7m-24.4 30.3h.7m14.1 5.3h.7m8.7-25.1h.7m-24.8 18.9h.7m11.2-42h.7m10.8 43h.7m-5-4h.7m-28-23.7h.7m28.9-2.7h.7m-23.2 29.2h.7m-8.7-19.1h.7m3.7 5.4h.7m-2-5.9h.7m30.7 27.8h.7m-26.9-43.8h.7m-7.5 20.7h.7m23.2-28.2h.7m-22.4 13.1h.7m10.5 34.9h.7m6.2-.3h.7m14.1-7h.7m-31.1 .2h.7m15.4 2.8h.7m-21.7-26.5h.7m36.3 4h.7m-30.2-14h.7m15.4-10.4h.7m4.5 19.2h.7m-8.3-13.7h.7m-19.5 33.3h.7m16.6 12.8h.7m8.9-41.8h.7m-1.4 14.6h.7m-15.9 26.7h.7m-9.3-10.2h.7m-6.5-20.9h.7m12.7 33.2h.7m.6-45h.7m-18.4 15.3h.7m3.9-7.6h.7m22.9-11.3h.7m-18.9 40.2h.7m-8.6-16.4h.7m10.5 22.7h.7m-9.5-20.3h.7m-2.2-15.2h.7m28.1-12.7h.7m6.4 18.5h.7m-17.2 28.5h.7m-22.3-30.8h.7m31.5-8.3h.7m-15.4 41.1h.7m-5.7-42.1h.7m-3.7 .6h.7m22.5-7.9h.7m-19 6.6h.7m-5.2 35.4h.7m-8.4-20.7h.7m3.7 11.6h.7m-3.7-14.7h.7m13.1 39.7h.7m12.8-24.2h.7m-18.3 15.8h.7m21-33.7h.7m-18.5-10h.7m15.9-1.8h.7m-6.4-1.2h.7m1.2 28.3h.7m-27.2-17.3h.7m5.4 30.5h.7m22.2-41.8h.7m-10.6 43.7h.7m-13.5 .2h.7m1.2 9h.7m-4.5-21.9h.7m-5.4-9.4h.7m16.6 25.7h.7m1.5 3.3h.7m9.1-41.4h.7m1.3-7.4h.7m-13.8 44.4h.7m6.7-46.9h.7m-18.8 40.2h.7m10.2 13.8h.7m-12.4-46h.7m24.4-2.8h.7m-35.6 6h.7m26.3 32.3h.7m-16.6-37.6h.7m20.3 25.2h.7m.1-27.1h.7m-10.6-2.7h.7m-16.5 31.5h.7m15.7 20.5h.7m-15.1-6.7h.7m.7-4.5h.7m-7-28.9h.7m25.6-12.8h.7m2.1 25.8h.7m-13-26.9h.7m-10.8 44.4h.7m1.3 4.8h.7m-2.3-2.7h.7m13.7-5.5h.7m-1.9 3.4h.7m3-4.4h.7m-23.9-12h.7m26.3-19.3h.7m-32.7 7.7h.7m31 17.4h.7m-11.6 14.7h.7m9.9-42.5h.7m4 21h.7m-18.2 23.3h.7m-13.3-8.3h.7m3.2 5h.7m28.8-25.5h.7m-16.4 28.4h.7m-16.9-12.4h.7m12.5 11.8h.7m-22.8-36.6h.7m19.1 36.8h.7m8.3-48.9h.7m-13.9 47h.7m-5.3-8.2h.7m-7.5-23.8h.7m29.7 23.1h.7m-3.6-12.2h.7m-25.3-17.4h.7m4.8 35.5h.7m10.1 8.5h.7m9.6-50.5h.7m-18.7 48.2h.7m4-49h.7m-9.4 40.1h.7m15.3-41h.7m-16.7 38.9h.7m14.7-38.5h.7m.8 41.4h.7m4.2 8.6h.7m-2.5-14.1h.7m-9.2-38.2h.7m-4.4 4.5h.7m13.4 25.2h.7m-30.5-14.7h.7m2 29.3h.7m-8.1-32.1h.7m5 8.3h.7m9.1-14.1h.7m-1.8 43.1h.7m21.8-27.8h.7m-39.2-5.4h.7m30.1 23.1h.7m-22.9-5.5h.7m28.6 10.8h.7m-32.1-26.6h.7m16.8-23.3h.7m19.8 24.3h.7m-31.1-14.2h.7m19.2 20.6h.7m-34.6-11h.7m32.2-11.4h.7m-27 10.6h.7m25.2 26.2h.7m-28.2-23.2h.7m37-18.9h.7m1.9 21.7h.7m-39.6 3.6h.7m10.5-17.7h.7m17.2 19h.7m-22.7 22.5h.7m10.7-42h.7m13.2-9.6h.7m-15.1 8.9h.7m-15.8 7.2h.7m4.6 29.3h.7m10.1-36.8h.7m9.3 33.4h.7m-6.2-34.6h.7m7.7 .5h.7m-3.8 17.9h.7m-.5-13.4h.7m1.1 10.1h.7m-29.9 6.1h.7m28.3-16.6h.7m-2.6-4.1h.7m0 7.8h.7m-6.3 37.4h.7m-7.5 .2h.7m-6.4 2.4h.7m12.6-49.9h.7m-23.6 14.1h.7m23.9-13.1h.7m-15.1 3.5h.7m-8.9 3.9h.7m12.4 40.4h.7m8-8.8h.7m-16.8 25.2h.7m6-19.7h.7m11.4-48.3h.7m3.9 16.6h.7m2.8-2.6h.7m-25.9 34.2h.7m26.6-44.7h.7m-22 45.7h.7m8.7-4.7h.7m-22.6-8.4h.7m26.7-46.4h.7m-3.8 18.1h.7m-9.3 40.2h.7m-16.6-16.6h.7m-5.9-12.7h.7m24.8-14.8h.7m-15.6 44h.7m15.8-15.3h.7m-26.8-9.9h.7m5.6 21.2h.7m7.3-42.4h.7m-11.5 30.6h.7m5.8-21.7h.7m6.6 40.4h.7m11.1-47.7h.7m-13.6 46.2h.7m-1.7 10.5h.7m9.5-18.4h.7m2.2-36.7h.7m-24.5 1.6h.7m-3.4 7.8h.7m1.2-7.1h.7m4.2 2.5h.7m21.3 10.7h.7m-29.4-7.4h.7m27.9 11.8h.7m-8.8 23.9h.7m9.5-36.4h.7m-29-3.6h.7m13.6 51h.7m13.4-32h.7m-22.1 23.2h.7m-14.6-36.3h.7m4.2 1.1h.7m6.5-5.6h.7m2.1 38.9h.7m11.9-46.2h.7m-22.8 48h.7m22.2-46.7h.7m3.2 34.6h.7m2-32.4h.7m-8.4 38.7h.7m5.5-41.4h.7m-28.7 29.1h.7m8.9-32.4h.7m-6.7 41.6h.7m1.3 4.6h.7m15.7-1.2h.7m-12.6 11.6h.7m-9.2-23.8h.7m-2.3 12.4h.7m1.2-11h.7m8.7-28.8h.7m16 6.9h.7m-9.6 31.8h.7m-9 7.3h.7m-7.2-8.4h.7m10 12.2h.7m6.9-16h.7m3.7-11.9h.7m-4.8 18.7h.7m-11.6-40.9h.7m-21 10.3h.7m30.2 24.9h.7m-6.8 10.4h.7m-7.9 9.6h.7m-7.9-23.8h.7m2.2 8.8h.7m20.3-37.4h.7m-24.7 25.6h.7m15.6 13.1h.7m3.6-42h.7m-16.8 42.4h.7m15.2-1.1h.7m4.3-39.5h.7m-25.5 37.7h.7m-11.6-25.9h.7m16.2 33.5h.7m26.4-31.3h.7m-6.1-2.3h.7m-8.5 20.7h.7m-21.9-8h.7m5 16.4h.7m-11.5-33h.7m5.1-4.4h.7m25.5-7.1h.7m-11.5 .4h.7m-4 3.5h.7m12.3 2.9h.7m-.6 12.3h.7m-30.9-8.6h.7m24 24.7h.7m-2-34.3h.7m5.6 4.9h.7m-30.2 14.2h.7m1 7.9h.7m22.5-27.4h.7m5.6-16.3h.7m-29.3 52.8h.7m24.8-6.5h.7m5.9-1.8h.7m-33.7 .1h.7m25.5 7.1h.7m-22.8-30.2h.7m27.4 13.1h.7m-13.5-19.4h.7m8.2 19.3h.7m-28.6-9.1h.7m15.1-10.9h.7m12.5 6.6h.7m-27.7 32h.7m-.7-7.8h.7m15.9-26.6h.7m-10.8 44.4h.7m19-2.6h.7m-21.8 7h.7m19.9-43.5h.7m-24 32.4h.7m24.5-8.4h.7m-7.2 6.6h.7m6.5-6.7h.7m-35.5-20.5h.7m4.3-.3h.7m26.5 21.6h.7m-8.2-32.7h.7m-23.4 17.7h.7m-5.4-15.4h.7m30.2-4.7h.7m-24.3 9.1h.7m33.5 26.7h.7m-7.7-25.8h.7m-10.3-9.9h.7m-5.7 55.7h.7m3.9 .8h.7m13.4-38.4h.7m-.6 21.4h.7m-.6-12.5h.7m-.1-9h.7m.5 10.3h.7m-33.6 7.2h.7m-1.7-.6h.7m-1.2-7.6h.7m20.9 18h.7m6.7-31.2h.7m-27.9 17.1h.7m27.9-22.5h.7m-33 11.2h.7m27.6-19.2h.7m0 24.8h.7m-21.4-16.2h.7m21.2 19.3h.7m9.6 25h.7m-13.1-53.6h.7m-6.1 43.5h.7m4-40.9h.7m1.3 32h.7m8.1-11.9h.7m-13.9-19.3h.7m-13.7 52.5h.7m14.1-52.1h.7m-25 21.2h.7m16 23.6h.7m11.4-36.4h.7m-30.7 4.3h.7m18 37.8h.7m-10.1-7.7h.7m-1.7-37.7h.7m12.3-7.2h.7m-6.9 2.9h.7m7.3 38.6h.7m1.1-5.9h.7m-12.4 15.7h.7m-10-18.7h.7m25.5-19.8h.7m-23-14.7h.7m-5 11.2h.7m25.2 7.9h.7m-24.9-6.2h.7m13-7.8h.7m5.2-3.2h.7m.1 2.1h.7m18.9 15.2h.7m-16.7-10.5h.7m-1.9-3h.7m-6.8-2.9h.7m7.2 1.1h.7m-17.2 2.7h.7m10.6-4.8h.7m-20.5 8.5h.7m.1 30.5h.7m12.4 8.1h.7m-27.8-28.9h.7m20.7-12.9h.7m-17.6 33.4h.7m2.2-27.6h.7m33.6-11h.7m-6 1h.7m.2-3.1h.7m-34 24.5h.7m11-20h.7m19.2 21.1h.7m-.7 7.2h.7m-21.2-21.6h.7m28.6-3h.7m-26.4-2.4h.7m4.9-2.5h.7m7.2 42h.7m-24.1-29.8h.7m4.5 42.9h.7m24.2-51.3h.7m-14.8 42h.7m-21.9-30.2h.7m29.3-15.8h.7m-13.1 2.7h.7m6.5 43.4h.7m7.6-41.9h.7m5.5 21.3h.7m-32.3 1.2h.7m-4-14.4h.7m5.4 28.6h.7m9.9-42.9h.7m-18.9 20.3h.7m2.6-11.8h.7m25.3-7.9h.7m-4.7 45.3h.7m-24.6-14.3h.7m31-38h.7m-3.9 49.7h.7m-11.2 6.6h.7m-15.8-36.9h.7m28.9 19.9h.7m-16.9-29.4h.7m5 43.5h.7m2.5-.6h.7m8.5-19h.7m-7.9-38.6h.7m-9.1 62.4h.7m7.2-51.4h.7m-9.4 .8h.7m9.1 35.7h.7m-28.2-19.4h.7m22.9-14.2h.7m-25.3 21.9h.7m10.4 27.1h.7m-1.8-3.3h.7m18.1-46.4h.7m-4.9 .4h.7m-26.8 8.7h.7m31-8h.7m-1.5-4.4h.7m7.9 24.3h.7m-36.3 3.2h.7m-2.4-10.9h.7m.2 16.7h.7m9.5-24.7h.7m-.5 44.6h.7m12.7-50.5h.7m6.2 35.4h.7m-3.5-41.9h.7m-12.3 51.8h.7m11.8-44.4h.7m-8.5 40.6h.7m-2.5 8.7h.7m-16.5-42.3h.7m6.2-2.9h.7m15.5 26.7h.7m1.4-19.4h.7m.6-2.5h.7m-2.3 8h.7m-25.7-10.1h.7m20.9-6.2h.7m2.4-5.8h.7m-4.1 42.2h.7m-18.9 6.6h.7m-1.7 5h.7m27.7-41.5h.7m-3.2 6.7h.7m.6-21.9h.7m-33.3 37.5h.7m18-27.6h.7m-.9 46.2h.7m-3.1-1.3h.7m-5.3 3.2h.7m-7-13.5h.7m-12.5-23.2h.7m28.5 39h.7m.2-52.1h.7m10.3 7.4h.7m-33.4 18.3h.7m17.1 23.1h.7m15.9-66.2h.7m-30.4 58.1h.7m-13.8-3.7h.7m11.7 6.6h.7m13.6 .9h.7m-12.8 9.1h.7m4.3-50.4h.7m1 44.5h.7m11.6-8.1h.7m-18.5 10.3h.7m11.8-2.1h.7m-1.7-1.8h.7m6.8-38h.7m-9-6.1h.7m-21.3 13.1h.7m32.4-11h.7m-28.7 34.4h.7m-1.5-5.6h.7m14 17.5h.7m-18.1-37.1h.7m-1.2-1.5h.7m7.8 39.7h.7m-1.5-50.9h.7m-13.6 8.2h.7m4.3 14.4h.7m23 21.6h.7m-30.9-34.3h.7m7.9 19.6h.7m26.9-26.5h.7m-1.2-5.1h.7m-5.1-1h.7m-20.6 35.6h.7m25.7-5.4h.7m-23.2-22.2h.7m-8.2 5.3h.7m3-2.6h.7m.3 31.2h.7m-4.3-11.4h.7m21.9-28.3h.7m1.2-2.2h.7m2.2 31.3h.7m-5.5-29.5h.7m-24.6 40.5h.7m27.3-8.3h.7m-26.2-26.6h.7m-7.1 8.7h.7m22.1-15.7h.7m-21.8 18.9h.7m2 15.2h.7m30.6 5.1h.7m-9.5-39.3h.7m-23.4 33h.7m26.3-9h.7m0 15.1h.7m5.2 .6h.7m-19.9 10.9h.7m-13.2-42.4h.7m-1.7 28.7h.7m-2.9-13.4h.7m15.1-19.4h.7m-9.7 44.2h.7m20.6-38h.7m-25.4 20.5h.7m14.2 22.2h.7m13.9-14.8h.7m-12.8 14.4h.7m8.1-34.1h.7m-24.1 21.5h.7m11.2 13h.7m-1.7-56.5h.7m11 15.7h.7m-24.1 27.4h.7m-2.5 5.9h.7m8.3 6.3h.7m-11.3-54.6h.7m-1.4 15.5h.7m16.3-8h.7m3.9 34.3h.7m1.5-37.5h.7m-11 49.3h.7m15.7-52.5h.7m-33 23.1h.7m28.9 1.8h.7m-1.2 .8h.7m.3-16.2h.7m-5.9-6.4h.7m-16.1 46h.7m17.3-10.5h.7m-26.6-5.5h.7m-2.2-16.7h.7m27.5 24.1h.7m.5-38.7h.7m-26.7 50h.7m22.4-47.5h.7m-25 10.9h.7m26.4-10.7h.7m-29.5 5.3h.7m1.3 31.7h.7m16.8-37.9h.7m10.8 17.6h.7m-12.6-18.5h.7m-9.2 49.8h.7m-12.6-32.6h.7m14 29.4h.7m15.8-27.5h.7m-1.7-14.7h.7m.1 22h.7m-23.2-26.7h.7m10 48.9h.7m13.5-16.5h.7m-29.8 17.5h.7m-3.3-25.5h.7m25-25.2h.7m-23.9 51.8h.7m8.7-4h.7m-1.7-1.4h.7m6.7 1.8h.7m.6-45.3h.7m8.5 2.4h.7m-25.5 3.7h.7m-6.7 10.2h.7m.9 1.9h.7m6.4-12h.7m20.8-3.3h.7m-23.4 2.6h.7m24.3-7.7h.7m-27.5 9.4h.7m26.3 18.2h.7m-6.8 21.8h.7m-24.8-34.4h.7m15.6-14.6h.7m-1.8 54.4h.7m-15-43.3h.7m-2.2 4.5h.7m23.6-16.6h.7m-32 11.9h.7m5.2 12.7h.7m13.8 35.3h.7m-4.7-57.2h.7m18.3 12h.7m-21.2 29.2h.7m-7.3-16h.7m23.6-27.9h.7m-22.1 44.6h.7m-2.7-7.3h.7m-3.6-5.7h.7m28.9-31.5h.7m-.7 25.9h.7m-5.7 11.9h.7m-2.2 4.8h.7m-8.7 4.3h.7m5.6-43.3h.7m1.1 39.3h.7m-26-22.7h.7m16.5-14.6h.7m-10.8 34h.7m17.7 2.4h.7m-21 9h.7m-4.9-32.5h.7m9 31.6h.7m24.1-12.7h.7m-29.6-30.5h.7m-6.3 32.2h.7m-1.6-20.1h.7m.6-3h.7m23.6-14.7h.7m.1 1.8h.7m-22.7 8.5h.7m29.9 4.8h.7m-6.4-13.9h.7m-24.5 9.5h.7m21.8-14.1h.7m9.1 .4h.7m-36.3 18.5h.7m7.1 28.9h.7m17.3-2.1h.7m-1.3-42.3h.7m-24.4 25h.7m1.6 20.8h.7m4.4-39.4h.7m-3.6 34.5h.7m3.7 9.8h.7m-1.7-5.1h.7m13.4-4.4h.7m-21.8-9.8h.7m-4.6-18h.7m40.6-8.4h.7m-27-.3h.7m-5.7 60.9h.7m1.1-13.6h.7m16.1-53.4h.7m-14.2 6h.7m16 5.5h.7m-2.7 9.8h.7m-16.8-15.5h.7m-.5 43.3h.7m-11-19.3h.7m16.4 18h.7m-7.6-40h.7m13.6-6.9h.7m.9 28.6h.7m-7.6-25.7h.7m-22.3 19h.7m30.3-20.2h.7m-26.1 7.1h.7m-5 20.9h.7m21.6-27.6h.7m4.9 15.9h.7m-2.1-18.1h.7m-14.6 2.4h.7m-1.4 50.4h.7m-7.4-42.7h.7m21.5-9.1h.7m-.8-.8h.7m-25.9 45.1h.7m17.5-42.9h.7m7.5 30.7h.7m-.6-30.8h.7m-25 34.3h.7m.9-30.6h.7m17.6 36h.7m1.3-38h.7m-3.1 31.9h.7m5.8-37.5h.7m-23.6 58.6h.7m16.4-59.5h.7m-19.7 8.7h.7m8-10h.7m11.3 4h.7m.2 18.9h.7m-20.4 31.9h.7m13.1-7.4h.7m-27.3-8.1h.7m.6-22.8h.7m-2.3 18.7h.7m31.1 7.4h.7m-22.9-28.5h.7m22.5-11.5h.7m-.1 27.1h.7m-10.8 21.6h.7m8.2-21.5h.7m-26.3 20h.7m1.6-12.7h.7m29.3-11.5h.7m-7-20.4h.7m-.8 18.6h.7m.3-14.8h.7m-12.4-3.1h.7m-12.7 2.6h.7m15.1-6.4h.7m5.8 16.1h.7m10.4-13.9h.7m-41 16.4h.7m14.9-16.4h.7m-5.8 44.7h.7m-.1 3.2h.7m1.3-.3h.7m15.2-51.1h.7m-17.1 6.9h.7m14.4 31.8h.7m-23.2 5.4h.7m26.7-25h.7m-.1-15.9h.7m-4.3 20.3h.7m-30.2-.6h.7m13.5 34.3h.7m-15.4-27.6h.7m16.6 20.8h.7m-19.3-29.4h.7m3.9 14.4h.7m23 9.3h.7m1.7-4.4h.7m-13.1-38h.7m13.1 6.1h.7m-28.8 14.7h.7m34-1.9h.7m-11.6 24.6h.7m-10.5 8.9h.7m18.6-27.9h.7m-10.7 16.8h.7m7.2-25.7h.7m-35.2 11.3h.7m29.8-1.3h.7m-27.1 20.4h.7m2-12.4h.7m17.8 15.1h.7m-1.1-6.5h.7m-18.9-10.7h.7m5.8-24h.7m-7 23.2h.7m-.2 3.5h.7m-6.9-14.7h.7m-.3 .9h.7m-.1 22.1h.7m23.7 2.9h.7m-28.9-42.8h.7m32.2 7.6h.7m-26.1 20.5h.7m-2.7-21.1h.7m2.6 42.3h.7m19.9-15.5h.7m3.2-11.1h.7m-22.9 37.1h.7m21-17.1h.7m-6.4 12h.7m4.6-56.3h.7m-17.9 5.6h.7m-1.6-3h.7m4.5 .8h.7m4.4-.7h.7m-20.7 12.8h.7m-7.4-5h.7m6 3.9h.7m27.8 3.1h.7m-6.3-19.5h.7m-24.4 27.4h.7m9.2-20h.7m5 42.2h.7m.1 2.4h.7m-13.9-22.9h.7m-2.9-2.9h.7m18.7-24.5h.7m3.3 39.6h.7m-27-26.7h.7m14.6-7.3h.7m15 .7h.7m-2 12.6h.7m-26.8-4.8h.7m27-3.4h.7m-18 35.7h.7m8.5-.6h.7m-7.6 7.5h.7m4.9-5.2h.7m-16.2-10.2h.7m27-37.8h.7m-3.3 7.3h.7m-35.3 21h.7m32.9-4.7h.7m-2.3 15.2h.7m-18.9-32.1h.7m-5.8 29.9h.7m2.5 7.6h.7m5.4 5.4h.7m11.4-16.2h.7m-20.6 1h.7m23.9-16.1h.7m.5-14h.7m-8.4-4h.7m-15.2 45.5h.7m17-16.7h.7m-.7 11.1h.7m-30.9-7.3h.7m28.6-32.8h.7m-4 43.2h.7m8.5-44.7h.7m2.2 42.2h.7m-11.9 1.5h.7m-8.4-39.5h.7m0 49.7h.7m-17.2-32.2h.7m9.8 26.4h.7m-8-37.3h.7m16.1 37.6h.7m4.9-2h.7m-10.8-44.4h.7m-1.1 4.6h.7m9.8 37.5h.7m-13.3-37.2h.7m16.1 .8h.7m-25.7 3.2h.7m24.6 8.5h.7m-22.3 26.1h.7m20.1-42.8h.7m.5-2.8h.7m-29.8 16.1h.7m15.5-9.7h.7m-9 39.9h.7m4.4-39.7h.7m7.1-6.1h.7m-1.4 56.1h.7m-5.4-50.7h.7m-21.4 15h.7m6.3 14.6h.7m-2.4-13.7h.7m23.5 14.8h.7m3.1-14.6h.7m-29.1 4.5h.7m27.5-26.9h.7m-17.7 53.3h.7m.2 6.3h.7m-7.2-16.2h.7m-4.8-14.1h.7m-5-9.6h.7m37.7 17h.7m-29.8-26.1h.7m25.9 23.5h.7m-4.9-30.2h.7m.6 12.7h.7m-5.8-14.9h.7m1.1 35.7h.7m-10.5 13h.7m-11.6-1.6h.7m28.2-39.4h.7m-37.5 8.3h.7m6.9-7.5h.7m-8.5 4.9h.7m6.5 23.5h.7m17.8 7.2h.7m-17.1-36.5h.7m20.9 17.9h.7m-27-15h.7m13.4 43.3h.7m-7-7.6h.7m24.9-6.5h.7m-26.5 9.1h.7m-12.9-30.1h.7m3.5 11.2h.7m6-24.3h.7m-4 36h.7m25.8-35.3h.7m-1.6 25.2h.7m-33.3-3.3h.7m30.4-29.1h.7m-13.5-1.1h.7m8.2 3.8h.7m-20 41.9h.7m.3-36.9h.7m-9.4 5.8h.7m13.1-8.1h.7m-8.6 5.5h.7m2.8 35.2h.7m2.9 4.4h.7m-12.9-34h.7m-1.8 4.9h.7m28.5-1.1h.7m-29.8 4.6h.7m-3-22.2h.7m23.6 42.1h.7m-6.8-39.7h.7m15.1 6.3h.7m-2.5-9h.7m-1 24.4h.7m-8.6 22.9h.7m-6.6 13.6h.7m9-60.2h.7m.1 0h.7m-23.1 8.1h.7m14.9-7.4h.7m5.4 34.1h.7m-20.2 9.6h.7m24.2-50.7h.7m-28.3 29.6h.7m8.9-19.6h.7m-8.1-1h.7m18.5-3.2h.7m-18.9 38.8h.7m-3.7-11.7h.7m13.7-23.9h.7m9.1 56.4h.7m1.1-41.9h.7m.1-5.4h.7m-7 28.9h.7m-18.6-10.5h.7m7.9 22.2h.7m-10.5 10.9h.7m13.1-61.8h.7m-2.4 1.1h.7m19.8-.1h.7m-37.2 18h.7m21.3 21h.7m-14.9 3.6h.7m-.7 2.6h.7m-.1-44.5h.7m.1 .8h.7m-7.4 33.9h.7m19.3 4.8h.7m-19.6-35.7h.7m4.1 37.4h.7m-11.4-24.6h.7m12.1-20.8h.7m9 46h.7m-9.5-44.2h.7m-6.2 6.7h.7m2.5 36.1h.7m-12.1-25.6h.7m37.4-27.5h.7m-31.5 44.9h.7m32.5-2.6h.7m-34.7-26.2h.7m27.5-10.2h.7m-34.8-3.9h.7m3.4 16.1h.7m8.7-7.9h.7m6 44.6h.7m9.1-42.8h.7m-28.4 16.7h.7m-1 2.3h.7m12.1 23.3h.7m6.1 8.5h.7m-9-5.4h.7m13.9-53.5h.7m-19.4 46.6h.7m16.8-4.3h.7m-.4-7.5h.7m-23.2 0h.7m26.6-27.2h.7m-24.7 34.2h.7m21-6.8h.7m4-23.2h.7m-21.7 42h.7m5-48h.7m14.1 42.7h.7m-4.9-28h.7m-16.6 31.9h.7m-8.3-11.3h.7m29.3-24.2h.7m-8.5 23.9h.7m-19 7.4h.7m7.8 3.4h.7m-14-38.4h.7m2.4 38.7h.7m-4.5-11.7h.7m35-30.2h.7m-7.7 32.6h.7m-6.5-8.3h.7m-1.5-28.8h.7m-2.7 41.5h.7m-18.3-34.4h.7m13.2 38.6h.7m-19.8-33.2h.7m0-2.1h.7m-4.7 9.6h.7m.6-3.2h.7m23.2-19h.7m4.6-.6h.7m-11.2 50.9h.7m10.1-3.2h.7m-26.9-22h.7m6.3-21.2h.7m-10 3.2h.7m28.5-8.4h.7m-26.5 12.9h.7m-2.3 13.1h.7m22.8-25.7h.7m7.8 17.2h.7m-6.1 26.9h.7m-28.5-16.7h.7m1.5 .2h.7m-.3 2.5h.7m34.1-5.2h.7m-24.7 24.9h.7m4-45.2h.7m-6.7 42.8h.7m-12.6-30.2h.7m15.9-14.5h.7m-13.1 7.8h.7m22.3 20.6h.7m-13.1 17h.7m-14.7-24.6h.7m-2.9 3.9h.7m32-23.2h.7m-24.5 37.7h.7m3.5-34.8h.7m15.7-3h.7m-7.9 48.6h.7m7.3-31.9h.7m-28.7 7h.7m-2.1-15h.7m11.4 34.3h.7m-11-18.7h.7m25.4-27.1h.7m-8.1 46.2h.7m-16.5-9h.7m23.9-32.8h.7m-4.8-5.1h.7m-20.9 6.4h.7m27.9 11.6h.7m-7.1-16.7h.7m-2.4-.5h.7m.8 1.6h.7m-24.5 48.4h.7m-.9-40.8h.7m2.9 31.6h.7m.4-37.5h.7m10.8 45.3h.7m-16.4-38.8h.7m4.8 37.3h.7m6.2 1h.7m-9.3-3.4h.7m18.8-6.1h.7m2.2-16.2h.7m-25.3 18.5h.7m7.6 5.7h.7m-8.5-4.9h.7m-9-16.8h.7m4.6-14.2h.7m-3.1 11.8h.7m12.5 23.8h.7m-13.4-30.7h.7m4-9.1h.7m-.8 37.8h.7m9.5 3.1h.7m21.4-22.5h.7m-28.9 21.3h.7m20.2-34h.7m-23.2-4.9h.7m27.6 18.3h.7m-11.2-24.1h.7m-25.9 14.2h.7m30.8 14.7h.7m-20.5 19.2h.7m-9.4 .3h.7m-5.2-45.2h.7m27-4.6h.7m-19.1 7.2h.7m3.5 43.3h.7m18.2-46.2h.7m-31.6 22.5h.7m8.6 28.6h.7m-11.1-38.5h.7m31.1-4.6h.7m-20-5.7h.7m14.2 25.2h.7m-26.9-9.3h.7m36.7-14h.7m-16.3-7h.7m-11.7 44.7h.7m-13.9-41.7h.7m32.1-2.2h.7m-30.1 21.1h.7m16.6 28.4h.7m-20.6-25.5h.7m30.3 5.5h.7m-23.2 9.2h.7m-2.2-32.7h.7m-.2 37.1h.7m-2.1-4.7h.7m23.5-8.4h.7m-29.4-4.9h.7m21.2 17.5h.7m2.6-6.3h.7m-8.9-34h.7m-15.3 1.6h.7m9.7 46.2h.7m-11.5-40.5h.7m5.5 30.2h.7m-8-20h.7m-1.8-12.1h.7m28.6 19.6h.7m-31-8.7h.7m27 11.8h.7m-23.7-22.7h.7m13.7 37.9h.7m-16.4-2.4h.7m21.9-9.5h.7m-22.9 8h.7m7.3-37.2h.7m10.7 36.9h.7m4.2-44.4h.7m-1.6 40.4h.7m-23.2-27.8h.7m17.6 42h.7m-23-34.9h.7m9.4 29.8h.7m-4.8-39.2h.7m16.7 38.3h.7m5.9-19.3h.7m-23.9-22.7h.7m15.9 44.1h.7m-11.4-2.5h.7m-7.3-11.5h.7m9.2 11.5h.7m-13.9-18.6h.7m3.4 11.4h.7m-6.4-30.5h.7m11 40.7h.7m9.1-5.4h.7m9.4-50.5h.7m-13.4 6.5h.7m-19.1 20.6h.7m26.4-16.3h.7m-4.8 32.7h.7m.3-2.3h.7m-6.9 12.5h.7m10.9-42.8h.7m-7.2-7.3h.7m-22.1 41.8h.7m2.9-2.9h.7m-5.8-23.3h.7m4.6 24.3h.7m-.2-30.1h.7m-1.7 26h.7m21.3-35.5h.7m-6.1 47.1h.7m.5-51.8h.7m-23.4 27.8h.7m3.1-12.3h.7m4.9 37.4h.7m-9.9-12.1h.7m13.9 15h.7m11.5-18.1h.7m-6.3 13h.7m-21.4-17.4h.7m18.3-25.6h.7m1.8 40.2h.7m4.5-34.3h.7m-10.6-4.6h.7m7.4 29.7h.7m1.6-12h.7m-32.2-5.2h.7m29.9-4h.7m-17.1-6.7h.7m16.1-4h.7m-29.4 18.2h.7m-1-1.3h.7m29-15h.7m1.2-6.3h.7m-31.3 23.1h.7m29.1-16.5h.7m-9.1-6.7h.7m8.2 2.4h.7m-16 2.4h.7m1 1.3h.7m-2.1-.2h.7m-15 25.5h.7m24.4 8.8h.7m-.5-37.2h.7m-24 50.3h.7m27-55.5h.7m-30 34.7h.7m30.1-30.8h.7m-32.2 27.8h.7m8.2 20h.7m17-1.2h.7m-25.2-8.5h.7m28.2-25.7h.7m-7.5 27.7h.7m-26.2-12.5h.7m3.7 11.4h.7m-4-30.3h.7m2 26h.7m23.8-28.5h.7m-17 .7h.7m-5.6 43.8h.7m-.9-8.7h.7m-6.7-25.7h.7m5.9-6.1h.7m20.4-4.6h.7m-.5 11.5h.7m-34.2 2.9h.7m15.8 31.6h.7m8.7-5.8h.7m3.8-3.1h.7m-29.7-21.5h.7m2.4-11.6h.7m26.8 11h.7m-3.2-17.4h.7m-24.1 22.8h.7m3.9 15.5h.7m-.5 5.1h.7m-.4-36.8h.7m6.3 41.9h.7m-15.6-25.9h.7m.4-7.6h.7m35.8-31.5h.7m-31.1 52.1h.7m30.3-35h.7m-37.8 24.5h.7m28.4-.8h.7m-28.1 5.3h.7m4.8-25.2h.7m0 41.7h.7m20.2-41.6h.7m-19.2 40.6h.7m-7.7-34.9h.7m-3.8 12.6h.7m11.6-18.4h.7m-7.6 39.7h.7m-9.5-43.2h.7m32.9 38.8h.7m.5-41.4h.7m-32.4 6.7h.7m24.6-11.3h.7m-29.1 8.9h.7m4.7 8.2h.7m7.1 44.3h.7m4.5 2.3h.7m15.2-47.6h.7m-3.2 4.3h.7m-27 12h.7m-2-2.6h.7m28.1-8.3h.7m-29.7 4.7h.7m12.8 25.5h.7m9.4-4.5h.7m22.7-42.8h.7m-38.7 45.4h.7m1.3 4.7h.7m10.3-3.3h.7m4.6-28.4h.7m-21.3 27.4h.7m11.2-45.6h.7m2 .8h.7m22.1 28.6h.7m-47.6-9.4h.7m12 27.5h.7m21.3-38.2h.7m-33 36.5h.7m3-12.1h.7m3 8.8h.7m16.9 4.2h.7m-1-7h.7m4.1-38.2h.7m-.1 0h.7m-32.2 5.4h.7m-1.3 10.6h.7m1.2 1.2h.7m27.6-16.5h.7m-27.8 10.9h.7m17.9 34.1h.7m7.1-46.8h.7m5.5 39.6h.7m-28.5 .4h.7m20.9-38.7h.7m-26.2 6.4h.7m5.6 .3h.7m17.1 21.5h.7m-28.1-11.3h.7m.4 1.4h.7m22.5 22.4h.7m-10.7 6.9h.7m14.3-14.3h.7m.6-26.4h.7m.6 24.8h.7m-2.7-18.5h.7m.1-3h.7m-13.9 36.7h.7m-17.6-32.2h.7m33.7-7.9h.7m-7.9-6.7h.7m-28.9 14.5h.7m27.6-18.6h.7m-17.9 55.6h.7m.7-46.8h.7m-6.7 38.9h.7m-2-14.4h.7m-6.8-6.4h.7m-.8-9.7h.7m28.7 12.5h.7m-27 2.4h.7m8.8 16.1h.7m20.6-49.6h.7m-1.6 38.6h.7m-16.3-30.3h.7m9.9-1.8h.7m-16.2 45h.7m-5.7-37.3h.7m-6.9 15.8h.7m24.6-24.3h.7m-15.4 5.1h.7m-6.8 24.5h.7m27.2 12h.7m-32.5-22.7h.7m20.8 28.7h.7m-19.3-36.6h.7m28.1-15.1h.7m-7.7-.3h.7m-16.8 46.3h.7m21-21.3h.7m-29.6 13.3h.7m24.9 13h.7m-24.3-12.8h.7m12.9-31.7h.7m1.1 46.8h.7m-4 4h.7m19.3-48.8h.7m-34.1 18.7h.7m3.5 22.2h.7m1-.9h.7m23.5-40.3h.7m-7.2 35.4h.7m-14.9-36.8h.7m4.5 50.4h.7m-10-49.8h.7m-9.8 6.4h.7m32.7-2.2h.7m-3.9 40.5h.7m-29.4-44.8h.7m32.2 32.7h.7m-1-25.1h.7m-31.4 24.2h.7m23.9-35.4h.7m-25.2 4.2h.7m16.4-3.8h.7m2.3 41.6h.7m3.2-41.7h.7m-.2 40.8h.7m-26.8-18.3h.7m24.9-22.8h.7m-.9 45.5h.7m-20.7 3.9h.7m.5-11.2h.7m-6.5-20h.7m-1.5-6.4h.7m2.5-.5h.7m-2.5 12h.7m19.5 24h.7m-24.5-41.8h.7m30.6 29.3h.7m-24.4 9.5h.7m3.2-45.3h.7m-10.6 14.9h.7m28.3-14.1h.7m1.2 9.9h.7m-29.7 15.6h.7m22.3 21.5h.7m-25.3-11.9h.7m.9-21.2h.7m-.5 12.7h.7m.3-14.2h.7m18.3-11.6h.7m-9.3 44.6h.7m12.3-5.9h.7m3.7 11.8h.7m-6.4-10.4h.7m-8.2-39.4h.7m2.1 44.1h.7m-9.5 .4h.7m-11.4-23.8h.7m27.8-11.3h.7m-.5-8.7h.7m-29.9 10.9h.7m-.7 5.1h.7m-1.3-1.7h.7m-3.5-3.3h.7m2.7-.3h.7m-3-8.1h.7m19.2 42.2h.7m14.6-31.2h.7m-17 29.6h.7m-7.9 .5h.7m12.7 7.6h.7m6.7-23.8h.7m-23.4 8.2h.7m-9-27.5h.7m9.7 35.6h.7m-8.4-24.1h.7m3.6 13h.7m-2.4-3.4h.7m21.1 6h.7m-33.8-27h.7m5.6 16.8h.7m29.6-1.8h.7m-28.9-.4h.7m3.9 17h.7m22.5-31.6h.7m-7.6 42h.7m-18.3-20.8h.7m24.2-12h.7m-1-21.7h.7m-20 45.7h.7m-8.6-18.7h.7m3-23.4h.7m-7.2 27.5h.7m-.6-17.3h.7m21.2 31.7h.7m-25-6.1h.7m34.9-41.4h.7m-29.7 31.5h.7m21.8-32.9h.7m-24.1 31.1h.7m26.3-27.9h.7m-13.8 5.2h.7m-8.2-1.8h.7m2.2 47.1h.7m2.1-48h.7m-15.1 37.5h.7m16.1-34.5h.7m2.8-2.6h.7m5.6 43.2h.7m-7.5-47.6h.7m7.7 25.4h.7m-2.3 11.8h.7m-15.1-28.3h.7m-1.4 .4h.7m-10.1 2.1h.7m2.6-2.2h.7m25.3-11.9h.7m-5.9 37.8h.7m-14 17.4h.7m8.9-5.3h.7m6.8-32.2h.7m-16.4 37.8h.7m-6.7-3.8h.7m26.8-20.4h.7m-38.5 .2h.7m30.4-27.5h.7m-23.7 8.6h.7m18.2 37.3h.7m3-13.5h.7m-29.5-14h.7m7.1 25.2h.7m4.8 7.7h.7m-6.2-50.1h.7m-4.5 4.6h.7m25 1.2h.7m-26.6 29.5h.7m-6.9-14.4h.7m.8 .9h.7m14.5 29.5h.7m14.3-21.4h.7m-.3-21.7h.7m-31.9 9.4h.7m13.6-13.4h.7m11.8 37h.7m-5 8h.7m-6.2-45.3h.7m5.4 53.7h.7m7.1-47.5h.7m-32.5 4.5h.7m.6 11.1h.7m29.6-25.3h.7m-30.7 16.1h.7m.1 18.8h.7m-3-29h.7m6.3 3.5h.7m11.7 37.2h.7m-5.8 .1h.7m15.6-22.4h.7m3.1 4.9h.7m-2.9-27h.7m-4.6 32.6h.7m-18-27.6h.7m-12.2 13.6h.7m3-6h.7m5.1-6.3h.7m22.9 5.3h.7m-15.5 35.3h.7m15.4-2.9h.7m-33.3-34.9h.7m6.1-3.9h.7m8.1 42.4h.7m-19.7-41.8h.7m24 36.5h.7m-19.6-15.1h.7m9.1 21.9h.7m-3.7-1.7h.7m22.9-24h.7m.7-11.9h.7m-5.4-1.2h.7m-31.1-1.2h.7m4.5 20.4h.7m26.6-13.7h.7m-2.7-5h.7m-12.8 33.8h.7m7.5-9.7h.7m6.3-42.7h.7m-6.8 40.1h.7m-26.6-17.3h.7m28-17.7h.7m-26.6 11.3h.7m-2.9 20.7h.7m6.6 8.7h.7m12.7-39.2h.7m6.9 3.9h.7m7.7-12.7h.7m-42.2 31.1h.7m28 19.5h.7m-17.5-41.4h.7m-6.7 19h.7m.8 6.8h.7m7.3 22.5h.7m-2.9-1h.7m15.4-5.3h.7m-21.6-9.1h.7m26.2-26.9h.7m3.7-2.9h.7m-28.9 1.9h.7m21.2-1.7h.7m-.1 7.4h.7m-3.2-11h.7m-27.6 23.2h.7m29.7-22.5h.7m-21.8 3.8h.7m11.6-3.3h.7m-3.4-2.3h.7m8.7-3.2h.7m.4 35.7h.7m-30-1.4h.7m21.4-29.9h.7m-13.2 4.5h.7m6.3-1.7h.7m10.1 18.1h.7m-20.2 22.2h.7m-6-17.5h.7m-8.8 9.6h.7m11.4 6.6h.7m23.6-11.4h.7m-23-25.2h.7m7.5 45.3h.7m-11.5-42.4h.7m-7.3 31h.7m20.2 11.5h.7m-21-26.8h.7m-2.7-15.8h.7m33.7 16.3h.7m-.4-8.2h.7m-5-19h.7m-25.1 8.9h.7m5.7-4.7h.7m-5.9 30.7h.7m22.4-34h.7m-7.4 45.2h.7m-1.4-41.9h.7m4.3 36h.7m-.4-6.4h.7m-24.4 .8h.7m12.2 13.9h.7m-1.4 12.6h.7m-11.5-49.2h.7m-3.1 .1h.7m33.6 18.3h.7m-2.7-15.4h.7m-6.3-13.7h.7m10.8 3h.7m-11.6 .5h.7m.6 19.8h.7m6.5-9.5h.7m-.5-6.4h.7m-8.7 14.9h.7m-2.1-2.8h.7m11.7-22h.7m-12.7 14.2h.7m.5-8.3h.7m-.1 19.2h.7m-1.8 .5h.7m-1.1-14h.7m3.8 5.7h.7m6.2-13.1h.7m-8.7-5h.7m4.3 10.6h.7m-9.8-1.2h.7m0 7.3h.7m13.2-17.6h.7m-15.4 33.1h.7m17.4-36.5h.7m-17 5.7h.7m1.1 21.2h.7m-3 4.2h.7m-1.6-4.2h.7m-1.1-13h.7m6.1 6.3h.7m-7.6-7.6h.7m3.9-8.8h.7m-1.4 22.3h.7m-4.5-9.5h.7m0-.5h.7m7.3 7.9h.7m-.9-9.4h.7m-7.7 17.3h.7m-3.8 10.1h.7m.4-14.8h.7m10.6-13.4h.7m-11.4-2.9h.7m14.9-2.1h.7m-18.7 15.2h.7m2.1-15.4h.7m6.9 11h.7m3.6-11.3h.7m-11.9 3.5h.7m0 19.4h.7m-3.7-22.6h.7m12.9-2.9h.7m-5.5 12.2h.7m-1.8 4.2h.7m-6.1 3.3h.7m-3.1-.4h.7m3.1 4.3h.7m-.9 2.1h.7m3.9-6.4h.7m-1.7-17.8h.7m-.4 19.6h.7m-2.1-19.6h.7m2.1 15.1h.7m6.3-15.5h.7m-13.6 22.7h.7m2.8-3.8h.7m-6.6 .3h.7m4.1 1h.7m2.6-18h.7m1.5-1.7h.7m-.7 5.7h.7m3.4-9.2h.7m-6.5 4.6h.7m-7.4 5.2h.7m-4.1 13.1h.7m3.3 3.3h.7m2.4-21.2h.7m8.7-4.6h.7m-4.8 4.2h.7m.2 1.8h.7m7.4 2.2h.7m-19.8 14.6h.7m-.2 3.3h.7m3.1-21.1h.7m-5.1 5.5h.7m1-5.2h.7m-5.1-.7h.7m2.2 22.2h.7m5.6-26.2h.7m-6.3 24.1h.7m.1 1.4h.7m-2.2 6.9h.7m8.4-25.3h.7m-7.7 18.7h.7m5.2-5.9h.7m1.1-22.6h.7m-9.1 28.4h.7m9.3-19.8h.7m-10.6-1.3h.7m-.6 21.8h.7m1.1 1h.7m-1.5-22.9h.7m1.7 14.3h.7m2.6-21.5h.7m-4.3 23.2h.7m2.3-4.8h.7m-8.1 6.1h.7m6.8-7h.7m.1-10.7h.7m-12.5 2.9h.7m10.2-3.2h.7m-2.3 14.3h.7m-3.4 4.6h.7m-3.4-1.5h.7m-.5 .2h.7m4-21h.7m-2.5 19.8h.7m-4.4-11.6h.7m1.6 16.1h.7m-2.2 1.9h.7m5.6-24.8h.7m-8 2.7h.7m-1.5 20.3h.7m.1-13.2h.7m10.5-2.3h.7m-7.2 9.9h.7m-4.9-2.9h.7m6.5-4.7h.7m2.5-4.6h.7m-5.4-3.9h.7m-9.8 37h.7m4-37.3h.7m-4.3 24.9h.7m1.7-25.6h.7m7.6 12.5h.7m-9.1 12.5h.7m4.3-8.3h.7m-3 4.3h.7m6.1-18.9h.7m.7-3h.7m-11.9 29.7h.7m8.3-14.1h.7m-10.7-3.6h.7m1.2-11h.7m-2.4 17.2h.7m14.8-24.3h.7m-7 7.9h.7m-8.3 1.1h.7m-1.5 25.4h.7m4.1-7.5h.7m6.4-15.6h.7m-10.1 17.4h.7m-.5-19.2h.7m1.3 14.5h.7m1.6-.3h.7m7.6-21.5h.7m-10.2 21.9h.7m-2.9 1.9h.7m-1.6 3.8h.7m8.2-21.4h.7m-.6-.1h.7m-11.7 23.3h.7m3.1-24.1h.7m7.5 1h.7m-2.3-6.3h.7m-13.2 20.4h.7m5.5-15h.7m5.6 18.1h.7m-4.2-19.4h.7m-8 25.6h.7m1.5-1.5h.7m-.6-2.6h.7m.7-19.2h.7m5.8-3h.7m-9.8 24.8h.7m-.6 1.2h.7m4.3-8h.7m-6 11h.7m8.4-20.5h.7m-8.5 13.9h.7m7.9 2.4h.7m-11.2 5.2h.7m3.5-27.6h.7m-.3 .7h.7m5.5 2h.7m2.3 1.3h.7m-15.2 12.7h.7m10.6-16.5h.7m-11.8 23.7h.7m1.6-2.5h.7m6-20.3h.7m-7.8 29h.7m-3.4-14.9h.7m2.1 6.1h.7m-2.1 4.5h.7m12.5-26.4h.7m-12.3 23.1h.7m5.9-13.4h.7m1.5-7.2h.7m-6.5-3h.7m-.9 1.4h.7m-2.6 2.3h.7m6.9-6.9h.7m-2.3 9.7h.7m0 1.3h.7m-6.4-6.5h.7m1 .1h.7m3.9 .2h.7m-8.7 20.9h.7m4.2-21h.7m2.5 2.5h.7m-9.3 19h.7m-2.3-10.3h.7m6.2 3.5h.7m-11-2.4h.7m11-14.1h.7m2.5 1.1h.7m1-.1h.7m-10.6 22.8h.7m7-22.3h.7m-24.3 39h.7m19.9-38.7h.7m-4.4 17.6h.7m10 .6h.7m-4.5-17.3h.7m-7 .1h.7m.8 15.5h.7m-6.8-13.4h.7m4.9 10.9h.7m-1.2 3.5h.7m5.6-22.5h.7m-12.5 21.8h.7m2.3 4.3h.7m-2.2-22.1h.7m-1.7 24.5h.7m9.5-14.2h.7m-1.7-11.8h.7m.7 1.1h.7m-7.7 .9h.7m2.1-1.7h.7m-8.2 10.7h.7m1.4 12h.7m-.4 .8h.7m-3.2-7.9h.7m-.1-6.6h.7m-.4 18.3h.7m-1.2 .8h.7m8.3-18.2h.7m-7.3-7h.7m-4.4 10.2h.7m-3.6 6.2h.7m6.3-17.4h.7m1.4 21.2h.7m-5.2-15.1h.7m1.1 14.7h.7m-.5-.5h.7m4-8.3h.7m-5.7 10.7h.7m8.6-18.5h.7m-12.4 9.3h.7m-1.3 13.6h.7m.1-2.9h.7m-2.8-1.9h.7m5.8-23.5h.7m.2 14.8h.7m-8.4-1.7h.7m3.8 12.8h.7m6.8-18.9h.7m1.5-5.6h.7m-6.7 13.3h.7m6-13.2h.7m-13.5 10.9h.7m7.5 3.7h.7m-9.1-.6h.7m0-13.2h.7m7.5-2.2h.7m-9 2.9h.7m8.6-4.5h.7m-9.6 22.7h.7m9.2-18.5h.7m-7.5 20.3h.7m-2.6 0h.7m7.9-21h.7m-12 26.2h.7m2.7-.9h.7m7.3-23.5h.7m5.6-7.4h.7m-10.2 17.9h.7m-2-12.4h.7m-3.5 20.9h.7m-4.4-20.2h.7m1.3 .5h.7m-4.2 19.5h.7m6.8-6.7h.7m1.7-5.1h.7m-14 20.8h.7m9.7-29.8h.7m-4.6 16.8h.7m8.5-17h.7m-7.4-.5h.7m-.9 1.3h.7m-3.3 15.1h.7m5-2.8h.7m-9.5-7.9h.7m10.4-6.2h.7m-8.6-.2h.7m-.2 2h.7m9.6-4.5h.7m-16.3 15.4h.7m5.8 8.6h.7m3.1-3.7h.7m2.3-2.7h.7m-2.9-13.6h.7m-3.7 18.9h.7m5.2-4.2h.7m-9.2 7.3h.7m-1.9-.2h.7m-2.2 2.4h.7m.3-14.7h.7m7.5-2.4h.7m.5-9.2h.7m-6 19.4h.7m-1.6 2.5h.7m-2.4 3.8h.7m13.8-27.4h.7m-4.8 1.2h.7m-10.8 24.2h.7m10.8-22.1h.7m-16.3 5.6h.7m9.8 2.8h.7m-6.5 13.2h.7m-1.7-20.6h.7m3.9-.9h.7m-6.6 17.9h.7m8.1-17.3h.7m-8.1 23.6h.7m8.7-23.9h.7m-13.6 33.2h.7m11-32.7h.7m-4.1 11.7h.7m-4.6 8.6h.7m6.1-12.7h.7m2.3-14.6h.7m-9 7h.7m-5.2 18.7h.7m.3-2.5h.7m7.5-7h.7m-2.4 5.7h.7m-4.9 9.1h.7m7-21.5h.7m-13.6-7.2h.7m10.1 14.5h.7m2.8-17h.7m-15.1 11.8h.7m7.3-4.6h.7m-9.5 23.2h.7m3.3 .3h.7m-1-22.1h.7m-.3 24.2h.7m-2-.4h.7m1.6-.6h.7m-2.5-16h.7m10.8-2.2h.7m1.7-11.6h.7m-15 13.5h.7m-1.2 23.5h.7m3.4-11.4h.7m-1.1 3.2h.7m-2.9-2.2h.7m6.9-25.3h.7m-6.6 5.1h.7m5.1 5.5h.7m-7.5-7.1h.7m9.1-.7h.7m-8 .2h.7m-6.5 24.9h.7m4.8-22.8h.7m-.7-.4h.7m-.2 16h.7m.5-20.6h.7m-.8 18.6h.7m-6.1-5.6h.7m7-.7h.7m1.1 0h.7m.7-10.6h.7m-1 .1h.7m-7 21.1h.7m-3.5 6.5h.7m12.4-27.5h.7m-4.8 5.9h.7m1.1-5.6h.7m-11.3 11.8h.7m8.1-7.6h.7m-3.8 11.3h.7m-2.1 5h.7m-5.3 1.5h.7m-4.5-18.1h.7m13.5 4.8h.7m-.8-6.5h.7m-11.1 5h.7m10.8-.3h.7m-10.5-5h.7m.2 18.4h.7m-5.2-1.4h.7m5.5-1h.7m2.3-4.7h.7m6.4-11.4h.7m-10.8 16.5h.7m7.2-6.8h.7m-9.9 7.5h.7m-4.6-3.4h.7m11-12.9h.7m-2.6-4.8h.7m-9.7 25h.7m7-5.1h.7m3.2-15.3h.7m-16.9 4.4h.7m15.5-5.4h.7m-20.8 33.1h.7m16.9-35.3h.7m-3.3-1.1h.7m3.5 2.1h.7m-16.4 27.1h.7m5-1.6h.7m5.8-24.6h.7m10 1.2h.7m-15.9-.6h.7m6.6 12.2h.7m-3.1-11.8h.7m-2.4 12.1h.7m-1.8-14.3h.7m-7.5 22.9h.7m-2.8-.2h.7m5-22.6h.7m2.8 16.6h.7m-5 6.5h.7m10.6-25.1h.7m-5.5 14.4h.7m-7.7 17.9h.7m-3-18.6h.7m4-10.2h.7m-.3 17.2h.7m8.7-19.5h.7m-6 13.1h.7m-10.3-13.6h.7m9.1 10.3h.7m-11.3-9.9h.7m11.8 7.3h.7m-12.4 2.6h.7m8-8.2h.7m-5.2 22.1h.7m-9.3-9.5h.7m5.5-3.9h.7m2.9-7.9h.7m-3 23.2h.7m5-26.9h.7m-4.7 24.7h.7m14.1-31.3h.7m-17.3 29.6h.7m-4-17.5h.7m14.1 1.7h.7m-12.3 18.4h.7m1-24.4h.7m2.5 22.3h.7m1.3-20h.7m-7.6 18.7h.7m3.1-4.1h.7m2.2-14.7h.7m-2.8 .3h.7m4.4 2h.7m-7 18.3h.7m-6.5-7.4h.7m4.7-14.3h.7m.2 15.1h.7m4.9-12.2h.7m-5.5 17.4h.7m3.6-10.8h.7m-3.1 3.3h.7m.5-4.8h.7m-2-6.9h.7m-6.6 28.6h.7m-1.8-5.4h.7m4.4-9.6h.7m-6-13.9h.7m9.8-1.6h.7m-7.3 1.3h.7m5.6 3.4h.7m-10.3 17.3h.7m6-12.2h.7m-1.1 3.7h.7m4.6-13.2h.7m-12.8 27.6h.7m-.9-7.6h.7m9.9-25.1h.7m-8.2 7.8h.7m8.4-3.3h.7m-12.9 27.5h.7m-1-1.9h.7m2.4-4.9h.7m-1.9 7.4h.7m6.3-20.8h.7m-38.3 6.1h.7m-2.6 1.9h.7m4.8 26.3h.7m39-.7h.7m-15.9-38.4h.7m6.1 4.5h.7m-3 26.5h.7m-16.7-40.4h.7m5.6 55.4h.7m-14.5-39.2h.7m18.5 10.3h.7m-28.1 10.3h.7m-7.4-9h.7m36.4 27h.7m-4.8-6.4h.7m-2.9 .4h.7m-1.2-2.4h.7m-13.2 9h.7m3.2 15.7h.7m-4.9-10.8h.7m15.1-53.1h.7m-27.4 8h.7m-3.2 3.2h.7m8.2-3.9h.7m-2.1 29h.7m-.4 3.3h.7m27.7-46.2h.7m-5.2 12.2h.7m-27.4 46.4h.7m39.4-19.7h.7m-12.1-28.5h.7m-38.8 9.9h.7m27.7 36.3h.7m-15-47.4h.7m3.8 58.8h.7m-1.4 3.1h.7m17.5-50.2h.7m-37.7 14h.7m27.9 23.5h.7m-21.7-21h.7m-.7 0h.7m35.2-9.8h.7m-43.5-11.1h.7m35.5-10.8h.7m-30.4 24.1h.7m28.8-13.5h.7m3.5 .6h.7m-15.8 40.1h.7m14.9-24.3h.7m-9-24h.7m-26 11.1h.7m9.8-11.3h.7m20.9 2.3h.7m-16.9 .8h.7m-19.4 27.9h.7m7.2 9.7h.7m26.7-4.1h.7m-37.1-23.9h.7m9.2 34.2h.7m25.6-30.8h.7m-24 45.2h.7m18-63.5h.7m1.4 13.3h.7m-8.9-10.3h.7m-16.9 4h.7m5 40.3h.7m24-10.1h.7m-9.2-42h.7m-31 21.1h.7m13 37.2h.7m21.5-3.6h.7m-8.6-49.1h.7m-28.9 11h.7m.7 3.5h.7m32.5-23.9h.7m-4.8 42.4h.7m-1.2-36.4h.7m-24.5 34h.7m-.8 8.1h.7m-11.6-19h.7m12 34.4h.7m23.1-50.8h.7m-37.9 5.7h.7m12.4 49.2h.7m17.5 2.6h.7m-19.3-20.5h.7m11 14.5h.7m5.8-58.6h.7m9.3 15.9h.7m-5-10.3h.7m-24.9 5.2h.7m19.2-4.6h.7m-19.8 41.6h.7m34.9-24.1h.7m-7-14.8h.7m-41.2 18.5h.7m42.8-14.7h.7m-5.9-12.5h.7m-22.2 50.3h.7m20.1-29.8h.7m-6.9-15.5h.7m7 59.4h.7m-11.2-63.7h.7m-21.3 16.6h.7m1.4 26.9h.7m2.1-30.9h.7m19.8 52.1h.7m-8.8-58.1h.7m6 29.1h.7m-28.1-23.2h.7m26.7-11.3h.7m3.3 54.1h.7m-2.1-49.2h.7m-11.4-7.3h.7m6.5-.4h.7m-1 61.1h.7m13.1 6.2h.7m-2.6-39.3h.7m-16.1-22.6h.7m6.5 21.3h.7m-2.9 16h.7m1.3-36h.7m4 19.4h.7m-5.7 2h.7m-19.4-19.3h.7m14.3 36.4h.7m.2 2.8h.7m1.7-9.5h.7m-12.7-29h.7m-23.5 16.5h.7m27-17.4h.7m4.1-4.3h.7m-5.5 45h.7m19.5-22.4h.7m-30.3 25.9h.7m-15.6-32h.7m38.5-9.4h.7m-13.2 37.3h.7m-19.8 14h.7m18.8-7.1h.7m-16.2-4.6h.7m12.2 6.6h.7m4.7-51.7h.7m-26.6 9.6h.7m28.6-.6h.7m-21.8 41.1h.7m19.9-25.9h.7m-28.7-15.4h.7m61.3-9.3h.7m-37.4 33.6h.7m-25.3-5.3h.7m4.4-21.7h.7m22.6 40h.7m-21-41h.7m1 58.2h.7m-3-16.9h.7m-15.4-26h.7m24.2 27.6h.7m-3.3 3.7h.7m6.8-50.9h.7m-15.9 43.1h.7m3.6-49.2h.7m8.4 4.1h.7m-26.7 14.2h.7m8.7 26.9h.7m-1.5-33.7h.7m-9.1 6.3h.7m38.5-7.1h.7m-24.5 40.7h.7m19.6-11.6h.7m-27.8-3.7h.7m23.7-17.9h.7m-36-2.7h.7m34.3-12.2h.7m-17.4 .4h.7m-1 61.4h.7m-9.8-24.8h.7m-1.8 17.5h.7m7.5-.8h.7m26.5-59.1h.7m-8.2 15.4h.7m-1.2-10.9h.7m-.3 20h.7m-24.9 28.3h.7m21.3-48.3h.7m-27.1 17h.7m16.7-15.7h.7m-15.8 11.8h.7m20 25.8h.7m-22-6.6h.7m10.5-42.6h.7m-14.9 26.6h.7m-7.8 34.3h.7m.8-38.2h.7m28.7-8.8h.7m-4.3 52.6h.7m-19.1-19h.7m11.4 24.5h.7m-4.4-12.1h.7m13.3-2.4h.7m7.3-44.4h.7m-30.3 34.9h.7m-7.6-28h.7m25.9-15h.7m5.2 8.3h.7m.2 5h.7m-15 50h.7m-.5-55.4h.7m12.9 .3h.7m.3 7.4h.7m-6.5 35.7h.7m-19-49.3h.7m-11.1 14.6h.7m30.3 34.4h.7m-20.9-5h.7m21.7-33.6h.7m6.7-8.3h.7m-41.7 47h.7m40.1-21.3h.7m-11.6 27.6h.7m-5.7-1.6h.7m-18.6-34.6h.7m22.8 36.5h.7m9-60h.7m-33.2 49.5h.7m-8.1 7.9h.7m34-5.6h.7m6.9-31.7h.7m-28 51.7h.7m-9.4-35.1h.7m-3.3-6.2h.7m27.5 6.6h.7m4.9-9.5h.7m-2.4-2.8h.7m-18.3 37.4h.7m-17.9-42.5h.7m33.8-6.9h.7m-23.4 49.3h.7m-9.6-39.1h.7m4.3 24.4h.7m17.8-37.3h.7m-26.8 28.3h.7m25.1 13.3h.7m26.4 .8h.7m-41.4-36.2h.7m14.8-3.4h.7m-18 37.9h.7m-2.5-7.2h.7m25.6 .2h.7m-31.8-14.7h.7m35.2-13.7h.7m-11.6 38.4h.7m5.5-36.1h.7m-22.4 43.4h.7m-15.7-41.1h.7m6.1 10.3h.7m-2.1-9.5h.7m29.6 10.9h.7m-29.4-15.2h.7m15-9.1h.7m19.9 12.9h.7m-14.5 31.5h.7m-24.4-27.6h.7m-6.7 14.7h.7m31 7.8h.7m-33.1-18.2h.7m33.4 7.3h.7m-8.6-25.8h.7m-12.3 3.3h.7m7.3 49.4h.7m3.2-51.4h.7m16.5 9.3h.7m-10 20h.7m-17.3 27.1h.7m-10.3-29.2h.7m5.2 17.5h.7m10.5-43h.7m-10.2 2.1h.7m-.1 46h.7m19.2-31.6h.7m11 15.2h.7m-14.4-17.2h.7m-27.7 4.2h.7m-.5 1.3h.7m12.5-18.9h.7m14.2 .3h.7m4.6 18.9h.7m-35.9 4.2h.7m40.2 5.3h.7m-4.4-25.3h.7m-32.8 39.6h.7m-11-36.9h.7m9.5 29.5h.7m25.1-38.6h.7m-28.7 10.7h.7m26.1 11.1h.7m-23.3 18.2h.7m23.9-44.4h.7m-4.6 32.4h.7m0 8.5h.7m-29.2-14h.7m25.2 12h.7m-22.4-2.5h.7m34.3-51.7h.7m-29.4 20.4h.7m3.7 45.9h.7m-2.8 6.3h.7m-6.7-16.5h.7m26.7-43.3h.7m-28.7 68.2h.7m17.7-24.3h.7m-22.2-27.9h.7m-1.8-2.4h.7m-1 40.3h.7m28.8-21.6h.7m-32.6-2.3h.7m11.4-23.6h.7m-13.6 26.4h.7m11.6 24.9h.7m-11.8-38.2h.7m30.1-17.2h.7m-24.1 41.6h.7m30.7-42.7h.7m-3.9 28.5h.7m-6.8-40.5h.7m2.6 17h.7m-25.1 57.4h.7m-5.2-19.3h.7m21.9 .8h.7m2.6-14.8h.7m-31.1 2.2h.7m12.7-23.5h.7m-11.2-3.2h.7m.6 31.6h.7m-7.1-10.5h.7m34.4-14.5h.7m-6.2 30.1h.7m5.1-7.1h.7m1.3 11.7h.7m-33.7-16.4h.7m6.3 25h.7m8.2-47.9h.7m-8.8 2.1h.7m26-17.8h.7m-43.9 52.5h.7m5.9-20.1h.7m.6 9.5h.7m34.5-4.4h.7m-13.8 41.1h.7m5.8-36.4h.7m-11.4-25.1h.7m25.1 5.2h.7m-42.3-22.6h.7m-2.1 38.4h.7m16.4 29.2h.7m-11.6-8h.7m-8.5-14.8h.7m34.2-30.1h.7m-4.3 43.8h.7m-10.1-44.9h.7m5.8 32.7h.7m7-33.9h.7m-15.6 3.5h.7m-21.7 24.6h.7m-4.6-6.5h.7m14.8-21.5h.7m9.3 2.9h.7m6.9 25.9h.7m-26.3 8.2h.7m29-40h.7m-15.4 51.5h.7m-6.9 8.3h.7m-6 6.7h.7m17.5-66.8h.7m-1 46.3h.7m-24.7-52.7h.7m-1.3 36.3h.7m30.9-33.4h.7m-32.6 24.5h.7m3.1 44.6h.7m-3.9-49.2h.7m30.2-7.4h.7m-32.1 17.4h.7m22.3-19.9h.7m-22.6 38.9h.7m30.3 1h.7m-39.4-14.6h.7m37.9-28.5h.7m-39.3 26h.7m13.1-19.1h.7m1.8 .9h.7m1 49.2h.7m30.3-53.6h.7m-36.7-2.8h.7m31.3 26.8h.7m-7.8 11.5h.7m-31.7-10.1h.7m60.2 24.9h.7m-31.1-20.6h.7m-28.7-20.3h.7m12.6-7.6h.7m23.3 39h.7m-9.2-36.1h.7m-25.8 53.1h.7m8.5-5.1h.7m9.4-55.1h.7m-27.1 27.7h.7m-2-4.4h.7m35.3-30.1h.7m-33 33.1h.7m26.7-29.6h.7m11.9 48.1h.7m-13.7-24.4h.7m1.2 29.9h.7m-25.5-8.8h.7m-1.6 8.1h.7m21.8 8.4h.7m-23.6 3.9h.7m3.1-6h.7m-16-47h.7m13.4-2.3h.7m35.4 40.4h.7m-36.8-43.8h.7m31.9 50h.7m-12.2-55.5h.7m-20 54.8h.7m-5.2-49h.7m.3 49.2h.7m28.2-56.2h.7m2.3-13.9h.7m-.4 7.5h.7m-18.3 75.8h.7m6.4-64h.7m8.3 11.3h.7m-33-3.3h.7m-6.1 46.6h.7m25.2-5.9h.7m-24.3-25.6h.7m-6.8 34h.7m41.8-24.3h.7m-7.3-39.1h.7m-5.4 52.1h.7m-5.1 16.1h.7m-18.6-51.5h.7m11.7 38h.7m-13.5-50.9h.7m2.7 5.4h.7m-6.4 8.1h.7m28.7-11.1h.7m-32.9 11.8h.7m12.7 43.2h.7m28.6-22h.7m-41.8-16.8h.7m18.8-14.6h.7m18.1 5.2h.7m-9.3 5.7h.7m1.9 .7h.7m-1.3-2.4h.7m-23.4 33.7h.7m10.9 1.8h.7m-22.5-20.5h.7m1.4-9.2h.7m28.9 35.2h.7m-2.2-51.4h.7m-.4 37.8h.7m-28.7-26.2h.7m6.5 30.6h.7m-2.7-41.1h.7m2.9 2h.7m4.8-12.8h.7m14.3 15.2h.7m-26.6 30.9h.7m36-51.7h.7m-46.4 57.6h.7m28.8-4.6h.7m-26-23.8h.7m25.7-17.3h.7m-15 54.3h.7m-5.4-44.9h.7m21.6-6h.7m-25.2 32.2h.7m19.8-37.1h.7m-14.5 59.7h.7m23.6-40.7h.7m-7.5-16.6h.7m-1.7 37.8h.7m-1.1 4.6h.7m-28.4 10.6h.7m3-8.3h.7m-2.8-33.9h.7m41.4-19.1h.7m-12 42.2h.7m-25.6-26.6h.7m-7.2 7.7h.7m.1 12.7h.7m-5.8-8.9h.7m31.5 4.2h.7m-25.6-19.2h.7m-8.2 19.4h.7m34.2-10.1h.7m-28.3 17.9h.7m28.2-19.1h.7m-36.1 49.4h.7m27.9-16.1h.7m-27.1 16.3h.7m-7.4-23.4h.7m49.6-27.6h.7m-10.2 11.2h.7m-7.9 19.3h.7m-33.1-40.9h.7m13 53.8h.7m-8.3-50h.7m49.9 20.7h.7m-47.4-13h.7m28.1 32.6h.7m-2.7-11.9h.7m-27.4-31.1h.7m-1.3 9h.7m4.6 32.2h.7m30.4 .8h.7m-11.1 3.8h.7m-36.4-46.7h.7m10.4-.4h.7m15.8 57.6h.7m4.4-16.2h.7m-24.1-27.8h.7m27.3-9.3h.7m-19.5 1.5h.7m14.3-4h.7m6.4-4.2h.7m-6.7 2.3h.7m-19.3 59.6h.7m7.2-8.9h.7m-23 8.4h.7m2.1-36.5h.7m39.7-27.8h.7m-21.1-7.5h.7m-22.3 44h.7m17.7 17.3h.7m-17.6-37.1h.7m9.8 32h.7m-1-42h.7m26.4 15.4h.7m-28.3 42.6h.7m-4.9-21.2h.7m-2.7-10.7h.7m21.8-23.9h.7m5.5-9.6h.7m3.5 26.5h.7m-35.4-2.7h.7m1.8 29.6h.7m31.8-21.5h.7m-6.5-1.7h.7m2.1-33.6h.7m-25.8 60.4h.7m-11.2-34.4h.7m32.9-16.8h.7m-8.3 2.2h.7m-23.3 15.8h.7m8.5-10h.7m11.1 40.9h.7m-.2-3.8h.7m-10.2-38.1h.7m34.3 50.5h.7m-40.2-18.4h.7m26.3-23h.7m-34.9 2.3h.7m16.1 37.6h.7m21.7-59.2h.7m-11.1 27.2h.7m-21.8 19h.7m-3.3-11h.7m26-13.5h.7m-15.1 28.6h.7m-7.5-38.8h.7m9.3 48.2h.7m10.1-57.8h.7m-10.7 67.1h.7m9.3-53.4h.7m-23.6-4.8h.7m-8.9 29.7h.7m-1.2-12.4h.7m34.9 4.4h.7m-23.4-22.3h.7m16.6-16h.7m-8.6 64.7h.7m-29.9-42.9h.7m33.7-11h.7m-22.5 .1h.7m30.4-1.2h.7m-7.8 56.6h.7m-34.5 8.2h.7m21-65.3h.7m10.8 24.8h.7m-31.4 2.4h.7m18.1-30.7h.7m6.9 62.2h.7m-6.4-4.1h.7m-18.9-21.7h.7m-.1-1.2h.7m-5.2-14.3h.7m8.2 27.6h.7m33.8 13.9h.7m-34.1-18.8h.7m22.6-23.9h.7m-23.2-11.7h.7m21.4 24.1h.7m-24.3 18.1h.7m-3.3-45.7h.7m-.7 10.2h.7m23.5 31.5h.7m6.2-17.2h.7m-3.6-35.2h.7m-2.4 14.8h.7m-24.8 .1h.7m-7.6 .1h.7m38.4 7.7h.7m-39.7 12.9h.7m36.3-7.6h.7m6.4-26.1h.7m-19.7 3.7h.7m-8.6 4.3h.7m-14.2 41.2h.7m38.2-14.2h.7m-8.4-41h.7m-4.5 27.9h.7m-2 15.1h.7m-9.4 25.6h.7m10-37.4h.7m-2 10.8h.7m-4.7-27.7h.7m-28.9 19.8h.7m38.6 11.1h.7m-29.2 12.5h.7m25.5-21.1h.7m-27.4 27.9h.7m19.2-55.9h.7m-24.4 14.5h.7m-3.8 23.2h.7m-1.8-9.3h.7m29.1-24h.7m-2.5 1.9h.7m-25.1 27.5h.7m-2.5 10.6h.7m26.6 11.4h.7m-19.2 11.1h.7m20.4-22.4h.7m-32.2 1.4h.7m10.3 5.1h.7m18-21.3h.7m-1.9-22.3h.7m-17.7 43.5h.7m17-6.3h.7m-.3 11.2h.7m3.9-44h.7m-27.8 41.6h.7m23.8-26.2h.7m-10.3 23.2h.7m-24.1-33.4h.7m12.8 35h.7m1.8 4.1h.7m21.7-18.5h.7m.6-15.4h.7m-35.9 8.1h.7m-.7 10.2h.7m-4.2-15.9h.7m24 23.9h.7m-22.4-17.3h.7m21.7 15.5h.7m24.1-25.9h.7m-35.3-13h.7m21.4 37.2h.7m2.1-52.6h.7m-11.2 18.6h.7m19.5 24.2h.7m-10.3-45.6h.7m-45.4 53h.7m10.8 26.5h.7m14-62.8h.7m26.3-5.7h.7m-42.2 5.1h.7m-4.1 48h.7m3.9-4.8h.7m-.2 14.9h.7m20.8-36.7h.7m-9.7-19h.7m11.6-5.5h.7m-23.6 57h.7m1-5.1h.7m-12.8-20.1h.7m25.9-26.8h.7m8.9-1.8h.7m-6.9 2.5h.7m13 4.5h.7m-31.1-1.4h.7m15.9 19.5h.7m-21.4-18.7h.7m14.8-6h.7m0 0h.7m-17.8 41.3h.7m21.9-38.1h.7m-28.7 44.7h.7m5.6-5.4h.7m28-33.4h.7m-35.2 28.4h.7m-6.6-6.4h.7m29.1 2.3h.7m3.8-30.6h.7m1.8 .2h.7m-29 29.6h.7m-8.8-11.5h.7m33.2 39.7h.7m-33.6-43h.7m31.2-14.3h.7m-2.4 33.6h.7m-19.4-30.8h.7m-8.2 19h.7m14.9 39.2h.7m2.7-20h.7m6.9-36.4h.7m-6.1-7.7h.7m-18.8 1.4h.7m22.2 20.6h.7m5.5 35h.7m-38.5-43.6h.7m46.4 34.3h.7m-18.3-17h.7m-14.7 26.6h.7m-7.8-4h.7m26.6-20h.7m-3.7-42.5h.7m-2.9 55.2h.7m1.1-37.5h.7m-28.7 13.9h.7m26.8-5.3h.7m-5.9 38.4h.7m5.2-17.3h.7m-18.8 16.8h.7m24.3-56.8h.7m-16.8 4.1h.7m-17.1 30.4h.7m1.6-29.4h.7m20.9 36.8h.7m-28.5-25.8h.7m26.1 17.3h.7m1.1 10h.7m-27.3-32.4h.7m17.4 45.4h.7m-18.5 5.2h.7m9.1 3.2h.7m21.2-8.4h.7m-26.9-50.1h.7m9.5-1.8h.7m11.9 5.2h.7m-1.3-13.8h.7m-26.7 52.8h.7m-.5 6.6h.7m-.9-44.7h.7m24.2 21.9h.7m-24.8-29.3h.7m24.5 2.3h.7m-7.2 35.7h.7m-11 10.5h.7m14.3-18h.7m-2.2 3.1h.7m-8.2 11.9h.7m-19.7-32.4h.7m47.1 19.1h.7m-26.7 21.4h.7m6-42.2h.7m-27.4-6.3h.7m1.1 26.5h.7m12.7 18.3h.7m-18.3-30.7h.7m29.2-35.6h.7m15.5 20.9h.7m-22.7-7h.7m-7.4-1.1h.7m-11.4 44.6h.7m-3.8-3.1h.7m22.3-40.8h.7m-31.5 9.9h.7m37.1 12.2h.7m3.1-8.3h.7m-36.5-7.6h.7m5.7 47.7h.7m-7.3-38.3h.7m29.4 12h.7m-35-5.1h.7m14.1 28.4h.7m25.6 3.4h.7m-12.2 .8h.7m-22.1 0h.7m32.8-56.7h.7m-38.2 43.1h.7m22.5-43.8h.7m-.1 3.9h.7m-9.4 51.4h.7m-16.3-24.2h.7m20.3 20.5h.7m13.2-22.7h.7m-21.8-21.3h.7m1.2 56.9h.7m8.4-16h.7m-14 3.9h.7m6.5 7.6h.7m-24.5-44.4h.7m28.2 30.2h.7m8.1-13.8h.7m-18.2-26.1h.7m7.6-4.4h.7m-27.5 34.4h.7m22.5 16.6h.7m12.5-38.5h.7m-31.2 25.2h.7m23.7 10.9h.7m-1.5-4.8h.7m1.2-48.3h.7m-10 52h.7m12.1-27.1h.7m8-.9h.7m-29.1 29.4h.7m.8 4.6h.7m-19.8-38.2h.7m32-17.2h.7m-23.7 13.9h.7m36.7-12.6h.7m-20.9 1.4h.7m12 58.5h.7m-3.5-53.8h.7m-22.5 52.9h.7m-11.2-44.2h.7m10.4-6.3h.7m-5.6-11.4h.7m-11.6 54h.7m6.4-6.7h.7m26.6-5.7h.7m-13.5 10.6h.7m-4.1-43.1h.7m2.2-1.3h.7m29.6 27.6h.7m-51-15.4h.7m8.1 38.8h.7m46.9-5.2h.7m-51.2-17.9h.7m16.9-26.5h.7m6.5 28.6h.7m-22.6-22.5h.7m32.9-2.4h.7m-9.3-12.7h.7m-12.6 9.2h.7m-11.1 33.9h.7m20.7-18.5h.7m0-15.8h.7m-5.6 35.7h.7m-10.5 8.1h.7m-3.4 9.3h.7m9.4-6h.7m-24.5-20.8h.7m17.2 15.3h.7m19.3 20h.7m-33.7-53.4h.7m-1 17.2h.7m-8.4-16.8h.7m41.6-2.1h.7m-17.7-8.7h.7m-19.8 40.6h.7m2-3.5h.7m28.2-35h.7m-27.2 28.9h.7m-8.4-16.3h.7m30.1 1.4h.7m34.1 35.9h.7m-62.5-39.6h.7m28 15h.7m-12.6-27h.7m10 43.3h.7m-25.9-38.4h.7m-5 4.9h.7m28.6-2h.7m15.2 16.5h.7m-33.4 28.8h.7m9.3-53.2h.7m2.5 30h.7m-21.1-45.5h.7m25.1 30.8h.7m13.5-4.1h.7m-15 11.1h.7m-30.1-14.7h.7m17.7 39.1h.7m6.2 13.4h.7m-4.9-61.1h.7m-25 7.8h.7m27.8 18.9h.7m-13.1-24.5h.7m18.7-10h.7m-33.8 9.6h.7m-6.7 19.2h.7m6.2 3.2h.7m17.5-28.4h.7m0 68.5h.7m3.4-30.3h.7m5 5.9h.7m-2.1-35.8h.7m1.9 6.8h.7m-27.7-7.2h.7m-8.1 6.5h.7m1.9 8h.7m33.5 9.7h.7m-21.7 17.8h.7m15.8-35.1h.7m1.7-18.4h.7m-25 14.1h.7m25.1 34.9h.7m-5.7-44h.7m-36.3 16.3h.7m34.9-25h.7m.8 4.8h.7m-2.6 28.8h.7m1-6.4h.7m3.7 2h.7m-36.4-8.7h.7m1.2 20.1h.7m25.5-32.2h.7m-1.4 33.3h.7m-2.6 9.7h.7m-19.6-36.3h.7m16 38.5h.7m-3.7 4.7h.7m9.6-51.4h.7m-23.7 56.3h.7m-7.4-10.2h.7m27.9-42.6h.7m-5.4 42h.7m-24.4-26.1h.7m14.9 30.1h.7m-13.8-39.9h.7m18.4-6.4h.7m-9.3 5.1h.7m15.6 18.6h.7m18.8 20.7h.7m-17.9-15.1h.7m3.2 3.7h.7m3 10.9h.7m-7.2-6.2h.7m-1.5-5.5h.7m1.4 5.7h.7m-8.5 10.8h.7m-.3-6.5h.7m2.9 11.8h.7m-5.2-19.9h.7m-6.4 16.6h.7m12.2-16.1h.7m7.6 17.3h.7m8.4-14.5h.7m-10 3.4h.7m-13.4-7.8h.7m4.4 2.9h.7m.4-4.3h.7m-10.1 9h.7m-5.8-10.9h.7m9.4 9.4h.7m1.4-10.4h.7m-7.6-2.8h.7m13.8 6.6h.7m-11.5 13.9h.7m-4.2-7.7h.7m13.8 3.4h.7m-9.8 3.7h.7m2.1-12.1h.7m3.4-5h.7m-9 20.9h.7m-7.2-9.7h.7m7-.3h.7m6.8 7.3h.7m-1.9-16.9h.7m-8.7 5.9h.7m11.6-1.9h.7m-20.2 14.2h.7m6.5 2h.7m5.4-4.7h.7m4.8-20.5h.7m-2.9 8.1h.7m-10.6 10.6h.7m4.3-3.3h.7m-6.1-13h.7m12.2 12.5h.7m-3.2 7.8h.7m-.3-12.5h.7m6.6 2.4h.7m-14.2 .5h.7m-5.2 7.1h.7m-.4-12.1h.7m-.6 .8h.7m15.4 12.6h.7m-24-3.3h.7m6.1-9.3h.7m1.4 8.1h.7m-4.8-15h.7m11.5 12h.7m-14.5-2.2h.7m7 0h.7m9.8 6h.7m-7.9-12h.7m-3.8-4.5h.7m.8-2.1h.7m-14.9 4.7h.7m10.3-4.9h.7m18.8 14.1h.7m-17.9-1.3h.7m6.6 14.1h.7m-6.5-16.9h.7m-9-.5h.7m7.6 11h.7m-1-13h.7m-3.9 8.9h.7m11.9-3.4h.7m-14.2 8.9h.7m2.1-7.6h.7m11.7 6.3h.7m-13-8.1h.7m-9-2.5h.7m11.9 14.9h.7m-5.2-22.7h.7m-7.8 3.9h.7m5.7-11.8h.7m3.4 16.8h.7m-14.5-15.7h.7m6 14.8h.7m12 5.1h.7m-10.4-12h.7m-6.2 18.6h.7m14.2-14.1h.7m-6.7 12.1h.7m-8.5-.4h.7m-.2-14.8h.7m7.1 3.1h.7m-11.2 16.2h.7m3.6-8.8h.7m.9 0h.7m-9.5-3.4h.7m5.2 2h.7m-3-3.9h.7m15.5 3.7h.7m-8.3 7.4h.7m-10.4-15.2h.7m1.2 11.3h.7m-7.4-1.1h.7m9.4 .5h.7m-5.7 4.5h.7m8.5-13.4h.7m-15.6-1.2h.7m8.8 16.7h.7m.8-5.3h.7m-4-3.3h.7m8.5 2.4h.7m-11.7 8h.7m-8-14.5h.7m7.1 5.8h.7m-11.1 9.8h.7m4.8 1.8h.7m-6.9-.6h.7m.2 4.5h.7m-5.8 1.5h.7m3.3 .8h.7m-.1-1.9h.7m-11.2-4.7h.7m-.6 3h.7m4 .3h.7m-9.7 1.1h.7m17.9-5.3h.7m0 6.5h.7m-17.2-4.1h.7m6.8-8.4h.7m15.5 18.8h.7m-22.3-10.4h.7m6.7-.4h.7m-1.8 3.5h.7m-.3-4.9h.7m-11.2-3.8h.7m10.7 4.2h.7m9.1 6.6h.7m-15.8 3.4h.7m-6.6-6.1h.7m32.4 1.2h.7m-12.5 3.4h.7m-7.3-.6h.7m-6.4 .9h.7m4.8 3.8h.7m1-16.1h.7m6.3 7.7h.7m-16.2-.5h.7m9.2 3h.7m-11.4-1.9h.7m6-5.2h.7m.4 3.1h.7m-6.4 3.7h.7m.7-.1h.7m-.8 .6h.7m8-3.8h.7m-26.1-1h.7m16.6-.8h.7m-6.3 9.3h.7m5.5-2.3h.7m1.6-12.7h.7m-1.4 5.1h.7m-3.8-2.9h.7m5.2 7.9h.7m-2.1-5.5h.7m-2 7.2h.7m-6.5-4.7h.7m-2 1.9h.7m-1.6-8.5h.7m-1.1 9.4h.7m-8.1-.4h.7m3-2.2h.7m16.9 5.8h.7m-4.8-6.7h.7m-12.4 4.4h.7m12.8-4.6h.7m2.8 4.5h.7m10.4-.4h.7m-16.2-3.3h.7m-2.3-4.7h.7m9.8 8.3h.7m-28.2-7.1h.7m7.2 4.2h.7m11.9 4.1h.7m9.5-2.6h.7m-11.7 .9h.7m4.5-4h.7m-21.7-1.4h.7m7.3 10.6h.7m-1.9-13.7h.7m-9.4 12.5h.7m8.4-7.1h.7m-8.1-3.3h.7m5.8-1.7h.7m4.4-.1h.7m-12.4 3.2h.7m14.2 12.6h.7m-.3-9.5h.7m1.3 2h.7m-4.1 5.2h.7m-11.2-5.8h.7m17.8 1.6h.7m-10.3-8.4h.7m1.5 6.8h.7m-3.7-9.5h.7m-5.3 8.9h.7m-2.9 .9h.7m12.1-2h.7m-8.6 1.3h.7m18.7 1.6h.7m-18.8-8h.7m8.2 .6h.7m-8.3 2h.7m-9.2-4.8h.7m-10.1 9.4h.7m10.4 2.2h.7m-7.3-9h.7m10.1-3.3h.7m-.1 5.9h.7m-.3 .9h.7m3 .9h.7m-8.1 2.8h.7m-.3-.8h.7m-.2 7.6h.7m4.5-13.2h.7m-4.5 1h.7m-2.3-1.3h.7m8.6 5.9h.7m-18.1-6.1h.7m18.8 .7h.7m-15.7 3.8h.7m12.5-.3h.7m-2 3.8h.7m7.4-5.4h.7m-17.5 .3h.7" stroke="#111" stroke-opacity="0.6" stroke-width="0.65" fill="none"/>
<path d="M174.5 230.4C174.68 228.45 175.37 227.52 176.6 226.1C177.83 224.68 179.78 223.13 181.9 221.9C184.02 220.67 186.65 219.67 189.3 218.7C191.95 217.73 195.68 216.72 197.8 216.1C199.92 215.48 201.2 214.03 202 215C202.8 215.97 202.6 219.15 202.6 221.9C202.6 224.65 202.27 228.48 202 231.5C201.73 234.52 201.52 237.18 201 240C200.48 242.82 199.6 245.93 198.9 248.4C198.2 250.87 197.87 252.93 196.8 254.8C195.73 256.67 194.1 258.72 192.5 259.6C190.9 260.48 188.78 260.37 187.2 260.1C185.62 259.83 184.07 259.42 183 258C181.93 256.58 181.52 253.9 180.8 251.6C180.08 249.3 179.58 246.5 178.7 244.2C177.82 241.9 176.2 240.1 175.5 237.8C174.8 235.5 174.32 232.35 174.5 230.4Z" fill="none" stroke="#111" stroke-width="3.4" stroke-linejoin="round"/>
<path d="M203.3 215.8C204.18 213.97 206.78 215.23 208.5 215C210.22 214.77 213.08 213.65 213.6 214.4C214.12 215.15 212.48 217.48 211.6 219.5C210.72 221.52 209.35 224.17 208.3 226.5C207.25 228.83 206.13 231.72 205.3 233.5C204.47 235.28 203.65 238.45 203.3 237.2C202.95 235.95 203.2 229.57 203.2 226C203.2 222.43 202.42 217.63 203.3 215.8Z" fill="none" stroke="#111" stroke-width="3.0" stroke-linejoin="round"/>
<path d="M174.5 230.4C174.68 228.45 175.37 227.52 176.6 226.1C177.83 224.68 179.78 223.13 181.9 221.9C184.02 220.67 186.65 219.67 189.3 218.7C191.95 217.73 195.68 216.72 197.8 216.1C199.92 215.48 201.2 214.03 202 215C202.8 215.97 202.6 219.15 202.6 221.9C202.6 224.65 202.27 228.48 202 231.5C201.73 234.52 201.52 237.18 201 240C200.48 242.82 199.6 245.93 198.9 248.4C198.2 250.87 197.87 252.93 196.8 254.8C195.73 256.67 194.1 258.72 192.5 259.6C190.9 260.48 188.78 260.37 187.2 260.1C185.62 259.83 184.07 259.42 183 258C181.93 256.58 181.52 253.9 180.8 251.6C180.08 249.3 179.58 246.5 178.7 244.2C177.82 241.9 176.2 240.1 175.5 237.8C174.8 235.5 174.32 232.35 174.5 230.4Z" fill="#ececec"/>
<path d="M177 230C177.42 227.25 179.83 225.17 182 223.5C184.17 221.83 187.33 220.92 190 220C192.67 219.08 196.13 218.42 198 218C199.87 217.58 200.67 215.33 201.2 217.5C201.73 219.67 201.48 227.25 201.2 231C200.92 234.75 200.37 237.33 199.5 240C198.63 242.67 197.58 245.58 196 247C194.42 248.42 192.17 248.67 190 248.5C187.83 248.33 184.75 247.42 183 246C181.25 244.58 180.5 242.67 179.5 240C178.5 237.33 176.58 232.75 177 230Z" fill="#cdcdcd" stroke="#8a8a8a" stroke-width="0.5" filter="url(#bl05)"/>
<path d="M194.6 231.8h.7m1.5 7.4h.7m-1.6 1.7h.7m1.3-12h.7m-3.1-3.7h.7m-4 11.8h.7m2.2-.4h.7m4 2.7h.7m-8.6-3h.7m4.2-2.9h.7m-9 1.2h.7m.6-5.3h.7m-5.1 .7h.7m-.5 3.7h.7m13.5-3.2h.7m-7.4 3.8h.7m-1.1 3.2h.7m-2.7-7.3h.7m6.1-7.9h.7m-10.9 5.9h.7m5.7 3.1h.7m3.4 2.8h.7m-14.9-2h.7m7.5 4.1h.7m5.7-14.4h.7m-7.9 10.4h.7m11.9 4.1h.7m-15.7-3.9h.7m-.5 10.9h.7m5.8-6.2h.7m.8 .4h.7m1.8 1.2h.7m-3-15.2h.7m-8.4 9.8h.7m8.3-8.3h.7m-3.8-1.5h.7m-8.3 3.1h.7m-1.2 8.6h.7m13.2-13.3h.7m-9.6 7.7h.7m-4.7-.6h.7m12.2 4.4h.7m-6.5 1.1h.7m-2.7 2.9h.7m12.1-7.4h.7m-12.3-1.1h.7m3.3 12.2h.7m-10-7.7h.7m4.8-8.4h.7m9.6 7.1h.7m-16.1-2.2h.7m4.1-12.3h.7m3.5 13.7h.7m-22.1-2.2h.7m15.4 4.3h.7m1.3 0h.7m-7-4.7h.7m6.2 3h.7m-3.1 3.6h.7m-2.9-7.3h.7m1.4 .1h.7m.7 2.2h.7m2.7-1.2h.7m-9.2-2.9h.7m.2 15.5h.7m-4-6h.7m.7-1.4h.7m-7 6.1h.7m-3.1-18.4h.7m5.3 10.9h.7m3.5-.3h.7m-7.1 3.7h.7m9.6-.3h.7m-9.7-7h.7m1 9h.7m1.6 .9h.7m2.5-8.2h.7m3 5.5h.7m-18.6-7.3h.7m14.5-1.7h.7m2.4 7.7h.7m5.2-8.8h.7m-12.9 8h.7m3.9-6.1h.7m-7.1 13.5h.7m.8-10.8h.7m-.4-4.2h.7m3.1 8.9h.7m-5.4-1.9h.7m6.7 7.3h.7m-3.3-7.5h.7m-7.8-1h.7m9-1.6h.7m-5.6-2.8h.7m2.4 4.9h.7m-3.6 8.4h.7m-7.2-8.9h.7m-1 3h.7m11.6-4.7h.7m-8.3-3.6h.7m-1.5-1.2h.7m6.8 9.9h.7m-8.1-10.6h.7m-.2 5.9h.7m11.3-3.2h.7m-3.5 .1h.7m-3.2-.6h.7m-5.3 9.7h.7m1.3-11.9h.7m-2.9 .3h.7m3 10.5h.7m-4.4-5h.7m-9.6-10.4h.7m20.9 13.6h.7m-8.1-13.8h.7m-10.9 12.8h.7m8 6.3h.7m9.8-7.8h.7m-5.6-6.4h.7m-12.8 10.5h.7m3.1-10.8h.7m3.2 11.8h.7m-4.2-13.2h.7m2.4 7h.7m3.1 3.9h.7m-8.2-9.3h.7m-9.1 11.3h.7m7.2 1.2h.7m3.9-5.7h.7m-9.1 7.1h.7m-3-9.1h.7m5-.4h.7m2.8 .4h.7m-4 7.9h.7m7.9-7.4h.7m-17.9 1.7h.7m3.1 6.7h.7m9.6-7.4h.7m-3.3-.9h.7m.4-2.4h.7m-3.7 4.7h.7m1.8 4.4h.7m-12 5.9h.7m7.7-9.5h.7m3-.7h.7m-5.2-2.2h.7m-1.7-4.3h.7m-3.7 7.6h.7m4.5-7.7h.7m-.3 16h.7m-5.8-17.1h.7m1 9.6h.7m-1.2-5.8h.7m1.9 7.2h.7m-3.7-5.5h.7m7.1-6.6h.7m.9 1.2h.7m-4.1-1.5h.7m11.6-1.5h.7m-16.5 16.3h.7m-1.8-.4h.7m.5-.6h.7m-3.2-5.9h.7m5.8-2.3h.7m-5.6-4.5h.7m2.1-3.1h.7m3.6 8.3h.7m-14.2 5.2h.7m1.5 1.6h.7m8.1 3h.7m1.4 2.6h.7m-8.2-11.5h.7m-1.5-4h.7m1.1 14h.7m1.8-8.3h.7m-3.5-8.5h.7m-.8 4.6h.7m1.6 0h.7m-3.5 1.5h.7m2.2 5.8h.7m-8.1-5.4h.7m16.2 5.1h.7m-9.8-6.6h.7m-2.3-5.8h.7m-2.4 7.1h.7m4.4 10.5h.7m-5.7-9.5h.7m7.3 3.3h.7m-7.2 2h.7m2-7.5h.7m.7 3.2h.7m-4.2-9.5h.7m.1 9.9h.7m4.1-4.9h.7m-1.3 7h.7m-4.1-.9h.7m8.1-17.3h.7m-6.1 14.4h.7m-22 2.9h.7m18.1-.2h.7" stroke="#333" stroke-opacity="0.5" stroke-width="0.65" fill="none"/>
<path d="M180.2 230.2C180.53 228 182.47 226.33 184.2 225C185.93 223.67 188.47 222.93 190.6 222.2C192.73 221.47 195.51 220.93 197 220.6C198.49 220.27 199.13 218.47 199.56 220.2C199.99 221.93 199.79 228 199.56 231C199.33 234 198.89 236.07 198.2 238.2C197.51 240.33 196.67 242.67 195.4 243.8C194.13 244.93 192.33 245.13 190.6 245C188.87 244.87 186.4 244.13 185 243C183.6 241.87 183 240.33 182.2 238.2C181.4 236.07 179.87 232.4 180.2 230.2Z" fill="none" stroke="#777" stroke-width="0.45"/>
<path d="M183.4 230.4C183.65 228.75 185.1 227.5 186.4 226.5C187.7 225.5 189.6 224.95 191.2 224.4C192.8 223.85 194.88 223.45 196 223.2C197.12 222.95 197.6 221.6 197.92 222.9C198.24 224.2 198.09 228.75 197.92 231C197.75 233.25 197.42 234.8 196.9 236.4C196.38 238 195.75 239.75 194.8 240.6C193.85 241.45 192.5 241.6 191.2 241.5C189.9 241.4 188.05 240.85 187 240C185.95 239.15 185.5 238 184.9 236.4C184.3 234.8 183.15 232.05 183.4 230.4Z" fill="none" stroke="#777" stroke-width="0.45"/>
<path d="M186.6 230.6C186.77 229.5 187.73 228.67 188.6 228C189.47 227.33 190.73 226.97 191.8 226.6C192.87 226.23 194.25 225.97 195 225.8C195.75 225.63 196.07 224.73 196.28 225.6C196.49 226.47 196.39 229.5 196.28 231C196.17 232.5 195.95 233.53 195.6 234.6C195.25 235.67 194.83 236.83 194.2 237.4C193.57 237.97 192.67 238.07 191.8 238C190.93 237.93 189.7 237.57 189 237C188.3 236.43 188 235.67 187.6 234.6C187.2 233.53 186.43 231.7 186.6 230.6Z" fill="none" stroke="#777" stroke-width="0.45"/>
<ellipse cx="194" cy="229" rx="3" ry="2.2" fill="#222" opacity="0.8" filter="url(#bl05)"/>
<path d="M199,221 L202.3,219 L202.3,236 L199.5,234 Z" fill="#0c0c0c" opacity="0.85" filter="url(#bl05)"/>
<path d="M183,249 Q184,256 188,257 Q192,256 195,252 Q194,249 190,250 Q187,254 186,249 Z" fill="none" stroke="#888" stroke-width="0.5"/>
<path d="M174.5 230.4C174.68 228.45 175.37 227.52 176.6 226.1C177.83 224.68 179.78 223.13 181.9 221.9C184.02 220.67 186.65 219.67 189.3 218.7C191.95 217.73 195.68 216.72 197.8 216.1C199.92 215.48 201.2 214.03 202 215C202.8 215.97 202.6 219.15 202.6 221.9C202.6 224.65 202.27 228.48 202 231.5C201.73 234.52 201.52 237.18 201 240C200.48 242.82 199.6 245.93 198.9 248.4C198.2 250.87 197.87 252.93 196.8 254.8C195.73 256.67 194.1 258.72 192.5 259.6C190.9 260.48 188.78 260.37 187.2 260.1C185.62 259.83 184.07 259.42 183 258C181.93 256.58 181.52 253.9 180.8 251.6C180.08 249.3 179.58 246.5 178.7 244.2C177.82 241.9 176.2 240.1 175.5 237.8C174.8 235.5 174.32 232.35 174.5 230.4Z" fill="none" stroke="#fff" stroke-width="1.0"/>
<path d="M203.3 215.8C204.18 213.97 206.78 215.23 208.5 215C210.22 214.77 213.08 213.65 213.6 214.4C214.12 215.15 212.48 217.48 211.6 219.5C210.72 221.52 209.35 224.17 208.3 226.5C207.25 228.83 206.13 231.72 205.3 233.5C204.47 235.28 203.65 238.45 203.3 237.2C202.95 235.95 203.2 229.57 203.2 226C203.2 222.43 202.42 217.63 203.3 215.8Z" fill="#dcdcdc" stroke="#fff" stroke-width="1.0"/>
</g>
<rect x="202.6" y="206.6" width="37" height="38.2" fill="none" stroke="#1a1a1a" stroke-width="0.9"/>
<text x="182.9" y="204" font-size="7.2" textLength="17.3" lengthAdjust="spacingAndGlyphs" stroke="#231f20" stroke-width="0.24">6.898</text>
<line x1="307.2" y1="24" x2="307.2" y2="111.7" stroke="#231f20" stroke-width="1.25"/>
<line x1="304.4" y1="111.2" x2="477.5" y2="111.2" stroke="#231f20" stroke-width="1.25"/>
<line x1="304.3" y1="111.2" x2="307.2" y2="111.2" stroke="#231f20" stroke-width="1.1"/>
<text x="0" y="0" font-size="8" text-anchor="end" transform="translate(301 114.2) scale(0.88 1)" stroke="#231f20" stroke-width="0.24">0</text>
<line x1="304.3" y1="94.3" x2="307.2" y2="94.3" stroke="#231f20" stroke-width="1.1"/>
<text x="0" y="0" font-size="8" text-anchor="end" transform="translate(301 97.3) scale(0.88 1)" stroke="#231f20" stroke-width="0.24">20</text>
<line x1="304.3" y1="77.4" x2="307.2" y2="77.4" stroke="#231f20" stroke-width="1.1"/>
<text x="0" y="0" font-size="8" text-anchor="end" transform="translate(301 80.4) scale(0.88 1)" stroke="#231f20" stroke-width="0.24">40</text>
<line x1="304.3" y1="60.5" x2="307.2" y2="60.5" stroke="#231f20" stroke-width="1.1"/>
<text x="0" y="0" font-size="8" text-anchor="end" transform="translate(301 63.5) scale(0.88 1)" stroke="#231f20" stroke-width="0.24">60</text>
<line x1="304.3" y1="43.6" x2="307.2" y2="43.6" stroke="#231f20" stroke-width="1.1"/>
<text x="0" y="0" font-size="8" text-anchor="end" transform="translate(301 46.6) scale(0.88 1)" stroke="#231f20" stroke-width="0.24">80</text>
<line x1="304.3" y1="26.7" x2="307.2" y2="26.7" stroke="#231f20" stroke-width="1.1"/>
<text x="0" y="0" font-size="8" text-anchor="end" transform="translate(301 29.7) scale(0.88 1)" stroke="#231f20" stroke-width="0.24">100</text>
<text x="280.4" y="67.7" font-size="8.4" text-anchor="middle" textLength="59.5" lengthAdjust="spacingAndGlyphs" transform="rotate(-90 280.4 67.7)" stroke="#231f20" stroke-width="0.24">% ROR&#947;t<tspan font-size="5.8" dy="-2.4">+</tspan><tspan dy="2.4"> cells</tspan></text>
<circle cx="312.1" cy="31.5" r="1.6" fill="#a3192f"/>
<text x="316.6" y="34.3" font-size="7.4" textLength="13" lengthAdjust="spacingAndGlyphs" stroke="#231f20" stroke-width="0.24">D30</text>
<rect x="310.6" y="42.2" width="3" height="3" fill="#2d4f7f"/>
<text x="316.6" y="46.5" font-size="7.4" textLength="17.2" lengthAdjust="spacingAndGlyphs" stroke="#231f20" stroke-width="0.24">D180</text>
<line x1="324.2" y1="111.2" x2="324.2" y2="114.6" stroke="#231f20" stroke-width="0.9"/>
<line x1="358.4" y1="111.2" x2="358.4" y2="114.6" stroke="#231f20" stroke-width="0.9"/>
<line x1="392.5" y1="111.2" x2="392.5" y2="114.6" stroke="#231f20" stroke-width="0.9"/>
<line x1="426.5" y1="111.2" x2="426.5" y2="114.6" stroke="#231f20" stroke-width="0.9"/>
<line x1="460.5" y1="111.2" x2="460.5" y2="114.6" stroke="#231f20" stroke-width="0.9"/>
<path d="M311.4 111.2V101.23H322.8V111.2" fill="none" stroke="#bb4d61" stroke-width="0.9"/>
<path d="M325.9 111.2V99.29H336.8V111.2" fill="none" stroke="#5873a0" stroke-width="0.9"/>
<path d="M345.6 111.2V98.19H357V111.2" fill="none" stroke="#bb4d61" stroke-width="0.9"/>
<path d="M360.1 111.2V97.51H371V111.2" fill="none" stroke="#5873a0" stroke-width="0.9"/>
<path d="M379.7 111.2V58.47H391.1V111.2" fill="none" stroke="#bb4d61" stroke-width="0.9"/>
<path d="M394.2 111.2V61.51H405.1V111.2" fill="none" stroke="#5873a0" stroke-width="0.9"/>
<path d="M413.7 111.2V86.19H425.1V111.2" fill="none" stroke="#bb4d61" stroke-width="0.9"/>
<path d="M428.2 111.2V91.34H439.1V111.2" fill="none" stroke="#5873a0" stroke-width="0.9"/>
<path d="M447.7 111.2V103.59H459.1V111.2" fill="none" stroke="#bb4d61" stroke-width="0.9"/>
<path d="M462.2 111.2V103.09H473.1V111.2" fill="none" stroke="#5873a0" stroke-width="0.9"/>
<circle cx="316.9" cy="80" r="1.75" fill="#a3192f"/>
<circle cx="316.9" cy="89.6" r="1.75" fill="#a3192f"/>
<circle cx="319.6" cy="92.9" r="1.75" fill="#a3192f"/>
<circle cx="311.9" cy="96.9" r="1.75" fill="#a3192f"/>
<circle cx="314.6" cy="98.9" r="1.75" fill="#a3192f"/>
<circle cx="312.8" cy="101.6" r="1.75" fill="#a3192f"/>
<circle cx="315.8" cy="101.8" r="1.75" fill="#a3192f"/>
<circle cx="318.8" cy="101.6" r="1.75" fill="#a3192f"/>
<circle cx="321.5" cy="101.8" r="1.75" fill="#a3192f"/>
<circle cx="313.6" cy="104.3" r="1.75" fill="#a3192f"/>
<circle cx="316.6" cy="104.6" r="1.75" fill="#a3192f"/>
<circle cx="319.6" cy="104.3" r="1.75" fill="#a3192f"/>
<circle cx="314.8" cy="106.9" r="1.75" fill="#a3192f"/>
<circle cx="317.4" cy="107.2" r="1.75" fill="#a3192f"/>
<circle cx="319.8" cy="106.9" r="1.75" fill="#a3192f"/>
<circle cx="316" cy="109.3" r="1.75" fill="#a3192f"/>
<circle cx="318.2" cy="109.3" r="1.75" fill="#a3192f"/>
<circle cx="351.1" cy="75.3" r="1.75" fill="#a3192f"/>
<circle cx="351.1" cy="83.2" r="1.75" fill="#a3192f"/>
<circle cx="348" cy="91.4" r="1.75" fill="#a3192f"/>
<circle cx="354.4" cy="93.3" r="1.75" fill="#a3192f"/>
<circle cx="351.2" cy="94.6" r="1.75" fill="#a3192f"/>
<circle cx="347.2" cy="98" r="1.75" fill="#a3192f"/>
<circle cx="350" cy="97.3" r="1.75" fill="#a3192f"/>
<circle cx="352.8" cy="97.8" r="1.75" fill="#a3192f"/>
<circle cx="355.3" cy="98.4" r="1.75" fill="#a3192f"/>
<circle cx="347" cy="101" r="1.75" fill="#a3192f"/>
<circle cx="355" cy="101.2" r="1.75" fill="#a3192f"/>
<circle cx="349.6" cy="101.2" r="1.75" fill="#a3192f"/>
<circle cx="351.5" cy="104.6" r="1.75" fill="#a3192f"/>
<circle cx="348.6" cy="104" r="1.75" fill="#a3192f"/>
<circle cx="354.2" cy="104.2" r="1.75" fill="#a3192f"/>
<circle cx="347.8" cy="107.6" r="1.75" fill="#a3192f"/>
<circle cx="350.6" cy="108.2" r="1.75" fill="#a3192f"/>
<circle cx="353.6" cy="107.6" r="1.75" fill="#a3192f"/>
<circle cx="349.5" cy="109.8" r="1.75" fill="#a3192f"/>
<circle cx="352.5" cy="109.6" r="1.75" fill="#a3192f"/>
<circle cx="385.1" cy="36.6" r="1.75" fill="#a3192f"/>
<circle cx="382" cy="48.6" r="1.75" fill="#a3192f"/>
<circle cx="388.4" cy="48.6" r="1.75" fill="#a3192f"/>
<circle cx="385.1" cy="51.1" r="1.75" fill="#a3192f"/>
<circle cx="382.7" cy="53.2" r="1.75" fill="#a3192f"/>
<circle cx="387.7" cy="54.2" r="1.75" fill="#a3192f"/>
<circle cx="384.9" cy="56.1" r="1.75" fill="#a3192f"/>
<circle cx="382" cy="58.5" r="1.75" fill="#a3192f"/>
<circle cx="388" cy="58.5" r="1.75" fill="#a3192f"/>
<circle cx="385.1" cy="60.3" r="1.75" fill="#a3192f"/>
<circle cx="389.1" cy="59.9" r="1.75" fill="#a3192f"/>
<circle cx="385.1" cy="62.7" r="1.75" fill="#a3192f"/>
<circle cx="385.1" cy="69.2" r="1.75" fill="#a3192f"/>
<circle cx="385.1" cy="85.2" r="1.75" fill="#a3192f"/>
<circle cx="419.7" cy="43.6" r="1.75" fill="#a3192f"/>
<circle cx="419.7" cy="48.9" r="1.75" fill="#a3192f"/>
<circle cx="416.6" cy="68.1" r="1.75" fill="#a3192f"/>
<circle cx="421.9" cy="69.2" r="1.75" fill="#a3192f"/>
<circle cx="419.7" cy="76.3" r="1.75" fill="#a3192f"/>
<circle cx="416.6" cy="84.7" r="1.75" fill="#a3192f"/>
<circle cx="424.6" cy="87.7" r="1.75" fill="#a3192f"/>
<circle cx="421.9" cy="90" r="1.75" fill="#a3192f"/>
<circle cx="414" cy="94.3" r="1.75" fill="#a3192f"/>
<circle cx="417.3" cy="99.6" r="1.75" fill="#a3192f"/>
<circle cx="421.2" cy="101" r="1.75" fill="#a3192f"/>
<circle cx="420.6" cy="104.1" r="1.75" fill="#a3192f"/>
<circle cx="416.6" cy="111" r="1.75" fill="#a3192f"/>
<circle cx="421.9" cy="111" r="1.75" fill="#a3192f"/>
<circle cx="453.7" cy="89" r="1.75" fill="#a3192f"/>
<circle cx="451.4" cy="97.6" r="1.75" fill="#a3192f"/>
<circle cx="453.7" cy="96.6" r="1.75" fill="#a3192f"/>
<circle cx="456" cy="97.6" r="1.75" fill="#a3192f"/>
<circle cx="449.6" cy="100.2" r="1.75" fill="#a3192f"/>
<circle cx="457.8" cy="100.2" r="1.75" fill="#a3192f"/>
<circle cx="449.8" cy="103" r="1.75" fill="#a3192f"/>
<circle cx="457.5" cy="103" r="1.75" fill="#a3192f"/>
<circle cx="451.2" cy="105.6" r="1.75" fill="#a3192f"/>
<circle cx="456.3" cy="105.6" r="1.75" fill="#a3192f"/>
<circle cx="453.7" cy="104.2" r="1.75" fill="#a3192f"/>
<circle cx="452.2" cy="108.2" r="1.75" fill="#a3192f"/>
<circle cx="455.3" cy="108.2" r="1.75" fill="#a3192f"/>
<circle cx="453.7" cy="110" r="1.75" fill="#a3192f"/>
<rect x="329.85" y="78.35" width="3.3" height="3.3" fill="#2d4f7f"/>
<rect x="326.75" y="93.35" width="3.3" height="3.3" fill="#2d4f7f"/>
<rect x="332.95" y="93.35" width="3.3" height="3.3" fill="#2d4f7f"/>
<rect x="327.35" y="96.15" width="3.3" height="3.3" fill="#2d4f7f"/>
<rect x="330.35" y="96.55" width="3.3" height="3.3" fill="#2d4f7f"/>
<rect x="333.35" y="96.15" width="3.3" height="3.3" fill="#2d4f7f"/>
<rect x="326.95" y="98.95" width="3.3" height="3.3" fill="#2d4f7f"/>
<rect x="329.65" y="99.35" width="3.3" height="3.3" fill="#2d4f7f"/>
<rect x="332.35" y="98.95" width="3.3" height="3.3" fill="#2d4f7f"/>
<rect x="334.75" y="99.35" width="3.3" height="3.3" fill="#2d4f7f"/>
<rect x="328.35" y="101.95" width="3.3" height="3.3" fill="#2d4f7f"/>
<rect x="331.05" y="102.35" width="3.3" height="3.3" fill="#2d4f7f"/>
<rect x="333.55" y="101.95" width="3.3" height="3.3" fill="#2d4f7f"/>
<rect x="329.35" y="104.65" width="3.3" height="3.3" fill="#2d4f7f"/>
<rect x="332.15" y="104.65" width="3.3" height="3.3" fill="#2d4f7f"/>
<rect x="330.85" y="106.65" width="3.3" height="3.3" fill="#2d4f7f"/>
<rect x="363.65" y="81.55" width="3.3" height="3.3" fill="#2d4f7f"/>
<rect x="366.75" y="89.75" width="3.3" height="3.3" fill="#2d4f7f"/>
<rect x="360.75" y="91.95" width="3.3" height="3.3" fill="#2d4f7f"/>
<rect x="363.35" y="92.95" width="3.3" height="3.3" fill="#2d4f7f"/>
<rect x="360.15" y="94.95" width="3.3" height="3.3" fill="#2d4f7f"/>
<rect x="362.95" y="95.55" width="3.3" height="3.3" fill="#2d4f7f"/>
<rect x="365.75" y="94.95" width="3.3" height="3.3" fill="#2d4f7f"/>
<rect x="368.35" y="95.15" width="3.3" height="3.3" fill="#2d4f7f"/>
<rect x="360.95" y="97.95" width="3.3" height="3.3" fill="#2d4f7f"/>
<rect x="367.55" y="98.15" width="3.3" height="3.3" fill="#2d4f7f"/>
<rect x="362.95" y="99.15" width="3.3" height="3.3" fill="#2d4f7f"/>
<rect x="361.95" y="101.15" width="3.3" height="3.3" fill="#2d4f7f"/>
<rect x="364.75" y="101.55" width="3.3" height="3.3" fill="#2d4f7f"/>
<rect x="366.95" y="100.95" width="3.3" height="3.3" fill="#2d4f7f"/>
<rect x="362.95" y="103.75" width="3.3" height="3.3" fill="#2d4f7f"/>
<rect x="365.15" y="103.95" width="3.3" height="3.3" fill="#2d4f7f"/>
<rect x="400.35" y="44.55" width="3.3" height="3.3" fill="#2d4f7f"/>
<rect x="392.35" y="48.75" width="3.3" height="3.3" fill="#2d4f7f"/>
<rect x="395.15" y="49.75" width="3.3" height="3.3" fill="#2d4f7f"/>
<rect x="400.35" y="50.85" width="3.3" height="3.3" fill="#2d4f7f"/>
<rect x="397.95" y="52.95" width="3.3" height="3.3" fill="#2d4f7f"/>
<rect x="400.85" y="55.15" width="3.3" height="3.3" fill="#2d4f7f"/>
<rect x="395.15" y="57.25" width="3.3" height="3.3" fill="#2d4f7f"/>
<rect x="400.85" y="57.95" width="3.3" height="3.3" fill="#2d4f7f"/>
<rect x="393.75" y="60.05" width="3.3" height="3.3" fill="#2d4f7f"/>
<rect x="397.95" y="60.45" width="3.3" height="3.3" fill="#2d4f7f"/>
<rect x="395.15" y="62.15" width="3.3" height="3.3" fill="#2d4f7f"/>
<rect x="401.55" y="61.75" width="3.3" height="3.3" fill="#2d4f7f"/>
<rect x="395.85" y="66.05" width="3.3" height="3.3" fill="#2d4f7f"/>
<rect x="399.35" y="68.05" width="3.3" height="3.3" fill="#2d4f7f"/>
<rect x="397.95" y="87.55" width="3.3" height="3.3" fill="#2d4f7f"/>
<rect x="428.85" y="66.15" width="3.3" height="3.3" fill="#2d4f7f"/>
<rect x="431.75" y="68.05" width="3.3" height="3.3" fill="#2d4f7f"/>
<rect x="434.85" y="67.15" width="3.3" height="3.3" fill="#2d4f7f"/>
<rect x="428.85" y="82.65" width="3.3" height="3.3" fill="#2d4f7f"/>
<rect x="431.75" y="83.45" width="3.3" height="3.3" fill="#2d4f7f"/>
<rect x="434.85" y="81.05" width="3.3" height="3.3" fill="#2d4f7f"/>
<rect x="432.85" y="85.65" width="3.3" height="3.3" fill="#2d4f7f"/>
<rect x="428.85" y="90.05" width="3.3" height="3.3" fill="#2d4f7f"/>
<rect x="434.85" y="90.95" width="3.3" height="3.3" fill="#2d4f7f"/>
<rect x="431.75" y="92.65" width="3.3" height="3.3" fill="#2d4f7f"/>
<rect x="428.85" y="95.65" width="3.3" height="3.3" fill="#2d4f7f"/>
<rect x="434.85" y="94.95" width="3.3" height="3.3" fill="#2d4f7f"/>
<rect x="428.85" y="98.25" width="3.3" height="3.3" fill="#2d4f7f"/>
<rect x="434.85" y="97.95" width="3.3" height="3.3" fill="#2d4f7f"/>
<rect x="431.75" y="100.85" width="3.3" height="3.3" fill="#2d4f7f"/>
<rect x="428.85" y="104.85" width="3.3" height="3.3" fill="#2d4f7f"/>
<rect x="434.85" y="105.15" width="3.3" height="3.3" fill="#2d4f7f"/>
<rect x="431.75" y="109.35" width="3.3" height="3.3" fill="#2d4f7f"/>
<rect x="468.75" y="92.95" width="3.3" height="3.3" fill="#2d4f7f"/>
<rect x="470.35" y="95.35" width="3.3" height="3.3" fill="#2d4f7f"/>
<rect x="463.75" y="94.95" width="3.3" height="3.3" fill="#2d4f7f"/>
<rect x="466.35" y="96.95" width="3.3" height="3.3" fill="#2d4f7f"/>
<rect x="461.95" y="97.95" width="3.3" height="3.3" fill="#2d4f7f"/>
<rect x="464.85" y="99.15" width="3.3" height="3.3" fill="#2d4f7f"/>
<rect x="467.85" y="98.85" width="3.3" height="3.3" fill="#2d4f7f"/>
<rect x="470.55" y="98.75" width="3.3" height="3.3" fill="#2d4f7f"/>
<rect x="462.85" y="101.55" width="3.3" height="3.3" fill="#2d4f7f"/>
<rect x="465.85" y="101.85" width="3.3" height="3.3" fill="#2d4f7f"/>
<rect x="468.85" y="101.55" width="3.3" height="3.3" fill="#2d4f7f"/>
<rect x="463.85" y="104.55" width="3.3" height="3.3" fill="#2d4f7f"/>
<rect x="466.85" y="104.85" width="3.3" height="3.3" fill="#2d4f7f"/>
<rect x="469.55" y="104.35" width="3.3" height="3.3" fill="#2d4f7f"/>
<rect x="465.15" y="107.15" width="3.3" height="3.3" fill="#2d4f7f"/>
<rect x="467.85" y="107.15" width="3.3" height="3.3" fill="#2d4f7f"/>
<path d="M314.1 99.12H320.1M317.1 99.12V103.34M314.1 103.34H320.1" fill="none" stroke="#bb4d61" stroke-width="0.8"/>
<path d="M328.35 97.6H334.35M331.35 97.6V100.98M328.35 100.98H334.35" fill="none" stroke="#5873a0" stroke-width="0.8"/>
<path d="M348.3 95.82H354.3M351.3 95.82V100.55M348.3 100.55H354.3" fill="none" stroke="#bb4d61" stroke-width="0.8"/>
<path d="M362.55 96.16H368.55M365.55 96.16V98.86M362.55 98.86H368.55" fill="none" stroke="#5873a0" stroke-width="0.8"/>
<path d="M382.4 55.51H388.4M385.4 55.51V61.43M382.4 61.43H388.4" fill="none" stroke="#bb4d61" stroke-width="0.8"/>
<path d="M396.65 58.98H402.65M399.65 58.98V64.05M396.65 64.05H402.65" fill="none" stroke="#5873a0" stroke-width="0.8"/>
<path d="M416.4 81.12H422.4M419.4 81.12V91.26M416.4 91.26H422.4" fill="none" stroke="#bb4d61" stroke-width="0.8"/>
<path d="M430.65 87.96H436.65M433.65 87.96V94.72M430.65 94.72H436.65" fill="none" stroke="#5873a0" stroke-width="0.8"/>
<path d="M450.4 102.58H456.4M453.4 102.58V104.61M450.4 104.61H456.4" fill="none" stroke="#bb4d61" stroke-width="0.8"/>
<path d="M464.65 102.07H470.65M467.65 102.07V104.1M464.65 104.1H470.65" fill="none" stroke="#5873a0" stroke-width="0.8"/>
<text x="327.3" y="120.4" font-size="7.2" text-anchor="end" textLength="39.5" lengthAdjust="spacingAndGlyphs" transform="rotate(-45 327.3 120.4)" stroke="#231f20" stroke-width="0.24">CD8<tspan font-size="5.4" dy="-2.2">+</tspan><tspan dy="2.2"> T con</tspan></text>
<text x="361.5" y="120.4" font-size="7.2" text-anchor="end" textLength="39.5" lengthAdjust="spacingAndGlyphs" transform="rotate(-45 361.5 120.4)" stroke="#231f20" stroke-width="0.24">CD4<tspan font-size="5.4" dy="-2.2">+</tspan><tspan dy="2.2"> T con</tspan></text>
<text x="395.6" y="120.4" font-size="7.2" text-anchor="end" textLength="19.5" lengthAdjust="spacingAndGlyphs" transform="rotate(-45 395.6 120.4)" stroke="#231f20" stroke-width="0.24">MAITs</text>
<text x="429.6" y="120.4" font-size="7.2" text-anchor="end" textLength="14" lengthAdjust="spacingAndGlyphs" transform="rotate(-45 429.6 120.4)" stroke="#231f20" stroke-width="0.24">NKT</text>
<text x="463.7" y="120.4" font-size="7.2" text-anchor="end" textLength="30" lengthAdjust="spacingAndGlyphs" transform="rotate(-45 463.7 120.4)" stroke="#231f20" stroke-width="0.24">&#947;&#948; Tcells</text>
<line x1="51" y1="477.5" x2="51" y2="582.4" stroke="#231f20" stroke-width="1.25"/>
<line x1="50.5" y1="581.9" x2="124.2" y2="581.9" stroke="#231f20" stroke-width="1.25"/>
<line x1="48.1" y1="581.9" x2="51" y2="581.9" stroke="#231f20" stroke-width="1.1"/>
<text x="0" y="0" font-size="8.4" text-anchor="end" transform="translate(45.1 584.9) scale(0.85 1)" stroke="#231f20" stroke-width="0.24">0</text>
<line x1="48.1" y1="561.5" x2="51" y2="561.5" stroke="#231f20" stroke-width="1.1"/>
<text x="0" y="0" font-size="8.4" text-anchor="end" transform="translate(45.1 564.5) scale(0.85 1)" stroke="#231f20" stroke-width="0.24">5</text>
<line x1="48.1" y1="541.1" x2="51" y2="541.1" stroke="#231f20" stroke-width="1.1"/>
<text x="0" y="0" font-size="8.4" text-anchor="end" transform="translate(45.1 544.1) scale(0.85 1)" stroke="#231f20" stroke-width="0.24">10</text>
<line x1="48.1" y1="520.7" x2="51" y2="520.7" stroke="#231f20" stroke-width="1.1"/>
<text x="0" y="0" font-size="8.4" text-anchor="end" transform="translate(45.1 523.7) scale(0.85 1)" stroke="#231f20" stroke-width="0.24">15</text>
<line x1="48.1" y1="500.3" x2="51" y2="500.3" stroke="#231f20" stroke-width="1.1"/>
<text x="0" y="0" font-size="8.4" text-anchor="end" transform="translate(45.1 503.3) scale(0.85 1)" stroke="#231f20" stroke-width="0.24">20</text>
<line x1="48.1" y1="479.9" x2="51" y2="479.9" stroke="#231f20" stroke-width="1.1"/>
<text x="0" y="0" font-size="8.4" text-anchor="end" transform="translate(45.1 482.9) scale(0.85 1)" stroke="#231f20" stroke-width="0.24">25</text>
<line x1="69.5" y1="581.9" x2="69.5" y2="585.1" stroke="#231f20" stroke-width="0.9"/>
<line x1="105.6" y1="581.9" x2="105.6" y2="585.1" stroke="#231f20" stroke-width="0.9"/>
<path d="M54.6 581.9V563.13H84.4V581.9" fill="none" stroke="#bb4d61" stroke-width="1.15"/>
<path d="M90.8 581.9V547.63H120.4V581.9" fill="none" stroke="#5873a0" stroke-width="1.15"/>
<circle cx="66.2" cy="531.3" r="1.9" fill="#a3192f"/>
<circle cx="72.5" cy="535.4" r="1.9" fill="#a3192f"/>
<circle cx="69.4" cy="543" r="1.9" fill="#a3192f"/>
<circle cx="69.4" cy="556.3" r="1.9" fill="#a3192f"/>
<circle cx="66.5" cy="564.6" r="1.9" fill="#a3192f"/>
<circle cx="72.7" cy="563.5" r="1.9" fill="#a3192f"/>
<circle cx="58.3" cy="567.3" r="1.9" fill="#a3192f"/>
<circle cx="63.7" cy="569.8" r="1.9" fill="#a3192f"/>
<circle cx="69.4" cy="571.7" r="1.9" fill="#a3192f"/>
<circle cx="75.2" cy="569.2" r="1.9" fill="#a3192f"/>
<circle cx="80.6" cy="566.9" r="1.9" fill="#a3192f"/>
<circle cx="59.8" cy="577.1" r="1.9" fill="#a3192f"/>
<circle cx="66.2" cy="579.8" r="1.9" fill="#a3192f"/>
<circle cx="72.7" cy="577.5" r="1.9" fill="#a3192f"/>
<circle cx="78.7" cy="576.9" r="1.9" fill="#a3192f"/>
<rect x="103.7" y="483.5" width="3.8" height="3.8" fill="#2d4f7f"/>
<rect x="106.6" y="528.1" width="3.8" height="3.8" fill="#2d4f7f"/>
<rect x="100.2" y="531.9" width="3.8" height="3.8" fill="#2d4f7f"/>
<rect x="97.3" y="536.8" width="3.8" height="3.8" fill="#2d4f7f"/>
<rect x="109.8" y="536.4" width="3.8" height="3.8" fill="#2d4f7f"/>
<rect x="103.5" y="541.4" width="3.8" height="3.8" fill="#2d4f7f"/>
<rect x="97.3" y="550.6" width="3.8" height="3.8" fill="#2d4f7f"/>
<rect x="103.7" y="555.1" width="3.8" height="3.8" fill="#2d4f7f"/>
<rect x="109.8" y="551.9" width="3.8" height="3.8" fill="#2d4f7f"/>
<rect x="94.4" y="556.8" width="3.8" height="3.8" fill="#2d4f7f"/>
<rect x="100.8" y="557.3" width="3.8" height="3.8" fill="#2d4f7f"/>
<rect x="112.7" y="556.9" width="3.8" height="3.8" fill="#2d4f7f"/>
<rect x="106.6" y="562.5" width="3.8" height="3.8" fill="#2d4f7f"/>
<rect x="106.6" y="570.4" width="3.8" height="3.8" fill="#2d4f7f"/>
<rect x="100.2" y="573.3" width="3.8" height="3.8" fill="#2d4f7f"/>
<path d="M62 559.2H77M69.5 559.2V566.5M62 566.5H77" fill="none" stroke="#bb4d61" stroke-width="1"/>
<path d="M98.1 541.9H113.1M105.6 541.9V555M98.1 555H113.1" fill="none" stroke="#5873a0" stroke-width="1"/>
<text x="69.5" y="595.8" font-size="7.6" text-anchor="middle" textLength="13.5" lengthAdjust="spacingAndGlyphs" stroke="#231f20" stroke-width="0.24">D30</text>
<text x="105.6" y="595.8" font-size="7.6" text-anchor="middle" textLength="18.3" lengthAdjust="spacingAndGlyphs" stroke="#231f20" stroke-width="0.24">D180</text>
<text x="19.6" y="530" font-size="8.4" text-anchor="middle" textLength="85" lengthAdjust="spacingAndGlyphs" transform="rotate(-90 19.6 530)" stroke="#231f20" stroke-width="0.24">% ROR&#947;t<tspan font-size="5.8" dy="-2.4">+</tspan><tspan dy="2.4">CD8</tspan><tspan font-size="5.8" dy="-2.4">+</tspan><tspan dy="2.4"> Tcon</tspan></text>
<text x="30.8" y="530" font-size="8.4" text-anchor="middle" textLength="57" lengthAdjust="spacingAndGlyphs" transform="rotate(-90 30.8 530)" stroke="#231f20" stroke-width="0.24">within CD3<tspan font-size="5.8" dy="-2.4">+</tspan><tspan dy="2.4"> T</tspan></text>
<line x1="66.9" y1="476.7" x2="104" y2="476.7" stroke="#555" stroke-width="1.1"/>
<text x="85.8" y="475.6" font-size="6" text-anchor="middle" stroke="#231f20" stroke-width="0.24">*</text>
<line x1="163.1" y1="477.5" x2="163.1" y2="582.4" stroke="#231f20" stroke-width="1.25"/>
<line x1="162.6" y1="581.9" x2="235.6" y2="581.9" stroke="#231f20" stroke-width="1.25"/>
<line x1="160.2" y1="581.9" x2="163.1" y2="581.9" stroke="#231f20" stroke-width="1.1"/>
<text x="0" y="0" font-size="8.4" text-anchor="end" transform="translate(157.2 584.9) scale(0.85 1)" stroke="#231f20" stroke-width="0.24">0</text>
<line x1="160.2" y1="547.9" x2="163.1" y2="547.9" stroke="#231f20" stroke-width="1.1"/>
<text x="0" y="0" font-size="8.4" text-anchor="end" transform="translate(157.2 550.9) scale(0.85 1)" stroke="#231f20" stroke-width="0.24">1</text>
<line x1="160.2" y1="513.9" x2="163.1" y2="513.9" stroke="#231f20" stroke-width="1.1"/>
<text x="0" y="0" font-size="8.4" text-anchor="end" transform="translate(157.2 516.9) scale(0.85 1)" stroke="#231f20" stroke-width="0.24">2</text>
<line x1="160.2" y1="479.9" x2="163.1" y2="479.9" stroke="#231f20" stroke-width="1.1"/>
<text x="0" y="0" font-size="8.4" text-anchor="end" transform="translate(157.2 482.9) scale(0.85 1)" stroke="#231f20" stroke-width="0.24">3</text>
<line x1="181.05" y1="581.9" x2="181.05" y2="585.1" stroke="#231f20" stroke-width="0.9"/>
<line x1="217" y1="581.9" x2="217" y2="585.1" stroke="#231f20" stroke-width="0.9"/>
<path d="M166.3 581.9V556.4H195.8V581.9" fill="none" stroke="#bb4d61" stroke-width="1.15"/>
<path d="M202.3 581.9V558.1H231.7V581.9" fill="none" stroke="#5873a0" stroke-width="1.15"/>
<circle cx="181.2" cy="498.5" r="1.9" fill="#a3192f"/>
<circle cx="181.2" cy="509.8" r="1.9" fill="#a3192f"/>
<circle cx="172.12" cy="551.54" r="1.9" fill="#a3192f"/>
<circle cx="181.15" cy="552.12" r="1.9" fill="#a3192f"/>
<circle cx="187.5" cy="548.65" r="1.9" fill="#a3192f"/>
<circle cx="175" cy="554.62" r="1.9" fill="#a3192f"/>
<circle cx="187.5" cy="555" r="1.9" fill="#a3192f"/>
<circle cx="181.15" cy="559.42" r="1.9" fill="#a3192f"/>
<circle cx="181.15" cy="566.15" r="1.9" fill="#a3192f"/>
<circle cx="168.85" cy="571.92" r="1.9" fill="#a3192f"/>
<circle cx="174.04" cy="575.58" r="1.9" fill="#a3192f"/>
<circle cx="178.85" cy="578.08" r="1.9" fill="#a3192f"/>
<circle cx="183.65" cy="577.5" r="1.9" fill="#a3192f"/>
<circle cx="188.46" cy="574.04" r="1.9" fill="#a3192f"/>
<circle cx="193.27" cy="571.92" r="1.9" fill="#a3192f"/>
<rect x="215.4" y="508.5" width="3.8" height="3.8" fill="#2d4f7f"/>
<rect x="212.5" y="530" width="3.8" height="3.8" fill="#2d4f7f"/>
<rect x="218.7" y="530.6" width="3.8" height="3.8" fill="#2d4f7f"/>
<rect x="215.4" y="536.9" width="3.8" height="3.8" fill="#2d4f7f"/>
<rect x="215.41" y="553.1" width="3.8" height="3.8" fill="#2d4f7f"/>
<rect x="218.68" y="556.95" width="3.8" height="3.8" fill="#2d4f7f"/>
<rect x="212.52" y="559.45" width="3.8" height="3.8" fill="#2d4f7f"/>
<rect x="206.18" y="564.25" width="3.8" height="3.8" fill="#2d4f7f"/>
<rect x="212.52" y="566.56" width="3.8" height="3.8" fill="#2d4f7f"/>
<rect x="218.68" y="566.56" width="3.8" height="3.8" fill="#2d4f7f"/>
<rect x="224.64" y="565.02" width="3.8" height="3.8" fill="#2d4f7f"/>
<rect x="206.18" y="574.83" width="3.8" height="3.8" fill="#2d4f7f"/>
<rect x="212.52" y="578.48" width="3.8" height="3.8" fill="#2d4f7f"/>
<rect x="218.68" y="576.56" width="3.8" height="3.8" fill="#2d4f7f"/>
<rect x="224.64" y="574.25" width="3.8" height="3.8" fill="#2d4f7f"/>
<path d="M173.55 550.2H188.55M181.05 550.2V562.7M173.55 562.7H188.55" fill="none" stroke="#bb4d61" stroke-width="1"/>
<path d="M209.5 552.7H224.5M217 552.7V563.7M209.5 563.7H224.5" fill="none" stroke="#5873a0" stroke-width="1"/>
<text x="181.05" y="595.8" font-size="7.6" text-anchor="middle" textLength="13.5" lengthAdjust="spacingAndGlyphs" stroke="#231f20" stroke-width="0.24">D30</text>
<text x="217" y="595.8" font-size="7.6" text-anchor="middle" textLength="18.3" lengthAdjust="spacingAndGlyphs" stroke="#231f20" stroke-width="0.24">D180</text>
<text x="138.2" y="531.2" font-size="8.4" text-anchor="middle" textLength="35" lengthAdjust="spacingAndGlyphs" transform="rotate(-90 138.2 531.2)" stroke="#231f20" stroke-width="0.24">% MAITs</text>
<text x="147" y="531.2" font-size="8.4" text-anchor="middle" textLength="55.5" lengthAdjust="spacingAndGlyphs" transform="rotate(-90 147 531.2)" stroke="#231f20" stroke-width="0.24">within CD3<tspan font-size="5.8" dy="-2.4">+</tspan><tspan dy="2.4"> T</tspan></text>
<line x1="280" y1="477.5" x2="280" y2="582.4" stroke="#231f20" stroke-width="1.25"/>
<line x1="279.5" y1="581.9" x2="352.7" y2="581.9" stroke="#231f20" stroke-width="1.25"/>
<line x1="277.1" y1="581.9" x2="280" y2="581.9" stroke="#231f20" stroke-width="1.1"/>
<text x="0" y="0" font-size="8.4" text-anchor="end" transform="translate(274.1 584.9) scale(0.85 1)" stroke="#231f20" stroke-width="0.24">0</text>
<line x1="277.1" y1="556.2" x2="280" y2="556.2" stroke="#231f20" stroke-width="1.1"/>
<text x="0" y="0" font-size="8.4" text-anchor="end" transform="translate(274.1 559.2) scale(0.85 1)" stroke="#231f20" stroke-width="0.24">5</text>
<line x1="277.1" y1="530.5" x2="280" y2="530.5" stroke="#231f20" stroke-width="1.1"/>
<text x="0" y="0" font-size="8.4" text-anchor="end" transform="translate(274.1 533.5) scale(0.85 1)" stroke="#231f20" stroke-width="0.24">10</text>
<line x1="277.1" y1="504.8" x2="280" y2="504.8" stroke="#231f20" stroke-width="1.1"/>
<text x="0" y="0" font-size="8.4" text-anchor="end" transform="translate(274.1 507.8) scale(0.85 1)" stroke="#231f20" stroke-width="0.24">15</text>
<line x1="277.1" y1="479.1" x2="280" y2="479.1" stroke="#231f20" stroke-width="1.1"/>
<text x="0" y="0" font-size="8.4" text-anchor="end" transform="translate(274.1 482.1) scale(0.85 1)" stroke="#231f20" stroke-width="0.24">20</text>
<line x1="298.1" y1="581.9" x2="298.1" y2="585.1" stroke="#231f20" stroke-width="0.9"/>
<line x1="334.2" y1="581.9" x2="334.2" y2="585.1" stroke="#231f20" stroke-width="0.9"/>
<path d="M283.5 581.9V560.31H312.7V581.9" fill="none" stroke="#bb4d61" stroke-width="1.15"/>
<path d="M319.6 581.9V562.37H348.8V581.9" fill="none" stroke="#5873a0" stroke-width="1.15"/>
<circle cx="298.3" cy="533.8" r="1.9" fill="#a3192f"/>
<circle cx="298.27" cy="533.85" r="1.9" fill="#a3192f"/>
<circle cx="295" cy="546.35" r="1.9" fill="#a3192f"/>
<circle cx="301.35" cy="546.35" r="1.9" fill="#a3192f"/>
<circle cx="295" cy="553.08" r="1.9" fill="#a3192f"/>
<circle cx="301.35" cy="555.96" r="1.9" fill="#a3192f"/>
<circle cx="292.12" cy="558.85" r="1.9" fill="#a3192f"/>
<circle cx="304.23" cy="559.42" r="1.9" fill="#a3192f"/>
<circle cx="285.96" cy="565.58" r="1.9" fill="#a3192f"/>
<circle cx="290.77" cy="566.15" r="1.9" fill="#a3192f"/>
<circle cx="298.27" cy="564.23" r="1.9" fill="#a3192f"/>
<circle cx="310.38" cy="566.15" r="1.9" fill="#a3192f"/>
<circle cx="295" cy="570.96" r="1.9" fill="#a3192f"/>
<circle cx="301.35" cy="571.35" r="1.9" fill="#a3192f"/>
<circle cx="298.27" cy="578.08" r="1.9" fill="#a3192f"/>
<rect x="332.5" y="506.6" width="3.8" height="3.8" fill="#2d4f7f"/>
<rect x="332.5" y="528.1" width="3.8" height="3.8" fill="#2d4f7f"/>
<rect x="329.25" y="548.87" width="3.8" height="3.8" fill="#2d4f7f"/>
<rect x="335.41" y="552.72" width="3.8" height="3.8" fill="#2d4f7f"/>
<rect x="332.52" y="558.48" width="3.8" height="3.8" fill="#2d4f7f"/>
<rect x="329.25" y="567.52" width="3.8" height="3.8" fill="#2d4f7f"/>
<rect x="323.87" y="568.87" width="3.8" height="3.8" fill="#2d4f7f"/>
<rect x="332.52" y="568.48" width="3.8" height="3.8" fill="#2d4f7f"/>
<rect x="338.29" y="568.48" width="3.8" height="3.8" fill="#2d4f7f"/>
<rect x="320.98" y="572.33" width="3.8" height="3.8" fill="#2d4f7f"/>
<rect x="326.75" y="573.68" width="3.8" height="3.8" fill="#2d4f7f"/>
<rect x="332.52" y="575.22" width="3.8" height="3.8" fill="#2d4f7f"/>
<rect x="338.29" y="574.25" width="3.8" height="3.8" fill="#2d4f7f"/>
<rect x="344.06" y="564.25" width="3.8" height="3.8" fill="#2d4f7f"/>
<rect x="344.06" y="572.91" width="3.8" height="3.8" fill="#2d4f7f"/>
<path d="M290.6 557H305.6M298.1 557V563M290.6 563H305.6" fill="none" stroke="#bb4d61" stroke-width="1"/>
<path d="M326.7 557.3H341.7M334.2 557.3V566.9M326.7 566.9H341.7" fill="none" stroke="#5873a0" stroke-width="1"/>
<text x="298.1" y="595.8" font-size="7.6" text-anchor="middle" textLength="13.5" lengthAdjust="spacingAndGlyphs" stroke="#231f20" stroke-width="0.24">D30</text>
<text x="334.2" y="595.8" font-size="7.6" text-anchor="middle" textLength="18.3" lengthAdjust="spacingAndGlyphs" stroke="#231f20" stroke-width="0.24">D180</text>
<text x="247.9" y="529.3" font-size="8.4" text-anchor="middle" textLength="45" lengthAdjust="spacingAndGlyphs" transform="rotate(-90 247.9 529.3)" stroke="#231f20" stroke-width="0.24">% &#947;&#948;T cells</text>
<text x="259.6" y="529.3" font-size="8.4" text-anchor="middle" textLength="56.5" lengthAdjust="spacingAndGlyphs" transform="rotate(-90 259.6 529.3)" stroke="#231f20" stroke-width="0.24">within CD3<tspan font-size="5.8" dy="-2.4">+</tspan><tspan dy="2.4"> T</tspan></text>
<rect x="0" y="0" width="520" height="1" fill="#000"/>
<rect x="0" y="601.8" width="520" height="1.2" fill="#000"/>
<rect x="518.8" y="0" width="1.2" height="603" fill="#000"/>
<rect x="0" y="0" width="1" height="603" fill="#474747"/>
<rect x="1" y="0" width="1" height="603" fill="#9a9a9a"/>
</svg>
</body></html>
